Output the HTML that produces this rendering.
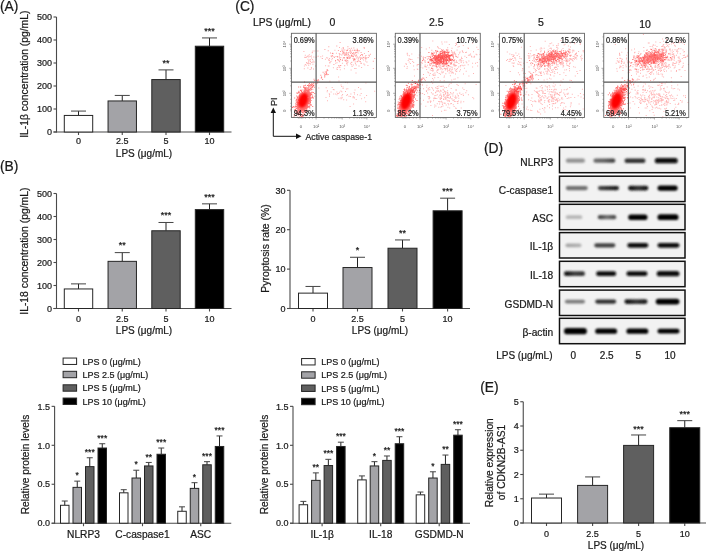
<!DOCTYPE html>
<html><head><meta charset="utf-8"><style>
html,body{margin:0;padding:0;background:#fff;}
svg{display:block;font-family:"Liberation Sans", sans-serif;filter:blur(0.3px);}
text{stroke:#1a1a1a;stroke-width:0.22px;}
</style></head><body>
<svg width="709" height="552" viewBox="0 0 709 552">
<rect width="709" height="552" fill="#fff"/>
<text x="0.00" y="10.90" font-size="13.8" text-anchor="start" fill="#1a1a1a" >(A)</text>
<line x1="56.50" y1="17.00" x2="56.50" y2="132.50" stroke="#4a4a4a" stroke-width="1.1"/>
<line x1="53.50" y1="132.00" x2="56.50" y2="132.00" stroke="#4a4a4a" stroke-width="1.1"/>
<text x="52.00" y="135.24" font-size="9" text-anchor="end" fill="#1a1a1a" >0</text>
<line x1="53.50" y1="109.00" x2="56.50" y2="109.00" stroke="#4a4a4a" stroke-width="1.1"/>
<text x="52.00" y="112.24" font-size="9" text-anchor="end" fill="#1a1a1a" >100</text>
<line x1="53.50" y1="86.00" x2="56.50" y2="86.00" stroke="#4a4a4a" stroke-width="1.1"/>
<text x="52.00" y="89.24" font-size="9" text-anchor="end" fill="#1a1a1a" >200</text>
<line x1="53.50" y1="63.00" x2="56.50" y2="63.00" stroke="#4a4a4a" stroke-width="1.1"/>
<text x="52.00" y="66.24" font-size="9" text-anchor="end" fill="#1a1a1a" >300</text>
<line x1="53.50" y1="40.00" x2="56.50" y2="40.00" stroke="#4a4a4a" stroke-width="1.1"/>
<text x="52.00" y="43.24" font-size="9" text-anchor="end" fill="#1a1a1a" >400</text>
<line x1="53.50" y1="17.00" x2="56.50" y2="17.00" stroke="#4a4a4a" stroke-width="1.1"/>
<text x="52.00" y="20.24" font-size="9" text-anchor="end" fill="#1a1a1a" >500</text>
<line x1="53.50" y1="132.00" x2="231.50" y2="132.00" stroke="#4a4a4a" stroke-width="1.1"/>
<line x1="78.50" y1="132.00" x2="78.50" y2="135.00" stroke="#4a4a4a" stroke-width="1.1"/>
<line x1="122.25" y1="132.00" x2="122.25" y2="135.00" stroke="#4a4a4a" stroke-width="1.1"/>
<line x1="166.00" y1="132.00" x2="166.00" y2="135.00" stroke="#4a4a4a" stroke-width="1.1"/>
<line x1="209.50" y1="132.00" x2="209.50" y2="135.00" stroke="#4a4a4a" stroke-width="1.1"/>
<line x1="78.50" y1="111.07" x2="78.50" y2="115.44" stroke="#222" stroke-width="1"/>
<line x1="71.00" y1="111.07" x2="86.00" y2="111.07" stroke="#444" stroke-width="1"/>
<rect x="64.30" y="115.44" width="28.40" height="16.56" fill="#ffffff" stroke="#262626" stroke-width="1" />
<line x1="122.25" y1="95.43" x2="122.25" y2="100.95" stroke="#222" stroke-width="1"/>
<line x1="114.75" y1="95.43" x2="129.75" y2="95.43" stroke="#444" stroke-width="1"/>
<rect x="108.05" y="100.95" width="28.40" height="31.05" fill="#a3a3a7" stroke="#262626" stroke-width="1" />
<line x1="166.00" y1="69.90" x2="166.00" y2="79.56" stroke="#222" stroke-width="1"/>
<line x1="158.50" y1="69.90" x2="173.50" y2="69.90" stroke="#444" stroke-width="1"/>
<rect x="151.80" y="79.56" width="28.40" height="52.44" fill="#5f5f5f" stroke="#262626" stroke-width="1" />
<text x="166.00" y="65.60" font-size="9" text-anchor="middle" fill="#1a1a1a" >**</text>
<line x1="209.50" y1="37.93" x2="209.50" y2="46.21" stroke="#222" stroke-width="1"/>
<line x1="202.00" y1="37.93" x2="217.00" y2="37.93" stroke="#444" stroke-width="1"/>
<rect x="195.30" y="46.21" width="28.40" height="85.79" fill="#000000" stroke="#262626" stroke-width="1" />
<text x="209.50" y="33.63" font-size="9" text-anchor="middle" fill="#1a1a1a" >***</text>
<text x="78.50" y="143.80" font-size="9" text-anchor="middle" fill="#1a1a1a" >0</text>
<text x="122.25" y="143.80" font-size="9" text-anchor="middle" fill="#1a1a1a" >2.5</text>
<text x="166.00" y="143.80" font-size="9" text-anchor="middle" fill="#1a1a1a" >5</text>
<text x="209.50" y="143.80" font-size="9" text-anchor="middle" fill="#1a1a1a" >10</text>
<text x="144.00" y="157.00" font-size="10" text-anchor="middle" fill="#1a1a1a" >LPS (μg/mL)</text>
<text x="0" y="0" font-size="10.35" text-anchor="middle" fill="#1a1a1a" transform="translate(27.70,74.20) rotate(-90)">IL-1β concentration (pg/mL)</text>
<text x="0.00" y="170.70" font-size="13.8" text-anchor="start" fill="#1a1a1a" >(B)</text>
<line x1="56.50" y1="193.50" x2="56.50" y2="309.00" stroke="#4a4a4a" stroke-width="1.1"/>
<line x1="53.50" y1="308.50" x2="56.50" y2="308.50" stroke="#4a4a4a" stroke-width="1.1"/>
<text x="52.00" y="311.74" font-size="9" text-anchor="end" fill="#1a1a1a" >0</text>
<line x1="53.50" y1="285.50" x2="56.50" y2="285.50" stroke="#4a4a4a" stroke-width="1.1"/>
<text x="52.00" y="288.74" font-size="9" text-anchor="end" fill="#1a1a1a" >100</text>
<line x1="53.50" y1="262.50" x2="56.50" y2="262.50" stroke="#4a4a4a" stroke-width="1.1"/>
<text x="52.00" y="265.74" font-size="9" text-anchor="end" fill="#1a1a1a" >200</text>
<line x1="53.50" y1="239.50" x2="56.50" y2="239.50" stroke="#4a4a4a" stroke-width="1.1"/>
<text x="52.00" y="242.74" font-size="9" text-anchor="end" fill="#1a1a1a" >300</text>
<line x1="53.50" y1="216.50" x2="56.50" y2="216.50" stroke="#4a4a4a" stroke-width="1.1"/>
<text x="52.00" y="219.74" font-size="9" text-anchor="end" fill="#1a1a1a" >400</text>
<line x1="53.50" y1="193.50" x2="56.50" y2="193.50" stroke="#4a4a4a" stroke-width="1.1"/>
<text x="52.00" y="196.74" font-size="9" text-anchor="end" fill="#1a1a1a" >500</text>
<line x1="53.50" y1="308.50" x2="231.50" y2="308.50" stroke="#4a4a4a" stroke-width="1.1"/>
<line x1="78.50" y1="308.50" x2="78.50" y2="311.50" stroke="#4a4a4a" stroke-width="1.1"/>
<line x1="122.25" y1="308.50" x2="122.25" y2="311.50" stroke="#4a4a4a" stroke-width="1.1"/>
<line x1="166.00" y1="308.50" x2="166.00" y2="311.50" stroke="#4a4a4a" stroke-width="1.1"/>
<line x1="209.50" y1="308.50" x2="209.50" y2="311.50" stroke="#4a4a4a" stroke-width="1.1"/>
<line x1="78.50" y1="283.89" x2="78.50" y2="288.95" stroke="#222" stroke-width="1"/>
<line x1="71.00" y1="283.89" x2="86.00" y2="283.89" stroke="#444" stroke-width="1"/>
<rect x="64.30" y="288.95" width="28.40" height="19.55" fill="#ffffff" stroke="#262626" stroke-width="1" />
<line x1="122.25" y1="252.61" x2="122.25" y2="261.35" stroke="#222" stroke-width="1"/>
<line x1="114.75" y1="252.61" x2="129.75" y2="252.61" stroke="#444" stroke-width="1"/>
<rect x="108.05" y="261.35" width="28.40" height="47.15" fill="#a3a3a7" stroke="#262626" stroke-width="1" />
<text x="122.25" y="248.31" font-size="9" text-anchor="middle" fill="#1a1a1a" >**</text>
<line x1="166.00" y1="222.48" x2="166.00" y2="230.76" stroke="#222" stroke-width="1"/>
<line x1="158.50" y1="222.48" x2="173.50" y2="222.48" stroke="#444" stroke-width="1"/>
<rect x="151.80" y="230.76" width="28.40" height="77.74" fill="#5f5f5f" stroke="#262626" stroke-width="1" />
<text x="166.00" y="218.18" font-size="9" text-anchor="middle" fill="#1a1a1a" >***</text>
<line x1="209.50" y1="203.85" x2="209.50" y2="209.60" stroke="#222" stroke-width="1"/>
<line x1="202.00" y1="203.85" x2="217.00" y2="203.85" stroke="#444" stroke-width="1"/>
<rect x="195.30" y="209.60" width="28.40" height="98.90" fill="#000000" stroke="#262626" stroke-width="1" />
<text x="209.50" y="199.55" font-size="9" text-anchor="middle" fill="#1a1a1a" >***</text>
<text x="78.50" y="321.80" font-size="9" text-anchor="middle" fill="#1a1a1a" >0</text>
<text x="122.25" y="321.80" font-size="9" text-anchor="middle" fill="#1a1a1a" >2.5</text>
<text x="166.00" y="321.80" font-size="9" text-anchor="middle" fill="#1a1a1a" >5</text>
<text x="209.50" y="321.80" font-size="9" text-anchor="middle" fill="#1a1a1a" >10</text>
<text x="144.00" y="333.50" font-size="10" text-anchor="middle" fill="#1a1a1a" >LPS (μg/mL)</text>
<text x="0" y="0" font-size="10.35" text-anchor="middle" fill="#1a1a1a" transform="translate(27.70,251.20) rotate(-90)">IL-18 concentration (pg/mL)</text>
<line x1="290.00" y1="190.30" x2="290.00" y2="309.00" stroke="#4a4a4a" stroke-width="1.1"/>
<line x1="287.00" y1="308.50" x2="290.00" y2="308.50" stroke="#4a4a4a" stroke-width="1.1"/>
<text x="285.50" y="311.74" font-size="9" text-anchor="end" fill="#1a1a1a" >0</text>
<line x1="287.00" y1="269.10" x2="290.00" y2="269.10" stroke="#4a4a4a" stroke-width="1.1"/>
<text x="285.50" y="272.34" font-size="9" text-anchor="end" fill="#1a1a1a" >10</text>
<line x1="287.00" y1="229.70" x2="290.00" y2="229.70" stroke="#4a4a4a" stroke-width="1.1"/>
<text x="285.50" y="232.94" font-size="9" text-anchor="end" fill="#1a1a1a" >20</text>
<line x1="287.00" y1="190.30" x2="290.00" y2="190.30" stroke="#4a4a4a" stroke-width="1.1"/>
<text x="285.50" y="193.54" font-size="9" text-anchor="end" fill="#1a1a1a" >30</text>
<line x1="287.00" y1="308.50" x2="470.00" y2="308.50" stroke="#4a4a4a" stroke-width="1.1"/>
<line x1="313.00" y1="308.50" x2="313.00" y2="311.50" stroke="#4a4a4a" stroke-width="1.1"/>
<line x1="357.50" y1="308.50" x2="357.50" y2="311.50" stroke="#4a4a4a" stroke-width="1.1"/>
<line x1="402.50" y1="308.50" x2="402.50" y2="311.50" stroke="#4a4a4a" stroke-width="1.1"/>
<line x1="447.60" y1="308.50" x2="447.60" y2="311.50" stroke="#4a4a4a" stroke-width="1.1"/>
<line x1="313.00" y1="286.44" x2="313.00" y2="293.13" stroke="#222" stroke-width="1"/>
<line x1="305.50" y1="286.44" x2="320.50" y2="286.44" stroke="#444" stroke-width="1"/>
<rect x="298.50" y="293.13" width="29.00" height="15.37" fill="#ffffff" stroke="#262626" stroke-width="1" />
<line x1="357.50" y1="257.28" x2="357.50" y2="267.52" stroke="#222" stroke-width="1"/>
<line x1="350.00" y1="257.28" x2="365.00" y2="257.28" stroke="#444" stroke-width="1"/>
<rect x="343.00" y="267.52" width="29.00" height="40.98" fill="#a3a3a7" stroke="#262626" stroke-width="1" />
<text x="357.50" y="252.98" font-size="9" text-anchor="middle" fill="#1a1a1a" >*</text>
<line x1="402.50" y1="239.94" x2="402.50" y2="248.22" stroke="#222" stroke-width="1"/>
<line x1="395.00" y1="239.94" x2="410.00" y2="239.94" stroke="#444" stroke-width="1"/>
<rect x="388.00" y="248.22" width="29.00" height="60.28" fill="#5f5f5f" stroke="#262626" stroke-width="1" />
<text x="402.50" y="235.64" font-size="9" text-anchor="middle" fill="#1a1a1a" >**</text>
<line x1="447.60" y1="198.18" x2="447.60" y2="210.79" stroke="#222" stroke-width="1"/>
<line x1="440.10" y1="198.18" x2="455.10" y2="198.18" stroke="#444" stroke-width="1"/>
<rect x="433.10" y="210.79" width="29.00" height="97.71" fill="#000000" stroke="#262626" stroke-width="1" />
<text x="447.60" y="193.88" font-size="9" text-anchor="middle" fill="#1a1a1a" >***</text>
<text x="313.00" y="321.80" font-size="9" text-anchor="middle" fill="#1a1a1a" >0</text>
<text x="357.50" y="321.80" font-size="9" text-anchor="middle" fill="#1a1a1a" >2.5</text>
<text x="402.50" y="321.80" font-size="9" text-anchor="middle" fill="#1a1a1a" >5</text>
<text x="447.60" y="321.80" font-size="9" text-anchor="middle" fill="#1a1a1a" >10</text>
<text x="380.00" y="333.50" font-size="10" text-anchor="middle" fill="#1a1a1a" >LPS (μg/mL)</text>
<text x="0" y="0" font-size="10.4" text-anchor="middle" fill="#1a1a1a" transform="translate(268.50,248.50) rotate(-90)">Pyroptosis rate (%)</text>
<rect x="63.10" y="358.05" width="13.50" height="6.40" fill="#ffffff" stroke="#262626" stroke-width="1" />
<text x="82.50" y="364.55" font-size="9" text-anchor="start" fill="#1a1a1a" >LPS 0 (μg/mL)</text>
<rect x="63.10" y="371.30" width="13.50" height="6.40" fill="#a3a3a7" stroke="#262626" stroke-width="1" />
<text x="82.50" y="377.80" font-size="9" text-anchor="start" fill="#1a1a1a" >LPS 2.5 (μg/mL)</text>
<rect x="63.10" y="384.80" width="13.50" height="6.40" fill="#5f5f5f" stroke="#262626" stroke-width="1" />
<text x="82.50" y="391.30" font-size="9" text-anchor="start" fill="#1a1a1a" >LPS 5 (μg/mL)</text>
<rect x="63.10" y="398.05" width="13.50" height="6.40" fill="#000000" stroke="#262626" stroke-width="1" />
<text x="82.50" y="404.55" font-size="9" text-anchor="start" fill="#1a1a1a" >LPS 10 (μg/mL)</text>
<rect x="301.60" y="358.55" width="13.50" height="6.40" fill="#ffffff" stroke="#262626" stroke-width="1" />
<text x="321.20" y="365.05" font-size="9" text-anchor="start" fill="#1a1a1a" >LPS 0 (μg/mL)</text>
<rect x="301.60" y="371.80" width="13.50" height="6.40" fill="#a3a3a7" stroke="#262626" stroke-width="1" />
<text x="321.20" y="378.30" font-size="9" text-anchor="start" fill="#1a1a1a" >LPS 2.5 (μg/mL)</text>
<rect x="301.60" y="385.05" width="13.50" height="6.40" fill="#5f5f5f" stroke="#262626" stroke-width="1" />
<text x="321.20" y="391.55" font-size="9" text-anchor="start" fill="#1a1a1a" >LPS 5 (μg/mL)</text>
<rect x="301.60" y="398.30" width="13.50" height="6.40" fill="#000000" stroke="#262626" stroke-width="1" />
<text x="321.20" y="404.80" font-size="9" text-anchor="start" fill="#1a1a1a" >LPS 10 (μg/mL)</text>
<line x1="54.60" y1="406.35" x2="54.60" y2="523.70" stroke="#4a4a4a" stroke-width="1.1"/>
<line x1="51.60" y1="523.20" x2="54.60" y2="523.20" stroke="#4a4a4a" stroke-width="1.1"/>
<text x="50.10" y="526.44" font-size="9" text-anchor="end" fill="#1a1a1a" >0.0</text>
<line x1="51.60" y1="484.25" x2="54.60" y2="484.25" stroke="#4a4a4a" stroke-width="1.1"/>
<text x="50.10" y="487.49" font-size="9" text-anchor="end" fill="#1a1a1a" >0.5</text>
<line x1="51.60" y1="445.30" x2="54.60" y2="445.30" stroke="#4a4a4a" stroke-width="1.1"/>
<text x="50.10" y="448.54" font-size="9" text-anchor="end" fill="#1a1a1a" >1.0</text>
<line x1="51.60" y1="406.35" x2="54.60" y2="406.35" stroke="#4a4a4a" stroke-width="1.1"/>
<text x="50.10" y="409.59" font-size="9" text-anchor="end" fill="#1a1a1a" >1.5</text>
<line x1="51.60" y1="523.20" x2="231.25" y2="523.20" stroke="#4a4a4a" stroke-width="1.1"/>
<line x1="83.50" y1="523.20" x2="83.50" y2="526.20" stroke="#4a4a4a" stroke-width="1.1"/>
<line x1="142.50" y1="523.20" x2="142.50" y2="526.20" stroke="#4a4a4a" stroke-width="1.1"/>
<line x1="200.75" y1="523.20" x2="200.75" y2="526.20" stroke="#4a4a4a" stroke-width="1.1"/>
<line x1="64.75" y1="501.00" x2="64.75" y2="505.28" stroke="#222" stroke-width="1"/>
<line x1="61.75" y1="501.00" x2="67.75" y2="501.00" stroke="#444" stroke-width="1"/>
<rect x="60.50" y="505.28" width="8.50" height="17.92" fill="#ffffff" stroke="#262626" stroke-width="1" />
<line x1="77.25" y1="481.13" x2="77.25" y2="487.37" stroke="#222" stroke-width="1"/>
<line x1="74.25" y1="481.13" x2="80.25" y2="481.13" stroke="#444" stroke-width="1"/>
<rect x="73.00" y="487.37" width="8.50" height="35.83" fill="#a3a3a7" stroke="#262626" stroke-width="1" />
<text x="77.25" y="478.23" font-size="8.5" text-anchor="middle" fill="#1a1a1a" >*</text>
<line x1="89.75" y1="457.76" x2="89.75" y2="466.64" stroke="#222" stroke-width="1"/>
<line x1="86.75" y1="457.76" x2="92.75" y2="457.76" stroke="#444" stroke-width="1"/>
<rect x="85.50" y="466.64" width="8.50" height="56.56" fill="#5f5f5f" stroke="#262626" stroke-width="1" />
<text x="89.75" y="454.86" font-size="8.5" text-anchor="middle" fill="#1a1a1a" >***</text>
<line x1="102.25" y1="443.74" x2="102.25" y2="448.03" stroke="#222" stroke-width="1"/>
<line x1="99.25" y1="443.74" x2="105.25" y2="443.74" stroke="#444" stroke-width="1"/>
<rect x="98.00" y="448.03" width="8.50" height="75.17" fill="#000000" stroke="#262626" stroke-width="1" />
<text x="102.25" y="440.84" font-size="8.5" text-anchor="middle" fill="#1a1a1a" >***</text>
<line x1="123.75" y1="489.70" x2="123.75" y2="492.82" stroke="#222" stroke-width="1"/>
<line x1="120.75" y1="489.70" x2="126.75" y2="489.70" stroke="#444" stroke-width="1"/>
<rect x="119.50" y="492.82" width="8.50" height="30.38" fill="#ffffff" stroke="#262626" stroke-width="1" />
<line x1="136.25" y1="470.23" x2="136.25" y2="478.02" stroke="#222" stroke-width="1"/>
<line x1="133.25" y1="470.23" x2="139.25" y2="470.23" stroke="#444" stroke-width="1"/>
<rect x="132.00" y="478.02" width="8.50" height="45.18" fill="#a3a3a7" stroke="#262626" stroke-width="1" />
<text x="136.25" y="467.33" font-size="8.5" text-anchor="middle" fill="#1a1a1a" >*</text>
<line x1="148.75" y1="462.44" x2="148.75" y2="465.94" stroke="#222" stroke-width="1"/>
<line x1="145.75" y1="462.44" x2="151.75" y2="462.44" stroke="#444" stroke-width="1"/>
<rect x="144.50" y="465.94" width="8.50" height="57.26" fill="#5f5f5f" stroke="#262626" stroke-width="1" />
<text x="148.75" y="459.54" font-size="8.5" text-anchor="middle" fill="#1a1a1a" >**</text>
<line x1="161.25" y1="448.03" x2="161.25" y2="454.26" stroke="#222" stroke-width="1"/>
<line x1="158.25" y1="448.03" x2="164.25" y2="448.03" stroke="#444" stroke-width="1"/>
<rect x="157.00" y="454.26" width="8.50" height="68.94" fill="#000000" stroke="#262626" stroke-width="1" />
<text x="161.25" y="445.13" font-size="8.5" text-anchor="middle" fill="#1a1a1a" >***</text>
<line x1="182.00" y1="506.84" x2="182.00" y2="511.28" stroke="#222" stroke-width="1"/>
<line x1="179.00" y1="506.84" x2="185.00" y2="506.84" stroke="#444" stroke-width="1"/>
<rect x="177.75" y="511.28" width="8.50" height="11.92" fill="#ffffff" stroke="#262626" stroke-width="1" />
<line x1="194.50" y1="482.69" x2="194.50" y2="488.38" stroke="#222" stroke-width="1"/>
<line x1="191.50" y1="482.69" x2="197.50" y2="482.69" stroke="#444" stroke-width="1"/>
<rect x="190.25" y="488.38" width="8.50" height="34.82" fill="#a3a3a7" stroke="#262626" stroke-width="1" />
<text x="194.50" y="479.79" font-size="8.5" text-anchor="middle" fill="#1a1a1a" >*</text>
<line x1="207.00" y1="461.66" x2="207.00" y2="464.78" stroke="#222" stroke-width="1"/>
<line x1="204.00" y1="461.66" x2="210.00" y2="461.66" stroke="#444" stroke-width="1"/>
<rect x="202.75" y="464.78" width="8.50" height="58.43" fill="#5f5f5f" stroke="#262626" stroke-width="1" />
<text x="207.00" y="458.76" font-size="8.5" text-anchor="middle" fill="#1a1a1a" >***</text>
<line x1="219.50" y1="435.95" x2="219.50" y2="446.47" stroke="#222" stroke-width="1"/>
<line x1="216.50" y1="435.95" x2="222.50" y2="435.95" stroke="#444" stroke-width="1"/>
<rect x="215.25" y="446.47" width="8.50" height="76.73" fill="#000000" stroke="#262626" stroke-width="1" />
<text x="219.50" y="433.05" font-size="8.5" text-anchor="middle" fill="#1a1a1a" >***</text>
<text x="83.50" y="538.20" font-size="10.2" text-anchor="middle" fill="#1a1a1a" >NLRP3</text>
<text x="142.50" y="538.20" font-size="10.2" text-anchor="middle" fill="#1a1a1a" >C-caspase1</text>
<text x="200.75" y="538.20" font-size="10.2" text-anchor="middle" fill="#1a1a1a" >ASC</text>
<text x="0" y="0" font-size="10.2" text-anchor="middle" fill="#1a1a1a" transform="translate(28.50,464.50) rotate(-90)">Relative protein levels</text>
<line x1="293.00" y1="406.35" x2="293.00" y2="523.70" stroke="#4a4a4a" stroke-width="1.1"/>
<line x1="290.00" y1="523.20" x2="293.00" y2="523.20" stroke="#4a4a4a" stroke-width="1.1"/>
<text x="288.50" y="526.44" font-size="9" text-anchor="end" fill="#1a1a1a" >0.0</text>
<line x1="290.00" y1="484.25" x2="293.00" y2="484.25" stroke="#4a4a4a" stroke-width="1.1"/>
<text x="288.50" y="487.49" font-size="9" text-anchor="end" fill="#1a1a1a" >0.5</text>
<line x1="290.00" y1="445.30" x2="293.00" y2="445.30" stroke="#4a4a4a" stroke-width="1.1"/>
<text x="288.50" y="448.54" font-size="9" text-anchor="end" fill="#1a1a1a" >1.0</text>
<line x1="290.00" y1="406.35" x2="293.00" y2="406.35" stroke="#4a4a4a" stroke-width="1.1"/>
<text x="288.50" y="409.59" font-size="9" text-anchor="end" fill="#1a1a1a" >1.5</text>
<line x1="290.00" y1="523.20" x2="470.00" y2="523.20" stroke="#4a4a4a" stroke-width="1.1"/>
<line x1="322.10" y1="523.20" x2="322.10" y2="526.20" stroke="#4a4a4a" stroke-width="1.1"/>
<line x1="380.70" y1="523.20" x2="380.70" y2="526.20" stroke="#4a4a4a" stroke-width="1.1"/>
<line x1="439.20" y1="523.20" x2="439.20" y2="526.20" stroke="#4a4a4a" stroke-width="1.1"/>
<line x1="303.35" y1="501.39" x2="303.35" y2="504.74" stroke="#222" stroke-width="1"/>
<line x1="300.35" y1="501.39" x2="306.35" y2="501.39" stroke="#444" stroke-width="1"/>
<rect x="299.10" y="504.74" width="8.50" height="18.46" fill="#ffffff" stroke="#262626" stroke-width="1" />
<line x1="315.85" y1="472.88" x2="315.85" y2="480.36" stroke="#222" stroke-width="1"/>
<line x1="312.85" y1="472.88" x2="318.85" y2="472.88" stroke="#444" stroke-width="1"/>
<rect x="311.60" y="480.36" width="8.50" height="42.85" fill="#a3a3a7" stroke="#262626" stroke-width="1" />
<text x="315.85" y="469.98" font-size="8.5" text-anchor="middle" fill="#1a1a1a" >**</text>
<line x1="328.35" y1="459.32" x2="328.35" y2="465.55" stroke="#222" stroke-width="1"/>
<line x1="325.35" y1="459.32" x2="331.35" y2="459.32" stroke="#444" stroke-width="1"/>
<rect x="324.10" y="465.55" width="8.50" height="57.65" fill="#5f5f5f" stroke="#262626" stroke-width="1" />
<text x="328.35" y="456.42" font-size="8.5" text-anchor="middle" fill="#1a1a1a" >***</text>
<line x1="340.85" y1="442.18" x2="340.85" y2="446.47" stroke="#222" stroke-width="1"/>
<line x1="337.85" y1="442.18" x2="343.85" y2="442.18" stroke="#444" stroke-width="1"/>
<rect x="336.60" y="446.47" width="8.50" height="76.73" fill="#000000" stroke="#262626" stroke-width="1" />
<text x="340.85" y="439.28" font-size="8.5" text-anchor="middle" fill="#1a1a1a" >***</text>
<line x1="361.95" y1="475.91" x2="361.95" y2="479.89" stroke="#222" stroke-width="1"/>
<line x1="358.95" y1="475.91" x2="364.95" y2="475.91" stroke="#444" stroke-width="1"/>
<rect x="357.70" y="479.89" width="8.50" height="43.31" fill="#ffffff" stroke="#262626" stroke-width="1" />
<line x1="374.45" y1="461.66" x2="374.45" y2="465.94" stroke="#222" stroke-width="1"/>
<line x1="371.45" y1="461.66" x2="377.45" y2="461.66" stroke="#444" stroke-width="1"/>
<rect x="370.20" y="465.94" width="8.50" height="57.26" fill="#a3a3a7" stroke="#262626" stroke-width="1" />
<text x="374.45" y="458.76" font-size="8.5" text-anchor="middle" fill="#1a1a1a" >*</text>
<line x1="386.95" y1="455.97" x2="386.95" y2="460.41" stroke="#222" stroke-width="1"/>
<line x1="383.95" y1="455.97" x2="389.95" y2="455.97" stroke="#444" stroke-width="1"/>
<rect x="382.70" y="460.41" width="8.50" height="62.79" fill="#5f5f5f" stroke="#262626" stroke-width="1" />
<text x="386.95" y="453.07" font-size="8.5" text-anchor="middle" fill="#1a1a1a" >**</text>
<line x1="399.45" y1="436.73" x2="399.45" y2="443.74" stroke="#222" stroke-width="1"/>
<line x1="396.45" y1="436.73" x2="402.45" y2="436.73" stroke="#444" stroke-width="1"/>
<rect x="395.20" y="443.74" width="8.50" height="79.46" fill="#000000" stroke="#262626" stroke-width="1" />
<text x="399.45" y="433.83" font-size="8.5" text-anchor="middle" fill="#1a1a1a" >***</text>
<line x1="420.45" y1="492.04" x2="420.45" y2="494.84" stroke="#222" stroke-width="1"/>
<line x1="417.45" y1="492.04" x2="423.45" y2="492.04" stroke="#444" stroke-width="1"/>
<rect x="416.20" y="494.84" width="8.50" height="28.36" fill="#ffffff" stroke="#262626" stroke-width="1" />
<line x1="432.95" y1="471.79" x2="432.95" y2="478.02" stroke="#222" stroke-width="1"/>
<line x1="429.95" y1="471.79" x2="435.95" y2="471.79" stroke="#444" stroke-width="1"/>
<rect x="428.70" y="478.02" width="8.50" height="45.18" fill="#a3a3a7" stroke="#262626" stroke-width="1" />
<text x="432.95" y="468.89" font-size="8.5" text-anchor="middle" fill="#1a1a1a" >*</text>
<line x1="445.45" y1="455.04" x2="445.45" y2="464.39" stroke="#222" stroke-width="1"/>
<line x1="442.45" y1="455.04" x2="448.45" y2="455.04" stroke="#444" stroke-width="1"/>
<rect x="441.20" y="464.39" width="8.50" height="58.81" fill="#5f5f5f" stroke="#262626" stroke-width="1" />
<text x="445.45" y="452.14" font-size="8.5" text-anchor="middle" fill="#1a1a1a" >**</text>
<line x1="457.95" y1="429.72" x2="457.95" y2="435.17" stroke="#222" stroke-width="1"/>
<line x1="454.95" y1="429.72" x2="460.95" y2="429.72" stroke="#444" stroke-width="1"/>
<rect x="453.70" y="435.17" width="8.50" height="88.03" fill="#000000" stroke="#262626" stroke-width="1" />
<text x="457.95" y="426.82" font-size="8.5" text-anchor="middle" fill="#1a1a1a" >***</text>
<text x="322.10" y="538.20" font-size="10.2" text-anchor="middle" fill="#1a1a1a" >IL-1β</text>
<text x="380.70" y="538.20" font-size="10.2" text-anchor="middle" fill="#1a1a1a" >IL-18</text>
<text x="439.20" y="538.20" font-size="10.2" text-anchor="middle" fill="#1a1a1a" >GSDMD-N</text>
<text x="0" y="0" font-size="10.2" text-anchor="middle" fill="#1a1a1a" transform="translate(267.50,464.50) rotate(-90)">Relative protein levels</text>
<text x="480.20" y="392.40" font-size="13.8" text-anchor="start" fill="#1a1a1a" >(E)</text>
<line x1="523.25" y1="401.75" x2="523.25" y2="523.50" stroke="#4a4a4a" stroke-width="1.1"/>
<line x1="520.25" y1="523.00" x2="523.25" y2="523.00" stroke="#4a4a4a" stroke-width="1.1"/>
<text x="518.75" y="526.24" font-size="9" text-anchor="end" fill="#1a1a1a" >0</text>
<line x1="520.25" y1="498.75" x2="523.25" y2="498.75" stroke="#4a4a4a" stroke-width="1.1"/>
<text x="518.75" y="501.99" font-size="9" text-anchor="end" fill="#1a1a1a" >1</text>
<line x1="520.25" y1="474.50" x2="523.25" y2="474.50" stroke="#4a4a4a" stroke-width="1.1"/>
<text x="518.75" y="477.74" font-size="9" text-anchor="end" fill="#1a1a1a" >2</text>
<line x1="520.25" y1="450.25" x2="523.25" y2="450.25" stroke="#4a4a4a" stroke-width="1.1"/>
<text x="518.75" y="453.49" font-size="9" text-anchor="end" fill="#1a1a1a" >3</text>
<line x1="520.25" y1="426.00" x2="523.25" y2="426.00" stroke="#4a4a4a" stroke-width="1.1"/>
<text x="518.75" y="429.24" font-size="9" text-anchor="end" fill="#1a1a1a" >4</text>
<line x1="520.25" y1="401.75" x2="523.25" y2="401.75" stroke="#4a4a4a" stroke-width="1.1"/>
<text x="518.75" y="404.99" font-size="9" text-anchor="end" fill="#1a1a1a" >5</text>
<line x1="520.25" y1="523.00" x2="706.00" y2="523.00" stroke="#4a4a4a" stroke-width="1.1"/>
<line x1="546.50" y1="523.00" x2="546.50" y2="526.00" stroke="#4a4a4a" stroke-width="1.1"/>
<line x1="592.60" y1="523.00" x2="592.60" y2="526.00" stroke="#4a4a4a" stroke-width="1.1"/>
<line x1="638.60" y1="523.00" x2="638.60" y2="526.00" stroke="#4a4a4a" stroke-width="1.1"/>
<line x1="684.75" y1="523.00" x2="684.75" y2="526.00" stroke="#4a4a4a" stroke-width="1.1"/>
<line x1="546.50" y1="494.14" x2="546.50" y2="498.02" stroke="#222" stroke-width="1"/>
<line x1="539.00" y1="494.14" x2="554.00" y2="494.14" stroke="#444" stroke-width="1"/>
<rect x="531.50" y="498.02" width="30.00" height="24.98" fill="#ffffff" stroke="#262626" stroke-width="1" />
<line x1="592.60" y1="476.93" x2="592.60" y2="485.41" stroke="#222" stroke-width="1"/>
<line x1="585.10" y1="476.93" x2="600.10" y2="476.93" stroke="#444" stroke-width="1"/>
<rect x="577.60" y="485.41" width="30.00" height="37.59" fill="#a3a3a7" stroke="#262626" stroke-width="1" />
<line x1="638.60" y1="434.97" x2="638.60" y2="445.40" stroke="#222" stroke-width="1"/>
<line x1="631.10" y1="434.97" x2="646.10" y2="434.97" stroke="#444" stroke-width="1"/>
<rect x="623.60" y="445.40" width="30.00" height="77.60" fill="#5f5f5f" stroke="#262626" stroke-width="1" />
<text x="638.60" y="431.57" font-size="9" text-anchor="middle" fill="#1a1a1a" >***</text>
<line x1="684.75" y1="420.67" x2="684.75" y2="427.70" stroke="#222" stroke-width="1"/>
<line x1="677.25" y1="420.67" x2="692.25" y2="420.67" stroke="#444" stroke-width="1"/>
<rect x="669.75" y="427.70" width="30.00" height="95.30" fill="#000000" stroke="#262626" stroke-width="1" />
<text x="684.75" y="417.27" font-size="9" text-anchor="middle" fill="#1a1a1a" >***</text>
<text x="546.50" y="536.80" font-size="9" text-anchor="middle" fill="#1a1a1a" >0</text>
<text x="592.60" y="536.80" font-size="9" text-anchor="middle" fill="#1a1a1a" >2.5</text>
<text x="638.60" y="536.80" font-size="9" text-anchor="middle" fill="#1a1a1a" >5</text>
<text x="684.75" y="536.80" font-size="9" text-anchor="middle" fill="#1a1a1a" >10</text>
<text x="616.00" y="548.50" font-size="10" text-anchor="middle" fill="#1a1a1a" >LPS (μg/mL)</text>
<text x="0" y="0" font-size="10.2" text-anchor="middle" fill="#1a1a1a" transform="translate(493.00,462.70) rotate(-90)">Relative expression</text>
<text x="0" y="0" font-size="10.2" text-anchor="middle" fill="#1a1a1a" transform="translate(504.50,462.50) rotate(-90)">of CDKN2B-AS1</text>
<text x="484.00" y="152.70" font-size="13.8" text-anchor="start" fill="#1a1a1a" >(D)</text>
<defs><filter id="bl" x="-30%" y="-150%" width="160%" height="400%"><feGaussianBlur stdDeviation="1.2 0.8"/></filter></defs>
<rect x="559.50" y="147.30" width="125.50" height="25.40" fill="#f2f2f2" stroke="#111" stroke-width="1.5" />
<text x="553.20" y="165.50" font-size="10.2" text-anchor="end" fill="#1a1a1a" >NLRP3</text>
<rect x="565.80" y="158.55" width="19.20" height="4.30" rx="2.15" fill="rgb(147,147,147)" filter="url(#bl)"/>
<defs><linearGradient id="g1"><stop offset="0.00" stop-color="rgb(107,107,107)"/><stop offset="0.50" stop-color="rgb(96,96,96)"/><stop offset="1.00" stop-color="rgb(56,56,56)"/></linearGradient></defs>
<rect x="593.40" y="158.55" width="21.90" height="4.30" rx="2.15" fill="url(#g1)" filter="url(#bl)"/>
<rect x="624.50" y="158.40" width="21.00" height="4.60" rx="2.30" fill="rgb(50,50,50)" filter="url(#bl)"/>
<rect x="654.80" y="158.05" width="22.90" height="5.30" rx="2.65" fill="rgb(7,7,7)" filter="url(#bl)"/>
<rect x="559.50" y="176.20" width="125.50" height="25.40" fill="#f2f2f2" stroke="#111" stroke-width="1.5" />
<text x="553.20" y="193.80" font-size="10.2" text-anchor="end" fill="#1a1a1a" >C-caspase1</text>
<rect x="565.80" y="185.95" width="22.00" height="4.30" rx="2.15" fill="rgb(112,112,112)" filter="url(#bl)"/>
<defs><linearGradient id="g2"><stop offset="0.00" stop-color="rgb(71,71,71)"/><stop offset="0.50" stop-color="rgb(45,45,45)"/><stop offset="1.00" stop-color="rgb(20,20,20)"/></linearGradient></defs>
<rect x="597.90" y="185.95" width="21.10" height="4.30" rx="2.15" fill="url(#g2)" filter="url(#bl)"/>
<defs><linearGradient id="g3"><stop offset="0.00" stop-color="rgb(7,7,7)"/><stop offset="0.50" stop-color="rgb(50,50,50)"/><stop offset="1.00" stop-color="rgb(12,12,12)"/></linearGradient></defs>
<rect x="628.20" y="185.70" width="20.10" height="4.80" rx="2.40" fill="url(#g3)" filter="url(#bl)"/>
<rect x="657.50" y="185.45" width="20.20" height="5.30" rx="2.65" fill="rgb(0,0,0)" filter="url(#bl)"/>
<rect x="559.50" y="204.30" width="125.50" height="25.40" fill="#f2f2f2" stroke="#111" stroke-width="1.5" />
<text x="553.20" y="221.90" font-size="10.2" text-anchor="end" fill="#1a1a1a" >ASC</text>
<rect x="565.80" y="215.30" width="16.50" height="3.80" rx="1.90" fill="rgb(183,183,183)" filter="url(#bl)"/>
<defs><linearGradient id="g4"><stop offset="0.00" stop-color="rgb(56,56,56)"/><stop offset="0.50" stop-color="rgb(114,114,114)"/><stop offset="1.00" stop-color="rgb(66,66,66)"/></linearGradient></defs>
<rect x="597.90" y="215.05" width="18.30" height="4.30" rx="2.15" fill="url(#g4)" filter="url(#bl)"/>
<rect x="628.20" y="214.40" width="19.30" height="5.60" rx="2.80" fill="rgb(0,0,0)" filter="url(#bl)"/>
<rect x="657.50" y="214.30" width="21.00" height="5.80" rx="2.90" fill="rgb(0,0,0)" filter="url(#bl)"/>
<rect x="559.50" y="232.60" width="125.50" height="25.40" fill="#f2f2f2" stroke="#111" stroke-width="1.5" />
<text x="553.20" y="250.20" font-size="10.2" text-anchor="end" fill="#1a1a1a" >IL-1β</text>
<defs><linearGradient id="g5"><stop offset="0.00" stop-color="rgb(163,163,163)"/><stop offset="1.00" stop-color="rgb(178,178,178)"/></linearGradient></defs>
<rect x="565.50" y="243.40" width="16.00" height="3.80" rx="1.90" fill="url(#g5)" filter="url(#bl)"/>
<rect x="594.30" y="243.15" width="21.00" height="4.30" rx="2.15" fill="rgb(66,66,66)" filter="url(#bl)"/>
<rect x="627.30" y="242.90" width="21.00" height="4.80" rx="2.40" fill="rgb(17,17,17)" filter="url(#bl)"/>
<rect x="657.50" y="242.90" width="22.00" height="4.80" rx="2.40" fill="rgb(17,17,17)" filter="url(#bl)"/>
<rect x="559.50" y="261.30" width="125.50" height="25.40" fill="#f2f2f2" stroke="#111" stroke-width="1.5" />
<text x="553.20" y="278.90" font-size="10.2" text-anchor="end" fill="#1a1a1a" >IL-18</text>
<defs><linearGradient id="g6"><stop offset="0.00" stop-color="rgb(7,7,7)"/><stop offset="0.50" stop-color="rgb(63,63,63)"/><stop offset="1.00" stop-color="rgb(50,50,50)"/></linearGradient></defs>
<rect x="564.00" y="271.30" width="21.00" height="4.80" rx="2.40" fill="url(#g6)" filter="url(#bl)"/>
<rect x="596.10" y="271.30" width="20.10" height="4.80" rx="2.40" fill="rgb(17,17,17)" filter="url(#bl)"/>
<rect x="626.40" y="271.30" width="21.10" height="4.80" rx="2.40" fill="rgb(17,17,17)" filter="url(#bl)"/>
<rect x="656.70" y="271.05" width="22.80" height="5.30" rx="2.65" fill="rgb(17,17,17)" filter="url(#bl)"/>
<rect x="559.50" y="290.10" width="125.50" height="25.40" fill="#f2f2f2" stroke="#111" stroke-width="1.5" />
<text x="553.20" y="307.70" font-size="10.2" text-anchor="end" fill="#1a1a1a" >GSDMD-N</text>
<rect x="564.90" y="299.70" width="20.10" height="3.80" rx="1.90" fill="rgb(122,122,122)" filter="url(#bl)"/>
<rect x="595.20" y="299.45" width="21.00" height="4.30" rx="2.15" fill="rgb(50,50,50)" filter="url(#bl)"/>
<defs><linearGradient id="g7"><stop offset="0.00" stop-color="rgb(12,12,12)"/><stop offset="0.50" stop-color="rgb(56,56,56)"/><stop offset="1.00" stop-color="rgb(25,25,25)"/></linearGradient></defs>
<rect x="624.50" y="299.20" width="23.00" height="4.80" rx="2.40" fill="url(#g7)" filter="url(#bl)"/>
<rect x="655.70" y="298.70" width="23.80" height="5.80" rx="2.90" fill="rgb(0,0,0)" filter="url(#bl)"/>
<rect x="559.50" y="318.30" width="125.50" height="25.40" fill="#f2f2f2" stroke="#111" stroke-width="1.5" />
<text x="553.20" y="335.90" font-size="10.2" text-anchor="end" fill="#1a1a1a" >β-actin</text>
<rect x="564.00" y="328.10" width="22.90" height="6.20" rx="3.10" fill="rgb(0,0,0)" filter="url(#bl)"/>
<rect x="595.20" y="328.55" width="21.90" height="5.30" rx="2.65" fill="rgb(0,0,0)" filter="url(#bl)"/>
<rect x="626.40" y="328.55" width="21.90" height="5.30" rx="2.65" fill="rgb(0,0,0)" filter="url(#bl)"/>
<rect x="657.50" y="328.80" width="22.00" height="4.80" rx="2.40" fill="rgb(0,0,0)" filter="url(#bl)"/>
<text x="552.50" y="358.50" font-size="10" text-anchor="end" fill="#1a1a1a" >LPS (μg/mL)</text>
<text x="573.40" y="358.50" font-size="10" text-anchor="middle" fill="#1a1a1a" >0</text>
<text x="606.70" y="358.50" font-size="10" text-anchor="middle" fill="#1a1a1a" >2.5</text>
<text x="638.30" y="358.50" font-size="10" text-anchor="middle" fill="#1a1a1a" >5</text>
<text x="670.00" y="358.50" font-size="10" text-anchor="middle" fill="#1a1a1a" >10</text>
<text x="235.30" y="10.60" font-size="13.8" text-anchor="start" fill="#1a1a1a" >(C)</text>
<text x="253.00" y="25.50" font-size="10.3" text-anchor="start" fill="#1a1a1a" >LPS (μg/mL)</text>
<text x="332.40" y="25.50" font-size="10.5" text-anchor="middle" fill="#1a1a1a" >0</text>
<text x="436.20" y="25.50" font-size="10.5" text-anchor="middle" fill="#1a1a1a" >2.5</text>
<text x="541.00" y="25.50" font-size="10.5" text-anchor="middle" fill="#1a1a1a" >5</text>
<text x="645.00" y="28.30" font-size="10.5" text-anchor="middle" fill="#1a1a1a" >10</text>
<defs><filter id="fb" x="-50%" y="-50%" width="200%" height="200%"><feGaussianBlur stdDeviation="1.3"/></filter><filter id="fs" x="0" y="0" width="100%" height="100%"><feGaussianBlur stdDeviation="0.35"/></filter></defs>
<rect x="291.40" y="33.30" width="85.00" height="84.20" fill="#ffffff" />
<g filter="url(#fs)">
<ellipse cx="303.20" cy="100.30" rx="4.59" ry="7.56" fill="#ff0000" filter="url(#fb)" transform="rotate(18 303.20 100.30)"/>
<path d="M306.8 101.9h1v1h-1zM299.3 106.5h1v1h-1zM302.4 98.1h1v1h-1zM301.9 103.4h1v1h-1zM296.7 102.5h1v1h-1zM299.7 108.8h1v1h-1zM301.4 103.9h1v1h-1zM305.2 98.7h1v1h-1zM301.0 104.6h1v1h-1zM305.4 100.2h1v1h-1zM300.9 94.0h1v1h-1zM300.6 101.8h1v1h-1zM304.9 88.9h1v1h-1zM300.9 96.5h1v1h-1zM306.4 92.1h1v1h-1zM300.7 105.0h1v1h-1zM305.8 96.6h1v1h-1zM300.9 103.9h1v1h-1zM304.9 104.4h1v1h-1zM301.4 98.3h1v1h-1zM303.2 102.5h1v1h-1zM297.5 105.1h1v1h-1zM302.3 95.8h1v1h-1zM307.1 90.9h1v1h-1zM300.1 102.5h1v1h-1zM302.6 108.8h1v1h-1zM303.0 104.2h1v1h-1zM297.6 104.2h1v1h-1zM303.6 104.3h1v1h-1zM307.8 90.9h1v1h-1zM305.8 99.7h1v1h-1zM304.1 97.9h1v1h-1zM300.1 101.3h1v1h-1zM301.7 103.5h1v1h-1zM300.8 102.5h1v1h-1zM302.6 106.9h1v1h-1zM305.3 100.0h1v1h-1zM305.5 109.0h1v1h-1zM308.8 92.5h1v1h-1zM302.0 102.8h1v1h-1zM308.7 96.0h1v1h-1zM307.3 93.9h1v1h-1zM296.2 105.9h1v1h-1zM300.3 97.3h1v1h-1zM306.8 103.2h1v1h-1zM294.2 109.7h1v1h-1zM306.3 97.8h1v1h-1zM301.1 109.4h1v1h-1zM305.5 96.5h1v1h-1zM302.7 100.0h1v1h-1zM305.8 96.6h1v1h-1zM302.3 101.9h1v1h-1zM300.2 97.8h1v1h-1zM307.5 98.8h1v1h-1zM299.7 97.8h1v1h-1zM301.9 108.2h1v1h-1zM299.0 112.0h1v1h-1zM300.2 96.3h1v1h-1zM307.4 110.2h1v1h-1zM303.1 95.1h1v1h-1zM299.7 102.7h1v1h-1zM302.8 98.5h1v1h-1zM305.8 102.5h1v1h-1zM305.6 101.3h1v1h-1zM305.0 98.3h1v1h-1zM303.7 87.1h1v1h-1zM300.0 104.1h1v1h-1zM303.5 104.0h1v1h-1zM302.7 108.4h1v1h-1zM300.8 105.8h1v1h-1zM302.7 95.7h1v1h-1zM301.1 96.5h1v1h-1zM304.1 97.2h1v1h-1zM301.8 101.3h1v1h-1zM307.0 89.6h1v1h-1zM305.7 102.6h1v1h-1zM300.3 102.8h1v1h-1zM310.1 98.3h1v1h-1zM306.6 106.3h1v1h-1zM296.6 111.2h1v1h-1zM303.7 102.9h1v1h-1zM303.5 103.9h1v1h-1zM303.3 101.6h1v1h-1zM305.8 91.9h1v1h-1zM305.1 96.3h1v1h-1zM305.8 98.3h1v1h-1zM302.4 105.1h1v1h-1zM302.8 102.1h1v1h-1zM303.7 97.7h1v1h-1zM305.3 98.0h1v1h-1zM304.7 101.0h1v1h-1zM308.3 93.9h1v1h-1zM302.8 95.4h1v1h-1zM302.1 98.6h1v1h-1zM301.0 101.3h1v1h-1zM303.1 93.6h1v1h-1zM300.6 107.6h1v1h-1zM305.6 93.9h1v1h-1zM311.2 93.5h1v1h-1zM307.6 92.4h1v1h-1zM298.2 101.8h1v1h-1zM305.3 103.0h1v1h-1zM302.9 103.1h1v1h-1zM301.7 105.7h1v1h-1zM302.2 102.0h1v1h-1zM299.4 102.8h1v1h-1zM300.2 104.2h1v1h-1zM306.4 94.7h1v1h-1zM302.3 110.6h1v1h-1zM306.2 98.2h1v1h-1zM303.8 97.7h1v1h-1zM296.7 98.5h1v1h-1zM300.0 100.3h1v1h-1zM300.6 95.0h1v1h-1zM303.8 91.0h1v1h-1zM306.0 106.5h1v1h-1zM306.2 101.3h1v1h-1zM298.6 96.9h1v1h-1zM304.1 101.6h1v1h-1zM304.9 98.2h1v1h-1zM299.7 102.6h1v1h-1zM305.6 91.9h1v1h-1zM302.7 98.8h1v1h-1zM305.9 107.5h1v1h-1zM305.9 98.7h1v1h-1zM303.2 106.2h1v1h-1zM300.0 105.7h1v1h-1zM307.2 106.4h1v1h-1zM299.9 104.1h1v1h-1zM305.4 104.9h1v1h-1zM300.9 101.8h1v1h-1zM296.6 107.5h1v1h-1zM302.1 103.1h1v1h-1zM309.0 95.0h1v1h-1zM299.3 101.0h1v1h-1zM300.8 103.2h1v1h-1zM305.2 89.1h1v1h-1zM304.4 102.4h1v1h-1zM303.0 101.3h1v1h-1zM301.7 102.7h1v1h-1zM301.2 106.9h1v1h-1zM304.1 102.5h1v1h-1zM303.4 93.8h1v1h-1zM301.0 109.1h1v1h-1zM304.7 99.1h1v1h-1zM304.9 97.9h1v1h-1zM305.3 96.9h1v1h-1zM310.0 93.0h1v1h-1zM300.0 95.9h1v1h-1zM302.7 98.7h1v1h-1zM299.8 100.0h1v1h-1zM312.2 106.1h1v1h-1zM306.7 93.6h1v1h-1zM304.4 98.8h1v1h-1zM303.8 89.2h1v1h-1zM302.2 102.8h1v1h-1zM297.9 108.6h1v1h-1zM310.7 104.2h1v1h-1zM302.3 95.2h1v1h-1zM303.2 100.1h1v1h-1zM301.8 105.1h1v1h-1zM305.3 96.3h1v1h-1zM301.2 116.1h1v1h-1zM308.5 84.8h1v1h-1zM306.7 96.1h1v1h-1zM308.8 101.3h1v1h-1zM303.7 106.3h1v1h-1zM302.7 101.3h1v1h-1zM306.0 103.5h1v1h-1zM301.2 102.9h1v1h-1zM301.1 107.5h1v1h-1zM301.2 99.1h1v1h-1zM302.6 96.5h1v1h-1zM311.7 85.9h1v1h-1zM301.5 103.2h1v1h-1zM302.2 106.5h1v1h-1zM295.7 99.8h1v1h-1zM305.1 99.6h1v1h-1zM304.9 111.0h1v1h-1zM297.1 107.0h1v1h-1zM309.3 88.8h1v1h-1zM305.8 101.4h1v1h-1zM304.1 99.8h1v1h-1zM307.5 92.5h1v1h-1zM305.1 98.2h1v1h-1zM301.9 102.7h1v1h-1zM302.5 102.0h1v1h-1zM303.0 105.0h1v1h-1zM302.7 96.7h1v1h-1zM299.3 109.8h1v1h-1zM302.2 106.2h1v1h-1zM302.3 96.4h1v1h-1zM303.6 101.2h1v1h-1zM298.5 102.4h1v1h-1zM304.2 96.9h1v1h-1zM293.5 106.7h1v1h-1zM300.8 102.2h1v1h-1zM301.0 102.2h1v1h-1zM306.7 103.9h1v1h-1zM303.6 102.7h1v1h-1zM300.4 101.6h1v1h-1zM301.5 103.1h1v1h-1zM304.8 95.8h1v1h-1zM305.7 99.8h1v1h-1zM301.9 99.5h1v1h-1zM302.9 109.3h1v1h-1zM302.2 107.9h1v1h-1zM302.3 99.3h1v1h-1zM306.3 99.7h1v1h-1zM299.0 99.4h1v1h-1zM299.4 98.7h1v1h-1zM299.6 100.0h1v1h-1zM306.1 93.5h1v1h-1zM298.9 98.2h1v1h-1zM307.5 106.6h1v1h-1zM311.2 94.0h1v1h-1zM303.3 96.0h1v1h-1zM299.6 97.9h1v1h-1zM301.9 108.0h1v1h-1zM304.0 95.9h1v1h-1zM305.4 91.6h1v1h-1zM296.6 103.7h1v1h-1zM304.5 98.0h1v1h-1zM304.7 107.4h1v1h-1zM302.1 97.0h1v1h-1zM301.3 102.4h1v1h-1zM306.8 99.7h1v1h-1zM300.5 109.9h1v1h-1zM305.1 99.8h1v1h-1zM307.0 89.9h1v1h-1zM311.9 96.9h1v1h-1zM302.1 104.4h1v1h-1zM296.8 96.7h1v1h-1zM306.2 105.9h1v1h-1zM306.5 97.0h1v1h-1zM297.5 102.7h1v1h-1zM305.0 106.8h1v1h-1zM302.6 101.5h1v1h-1zM297.4 103.1h1v1h-1zM305.9 101.9h1v1h-1zM308.4 94.5h1v1h-1zM298.4 95.9h1v1h-1zM300.8 98.7h1v1h-1zM299.4 100.9h1v1h-1zM299.0 105.3h1v1h-1zM300.9 101.7h1v1h-1zM307.1 99.7h1v1h-1zM301.7 101.1h1v1h-1zM308.9 94.6h1v1h-1zM300.8 104.0h1v1h-1zM299.9 100.6h1v1h-1zM303.0 93.9h1v1h-1zM303.3 102.5h1v1h-1zM306.7 96.9h1v1h-1zM302.1 104.8h1v1h-1zM300.3 105.7h1v1h-1zM304.7 100.2h1v1h-1zM305.4 100.9h1v1h-1zM309.6 94.8h1v1h-1zM304.4 95.8h1v1h-1zM307.7 93.3h1v1h-1zM303.5 108.4h1v1h-1zM297.3 103.3h1v1h-1zM303.6 95.5h1v1h-1zM308.2 96.3h1v1h-1zM302.8 101.3h1v1h-1zM299.6 102.0h1v1h-1zM302.7 94.4h1v1h-1zM303.1 103.4h1v1h-1zM304.9 104.6h1v1h-1zM304.5 92.3h1v1h-1zM299.2 99.8h1v1h-1zM307.0 98.4h1v1h-1zM303.9 107.5h1v1h-1zM302.5 100.3h1v1h-1zM300.0 105.9h1v1h-1zM306.1 103.5h1v1h-1zM302.3 97.7h1v1h-1zM304.8 100.9h1v1h-1zM302.6 103.1h1v1h-1zM297.7 101.7h1v1h-1zM305.4 95.7h1v1h-1zM301.5 93.8h1v1h-1zM303.2 92.7h1v1h-1zM300.8 98.3h1v1h-1zM307.3 103.3h1v1h-1zM307.0 100.8h1v1h-1zM299.6 100.8h1v1h-1zM301.1 97.9h1v1h-1zM298.5 103.4h1v1h-1zM302.1 108.2h1v1h-1zM309.5 90.0h1v1h-1zM297.9 108.1h1v1h-1zM296.3 103.9h1v1h-1zM298.2 100.0h1v1h-1zM297.4 101.2h1v1h-1zM309.7 86.2h1v1h-1zM296.9 112.3h1v1h-1zM301.8 105.0h1v1h-1zM305.5 99.1h1v1h-1zM296.5 108.1h1v1h-1zM303.0 103.8h1v1h-1zM310.5 94.1h1v1h-1zM296.6 110.1h1v1h-1zM299.8 109.9h1v1h-1zM307.6 100.9h1v1h-1zM303.6 101.9h1v1h-1zM303.6 110.0h1v1h-1zM297.6 103.8h1v1h-1zM309.5 92.8h1v1h-1zM305.5 95.3h1v1h-1zM304.9 94.2h1v1h-1zM310.2 94.9h1v1h-1zM305.0 94.6h1v1h-1zM306.9 100.5h1v1h-1zM306.0 92.4h1v1h-1zM305.1 99.7h1v1h-1zM301.0 102.4h1v1h-1zM301.7 101.2h1v1h-1zM302.0 102.8h1v1h-1zM304.5 96.7h1v1h-1zM308.6 104.6h1v1h-1zM305.0 97.9h1v1h-1zM294.6 106.3h1v1h-1zM303.6 89.5h1v1h-1zM310.0 102.1h1v1h-1zM305.7 103.7h1v1h-1zM297.0 96.6h1v1h-1zM310.7 88.6h1v1h-1zM299.3 100.0h1v1h-1zM296.7 104.9h1v1h-1zM304.8 108.0h1v1h-1zM301.8 95.0h1v1h-1zM298.5 103.8h1v1h-1zM298.2 103.8h1v1h-1zM301.8 104.8h1v1h-1zM301.7 97.0h1v1h-1zM297.6 99.7h1v1h-1zM302.7 98.4h1v1h-1zM298.4 102.8h1v1h-1zM298.8 109.4h1v1h-1zM309.3 95.4h1v1h-1zM299.3 109.3h1v1h-1zM305.1 95.4h1v1h-1zM303.8 96.2h1v1h-1zM301.1 109.3h1v1h-1zM303.8 101.5h1v1h-1zM305.6 100.8h1v1h-1zM300.4 104.8h1v1h-1zM309.5 103.3h1v1h-1zM301.8 102.4h1v1h-1zM299.0 111.6h1v1h-1zM307.3 94.9h1v1h-1zM303.7 94.8h1v1h-1zM302.2 102.0h1v1h-1zM303.3 95.5h1v1h-1zM307.6 98.2h1v1h-1zM303.1 95.8h1v1h-1zM297.5 111.0h1v1h-1zM303.7 109.8h1v1h-1zM299.7 98.0h1v1h-1zM304.1 103.5h1v1h-1zM301.4 105.7h1v1h-1zM304.5 108.3h1v1h-1zM309.2 95.9h1v1h-1zM301.3 100.7h1v1h-1zM308.9 100.4h1v1h-1zM296.3 103.9h1v1h-1zM302.6 100.6h1v1h-1zM302.2 98.8h1v1h-1zM308.5 93.1h1v1h-1zM304.1 94.8h1v1h-1zM302.5 96.2h1v1h-1zM302.7 104.8h1v1h-1zM302.0 95.6h1v1h-1zM306.8 98.7h1v1h-1zM303.6 101.2h1v1h-1zM303.2 98.2h1v1h-1zM297.8 99.6h1v1h-1zM297.8 108.4h1v1h-1zM308.0 98.5h1v1h-1zM302.9 101.6h1v1h-1zM300.2 95.5h1v1h-1zM306.1 102.5h1v1h-1zM308.7 96.7h1v1h-1zM303.5 93.4h1v1h-1zM302.2 103.1h1v1h-1zM299.8 103.4h1v1h-1zM300.3 92.7h1v1h-1zM302.8 92.6h1v1h-1zM307.0 92.8h1v1h-1zM299.2 94.6h1v1h-1zM295.8 113.1h1v1h-1zM309.1 94.6h1v1h-1zM297.7 105.6h1v1h-1zM303.5 91.2h1v1h-1zM300.0 106.2h1v1h-1zM304.8 95.8h1v1h-1zM297.0 105.5h1v1h-1zM300.2 96.8h1v1h-1zM303.7 114.1h1v1h-1zM300.9 105.4h1v1h-1zM296.1 101.8h1v1h-1zM299.0 100.5h1v1h-1zM304.0 92.3h1v1h-1zM305.5 99.0h1v1h-1zM302.5 104.4h1v1h-1zM307.0 95.8h1v1h-1zM306.6 100.8h1v1h-1zM297.6 92.5h1v1h-1zM310.0 99.8h1v1h-1zM301.7 102.7h1v1h-1zM302.8 105.7h1v1h-1zM300.9 102.3h1v1h-1zM303.6 100.9h1v1h-1zM301.5 95.6h1v1h-1zM305.5 102.0h1v1h-1zM303.2 104.4h1v1h-1zM309.2 105.7h1v1h-1zM305.5 102.8h1v1h-1zM299.3 111.1h1v1h-1zM305.5 102.8h1v1h-1zM300.6 109.9h1v1h-1zM302.7 102.4h1v1h-1zM308.7 94.8h1v1h-1zM299.1 97.2h1v1h-1zM298.8 97.8h1v1h-1zM305.3 94.8h1v1h-1zM308.0 96.3h1v1h-1zM306.9 92.5h1v1h-1zM306.0 104.9h1v1h-1zM301.9 105.7h1v1h-1zM302.9 100.7h1v1h-1zM299.1 106.0h1v1h-1zM301.9 103.1h1v1h-1zM302.0 101.4h1v1h-1zM297.0 111.5h1v1h-1zM303.4 102.0h1v1h-1zM303.2 104.2h1v1h-1zM305.0 103.7h1v1h-1zM306.3 92.1h1v1h-1zM306.4 93.8h1v1h-1zM303.0 92.9h1v1h-1zM307.1 101.5h1v1h-1zM302.8 103.9h1v1h-1zM297.8 107.2h1v1h-1zM306.4 88.4h1v1h-1zM307.1 100.1h1v1h-1zM295.2 110.8h1v1h-1zM302.4 115.6h1v1h-1zM302.5 105.4h1v1h-1zM298.4 113.8h1v1h-1zM304.6 97.9h1v1h-1zM307.3 93.3h1v1h-1zM304.3 100.1h1v1h-1zM299.6 101.3h1v1h-1zM297.8 106.6h1v1h-1zM297.1 103.7h1v1h-1zM300.2 101.6h1v1h-1zM301.4 100.0h1v1h-1zM304.7 87.2h1v1h-1zM304.8 101.4h1v1h-1zM300.5 90.2h1v1h-1zM304.4 95.4h1v1h-1zM302.3 96.1h1v1h-1zM304.1 106.1h1v1h-1zM299.1 103.5h1v1h-1zM302.5 100.6h1v1h-1zM308.5 93.4h1v1h-1zM301.7 100.4h1v1h-1zM302.4 109.0h1v1h-1zM304.7 106.3h1v1h-1zM298.3 103.1h1v1h-1zM306.7 99.3h1v1h-1zM304.9 96.2h1v1h-1zM306.3 104.0h1v1h-1zM303.0 108.5h1v1h-1zM306.1 100.3h1v1h-1zM301.7 103.1h1v1h-1zM301.8 108.4h1v1h-1zM308.2 97.5h1v1h-1zM305.3 99.6h1v1h-1zM306.3 92.0h1v1h-1zM302.5 94.2h1v1h-1zM312.9 92.0h1v1h-1zM304.2 99.8h1v1h-1zM300.6 106.3h1v1h-1zM298.5 101.8h1v1h-1zM301.7 101.0h1v1h-1zM302.7 103.3h1v1h-1zM301.0 90.9h1v1h-1zM307.3 95.5h1v1h-1zM303.4 103.1h1v1h-1zM300.1 86.5h1v1h-1zM303.6 96.6h1v1h-1zM305.4 97.4h1v1h-1zM300.3 98.2h1v1h-1zM305.4 95.6h1v1h-1zM302.9 100.7h1v1h-1zM297.8 112.6h1v1h-1zM300.3 100.0h1v1h-1zM305.4 98.9h1v1h-1zM301.6 103.3h1v1h-1zM302.5 102.5h1v1h-1zM298.2 86.6h1v1h-1zM300.7 113.9h1v1h-1zM298.6 98.2h1v1h-1zM309.5 94.6h1v1h-1zM308.0 84.6h1v1h-1zM301.8 105.2h1v1h-1zM301.3 104.3h1v1h-1zM295.5 112.4h1v1h-1zM306.7 93.1h1v1h-1zM300.1 108.1h1v1h-1zM299.6 105.5h1v1h-1zM309.4 95.2h1v1h-1zM304.1 110.5h1v1h-1zM301.0 96.7h1v1h-1zM305.0 93.6h1v1h-1zM303.4 104.0h1v1h-1zM306.7 92.6h1v1h-1zM303.4 100.5h1v1h-1zM302.7 100.0h1v1h-1zM302.3 103.7h1v1h-1zM300.9 100.8h1v1h-1zM302.1 102.4h1v1h-1zM308.9 89.1h1v1h-1zM306.3 99.8h1v1h-1zM303.3 99.3h1v1h-1zM302.7 101.5h1v1h-1zM299.3 96.0h1v1h-1zM295.1 108.9h1v1h-1zM305.7 99.1h1v1h-1zM304.0 103.0h1v1h-1zM305.0 105.8h1v1h-1zM310.5 104.9h1v1h-1zM305.9 94.9h1v1h-1zM302.5 97.8h1v1h-1zM306.6 103.4h1v1h-1zM302.7 95.7h1v1h-1zM303.2 104.8h1v1h-1zM302.0 112.1h1v1h-1zM301.8 101.2h1v1h-1zM302.3 101.3h1v1h-1zM306.0 92.8h1v1h-1zM302.9 99.1h1v1h-1zM308.7 99.6h1v1h-1zM304.3 105.1h1v1h-1zM301.7 95.9h1v1h-1zM304.4 99.0h1v1h-1zM303.4 98.2h1v1h-1zM302.0 105.9h1v1h-1zM304.1 94.4h1v1h-1zM305.0 96.9h1v1h-1zM305.1 93.7h1v1h-1zM301.9 104.1h1v1h-1zM303.4 94.6h1v1h-1zM304.3 101.5h1v1h-1zM301.1 104.8h1v1h-1zM309.8 94.5h1v1h-1zM303.7 102.4h1v1h-1zM299.8 100.9h1v1h-1zM304.6 98.8h1v1h-1zM301.2 106.0h1v1h-1zM308.9 82.9h1v1h-1zM306.0 103.5h1v1h-1zM308.5 106.7h1v1h-1zM303.9 109.5h1v1h-1zM297.5 104.1h1v1h-1zM303.1 105.6h1v1h-1zM305.9 98.0h1v1h-1zM301.1 102.1h1v1h-1zM302.7 99.4h1v1h-1zM301.6 101.1h1v1h-1zM296.9 101.4h1v1h-1zM299.2 97.0h1v1h-1zM305.6 98.2h1v1h-1zM302.9 100.3h1v1h-1zM307.3 102.3h1v1h-1zM307.9 95.1h1v1h-1zM305.0 91.5h1v1h-1zM300.6 100.3h1v1h-1zM304.8 102.2h1v1h-1zM305.4 93.6h1v1h-1zM298.7 96.3h1v1h-1zM301.4 98.5h1v1h-1zM298.1 106.8h1v1h-1zM298.3 109.1h1v1h-1zM300.7 111.5h1v1h-1zM304.5 103.6h1v1h-1zM305.2 106.7h1v1h-1zM298.7 109.5h1v1h-1zM298.5 90.7h1v1h-1zM306.1 98.9h1v1h-1zM302.7 102.5h1v1h-1zM302.2 97.7h1v1h-1zM304.8 99.1h1v1h-1zM308.8 91.3h1v1h-1zM305.8 92.1h1v1h-1zM303.5 96.4h1v1h-1zM302.2 93.4h1v1h-1zM300.7 97.9h1v1h-1zM297.0 113.4h1v1h-1zM303.1 96.1h1v1h-1zM298.7 91.9h1v1h-1zM304.6 99.2h1v1h-1zM306.3 92.0h1v1h-1zM305.6 93.6h1v1h-1zM303.8 102.7h1v1h-1zM300.4 101.9h1v1h-1zM300.2 104.6h1v1h-1zM304.4 102.9h1v1h-1zM300.3 97.3h1v1h-1zM298.9 102.5h1v1h-1zM302.0 94.2h1v1h-1zM301.0 104.7h1v1h-1zM309.8 88.6h1v1h-1zM303.8 113.5h1v1h-1zM304.6 97.2h1v1h-1zM304.6 103.9h1v1h-1zM300.2 99.3h1v1h-1zM303.3 105.0h1v1h-1zM304.9 92.5h1v1h-1zM302.6 101.7h1v1h-1zM304.3 103.9h1v1h-1zM301.8 103.1h1v1h-1zM307.6 93.4h1v1h-1zM305.7 109.9h1v1h-1zM303.2 100.0h1v1h-1zM304.1 109.6h1v1h-1zM304.4 102.8h1v1h-1zM306.3 96.6h1v1h-1zM304.5 95.5h1v1h-1zM302.2 99.1h1v1h-1zM305.3 87.7h1v1h-1zM302.3 102.0h1v1h-1zM305.2 98.5h1v1h-1zM304.1 104.9h1v1h-1zM304.9 95.8h1v1h-1zM301.5 97.5h1v1h-1zM306.0 91.9h1v1h-1zM310.8 97.6h1v1h-1zM302.8 99.4h1v1h-1zM309.1 99.9h1v1h-1zM304.7 94.8h1v1h-1zM304.4 95.8h1v1h-1zM306.2 101.1h1v1h-1zM306.0 92.4h1v1h-1zM298.5 108.6h1v1h-1zM301.1 98.3h1v1h-1zM308.3 85.7h1v1h-1zM299.5 106.2h1v1h-1zM307.7 90.3h1v1h-1zM305.7 101.6h1v1h-1zM300.6 104.9h1v1h-1zM297.5 100.6h1v1h-1zM301.4 106.5h1v1h-1zM303.8 107.2h1v1h-1zM303.4 98.5h1v1h-1zM299.4 93.3h1v1h-1zM303.9 99.6h1v1h-1zM307.3 94.9h1v1h-1zM304.2 101.2h1v1h-1zM300.0 94.2h1v1h-1zM303.2 105.1h1v1h-1zM302.3 99.2h1v1h-1zM303.4 98.5h1v1h-1zM298.8 95.4h1v1h-1zM297.5 103.0h1v1h-1zM303.0 98.0h1v1h-1zM298.3 100.0h1v1h-1zM302.5 107.5h1v1h-1zM305.0 105.7h1v1h-1zM296.3 92.6h1v1h-1zM306.1 103.4h1v1h-1zM299.4 106.1h1v1h-1zM304.2 100.0h1v1h-1zM305.1 89.6h1v1h-1zM308.8 98.3h1v1h-1zM308.8 98.3h1v1h-1zM298.6 98.7h1v1h-1zM296.0 111.5h1v1h-1zM306.6 105.4h1v1h-1zM301.0 96.1h1v1h-1zM301.2 106.1h1v1h-1zM302.8 92.4h1v1h-1zM306.6 99.1h1v1h-1zM305.6 99.4h1v1h-1zM303.2 110.7h1v1h-1zM303.6 109.5h1v1h-1zM309.8 92.7h1v1h-1zM302.2 102.0h1v1h-1zM301.1 92.7h1v1h-1zM305.4 94.2h1v1h-1zM303.4 93.0h1v1h-1zM306.3 97.6h1v1h-1zM303.4 98.5h1v1h-1zM299.6 107.3h1v1h-1zM299.1 102.5h1v1h-1zM302.8 102.2h1v1h-1zM301.6 100.8h1v1h-1zM304.5 94.3h1v1h-1zM307.0 98.8h1v1h-1zM298.1 104.1h1v1h-1zM300.6 103.3h1v1h-1zM301.0 102.3h1v1h-1zM309.0 93.2h1v1h-1zM298.9 101.6h1v1h-1zM305.6 89.3h1v1h-1zM304.6 93.4h1v1h-1zM305.9 105.2h1v1h-1zM307.7 99.7h1v1h-1zM299.6 106.3h1v1h-1zM308.9 92.0h1v1h-1zM308.3 106.0h1v1h-1zM302.4 109.0h1v1h-1zM296.9 108.6h1v1h-1zM302.1 101.1h1v1h-1zM301.2 110.5h1v1h-1zM313.2 84.9h1v1h-1zM307.2 96.1h1v1h-1zM304.9 98.0h1v1h-1zM302.4 104.1h1v1h-1zM309.0 96.5h1v1h-1zM302.3 102.6h1v1h-1zM300.3 103.7h1v1h-1zM300.0 111.0h1v1h-1zM303.4 102.8h1v1h-1zM301.9 94.2h1v1h-1zM303.7 102.0h1v1h-1zM301.7 108.3h1v1h-1zM306.9 95.0h1v1h-1zM304.2 106.0h1v1h-1zM299.2 101.0h1v1h-1zM298.8 106.1h1v1h-1zM297.8 102.0h1v1h-1zM299.5 103.8h1v1h-1zM305.8 108.2h1v1h-1zM297.6 105.7h1v1h-1zM302.8 94.3h1v1h-1zM302.8 104.4h1v1h-1zM303.7 101.6h1v1h-1zM303.8 104.3h1v1h-1zM299.6 109.7h1v1h-1zM297.8 99.6h1v1h-1zM304.0 92.4h1v1h-1zM306.2 94.1h1v1h-1zM299.9 105.7h1v1h-1zM302.8 97.2h1v1h-1zM301.5 100.5h1v1h-1zM303.1 103.0h1v1h-1zM304.6 103.0h1v1h-1zM303.5 100.6h1v1h-1zM299.5 110.0h1v1h-1zM301.7 104.8h1v1h-1zM302.9 97.3h1v1h-1zM304.9 95.8h1v1h-1zM303.3 96.5h1v1h-1zM300.3 106.9h1v1h-1zM301.6 106.8h1v1h-1zM299.8 104.4h1v1h-1zM310.0 103.8h1v1h-1zM304.2 105.9h1v1h-1zM305.0 102.4h1v1h-1zM303.3 93.0h1v1h-1zM304.5 103.5h1v1h-1zM303.5 97.8h1v1h-1zM303.4 98.1h1v1h-1zM301.8 92.2h1v1h-1zM298.6 98.0h1v1h-1zM303.4 94.2h1v1h-1zM306.0 94.7h1v1h-1zM303.9 97.7h1v1h-1zM303.2 93.9h1v1h-1zM303.1 103.4h1v1h-1zM305.1 98.0h1v1h-1zM303.2 101.3h1v1h-1zM298.8 108.5h1v1h-1zM303.5 102.9h1v1h-1zM300.5 97.6h1v1h-1zM302.5 104.2h1v1h-1zM303.1 100.4h1v1h-1zM300.7 99.3h1v1h-1zM297.7 99.8h1v1h-1zM299.2 98.4h1v1h-1zM305.8 98.8h1v1h-1zM302.4 98.1h1v1h-1zM301.4 102.6h1v1h-1zM302.9 97.3h1v1h-1zM301.9 109.0h1v1h-1zM299.0 101.4h1v1h-1zM298.4 102.1h1v1h-1zM299.2 101.5h1v1h-1zM294.6 109.0h1v1h-1zM302.8 107.5h1v1h-1zM306.2 89.9h1v1h-1zM303.3 109.0h1v1h-1zM305.2 90.2h1v1h-1zM302.8 92.4h1v1h-1zM309.5 98.2h1v1h-1zM302.3 100.4h1v1h-1zM305.7 98.7h1v1h-1zM299.2 102.8h1v1h-1zM297.2 106.9h1v1h-1zM304.9 98.8h1v1h-1zM298.7 109.0h1v1h-1zM306.1 102.8h1v1h-1zM304.9 104.4h1v1h-1zM301.7 105.9h1v1h-1zM304.3 104.3h1v1h-1zM307.5 101.3h1v1h-1zM304.7 88.0h1v1h-1zM301.4 108.3h1v1h-1zM305.5 96.7h1v1h-1zM299.4 105.3h1v1h-1zM301.3 104.0h1v1h-1zM303.2 99.2h1v1h-1zM297.8 104.9h1v1h-1zM305.7 98.5h1v1h-1zM301.4 91.6h1v1h-1zM302.0 103.0h1v1h-1zM303.8 99.2h1v1h-1zM313.0 97.5h1v1h-1zM304.0 94.0h1v1h-1zM304.9 91.6h1v1h-1zM300.1 108.3h1v1h-1zM300.6 102.7h1v1h-1zM299.9 110.0h1v1h-1zM307.8 93.8h1v1h-1zM305.6 98.5h1v1h-1zM303.6 100.9h1v1h-1zM300.4 99.7h1v1h-1zM308.9 92.6h1v1h-1zM304.2 99.4h1v1h-1zM298.6 95.3h1v1h-1zM309.6 94.3h1v1h-1zM303.7 95.2h1v1h-1zM304.7 91.3h1v1h-1zM303.3 97.6h1v1h-1zM301.6 98.8h1v1h-1zM304.3 96.7h1v1h-1zM302.1 101.5h1v1h-1zM300.1 109.7h1v1h-1zM301.0 100.1h1v1h-1zM298.3 104.5h1v1h-1zM303.8 90.0h1v1h-1zM298.8 102.1h1v1h-1zM300.4 106.9h1v1h-1zM305.6 91.3h1v1h-1zM297.2 108.8h1v1h-1zM307.2 93.1h1v1h-1zM303.2 108.1h1v1h-1zM304.3 98.2h1v1h-1zM305.7 102.8h1v1h-1zM298.5 111.6h1v1h-1zM299.6 106.6h1v1h-1zM299.4 102.1h1v1h-1zM305.8 96.0h1v1h-1zM307.4 95.8h1v1h-1zM304.5 96.9h1v1h-1zM302.4 99.0h1v1h-1zM305.8 101.6h1v1h-1zM293.6 115.7h1v1h-1zM302.1 101.3h1v1h-1zM305.8 95.1h1v1h-1zM304.7 94.9h1v1h-1zM295.1 104.6h1v1h-1zM303.9 101.6h1v1h-1zM306.5 95.1h1v1h-1zM301.5 101.4h1v1h-1zM297.1 105.2h1v1h-1zM301.2 103.1h1v1h-1zM304.8 93.8h1v1h-1zM306.1 98.7h1v1h-1zM305.7 91.4h1v1h-1zM308.4 98.9h1v1h-1zM308.3 94.7h1v1h-1zM307.7 90.5h1v1h-1zM304.5 99.4h1v1h-1zM299.3 94.0h1v1h-1zM309.9 92.6h1v1h-1zM300.4 100.1h1v1h-1zM299.3 104.0h1v1h-1zM301.4 94.5h1v1h-1zM306.0 108.2h1v1h-1zM305.9 94.7h1v1h-1zM306.9 107.3h1v1h-1zM308.4 86.7h1v1h-1zM297.8 101.8h1v1h-1zM302.8 102.2h1v1h-1zM300.1 103.1h1v1h-1zM300.6 101.4h1v1h-1zM302.3 103.2h1v1h-1zM300.1 96.2h1v1h-1zM302.8 109.9h1v1h-1zM299.5 103.9h1v1h-1zM308.4 99.4h1v1h-1zM299.3 102.9h1v1h-1zM303.4 100.1h1v1h-1zM301.0 97.6h1v1h-1zM302.2 107.2h1v1h-1zM299.3 97.0h1v1h-1zM304.3 96.5h1v1h-1zM300.4 104.1h1v1h-1zM301.3 106.0h1v1h-1zM297.1 92.8h1v1h-1zM301.5 91.8h1v1h-1zM304.4 99.3h1v1h-1zM300.3 107.4h1v1h-1zM311.9 95.8h1v1h-1zM301.8 101.2h1v1h-1zM300.0 97.0h1v1h-1zM302.9 103.7h1v1h-1zM302.9 109.7h1v1h-1zM304.8 105.9h1v1h-1zM302.5 97.8h1v1h-1zM299.9 98.3h1v1h-1zM302.6 98.8h1v1h-1zM301.7 103.6h1v1h-1zM307.2 89.4h1v1h-1zM295.3 105.9h1v1h-1zM304.8 95.8h1v1h-1zM304.4 92.1h1v1h-1zM299.5 98.9h1v1h-1zM303.7 102.0h1v1h-1zM305.8 93.0h1v1h-1zM300.5 105.7h1v1h-1zM304.0 103.0h1v1h-1zM306.3 99.7h1v1h-1zM299.7 101.1h1v1h-1zM304.4 103.8h1v1h-1zM299.8 103.8h1v1h-1zM306.0 104.0h1v1h-1zM305.9 102.5h1v1h-1zM300.4 107.2h1v1h-1zM301.0 103.4h1v1h-1zM300.7 105.9h1v1h-1zM304.2 97.1h1v1h-1zM304.4 100.1h1v1h-1zM299.1 101.5h1v1h-1zM305.5 96.9h1v1h-1zM302.4 102.9h1v1h-1zM300.8 115.8h1v1h-1zM305.3 100.5h1v1h-1zM301.4 107.9h1v1h-1zM307.0 90.7h1v1h-1zM308.9 102.7h1v1h-1zM311.2 91.7h1v1h-1zM306.0 100.4h1v1h-1zM304.3 98.9h1v1h-1zM301.1 106.6h1v1h-1zM300.8 106.1h1v1h-1zM303.5 97.9h1v1h-1zM303.9 97.5h1v1h-1zM297.2 106.7h1v1h-1zM306.6 91.2h1v1h-1zM302.6 110.7h1v1h-1zM303.9 108.9h1v1h-1zM305.0 96.5h1v1h-1zM307.0 85.1h1v1h-1zM297.7 102.2h1v1h-1zM303.9 87.8h1v1h-1zM305.9 102.8h1v1h-1zM301.8 116.2h1v1h-1zM300.0 89.8h1v1h-1zM305.8 102.4h1v1h-1zM305.1 91.1h1v1h-1zM304.2 98.1h1v1h-1zM305.0 100.1h1v1h-1zM301.3 106.5h1v1h-1zM307.1 106.8h1v1h-1zM302.5 94.0h1v1h-1zM307.2 105.4h1v1h-1zM305.9 102.7h1v1h-1zM306.4 100.0h1v1h-1zM306.4 98.0h1v1h-1zM303.5 103.4h1v1h-1zM303.3 109.5h1v1h-1zM306.9 98.4h1v1h-1zM309.4 92.5h1v1h-1zM299.1 116.6h1v1h-1zM302.4 103.8h1v1h-1zM300.3 105.1h1v1h-1zM301.2 104.4h1v1h-1zM304.5 98.8h1v1h-1zM298.7 99.0h1v1h-1zM299.4 112.7h1v1h-1zM309.7 92.8h1v1h-1zM303.9 101.2h1v1h-1zM299.4 104.1h1v1h-1zM309.1 84.8h1v1h-1zM305.5 103.5h1v1h-1zM304.1 96.7h1v1h-1zM301.6 103.0h1v1h-1zM304.5 100.0h1v1h-1zM309.6 97.2h1v1h-1zM305.3 96.1h1v1h-1zM302.0 98.6h1v1h-1zM304.9 105.1h1v1h-1zM301.9 109.7h1v1h-1zM306.5 99.5h1v1h-1zM306.4 93.2h1v1h-1zM303.7 104.5h1v1h-1zM301.6 93.2h1v1h-1zM298.5 109.7h1v1h-1zM303.3 90.7h1v1h-1zM306.4 102.3h1v1h-1zM306.5 102.2h1v1h-1zM304.1 102.7h1v1h-1zM300.2 106.0h1v1h-1zM301.6 102.2h1v1h-1zM306.3 98.1h1v1h-1zM305.2 96.4h1v1h-1zM304.6 96.4h1v1h-1zM307.3 99.0h1v1h-1zM303.3 101.3h1v1h-1zM292.0 106.9h1v1h-1zM298.1 91.8h1v1h-1zM304.4 101.1h1v1h-1zM302.6 104.5h1v1h-1zM309.8 97.6h1v1h-1zM301.9 102.0h1v1h-1zM306.7 94.8h1v1h-1zM303.0 97.4h1v1h-1zM303.4 101.9h1v1h-1zM308.3 97.3h1v1h-1zM302.2 93.9h1v1h-1zM302.9 102.3h1v1h-1zM302.0 100.4h1v1h-1zM301.6 100.1h1v1h-1zM308.6 92.1h1v1h-1zM304.7 94.6h1v1h-1zM301.8 104.5h1v1h-1zM293.8 114.1h1v1h-1zM305.0 96.4h1v1h-1zM299.8 107.6h1v1h-1zM309.2 93.7h1v1h-1zM304.6 95.1h1v1h-1zM299.6 104.6h1v1h-1zM305.5 98.4h1v1h-1zM304.4 99.5h1v1h-1zM304.8 95.0h1v1h-1zM301.2 92.8h1v1h-1zM300.8 110.5h1v1h-1zM298.7 104.4h1v1h-1zM302.7 100.0h1v1h-1zM307.6 93.1h1v1h-1zM304.1 96.2h1v1h-1zM309.0 93.0h1v1h-1zM302.7 104.9h1v1h-1zM303.6 94.8h1v1h-1zM299.9 106.8h1v1h-1zM303.0 101.9h1v1h-1zM309.6 95.7h1v1h-1zM307.9 89.6h1v1h-1zM299.0 98.2h1v1h-1zM303.9 102.7h1v1h-1zM300.9 99.8h1v1h-1zM305.3 103.9h1v1h-1zM307.4 103.3h1v1h-1zM303.5 105.8h1v1h-1zM298.6 107.3h1v1h-1zM305.7 98.0h1v1h-1zM306.2 104.7h1v1h-1zM301.3 106.8h1v1h-1zM302.0 101.3h1v1h-1zM302.7 97.9h1v1h-1zM300.1 104.9h1v1h-1zM304.4 98.6h1v1h-1zM303.6 97.3h1v1h-1zM308.7 88.8h1v1h-1zM304.4 99.0h1v1h-1zM297.4 100.6h1v1h-1zM298.7 113.9h1v1h-1zM298.1 99.8h1v1h-1zM303.1 104.6h1v1h-1zM304.7 99.2h1v1h-1zM299.8 107.7h1v1h-1zM308.8 97.5h1v1h-1zM302.3 102.5h1v1h-1zM299.0 114.1h1v1h-1zM304.4 100.6h1v1h-1zM304.7 99.3h1v1h-1zM301.2 101.4h1v1h-1zM304.7 100.1h1v1h-1zM304.1 103.9h1v1h-1zM302.3 105.8h1v1h-1zM301.2 103.6h1v1h-1zM306.6 100.8h1v1h-1zM308.3 90.6h1v1h-1zM295.4 107.5h1v1h-1zM306.9 104.6h1v1h-1zM297.7 108.2h1v1h-1zM302.0 92.2h1v1h-1zM300.7 104.3h1v1h-1zM303.9 101.0h1v1h-1zM303.8 103.5h1v1h-1zM298.6 99.7h1v1h-1zM292.8 105.9h1v1h-1zM299.1 106.8h1v1h-1zM302.2 99.0h1v1h-1zM303.9 98.5h1v1h-1zM300.8 97.9h1v1h-1zM299.9 104.7h1v1h-1zM300.1 107.8h1v1h-1zM305.9 97.1h1v1h-1zM298.9 104.5h1v1h-1zM307.7 100.4h1v1h-1zM303.0 94.2h1v1h-1zM299.6 100.2h1v1h-1zM303.8 85.3h1v1h-1zM304.2 103.3h1v1h-1zM303.1 104.2h1v1h-1zM307.6 94.4h1v1h-1zM299.0 106.2h1v1h-1zM300.3 105.4h1v1h-1zM303.8 102.0h1v1h-1zM310.2 93.8h1v1h-1zM304.7 95.7h1v1h-1zM305.5 98.3h1v1h-1zM302.4 103.0h1v1h-1zM301.1 108.6h1v1h-1zM296.2 95.5h1v1h-1zM303.0 98.7h1v1h-1zM302.7 94.9h1v1h-1zM304.8 104.9h1v1h-1zM302.4 112.2h1v1h-1zM305.4 96.9h1v1h-1zM308.0 93.8h1v1h-1zM300.8 101.9h1v1h-1zM302.8 99.7h1v1h-1zM308.1 98.4h1v1h-1zM301.5 106.6h1v1h-1zM309.9 100.9h1v1h-1zM305.1 99.0h1v1h-1zM305.1 100.5h1v1h-1zM304.9 100.9h1v1h-1zM305.6 93.5h1v1h-1zM297.6 107.1h1v1h-1zM308.3 98.3h1v1h-1zM305.3 103.9h1v1h-1zM308.2 88.4h1v1h-1zM302.1 92.1h1v1h-1zM305.6 104.0h1v1h-1zM303.3 91.2h1v1h-1zM304.1 97.2h1v1h-1zM312.1 95.5h1v1h-1zM301.0 103.4h1v1h-1zM310.6 100.0h1v1h-1zM297.3 112.4h1v1h-1zM305.9 103.7h1v1h-1zM304.1 93.4h1v1h-1zM298.6 107.3h1v1h-1zM300.4 96.7h1v1h-1zM306.6 97.0h1v1h-1zM301.4 94.6h1v1h-1zM309.3 98.8h1v1h-1zM301.3 100.9h1v1h-1zM304.1 101.7h1v1h-1zM298.0 99.3h1v1h-1zM302.0 101.8h1v1h-1zM297.8 103.7h1v1h-1zM299.7 105.7h1v1h-1zM310.4 92.3h1v1h-1zM305.3 97.9h1v1h-1zM306.5 100.6h1v1h-1zM304.0 107.6h1v1h-1zM297.3 102.6h1v1h-1zM307.2 91.2h1v1h-1zM306.4 95.5h1v1h-1zM299.0 99.8h1v1h-1zM302.2 93.4h1v1h-1zM304.5 95.2h1v1h-1zM305.4 105.4h1v1h-1zM303.7 94.3h1v1h-1zM302.4 109.8h1v1h-1zM296.3 99.2h1v1h-1zM305.7 94.8h1v1h-1zM309.9 99.0h1v1h-1zM303.8 101.1h1v1h-1zM302.6 93.1h1v1h-1zM302.9 95.9h1v1h-1zM304.7 99.4h1v1h-1zM305.4 102.6h1v1h-1zM306.6 93.0h1v1h-1zM307.0 103.2h1v1h-1zM304.5 99.4h1v1h-1zM306.0 96.2h1v1h-1zM300.7 101.8h1v1h-1zM304.0 97.8h1v1h-1zM298.8 102.3h1v1h-1zM300.5 104.9h1v1h-1zM303.3 112.3h1v1h-1zM302.3 97.4h1v1h-1zM299.8 114.6h1v1h-1zM300.9 103.0h1v1h-1zM305.7 100.4h1v1h-1zM299.7 102.9h1v1h-1zM301.5 107.5h1v1h-1zM307.9 96.0h1v1h-1zM305.7 100.1h1v1h-1zM305.3 97.6h1v1h-1zM307.6 91.6h1v1h-1zM306.8 92.0h1v1h-1zM308.3 86.1h1v1h-1zM303.0 104.8h1v1h-1zM297.8 105.8h1v1h-1zM304.3 110.6h1v1h-1zM303.5 92.8h1v1h-1zM304.3 97.1h1v1h-1zM296.1 98.8h1v1h-1zM301.3 103.3h1v1h-1zM307.9 95.6h1v1h-1zM307.0 99.5h1v1h-1zM301.2 102.9h1v1h-1zM303.0 107.6h1v1h-1zM299.8 95.8h1v1h-1zM306.0 97.9h1v1h-1zM308.5 100.7h1v1h-1zM303.2 101.9h1v1h-1zM299.9 101.6h1v1h-1zM301.6 98.9h1v1h-1zM303.2 85.4h1v1h-1zM300.5 103.9h1v1h-1zM299.4 98.1h1v1h-1zM306.6 97.8h1v1h-1zM301.6 100.3h1v1h-1zM299.9 108.7h1v1h-1zM307.0 99.5h1v1h-1zM308.3 91.2h1v1h-1zM303.3 93.3h1v1h-1zM305.0 96.6h1v1h-1zM303.8 101.2h1v1h-1zM306.6 102.8h1v1h-1zM301.6 110.4h1v1h-1zM300.6 104.1h1v1h-1zM307.1 94.8h1v1h-1zM305.5 101.3h1v1h-1zM314.3 92.9h1v1h-1zM305.9 93.3h1v1h-1zM297.4 104.4h1v1h-1zM298.8 95.1h1v1h-1zM300.9 90.4h1v1h-1zM303.8 101.2h1v1h-1zM307.3 99.8h1v1h-1zM300.3 108.0h1v1h-1zM302.9 98.8h1v1h-1zM307.7 99.1h1v1h-1zM301.8 101.3h1v1h-1zM305.2 99.6h1v1h-1zM304.9 98.4h1v1h-1zM307.0 101.5h1v1h-1zM296.9 105.3h1v1h-1zM305.5 100.1h1v1h-1zM306.3 98.6h1v1h-1zM304.1 102.8h1v1h-1zM304.2 100.3h1v1h-1zM298.1 101.7h1v1h-1zM302.3 94.2h1v1h-1zM300.6 110.0h1v1h-1zM302.9 102.6h1v1h-1zM302.2 96.7h1v1h-1zM300.4 104.6h1v1h-1zM300.5 109.3h1v1h-1zM302.4 100.6h1v1h-1zM303.4 100.0h1v1h-1zM306.4 111.1h1v1h-1zM306.3 94.2h1v1h-1zM299.3 103.3h1v1h-1zM303.3 96.4h1v1h-1zM309.9 87.7h1v1h-1zM303.0 100.0h1v1h-1zM303.7 101.1h1v1h-1zM298.9 113.3h1v1h-1zM300.1 104.4h1v1h-1zM301.6 102.0h1v1h-1zM301.1 98.6h1v1h-1zM306.1 96.3h1v1h-1zM302.9 105.0h1v1h-1zM305.5 97.0h1v1h-1zM311.0 87.3h1v1h-1zM304.0 100.5h1v1h-1zM299.7 106.4h1v1h-1zM300.0 105.3h1v1h-1zM301.0 103.0h1v1h-1zM306.5 103.6h1v1h-1zM302.9 96.2h1v1h-1zM304.7 98.9h1v1h-1zM296.0 115.1h1v1h-1zM305.6 88.5h1v1h-1zM305.0 91.2h1v1h-1zM300.6 99.6h1v1h-1zM299.5 94.8h1v1h-1zM300.8 100.7h1v1h-1zM303.8 107.6h1v1h-1zM304.0 95.3h1v1h-1zM305.2 101.6h1v1h-1zM306.5 91.2h1v1h-1zM299.1 110.7h1v1h-1zM302.8 101.8h1v1h-1zM308.3 94.9h1v1h-1zM303.1 102.2h1v1h-1zM303.9 105.4h1v1h-1zM308.4 90.6h1v1h-1zM304.9 97.5h1v1h-1zM302.3 95.8h1v1h-1zM301.3 105.8h1v1h-1zM303.0 98.8h1v1h-1zM303.0 101.0h1v1h-1zM305.7 86.7h1v1h-1zM305.8 100.1h1v1h-1zM297.9 107.2h1v1h-1zM299.5 111.5h1v1h-1zM300.8 102.9h1v1h-1zM308.4 98.8h1v1h-1zM303.4 99.4h1v1h-1zM305.5 108.9h1v1h-1zM305.8 92.3h1v1h-1zM308.2 102.6h1v1h-1zM298.0 114.4h1v1h-1zM304.8 103.8h1v1h-1zM300.0 106.9h1v1h-1zM299.6 104.9h1v1h-1zM305.0 84.7h1v1h-1zM305.0 102.9h1v1h-1zM303.0 86.7h1v1h-1zM294.2 97.4h1v1h-1zM304.9 105.1h1v1h-1zM311.5 85.3h1v1h-1zM307.5 101.4h1v1h-1zM302.1 102.4h1v1h-1zM305.6 102.7h1v1h-1zM303.0 102.2h1v1h-1zM307.6 93.7h1v1h-1zM308.2 103.2h1v1h-1zM303.1 101.0h1v1h-1zM306.5 98.5h1v1h-1zM301.8 99.4h1v1h-1zM304.8 111.9h1v1h-1zM301.4 97.7h1v1h-1zM298.7 106.6h1v1h-1zM297.1 116.7h1v1h-1zM297.8 105.3h1v1h-1zM306.3 102.2h1v1h-1zM300.9 103.2h1v1h-1zM300.3 115.6h1v1h-1zM302.1 99.4h1v1h-1zM307.5 101.2h1v1h-1zM305.0 97.1h1v1h-1zM308.4 98.0h1v1h-1zM306.0 101.3h1v1h-1zM300.6 103.9h1v1h-1zM304.4 106.1h1v1h-1zM307.6 95.7h1v1h-1zM298.3 103.5h1v1h-1zM300.7 103.3h1v1h-1zM301.6 105.5h1v1h-1zM308.7 95.9h1v1h-1zM301.0 99.1h1v1h-1zM300.5 100.7h1v1h-1zM302.3 103.4h1v1h-1zM305.9 99.9h1v1h-1zM308.6 95.2h1v1h-1zM311.8 91.8h1v1h-1zM302.2 102.1h1v1h-1zM306.3 97.8h1v1h-1zM303.1 100.2h1v1h-1zM300.0 106.6h1v1h-1zM305.0 100.4h1v1h-1zM300.7 107.1h1v1h-1zM303.1 102.3h1v1h-1zM305.8 107.0h1v1h-1zM304.9 96.0h1v1h-1zM305.0 101.7h1v1h-1zM300.1 109.7h1v1h-1zM306.0 103.7h1v1h-1zM303.8 93.6h1v1h-1zM304.2 98.8h1v1h-1zM301.4 102.1h1v1h-1zM297.7 110.4h1v1h-1zM306.7 101.3h1v1h-1zM301.7 105.6h1v1h-1zM304.8 104.2h1v1h-1zM305.1 101.9h1v1h-1zM305.4 96.2h1v1h-1zM304.3 91.2h1v1h-1zM309.1 96.1h1v1h-1zM305.1 98.9h1v1h-1zM304.7 95.8h1v1h-1zM301.5 98.8h1v1h-1zM296.9 104.3h1v1h-1zM309.3 107.4h1v1h-1zM305.1 96.6h1v1h-1zM306.5 92.4h1v1h-1zM308.6 92.0h1v1h-1zM299.2 96.4h1v1h-1zM301.6 92.1h1v1h-1zM306.2 100.2h1v1h-1zM300.8 97.5h1v1h-1zM305.3 96.3h1v1h-1zM309.9 87.8h1v1h-1zM295.6 100.5h1v1h-1zM296.2 105.7h1v1h-1zM306.9 100.7h1v1h-1zM301.5 89.6h1v1h-1zM302.6 93.2h1v1h-1zM302.1 99.3h1v1h-1zM302.9 97.3h1v1h-1zM301.2 98.7h1v1h-1zM302.5 102.4h1v1h-1zM310.4 96.7h1v1h-1zM307.9 94.2h1v1h-1zM305.8 96.7h1v1h-1zM304.5 104.4h1v1h-1zM297.9 107.7h1v1h-1zM301.2 94.7h1v1h-1zM302.9 115.6h1v1h-1zM305.4 101.4h1v1h-1zM300.8 108.3h1v1h-1zM304.0 98.3h1v1h-1zM301.6 105.5h1v1h-1zM307.9 94.6h1v1h-1zM304.8 90.3h1v1h-1zM301.3 108.0h1v1h-1zM303.1 102.2h1v1h-1zM300.9 106.6h1v1h-1zM308.0 90.1h1v1h-1zM304.0 81.4h1v1h-1zM302.8 110.8h1v1h-1zM304.0 98.1h1v1h-1zM305.8 102.3h1v1h-1zM302.4 95.5h1v1h-1zM304.9 97.4h1v1h-1zM301.6 101.8h1v1h-1zM298.8 104.0h1v1h-1zM301.5 99.6h1v1h-1zM308.8 96.4h1v1h-1zM301.1 97.9h1v1h-1zM300.4 100.0h1v1h-1zM304.4 105.0h1v1h-1zM298.2 105.5h1v1h-1zM308.7 101.8h1v1h-1zM307.2 100.9h1v1h-1zM296.2 107.9h1v1h-1zM302.8 108.4h1v1h-1zM306.1 107.5h1v1h-1zM302.5 103.5h1v1h-1zM301.0 103.9h1v1h-1zM296.6 101.5h1v1h-1zM298.1 110.0h1v1h-1zM303.0 104.2h1v1h-1zM303.3 101.5h1v1h-1zM298.6 99.5h1v1h-1zM307.7 98.9h1v1h-1zM302.5 93.9h1v1h-1zM302.2 113.9h1v1h-1zM299.9 109.6h1v1h-1zM304.8 103.1h1v1h-1zM301.8 103.8h1v1h-1zM304.3 91.8h1v1h-1zM310.8 93.9h1v1h-1zM303.6 98.3h1v1h-1zM302.7 102.3h1v1h-1zM300.4 103.0h1v1h-1zM311.3 93.9h1v1h-1zM303.4 96.1h1v1h-1zM303.4 95.6h1v1h-1zM305.3 101.5h1v1h-1zM306.2 95.0h1v1h-1zM307.9 98.0h1v1h-1zM306.1 93.8h1v1h-1zM298.0 103.1h1v1h-1zM303.4 101.3h1v1h-1zM304.3 95.8h1v1h-1zM301.8 106.3h1v1h-1zM303.5 98.0h1v1h-1zM305.8 104.3h1v1h-1zM303.6 105.7h1v1h-1zM295.7 107.6h1v1h-1zM300.0 90.1h1v1h-1zM295.2 102.7h1v1h-1zM305.4 100.9h1v1h-1zM304.3 92.0h1v1h-1zM305.7 99.7h1v1h-1zM307.2 92.3h1v1h-1zM302.2 104.4h1v1h-1zM306.3 102.5h1v1h-1zM302.7 101.6h1v1h-1zM305.7 99.2h1v1h-1zM305.6 99.4h1v1h-1zM306.1 102.0h1v1h-1zM305.0 96.0h1v1h-1zM303.6 102.7h1v1h-1zM301.9 107.0h1v1h-1zM306.7 107.3h1v1h-1zM298.6 103.9h1v1h-1zM308.0 93.1h1v1h-1zM304.8 98.5h1v1h-1zM307.1 100.7h1v1h-1zM297.7 105.8h1v1h-1zM301.8 101.5h1v1h-1zM307.7 93.7h1v1h-1zM304.7 100.0h1v1h-1zM301.7 115.3h1v1h-1zM299.8 106.0h1v1h-1zM309.0 95.1h1v1h-1zM303.9 98.7h1v1h-1zM304.2 98.3h1v1h-1zM297.4 113.3h1v1h-1zM304.3 99.0h1v1h-1zM299.4 100.7h1v1h-1zM305.3 89.9h1v1h-1zM301.5 98.3h1v1h-1zM302.7 93.8h1v1h-1zM303.7 97.9h1v1h-1zM305.0 90.7h1v1h-1zM302.1 102.0h1v1h-1zM305.0 92.3h1v1h-1zM305.3 100.8h1v1h-1zM308.4 91.9h1v1h-1zM304.7 97.8h1v1h-1zM299.4 103.0h1v1h-1zM304.5 95.6h1v1h-1zM300.2 103.5h1v1h-1zM304.2 91.6h1v1h-1zM305.5 103.4h1v1h-1zM303.3 96.9h1v1h-1zM303.2 98.9h1v1h-1zM303.9 94.4h1v1h-1zM303.0 101.3h1v1h-1zM300.4 99.1h1v1h-1zM302.4 96.3h1v1h-1zM304.9 107.2h1v1h-1zM306.8 103.5h1v1h-1zM303.0 98.1h1v1h-1zM306.4 93.1h1v1h-1zM304.4 97.6h1v1h-1zM301.5 102.5h1v1h-1zM305.3 93.9h1v1h-1zM303.4 99.7h1v1h-1zM301.2 103.5h1v1h-1zM308.4 100.3h1v1h-1zM300.8 105.9h1v1h-1zM303.9 94.5h1v1h-1zM304.7 103.0h1v1h-1zM297.6 113.0h1v1h-1zM301.9 100.6h1v1h-1zM302.0 100.2h1v1h-1zM308.1 95.4h1v1h-1zM306.4 102.2h1v1h-1zM304.9 97.8h1v1h-1zM296.8 102.0h1v1h-1zM307.9 93.8h1v1h-1zM298.1 99.0h1v1h-1zM301.9 95.2h1v1h-1zM308.3 99.2h1v1h-1zM309.8 99.2h1v1h-1zM301.8 98.3h1v1h-1zM302.6 109.8h1v1h-1zM305.6 109.8h1v1h-1zM304.3 107.4h1v1h-1zM304.5 90.3h1v1h-1zM302.9 103.1h1v1h-1zM300.5 103.9h1v1h-1zM306.4 108.6h1v1h-1zM304.3 104.6h1v1h-1zM304.7 104.3h1v1h-1zM301.4 101.3h1v1h-1zM303.1 101.8h1v1h-1zM307.0 92.5h1v1h-1zM303.7 101.0h1v1h-1zM305.6 98.1h1v1h-1zM300.1 103.3h1v1h-1zM304.7 103.1h1v1h-1zM299.2 103.7h1v1h-1zM305.4 95.0h1v1h-1zM312.0 97.3h1v1h-1zM302.7 95.3h1v1h-1zM300.6 103.5h1v1h-1zM307.6 87.5h1v1h-1zM303.8 94.4h1v1h-1zM304.0 90.6h1v1h-1zM303.3 99.2h1v1h-1zM303.5 93.4h1v1h-1zM305.3 95.6h1v1h-1zM300.1 98.0h1v1h-1zM300.0 102.8h1v1h-1zM299.9 101.2h1v1h-1zM302.2 101.5h1v1h-1zM304.4 100.7h1v1h-1zM302.7 102.5h1v1h-1zM299.4 99.5h1v1h-1zM297.4 97.4h1v1h-1zM306.9 87.4h1v1h-1zM307.6 100.2h1v1h-1zM304.8 104.6h1v1h-1z" fill="#ff0000" fill-opacity="0.55"/>
<path d="M347.1 57.0h1v1h-1zM364.5 57.4h1v1h-1zM355.0 55.5h1v1h-1zM340.0 51.1h1v1h-1zM333.9 56.9h1v1h-1zM347.7 52.1h1v1h-1zM355.2 52.6h1v1h-1zM363.4 63.6h1v1h-1zM356.4 52.1h1v1h-1zM333.4 64.1h1v1h-1zM356.4 50.0h1v1h-1zM363.8 47.8h1v1h-1zM345.9 54.1h1v1h-1zM346.9 50.1h1v1h-1zM355.7 55.4h1v1h-1zM332.2 52.8h1v1h-1zM353.7 59.4h1v1h-1zM347.1 56.9h1v1h-1zM347.2 57.8h1v1h-1zM321.8 57.9h1v1h-1zM343.8 52.6h1v1h-1zM317.4 50.5h1v1h-1zM358.5 65.5h1v1h-1zM342.9 52.3h1v1h-1zM357.1 56.5h1v1h-1zM344.3 54.5h1v1h-1zM346.7 58.0h1v1h-1zM360.7 63.1h1v1h-1zM362.2 58.2h1v1h-1zM353.2 59.5h1v1h-1zM339.6 64.9h1v1h-1zM354.7 61.6h1v1h-1zM341.9 59.9h1v1h-1zM356.1 54.5h1v1h-1zM343.4 51.4h1v1h-1zM372.8 60.8h1v1h-1zM352.8 56.2h1v1h-1zM342.7 47.1h1v1h-1zM330.0 52.6h1v1h-1zM349.5 50.0h1v1h-1zM360.9 57.6h1v1h-1zM353.3 47.4h1v1h-1zM348.8 55.2h1v1h-1zM336.3 45.5h1v1h-1zM374.3 58.1h1v1h-1zM346.8 62.5h1v1h-1zM364.7 57.3h1v1h-1zM354.1 58.8h1v1h-1zM368.9 55.6h1v1h-1zM348.6 57.9h1v1h-1zM317.6 55.7h1v1h-1zM346.5 55.2h1v1h-1zM349.2 56.8h1v1h-1zM352.6 55.6h1v1h-1zM349.8 57.3h1v1h-1zM345.3 59.7h1v1h-1zM331.2 56.2h1v1h-1zM356.8 49.6h1v1h-1zM346.2 61.3h1v1h-1zM349.8 51.3h1v1h-1zM315.6 56.8h1v1h-1zM352.6 58.0h1v1h-1zM353.0 52.2h1v1h-1zM350.7 55.2h1v1h-1zM360.5 57.8h1v1h-1zM342.2 53.2h1v1h-1zM367.9 51.0h1v1h-1zM360.4 62.6h1v1h-1zM359.2 56.4h1v1h-1zM367.8 56.9h1v1h-1zM351.3 54.4h1v1h-1zM365.2 58.4h1v1h-1zM369.9 53.8h1v1h-1zM347.6 53.3h1v1h-1zM354.8 52.2h1v1h-1zM362.5 56.8h1v1h-1zM339.6 42.0h1v1h-1zM329.5 61.8h1v1h-1zM350.7 56.0h1v1h-1zM346.3 57.1h1v1h-1zM328.3 46.3h1v1h-1zM331.7 55.6h1v1h-1zM359.8 57.4h1v1h-1zM349.9 49.5h1v1h-1zM360.9 54.0h1v1h-1zM351.1 55.0h1v1h-1zM345.7 52.0h1v1h-1zM344.3 49.5h1v1h-1zM354.3 54.5h1v1h-1zM363.6 47.1h1v1h-1zM365.4 55.0h1v1h-1zM349.4 51.7h1v1h-1zM341.5 48.6h1v1h-1zM362.1 54.3h1v1h-1zM360.0 59.0h1v1h-1zM345.4 54.2h1v1h-1zM347.2 59.9h1v1h-1zM352.9 56.0h1v1h-1zM360.0 54.9h1v1h-1zM366.4 61.6h1v1h-1zM337.7 59.2h1v1h-1zM354.8 59.2h1v1h-1zM337.0 56.4h1v1h-1zM339.6 53.8h1v1h-1zM368.4 54.7h1v1h-1zM324.4 49.0h1v1h-1zM337.7 59.9h1v1h-1zM343.0 48.3h1v1h-1zM364.8 56.4h1v1h-1zM355.5 51.7h1v1h-1zM368.5 54.7h1v1h-1zM327.7 50.2h1v1h-1zM341.3 54.6h1v1h-1zM360.6 52.0h1v1h-1zM344.2 65.2h1v1h-1zM352.4 52.9h1v1h-1zM351.8 49.7h1v1h-1zM357.8 59.7h1v1h-1zM344.4 59.8h1v1h-1zM347.9 56.6h1v1h-1zM342.5 51.7h1v1h-1zM333.4 56.3h1v1h-1zM348.0 54.2h1v1h-1zM337.9 50.0h1v1h-1zM343.8 57.4h1v1h-1zM355.0 52.2h1v1h-1zM354.9 63.2h1v1h-1zM352.7 64.4h1v1h-1zM356.6 61.3h1v1h-1zM345.1 60.6h1v1h-1zM337.2 56.4h1v1h-1zM347.4 46.3h1v1h-1zM335.0 60.4h1v1h-1zM357.3 61.1h1v1h-1zM353.7 42.2h1v1h-1zM354.4 52.7h1v1h-1zM345.3 53.3h1v1h-1zM342.2 51.0h1v1h-1zM366.3 57.3h1v1h-1zM343.5 53.4h1v1h-1zM363.0 57.0h1v1h-1zM353.7 49.8h1v1h-1zM346.1 50.2h1v1h-1zM328.3 59.3h1v1h-1zM347.4 53.4h1v1h-1zM339.8 58.7h1v1h-1z" fill="#ff0000" fill-opacity="0.38"/>
<path d="M357.2 50.8h1v1h-1zM345.9 59.6h1v1h-1zM365.6 58.3h1v1h-1zM329.1 57.9h1v1h-1zM336.8 66.9h1v1h-1zM353.2 60.3h1v1h-1zM346.0 63.3h1v1h-1zM335.9 52.7h1v1h-1zM315.0 65.4h1v1h-1zM350.8 62.1h1v1h-1zM343.9 68.2h1v1h-1zM328.5 65.4h1v1h-1zM330.5 55.5h1v1h-1zM324.9 58.8h1v1h-1zM338.8 60.8h1v1h-1zM334.4 49.8h1v1h-1zM351.6 65.9h1v1h-1zM354.2 57.9h1v1h-1zM349.2 48.0h1v1h-1zM338.1 65.1h1v1h-1zM350.0 53.0h1v1h-1zM355.9 57.4h1v1h-1zM354.0 49.7h1v1h-1zM335.1 60.1h1v1h-1zM347.6 61.5h1v1h-1zM342.9 57.0h1v1h-1zM350.1 63.3h1v1h-1zM320.3 56.2h1v1h-1zM340.0 59.1h1v1h-1zM358.2 50.2h1v1h-1zM351.0 47.8h1v1h-1zM331.8 55.0h1v1h-1zM339.0 54.5h1v1h-1zM335.4 56.1h1v1h-1zM339.0 47.1h1v1h-1zM322.1 55.6h1v1h-1zM351.0 64.2h1v1h-1zM331.3 59.2h1v1h-1zM353.3 59.0h1v1h-1zM327.2 57.6h1v1h-1zM342.5 49.8h1v1h-1zM325.1 65.3h1v1h-1zM309.8 59.2h1v1h-1zM339.2 66.5h1v1h-1zM352.2 53.0h1v1h-1zM361.9 54.8h1v1h-1zM372.8 68.1h1v1h-1zM341.9 62.8h1v1h-1zM345.9 52.8h1v1h-1zM359.0 60.7h1v1h-1zM355.8 64.6h1v1h-1zM364.3 64.4h1v1h-1zM341.9 58.8h1v1h-1zM349.4 57.5h1v1h-1zM339.8 69.3h1v1h-1zM350.6 69.5h1v1h-1zM331.9 58.0h1v1h-1zM336.8 55.9h1v1h-1zM339.0 57.5h1v1h-1zM336.9 69.0h1v1h-1zM353.4 53.9h1v1h-1zM335.2 62.7h1v1h-1zM351.4 54.7h1v1h-1zM357.1 49.8h1v1h-1zM336.3 68.5h1v1h-1zM304.7 57.1h1v1h-1zM358.0 57.4h1v1h-1zM331.8 53.0h1v1h-1zM312.5 50.4h1v1h-1zM344.4 54.9h1v1h-1zM343.2 57.4h1v1h-1zM347.6 48.4h1v1h-1zM338.8 56.3h1v1h-1zM338.8 53.0h1v1h-1zM310.8 62.0h1v1h-1zM355.5 72.4h1v1h-1zM354.2 68.0h1v1h-1zM352.2 56.0h1v1h-1zM350.7 51.4h1v1h-1zM347.0 57.6h1v1h-1zM327.7 65.6h1v1h-1zM360.0 61.0h1v1h-1zM355.5 68.1h1v1h-1zM341.4 50.3h1v1h-1zM329.3 62.5h1v1h-1zM346.8 49.5h1v1h-1zM363.1 59.6h1v1h-1zM367.4 65.0h1v1h-1zM337.0 58.9h1v1h-1zM332.6 53.3h1v1h-1zM339.1 61.3h1v1h-1zM363.9 53.1h1v1h-1zM354.0 58.6h1v1h-1zM340.3 65.1h1v1h-1zM338.4 66.6h1v1h-1zM338.7 52.9h1v1h-1zM355.1 49.8h1v1h-1zM326.1 57.3h1v1h-1zM343.8 56.9h1v1h-1zM314.4 50.5h1v1h-1zM351.4 61.7h1v1h-1zM328.8 60.1h1v1h-1zM346.9 64.5h1v1h-1zM332.9 67.2h1v1h-1zM339.4 67.1h1v1h-1zM357.7 52.5h1v1h-1zM339.3 60.2h1v1h-1zM359.1 50.2h1v1h-1zM336.5 62.2h1v1h-1zM351.1 52.2h1v1h-1zM330.5 61.1h1v1h-1zM328.6 59.9h1v1h-1zM357.6 58.6h1v1h-1zM303.9 65.5h1v1h-1zM361.1 67.0h1v1h-1zM356.7 48.5h1v1h-1zM365.1 60.6h1v1h-1zM357.9 57.6h1v1h-1zM340.3 57.1h1v1h-1z" fill="#ff0000" fill-opacity="0.3"/>
<path d="M366.1 95.1h1v1h-1zM341.1 85.9h1v1h-1zM350.4 93.6h1v1h-1zM346.1 99.4h1v1h-1zM354.0 93.5h1v1h-1zM346.9 94.1h1v1h-1zM353.9 97.6h1v1h-1zM345.9 88.4h1v1h-1zM355.7 98.9h1v1h-1zM329.0 95.8h1v1h-1zM338.5 80.4h1v1h-1zM343.2 99.2h1v1h-1zM333.6 89.3h1v1h-1zM358.0 86.9h1v1h-1zM330.6 91.6h1v1h-1zM352.5 97.2h1v1h-1zM336.4 91.6h1v1h-1zM345.0 91.1h1v1h-1zM331.7 86.9h1v1h-1zM353.7 92.1h1v1h-1zM333.2 93.4h1v1h-1zM348.5 95.8h1v1h-1zM349.9 96.1h1v1h-1zM341.8 97.3h1v1h-1zM374.2 90.8h1v1h-1zM338.4 97.7h1v1h-1zM361.1 98.3h1v1h-1zM360.7 93.1h1v1h-1zM340.5 97.3h1v1h-1zM353.1 103.4h1v1h-1zM365.4 82.5h1v1h-1zM354.5 89.4h1v1h-1zM314.3 95.8h1v1h-1zM341.3 91.3h1v1h-1zM325.7 87.3h1v1h-1zM340.6 84.5h1v1h-1zM342.1 94.1h1v1h-1zM341.4 95.2h1v1h-1zM342.6 86.4h1v1h-1zM329.1 94.2h1v1h-1zM357.0 94.2h1v1h-1zM336.5 94.3h1v1h-1zM318.3 87.4h1v1h-1zM338.2 92.9h1v1h-1zM338.9 91.7h1v1h-1zM326.9 89.9h1v1h-1zM346.9 82.3h1v1h-1zM326.7 91.2h1v1h-1zM364.1 97.3h1v1h-1zM365.2 101.3h1v1h-1zM337.1 92.9h1v1h-1zM327.0 100.3h1v1h-1zM353.6 96.8h1v1h-1zM352.7 96.1h1v1h-1zM346.3 95.0h1v1h-1zM360.3 88.6h1v1h-1zM328.8 93.3h1v1h-1zM359.6 94.7h1v1h-1zM340.6 98.3h1v1h-1zM345.0 82.0h1v1h-1zM329.4 80.8h1v1h-1zM340.4 90.6h1v1h-1zM349.6 105.9h1v1h-1zM335.1 93.4h1v1h-1zM338.1 76.5h1v1h-1zM332.8 89.0h1v1h-1zM347.3 88.3h1v1h-1zM325.5 96.9h1v1h-1zM342.6 88.0h1v1h-1z" fill="#ff0000" fill-opacity="0.3"/>
<path d="M307.6 55.2h1v1h-1zM312.4 63.8h1v1h-1zM311.7 52.2h1v1h-1zM309.4 59.6h1v1h-1zM305.7 64.7h1v1h-1zM304.8 64.0h1v1h-1zM306.1 56.8h1v1h-1zM313.0 68.6h1v1h-1zM309.9 63.5h1v1h-1zM313.3 56.4h1v1h-1zM310.9 67.0h1v1h-1zM307.5 58.8h1v1h-1zM312.1 58.9h1v1h-1zM308.8 54.2h1v1h-1zM310.9 68.3h1v1h-1zM309.6 68.9h1v1h-1zM312.3 61.8h1v1h-1zM309.4 63.0h1v1h-1zM304.4 56.7h1v1h-1zM307.3 67.6h1v1h-1zM310.9 55.4h1v1h-1zM304.8 54.7h1v1h-1zM308.3 56.4h1v1h-1zM309.9 61.0h1v1h-1zM308.2 64.8h1v1h-1zM308.2 61.5h1v1h-1zM309.6 56.1h1v1h-1zM313.7 61.5h1v1h-1zM306.6 62.8h1v1h-1zM307.8 62.8h1v1h-1zM303.8 68.2h1v1h-1zM306.7 56.0h1v1h-1zM308.2 60.2h1v1h-1zM303.4 50.9h1v1h-1zM312.6 60.6h1v1h-1zM307.4 67.5h1v1h-1zM306.1 62.1h1v1h-1zM311.9 51.7h1v1h-1zM307.6 63.3h1v1h-1zM311.1 57.6h1v1h-1z" fill="#ff0000" fill-opacity="0.32"/>
<path d="M312.0 87.1h1v1h-1zM324.3 74.4h1v1h-1zM318.2 80.3h1v1h-1zM326.2 73.1h1v1h-1zM311.4 83.0h1v1h-1zM326.3 70.5h1v1h-1zM325.9 72.6h1v1h-1zM313.9 79.9h1v1h-1zM325.3 73.8h1v1h-1zM324.1 76.6h1v1h-1zM311.0 84.4h1v1h-1zM317.2 80.4h1v1h-1zM312.7 85.5h1v1h-1zM325.9 73.3h1v1h-1zM312.5 86.3h1v1h-1zM325.9 73.5h1v1h-1zM311.2 83.6h1v1h-1zM325.3 74.0h1v1h-1zM323.8 73.3h1v1h-1zM321.2 77.4h1v1h-1zM313.3 84.5h1v1h-1zM320.3 74.8h1v1h-1zM321.0 76.5h1v1h-1zM313.3 82.6h1v1h-1zM326.7 68.9h1v1h-1zM327.7 74.1h1v1h-1zM322.1 79.0h1v1h-1zM324.7 71.4h1v1h-1zM313.2 83.1h1v1h-1zM312.3 88.7h1v1h-1zM309.9 83.9h1v1h-1zM320.8 77.6h1v1h-1zM327.3 69.9h1v1h-1zM322.6 71.8h1v1h-1zM314.0 86.7h1v1h-1zM324.3 75.0h1v1h-1zM325.8 71.4h1v1h-1zM315.7 79.8h1v1h-1zM316.6 79.9h1v1h-1zM316.5 79.9h1v1h-1zM310.8 85.0h1v1h-1zM312.0 84.0h1v1h-1zM317.1 82.6h1v1h-1zM313.5 78.7h1v1h-1zM317.7 79.1h1v1h-1zM315.3 83.2h1v1h-1zM324.3 76.2h1v1h-1zM310.0 84.8h1v1h-1zM311.0 89.2h1v1h-1zM326.5 74.2h1v1h-1z" fill="#ff0000" fill-opacity="0.45"/>
</g>
<rect x="291.40" y="33.30" width="85" height="84.2" fill="none" stroke="#666" stroke-width="0.9"/>
<line x1="316.10" y1="33.30" x2="316.10" y2="117.50" stroke="#555" stroke-width="1.1"/>
<line x1="291.40" y1="82.10" x2="376.40" y2="82.10" stroke="#555" stroke-width="1.1"/>
<text x="293.70" y="42.50" font-size="8.8" text-anchor="start" fill="#1a1a1a" textLength="21.00" lengthAdjust="spacingAndGlyphs" >0.69%</text>
<text x="373.60" y="42.50" font-size="8.8" text-anchor="end" fill="#1a1a1a" textLength="21.00" lengthAdjust="spacingAndGlyphs" >3.86%</text>
<text x="293.70" y="115.70" font-size="8.8" text-anchor="start" fill="#1a1a1a" textLength="21.00" lengthAdjust="spacingAndGlyphs" >94.3%</text>
<text x="373.60" y="115.70" font-size="8.8" text-anchor="end" fill="#1a1a1a" textLength="21.00" lengthAdjust="spacingAndGlyphs" >1.13%</text>
<path d="M289.2 93.3h2.2M290.2 85.8h1.2M290.2 81.4h1.2M290.2 78.2h1.2M290.2 75.8h1.2M290.2 73.8h1.2M290.2 72.2h1.2M290.2 70.7h1.2M290.2 69.4h1.2M289.2 68.3h2.2M290.2 61.0h1.2M290.2 56.8h1.2M290.2 53.8h1.2M290.2 51.5h1.2M290.2 49.5h1.2M290.2 47.9h1.2M290.2 46.5h1.2M290.2 45.3h1.2M289.2 44.2h2.2M290.2 36.9h1.2M290.2 95.3h1.2M290.2 99.3h1.2M290.2 103.3h1.2M290.2 106.3h1.2M290.2 109.3h1.2M290.2 110.8h1.2" stroke="#666" stroke-width="0.5" fill="none"/>
<text x="0" y="0" font-size="4.2" fill="#555" text-anchor="middle" style="stroke:none" transform="translate(286.1,44.2) rotate(-90)">10⁴</text>
<text x="0" y="0" font-size="4.2" fill="#555" text-anchor="middle" style="stroke:none" transform="translate(286.1,68.3) rotate(-90)">10³</text>
<text x="0" y="0" font-size="4.2" fill="#555" text-anchor="middle" style="stroke:none" transform="translate(286.1,93.3) rotate(-90)">10²</text>
<text x="0" y="0" font-size="4.2" fill="#555" text-anchor="middle" style="stroke:none" transform="translate(286.1,110.8) rotate(-90)">0</text>
<path d="M316.1 117.5v2.0M324.0 117.5v1.1M328.6 117.5v1.1M331.8 117.5v1.1M334.3 117.5v1.1M336.4 117.5v1.1M338.2 117.5v1.1M339.7 117.5v1.1M341.0 117.5v1.1M342.2 117.5v2.0M349.6 117.5v1.1M354.0 117.5v1.1M357.1 117.5v1.1M359.5 117.5v1.1M361.4 117.5v1.1M363.1 117.5v1.1M364.5 117.5v1.1M365.8 117.5v1.1M366.9 117.5v2.0M374.3 117.5v1.1M298.4 117.5v1.1M299.9 117.5v1.1M301.4 117.5v1.1M302.9 117.5v1.1M305.4 117.5v1.1M309.4 117.5v1.1M312.4 117.5v1.1" stroke="#666" stroke-width="0.5" fill="none"/>
<text x="300.9" y="128.3" font-size="4.2" fill="#555" text-anchor="middle" style="stroke:none">0</text>
<text x="316.1" y="128.3" font-size="4.2" fill="#555" text-anchor="middle" style="stroke:none">10²</text>
<text x="342.2" y="128.3" font-size="4.2" fill="#555" text-anchor="middle" style="stroke:none">10³</text>
<text x="366.9" y="128.3" font-size="4.2" fill="#555" text-anchor="middle" style="stroke:none">10⁴</text>
<rect x="395.30" y="33.30" width="85.00" height="84.20" fill="#ffffff" />
<g filter="url(#fs)">
<ellipse cx="406.10" cy="101.30" rx="4.86" ry="8.78" fill="#ff0000" filter="url(#fb)" transform="rotate(18 406.10 101.30)"/>
<path d="M414.4 93.7h1v1h-1zM411.4 92.6h1v1h-1zM404.2 92.2h1v1h-1zM405.2 107.1h1v1h-1zM406.8 101.0h1v1h-1zM405.7 100.4h1v1h-1zM410.2 95.1h1v1h-1zM405.4 101.2h1v1h-1zM406.7 97.4h1v1h-1zM408.9 91.3h1v1h-1zM411.9 96.3h1v1h-1zM407.2 94.8h1v1h-1zM408.2 102.2h1v1h-1zM405.0 104.3h1v1h-1zM400.9 115.0h1v1h-1zM412.5 106.1h1v1h-1zM410.8 96.6h1v1h-1zM401.6 102.8h1v1h-1zM409.8 98.2h1v1h-1zM409.1 91.9h1v1h-1zM403.2 107.0h1v1h-1zM403.7 102.3h1v1h-1zM406.0 96.7h1v1h-1zM408.6 99.7h1v1h-1zM411.1 103.8h1v1h-1zM405.5 105.1h1v1h-1zM400.4 115.5h1v1h-1zM408.4 96.3h1v1h-1zM410.1 94.9h1v1h-1zM404.5 110.6h1v1h-1zM406.7 98.6h1v1h-1zM408.1 105.6h1v1h-1zM406.0 98.3h1v1h-1zM404.1 108.5h1v1h-1zM406.6 104.0h1v1h-1zM407.6 96.2h1v1h-1zM403.1 107.9h1v1h-1zM407.4 100.4h1v1h-1zM411.9 106.3h1v1h-1zM408.4 96.3h1v1h-1zM401.3 114.2h1v1h-1zM401.3 102.3h1v1h-1zM406.1 108.4h1v1h-1zM403.7 106.4h1v1h-1zM405.0 103.6h1v1h-1zM404.0 106.8h1v1h-1zM400.7 105.0h1v1h-1zM399.4 96.4h1v1h-1zM408.5 101.2h1v1h-1zM412.9 102.1h1v1h-1zM407.6 94.7h1v1h-1zM407.0 95.0h1v1h-1zM403.3 96.9h1v1h-1zM413.8 97.1h1v1h-1zM409.1 100.6h1v1h-1zM408.8 93.1h1v1h-1zM404.4 104.6h1v1h-1zM406.8 97.9h1v1h-1zM408.2 102.4h1v1h-1zM399.7 107.7h1v1h-1zM410.5 88.0h1v1h-1zM408.0 102.1h1v1h-1zM401.8 107.5h1v1h-1zM401.8 114.7h1v1h-1zM412.9 91.0h1v1h-1zM406.2 103.4h1v1h-1zM409.1 90.9h1v1h-1zM405.3 102.2h1v1h-1zM407.8 107.0h1v1h-1zM405.7 112.3h1v1h-1zM411.0 102.1h1v1h-1zM407.7 103.8h1v1h-1zM403.0 98.4h1v1h-1zM412.1 87.0h1v1h-1zM407.7 97.0h1v1h-1zM399.9 105.5h1v1h-1zM411.0 90.3h1v1h-1zM404.5 103.4h1v1h-1zM403.1 96.4h1v1h-1zM404.3 100.0h1v1h-1zM407.6 105.0h1v1h-1zM408.5 98.2h1v1h-1zM407.5 103.2h1v1h-1zM404.2 111.8h1v1h-1zM406.5 106.7h1v1h-1zM407.1 98.6h1v1h-1zM408.6 104.8h1v1h-1zM409.0 111.9h1v1h-1zM408.6 94.3h1v1h-1zM408.8 89.8h1v1h-1zM413.1 92.0h1v1h-1zM401.4 105.1h1v1h-1zM407.2 104.2h1v1h-1zM404.1 113.3h1v1h-1zM405.6 102.0h1v1h-1zM405.4 105.6h1v1h-1zM404.0 97.1h1v1h-1zM401.7 107.3h1v1h-1zM408.9 100.4h1v1h-1zM409.2 102.1h1v1h-1zM410.8 94.9h1v1h-1zM405.3 91.3h1v1h-1zM408.9 94.8h1v1h-1zM404.1 95.6h1v1h-1zM400.7 108.0h1v1h-1zM407.0 100.9h1v1h-1zM408.2 98.7h1v1h-1zM404.3 105.2h1v1h-1zM402.0 107.4h1v1h-1zM409.2 94.8h1v1h-1zM409.4 95.5h1v1h-1zM405.1 100.2h1v1h-1zM406.1 105.6h1v1h-1zM412.4 82.1h1v1h-1zM407.1 102.7h1v1h-1zM404.4 96.7h1v1h-1zM407.6 102.8h1v1h-1zM407.1 86.7h1v1h-1zM400.6 95.0h1v1h-1zM409.7 98.3h1v1h-1zM409.0 94.6h1v1h-1zM409.4 96.0h1v1h-1zM408.0 106.8h1v1h-1zM408.7 102.8h1v1h-1zM403.9 103.4h1v1h-1zM401.0 110.1h1v1h-1zM412.2 104.8h1v1h-1zM401.8 106.0h1v1h-1zM403.9 102.6h1v1h-1zM402.5 98.9h1v1h-1zM401.5 101.1h1v1h-1zM406.2 104.0h1v1h-1zM410.0 108.9h1v1h-1zM406.9 89.5h1v1h-1zM407.0 94.3h1v1h-1zM403.1 106.6h1v1h-1zM404.5 96.4h1v1h-1zM406.5 96.8h1v1h-1zM402.5 99.2h1v1h-1zM407.8 101.4h1v1h-1zM401.9 102.3h1v1h-1zM406.3 107.3h1v1h-1zM402.1 102.0h1v1h-1zM409.8 91.9h1v1h-1zM405.0 93.3h1v1h-1zM406.4 107.9h1v1h-1zM408.0 106.7h1v1h-1zM400.8 105.9h1v1h-1zM403.6 108.8h1v1h-1zM409.2 105.7h1v1h-1zM409.2 105.7h1v1h-1zM404.9 101.3h1v1h-1zM407.4 96.6h1v1h-1zM410.0 90.4h1v1h-1zM405.0 100.0h1v1h-1zM405.8 84.8h1v1h-1zM401.8 104.9h1v1h-1zM400.9 109.4h1v1h-1zM401.4 102.1h1v1h-1zM407.1 97.0h1v1h-1zM409.2 106.7h1v1h-1zM399.9 106.0h1v1h-1zM405.6 101.2h1v1h-1zM409.2 97.8h1v1h-1zM401.1 111.0h1v1h-1zM407.1 109.9h1v1h-1zM413.4 96.3h1v1h-1zM402.8 112.4h1v1h-1zM402.6 112.5h1v1h-1zM405.0 109.4h1v1h-1zM408.9 96.0h1v1h-1zM405.2 99.7h1v1h-1zM406.8 93.1h1v1h-1zM412.1 94.5h1v1h-1zM411.1 88.8h1v1h-1zM404.3 96.1h1v1h-1zM402.2 105.2h1v1h-1zM402.7 108.9h1v1h-1zM404.9 103.3h1v1h-1zM407.0 106.4h1v1h-1zM407.2 98.4h1v1h-1zM400.3 112.0h1v1h-1zM400.7 112.5h1v1h-1zM403.0 96.0h1v1h-1zM403.5 94.1h1v1h-1zM409.3 98.3h1v1h-1zM404.6 100.3h1v1h-1zM406.8 94.0h1v1h-1zM406.2 90.7h1v1h-1zM402.0 114.0h1v1h-1zM410.1 96.1h1v1h-1zM400.8 110.3h1v1h-1zM403.0 99.3h1v1h-1zM413.6 92.4h1v1h-1zM413.8 92.3h1v1h-1zM404.8 108.6h1v1h-1zM401.6 110.4h1v1h-1zM407.5 103.9h1v1h-1zM408.1 99.8h1v1h-1zM407.9 100.2h1v1h-1zM400.4 100.3h1v1h-1zM402.1 100.4h1v1h-1zM403.7 94.1h1v1h-1zM403.3 106.2h1v1h-1zM410.4 100.1h1v1h-1zM403.8 105.6h1v1h-1zM412.9 88.6h1v1h-1zM405.8 99.2h1v1h-1zM402.6 105.4h1v1h-1zM408.7 101.6h1v1h-1zM403.1 104.3h1v1h-1zM405.6 111.8h1v1h-1zM401.4 113.4h1v1h-1zM408.4 103.7h1v1h-1zM405.4 104.3h1v1h-1zM405.5 100.3h1v1h-1zM406.0 96.5h1v1h-1zM404.3 103.6h1v1h-1zM409.7 92.3h1v1h-1zM405.7 113.3h1v1h-1zM408.7 87.6h1v1h-1zM404.4 106.4h1v1h-1zM405.6 101.6h1v1h-1zM403.3 100.7h1v1h-1zM400.5 107.9h1v1h-1zM410.5 102.0h1v1h-1zM403.5 108.3h1v1h-1zM404.5 100.7h1v1h-1zM406.7 97.9h1v1h-1zM401.7 109.5h1v1h-1zM405.9 105.4h1v1h-1zM404.4 103.7h1v1h-1zM404.8 106.2h1v1h-1zM404.6 101.6h1v1h-1zM413.2 88.4h1v1h-1zM402.9 105.8h1v1h-1zM407.3 100.6h1v1h-1zM410.3 95.9h1v1h-1zM406.7 106.9h1v1h-1zM398.9 105.5h1v1h-1zM403.7 104.4h1v1h-1zM406.2 109.6h1v1h-1zM403.9 106.6h1v1h-1zM411.2 95.8h1v1h-1zM414.7 94.2h1v1h-1zM407.2 109.3h1v1h-1zM404.7 108.6h1v1h-1zM407.7 92.6h1v1h-1zM404.2 105.0h1v1h-1zM403.4 103.3h1v1h-1zM408.8 96.9h1v1h-1zM404.3 106.3h1v1h-1zM404.1 93.7h1v1h-1zM398.2 113.4h1v1h-1zM406.3 95.3h1v1h-1zM402.0 106.5h1v1h-1zM405.6 105.3h1v1h-1zM409.3 94.4h1v1h-1zM408.6 93.6h1v1h-1zM403.7 106.0h1v1h-1zM407.2 95.3h1v1h-1zM407.4 100.6h1v1h-1zM406.7 85.0h1v1h-1zM404.6 104.4h1v1h-1zM406.6 101.6h1v1h-1zM405.3 99.9h1v1h-1zM407.6 102.7h1v1h-1zM405.3 103.5h1v1h-1zM409.2 94.9h1v1h-1zM407.1 93.2h1v1h-1zM406.0 102.3h1v1h-1zM405.8 109.1h1v1h-1zM404.1 104.0h1v1h-1zM405.5 100.9h1v1h-1zM403.2 112.7h1v1h-1zM405.4 96.3h1v1h-1zM400.8 108.3h1v1h-1zM405.7 103.8h1v1h-1zM401.2 107.2h1v1h-1zM405.5 104.4h1v1h-1zM407.8 107.7h1v1h-1zM405.3 101.7h1v1h-1zM400.3 105.5h1v1h-1zM403.1 101.5h1v1h-1zM404.8 92.1h1v1h-1zM412.2 91.7h1v1h-1zM404.3 107.0h1v1h-1zM403.7 107.9h1v1h-1zM404.4 97.1h1v1h-1zM406.4 107.0h1v1h-1zM401.0 108.6h1v1h-1zM403.2 98.2h1v1h-1zM405.2 109.3h1v1h-1zM404.8 104.6h1v1h-1zM405.5 100.1h1v1h-1zM401.8 107.7h1v1h-1zM404.7 107.3h1v1h-1zM404.7 93.6h1v1h-1zM407.9 96.4h1v1h-1zM410.8 93.9h1v1h-1zM404.8 109.2h1v1h-1zM404.0 88.4h1v1h-1zM408.0 108.4h1v1h-1zM408.4 99.4h1v1h-1zM405.1 99.1h1v1h-1zM402.3 107.2h1v1h-1zM408.6 108.6h1v1h-1zM411.3 102.5h1v1h-1zM411.7 94.0h1v1h-1zM412.9 104.1h1v1h-1zM403.9 100.9h1v1h-1zM398.2 110.3h1v1h-1zM403.0 103.5h1v1h-1zM402.5 110.1h1v1h-1zM403.9 106.9h1v1h-1zM403.1 92.3h1v1h-1zM402.4 113.1h1v1h-1zM408.0 93.8h1v1h-1zM399.8 106.3h1v1h-1zM400.0 115.7h1v1h-1zM410.4 100.4h1v1h-1zM402.9 101.8h1v1h-1zM405.1 107.7h1v1h-1zM400.9 107.7h1v1h-1zM410.5 94.8h1v1h-1zM401.4 96.4h1v1h-1zM409.2 98.2h1v1h-1zM411.2 98.0h1v1h-1zM407.1 98.0h1v1h-1zM407.9 90.1h1v1h-1zM408.1 100.7h1v1h-1zM408.5 103.6h1v1h-1zM411.4 87.4h1v1h-1zM403.7 99.3h1v1h-1zM404.2 100.3h1v1h-1zM404.1 103.7h1v1h-1zM402.5 103.6h1v1h-1zM404.1 109.8h1v1h-1zM401.4 112.6h1v1h-1zM407.7 98.2h1v1h-1zM404.5 97.3h1v1h-1zM405.9 101.3h1v1h-1zM406.7 96.7h1v1h-1zM408.8 95.2h1v1h-1zM413.9 94.4h1v1h-1zM408.5 102.4h1v1h-1zM409.9 93.9h1v1h-1zM409.0 101.4h1v1h-1zM399.6 105.3h1v1h-1zM399.3 107.2h1v1h-1zM402.7 109.9h1v1h-1zM410.9 94.3h1v1h-1zM403.4 100.6h1v1h-1zM409.2 97.0h1v1h-1zM407.1 91.6h1v1h-1zM399.6 112.5h1v1h-1zM406.4 104.1h1v1h-1zM406.1 108.4h1v1h-1zM410.9 84.5h1v1h-1zM401.1 108.1h1v1h-1zM402.3 113.3h1v1h-1zM410.6 94.0h1v1h-1zM399.6 113.2h1v1h-1zM402.4 104.0h1v1h-1zM407.8 97.7h1v1h-1zM405.8 105.0h1v1h-1zM412.0 105.1h1v1h-1zM403.8 92.4h1v1h-1zM405.2 105.1h1v1h-1zM414.2 93.8h1v1h-1zM404.0 95.4h1v1h-1zM406.8 104.7h1v1h-1zM396.2 115.0h1v1h-1zM408.5 92.8h1v1h-1zM407.0 98.4h1v1h-1zM403.6 95.2h1v1h-1zM409.1 99.2h1v1h-1zM402.4 105.8h1v1h-1zM405.9 105.2h1v1h-1zM406.4 97.8h1v1h-1zM413.5 104.5h1v1h-1zM403.3 101.5h1v1h-1zM405.0 99.8h1v1h-1zM397.5 106.5h1v1h-1zM411.0 95.1h1v1h-1zM405.2 104.1h1v1h-1zM400.8 104.7h1v1h-1zM402.1 102.6h1v1h-1zM410.6 93.5h1v1h-1zM407.1 95.8h1v1h-1zM401.8 104.4h1v1h-1zM410.7 107.6h1v1h-1zM409.2 101.1h1v1h-1zM400.8 105.1h1v1h-1zM409.5 92.5h1v1h-1zM411.4 87.6h1v1h-1zM406.7 103.6h1v1h-1zM408.6 105.7h1v1h-1zM410.6 100.6h1v1h-1zM406.2 105.4h1v1h-1zM409.1 101.4h1v1h-1zM409.9 97.3h1v1h-1zM401.6 108.0h1v1h-1zM406.4 94.5h1v1h-1zM407.2 101.6h1v1h-1zM409.1 109.1h1v1h-1zM402.9 112.3h1v1h-1zM403.8 97.7h1v1h-1zM405.5 107.4h1v1h-1zM406.3 99.5h1v1h-1zM399.4 98.1h1v1h-1zM407.1 101.4h1v1h-1zM403.5 99.6h1v1h-1zM407.3 102.3h1v1h-1zM404.6 114.3h1v1h-1zM404.5 105.3h1v1h-1zM408.1 92.3h1v1h-1zM409.2 92.5h1v1h-1zM406.3 109.5h1v1h-1zM403.9 107.4h1v1h-1zM402.9 107.6h1v1h-1zM411.3 88.9h1v1h-1zM401.3 100.0h1v1h-1zM400.8 95.5h1v1h-1zM410.5 99.6h1v1h-1zM411.2 98.6h1v1h-1zM403.5 102.2h1v1h-1zM412.5 90.7h1v1h-1zM400.5 104.3h1v1h-1zM410.1 99.9h1v1h-1zM409.0 97.0h1v1h-1zM408.4 87.8h1v1h-1zM401.1 105.0h1v1h-1zM405.9 90.7h1v1h-1zM402.8 97.4h1v1h-1zM407.9 101.3h1v1h-1zM401.3 111.0h1v1h-1zM403.7 112.5h1v1h-1zM408.1 100.6h1v1h-1zM406.4 112.9h1v1h-1zM404.0 106.3h1v1h-1zM404.6 107.1h1v1h-1zM406.4 102.8h1v1h-1zM398.4 112.1h1v1h-1zM403.3 99.9h1v1h-1zM407.0 108.2h1v1h-1zM401.8 109.9h1v1h-1zM408.1 102.6h1v1h-1zM406.4 103.0h1v1h-1zM406.4 103.1h1v1h-1zM407.6 101.2h1v1h-1zM408.6 91.6h1v1h-1zM409.1 92.8h1v1h-1zM409.3 97.3h1v1h-1zM399.7 108.4h1v1h-1zM408.9 96.8h1v1h-1zM404.7 111.7h1v1h-1zM404.9 104.3h1v1h-1zM408.2 99.0h1v1h-1zM405.3 104.9h1v1h-1zM403.2 96.1h1v1h-1zM407.2 95.6h1v1h-1zM409.8 94.3h1v1h-1zM408.8 92.0h1v1h-1zM407.4 104.6h1v1h-1zM408.8 104.3h1v1h-1zM405.5 96.9h1v1h-1zM401.1 107.7h1v1h-1zM401.8 98.7h1v1h-1zM405.3 109.5h1v1h-1zM403.2 94.8h1v1h-1zM406.2 103.4h1v1h-1zM408.2 110.9h1v1h-1zM404.9 102.8h1v1h-1zM405.9 99.6h1v1h-1zM407.0 91.7h1v1h-1zM401.9 99.2h1v1h-1zM412.6 94.2h1v1h-1zM409.9 97.9h1v1h-1zM403.4 108.6h1v1h-1zM403.6 106.7h1v1h-1zM407.9 95.7h1v1h-1zM406.3 102.1h1v1h-1zM404.9 101.5h1v1h-1zM403.0 108.2h1v1h-1zM409.6 99.7h1v1h-1zM408.5 95.0h1v1h-1zM402.7 111.1h1v1h-1zM402.0 110.5h1v1h-1zM406.9 98.1h1v1h-1zM406.5 97.6h1v1h-1zM409.3 99.5h1v1h-1zM404.6 103.9h1v1h-1zM416.5 100.0h1v1h-1zM410.4 101.7h1v1h-1zM407.0 93.2h1v1h-1zM400.2 108.4h1v1h-1zM408.6 94.6h1v1h-1zM407.1 96.6h1v1h-1zM408.1 103.5h1v1h-1zM406.5 103.1h1v1h-1zM406.7 111.6h1v1h-1zM402.0 97.5h1v1h-1zM411.4 96.2h1v1h-1zM405.4 97.8h1v1h-1zM411.5 100.3h1v1h-1zM405.0 101.6h1v1h-1zM404.9 96.0h1v1h-1zM404.9 102.3h1v1h-1zM400.8 107.5h1v1h-1zM409.2 88.7h1v1h-1zM411.3 106.1h1v1h-1zM404.0 100.3h1v1h-1zM404.6 99.4h1v1h-1zM408.3 96.7h1v1h-1zM403.6 102.9h1v1h-1zM403.2 108.7h1v1h-1zM404.5 101.9h1v1h-1zM406.3 104.4h1v1h-1zM402.3 105.1h1v1h-1zM403.0 105.2h1v1h-1zM407.9 103.1h1v1h-1zM401.2 111.0h1v1h-1zM409.2 94.7h1v1h-1zM402.3 109.3h1v1h-1zM405.6 112.6h1v1h-1zM401.2 108.1h1v1h-1zM405.9 111.7h1v1h-1zM402.5 109.6h1v1h-1zM410.2 101.5h1v1h-1zM404.3 103.6h1v1h-1zM408.9 96.6h1v1h-1zM411.0 93.5h1v1h-1zM401.6 101.2h1v1h-1zM408.2 105.9h1v1h-1zM401.9 102.0h1v1h-1zM409.8 98.6h1v1h-1zM408.3 92.9h1v1h-1zM402.6 108.8h1v1h-1zM409.7 98.8h1v1h-1zM403.3 112.5h1v1h-1zM405.0 91.5h1v1h-1zM401.9 98.2h1v1h-1zM408.8 102.1h1v1h-1zM412.1 84.3h1v1h-1zM403.9 103.2h1v1h-1zM406.5 104.7h1v1h-1zM410.8 111.2h1v1h-1zM402.9 102.8h1v1h-1zM405.3 93.8h1v1h-1zM405.3 106.6h1v1h-1zM405.5 104.9h1v1h-1zM405.2 113.1h1v1h-1zM401.8 107.5h1v1h-1zM403.4 98.3h1v1h-1zM407.9 97.5h1v1h-1zM407.4 93.1h1v1h-1zM400.7 114.5h1v1h-1zM406.4 90.7h1v1h-1zM408.6 101.9h1v1h-1zM408.7 102.0h1v1h-1zM402.4 102.6h1v1h-1zM402.4 107.9h1v1h-1zM399.9 113.3h1v1h-1zM405.0 100.2h1v1h-1zM408.0 100.4h1v1h-1zM409.8 101.7h1v1h-1zM409.3 106.0h1v1h-1zM409.4 103.5h1v1h-1zM402.8 109.3h1v1h-1zM404.3 105.1h1v1h-1zM405.9 101.1h1v1h-1zM402.4 102.5h1v1h-1zM404.4 101.5h1v1h-1zM404.1 113.3h1v1h-1zM408.4 115.0h1v1h-1zM410.4 107.0h1v1h-1zM406.9 104.9h1v1h-1zM408.7 95.8h1v1h-1zM404.0 111.6h1v1h-1zM407.1 99.4h1v1h-1zM406.1 96.4h1v1h-1zM412.6 93.7h1v1h-1zM403.2 108.8h1v1h-1zM408.7 93.0h1v1h-1zM397.7 113.5h1v1h-1zM406.1 98.1h1v1h-1zM400.8 105.8h1v1h-1zM403.3 102.8h1v1h-1zM403.7 98.4h1v1h-1zM403.5 104.8h1v1h-1zM410.5 99.2h1v1h-1zM411.6 106.5h1v1h-1zM405.3 104.7h1v1h-1zM413.2 105.5h1v1h-1zM402.3 109.7h1v1h-1zM404.0 103.5h1v1h-1zM403.2 105.7h1v1h-1zM408.7 98.8h1v1h-1zM405.1 111.6h1v1h-1zM404.4 106.8h1v1h-1zM411.6 86.2h1v1h-1zM408.1 101.1h1v1h-1zM403.9 114.0h1v1h-1zM410.4 90.7h1v1h-1zM408.6 101.1h1v1h-1zM401.1 99.5h1v1h-1zM407.5 95.7h1v1h-1zM410.8 88.4h1v1h-1zM409.7 101.0h1v1h-1zM404.7 100.4h1v1h-1zM406.5 101.0h1v1h-1zM401.2 107.1h1v1h-1zM419.0 89.9h1v1h-1zM404.4 106.7h1v1h-1zM397.1 116.3h1v1h-1zM406.9 96.1h1v1h-1zM403.7 104.4h1v1h-1zM403.2 106.4h1v1h-1zM404.2 110.6h1v1h-1zM410.1 90.9h1v1h-1zM408.5 94.1h1v1h-1zM412.2 103.9h1v1h-1zM402.3 98.5h1v1h-1zM402.7 101.1h1v1h-1zM403.5 114.2h1v1h-1zM401.2 111.4h1v1h-1zM409.5 95.1h1v1h-1zM406.9 91.6h1v1h-1zM407.6 96.4h1v1h-1zM404.3 89.5h1v1h-1zM401.1 110.3h1v1h-1zM408.2 100.9h1v1h-1zM403.3 103.7h1v1h-1zM411.6 100.3h1v1h-1zM405.0 110.5h1v1h-1zM396.9 110.5h1v1h-1zM405.0 102.2h1v1h-1zM411.8 89.4h1v1h-1zM405.2 106.1h1v1h-1zM410.0 89.6h1v1h-1zM404.9 102.8h1v1h-1zM406.8 104.0h1v1h-1zM403.2 111.2h1v1h-1zM407.5 104.4h1v1h-1zM405.4 101.0h1v1h-1zM397.2 107.7h1v1h-1zM416.1 92.3h1v1h-1zM405.8 107.2h1v1h-1zM406.1 104.1h1v1h-1zM407.7 95.3h1v1h-1zM411.8 96.3h1v1h-1zM405.2 106.3h1v1h-1zM404.8 104.3h1v1h-1zM413.6 96.1h1v1h-1zM404.0 106.0h1v1h-1zM408.1 107.1h1v1h-1zM405.0 110.3h1v1h-1zM403.5 107.1h1v1h-1zM405.4 111.7h1v1h-1zM400.2 106.8h1v1h-1zM406.3 106.8h1v1h-1zM397.1 104.5h1v1h-1zM411.5 89.9h1v1h-1zM409.5 96.0h1v1h-1zM408.7 102.1h1v1h-1zM404.6 97.0h1v1h-1zM404.1 104.9h1v1h-1zM403.6 92.0h1v1h-1zM401.3 98.1h1v1h-1zM408.2 94.8h1v1h-1zM407.4 104.6h1v1h-1zM409.3 97.2h1v1h-1zM401.9 108.7h1v1h-1zM401.4 99.3h1v1h-1zM404.4 94.8h1v1h-1zM403.9 105.8h1v1h-1zM402.7 112.3h1v1h-1zM405.5 107.4h1v1h-1zM402.7 101.9h1v1h-1zM401.7 112.5h1v1h-1zM409.1 88.9h1v1h-1zM412.1 95.6h1v1h-1zM407.7 110.1h1v1h-1zM398.9 115.4h1v1h-1zM408.2 88.2h1v1h-1zM397.7 101.5h1v1h-1zM409.9 98.5h1v1h-1zM407.9 95.9h1v1h-1zM413.2 97.4h1v1h-1zM398.4 113.5h1v1h-1zM408.6 96.2h1v1h-1zM405.6 106.8h1v1h-1zM407.2 107.2h1v1h-1zM408.3 112.0h1v1h-1zM404.4 102.9h1v1h-1zM412.5 104.2h1v1h-1zM406.0 108.8h1v1h-1zM406.2 112.7h1v1h-1zM407.7 104.7h1v1h-1zM403.0 107.6h1v1h-1zM409.5 91.4h1v1h-1zM407.6 97.7h1v1h-1zM405.3 110.5h1v1h-1zM406.9 94.0h1v1h-1zM408.8 104.9h1v1h-1zM406.9 102.1h1v1h-1zM408.6 91.7h1v1h-1zM408.7 97.1h1v1h-1zM404.4 99.4h1v1h-1zM409.4 95.0h1v1h-1zM410.9 98.8h1v1h-1zM405.0 102.7h1v1h-1zM400.5 106.7h1v1h-1zM401.8 107.2h1v1h-1zM402.4 105.9h1v1h-1zM403.4 93.5h1v1h-1zM407.3 102.5h1v1h-1zM414.5 94.2h1v1h-1zM403.0 100.4h1v1h-1zM400.1 114.3h1v1h-1zM401.2 116.2h1v1h-1zM407.0 101.9h1v1h-1zM411.6 94.9h1v1h-1zM405.9 104.8h1v1h-1zM404.3 96.6h1v1h-1zM407.5 104.8h1v1h-1zM405.2 102.3h1v1h-1zM409.4 98.8h1v1h-1zM402.0 111.0h1v1h-1zM415.0 98.4h1v1h-1zM410.7 91.5h1v1h-1zM410.0 102.2h1v1h-1zM401.9 98.9h1v1h-1zM409.2 94.1h1v1h-1zM404.3 100.7h1v1h-1zM403.2 96.2h1v1h-1zM408.1 91.0h1v1h-1zM407.4 96.8h1v1h-1zM413.4 95.3h1v1h-1zM412.9 90.8h1v1h-1zM409.1 106.8h1v1h-1zM399.0 109.4h1v1h-1zM407.3 104.8h1v1h-1zM405.2 108.4h1v1h-1zM411.1 99.3h1v1h-1zM405.1 100.4h1v1h-1zM404.4 102.5h1v1h-1zM408.1 97.5h1v1h-1zM404.7 101.9h1v1h-1zM402.0 102.9h1v1h-1zM405.6 105.3h1v1h-1zM407.2 102.9h1v1h-1zM408.4 101.2h1v1h-1zM406.3 106.0h1v1h-1zM408.5 102.8h1v1h-1zM410.1 102.0h1v1h-1zM409.9 102.4h1v1h-1zM405.4 103.5h1v1h-1zM410.3 95.9h1v1h-1zM405.4 104.3h1v1h-1zM405.5 104.7h1v1h-1zM405.2 94.6h1v1h-1zM405.0 106.2h1v1h-1zM407.8 114.0h1v1h-1zM405.8 108.0h1v1h-1zM405.0 105.7h1v1h-1zM400.5 95.0h1v1h-1zM405.8 107.5h1v1h-1zM406.4 102.2h1v1h-1zM406.2 109.2h1v1h-1zM405.0 102.9h1v1h-1zM406.8 106.7h1v1h-1zM398.1 115.5h1v1h-1zM402.5 104.3h1v1h-1zM413.7 101.3h1v1h-1zM406.8 99.0h1v1h-1zM409.9 99.0h1v1h-1zM402.6 97.4h1v1h-1zM408.0 103.7h1v1h-1zM406.6 101.9h1v1h-1zM405.3 96.3h1v1h-1zM403.0 100.7h1v1h-1zM404.5 97.9h1v1h-1zM408.9 101.0h1v1h-1zM409.3 102.7h1v1h-1zM404.8 104.0h1v1h-1zM408.6 95.8h1v1h-1zM411.1 94.8h1v1h-1zM405.6 91.4h1v1h-1zM403.7 94.3h1v1h-1zM403.7 101.5h1v1h-1zM409.0 99.2h1v1h-1zM410.9 86.8h1v1h-1zM408.0 105.0h1v1h-1zM403.9 101.8h1v1h-1zM406.3 108.7h1v1h-1zM410.4 101.7h1v1h-1zM402.8 102.0h1v1h-1zM407.9 107.6h1v1h-1zM415.6 87.5h1v1h-1zM412.6 97.8h1v1h-1zM405.9 103.3h1v1h-1zM401.7 110.5h1v1h-1zM398.3 114.4h1v1h-1zM404.6 96.5h1v1h-1zM404.6 105.1h1v1h-1zM407.1 108.0h1v1h-1zM407.1 107.9h1v1h-1zM403.2 108.7h1v1h-1zM405.3 95.6h1v1h-1zM402.8 105.9h1v1h-1zM406.2 94.2h1v1h-1zM407.3 100.2h1v1h-1zM403.9 98.7h1v1h-1zM398.7 102.6h1v1h-1zM409.7 100.2h1v1h-1zM408.7 104.2h1v1h-1zM407.4 102.5h1v1h-1zM404.8 101.0h1v1h-1zM407.8 104.6h1v1h-1zM408.8 87.3h1v1h-1zM408.7 86.3h1v1h-1zM408.0 92.0h1v1h-1zM409.4 99.9h1v1h-1zM400.8 108.2h1v1h-1zM409.0 98.2h1v1h-1zM406.6 96.2h1v1h-1zM412.7 89.4h1v1h-1zM402.8 101.5h1v1h-1zM406.5 91.0h1v1h-1zM403.7 103.2h1v1h-1zM408.2 92.4h1v1h-1zM407.4 107.7h1v1h-1zM403.1 109.8h1v1h-1zM406.3 102.9h1v1h-1zM406.1 106.0h1v1h-1zM406.5 94.0h1v1h-1zM409.0 99.2h1v1h-1zM405.3 96.9h1v1h-1zM407.5 109.2h1v1h-1zM408.0 95.0h1v1h-1zM402.2 108.2h1v1h-1zM400.0 105.6h1v1h-1zM408.4 100.3h1v1h-1zM404.9 112.1h1v1h-1zM405.9 88.9h1v1h-1zM410.5 96.2h1v1h-1zM407.2 106.9h1v1h-1zM402.8 105.0h1v1h-1zM404.6 97.6h1v1h-1zM400.6 105.2h1v1h-1zM406.6 101.7h1v1h-1zM401.0 108.3h1v1h-1zM402.4 102.6h1v1h-1zM402.6 107.4h1v1h-1zM404.3 98.0h1v1h-1zM405.8 96.4h1v1h-1zM410.7 98.2h1v1h-1zM409.2 94.8h1v1h-1zM400.9 105.3h1v1h-1zM412.7 87.4h1v1h-1zM408.1 89.4h1v1h-1zM407.1 100.7h1v1h-1zM404.8 98.6h1v1h-1zM404.3 107.7h1v1h-1zM398.9 112.7h1v1h-1zM406.2 100.4h1v1h-1zM405.4 104.8h1v1h-1zM411.3 103.2h1v1h-1zM407.7 100.5h1v1h-1zM404.0 101.7h1v1h-1zM399.2 104.0h1v1h-1zM399.1 106.9h1v1h-1zM407.1 99.1h1v1h-1zM405.9 97.3h1v1h-1zM409.6 111.3h1v1h-1zM404.0 108.0h1v1h-1zM405.6 96.2h1v1h-1zM405.5 109.9h1v1h-1zM405.6 110.7h1v1h-1zM401.2 109.1h1v1h-1zM405.3 94.9h1v1h-1zM405.6 100.7h1v1h-1zM402.6 100.6h1v1h-1zM407.8 103.0h1v1h-1zM398.6 98.8h1v1h-1zM405.2 100.5h1v1h-1zM403.4 106.8h1v1h-1zM403.5 104.8h1v1h-1zM407.9 104.2h1v1h-1zM407.6 99.6h1v1h-1zM407.3 102.7h1v1h-1zM407.7 100.8h1v1h-1zM409.9 88.9h1v1h-1zM405.9 107.1h1v1h-1zM406.3 94.0h1v1h-1zM406.1 104.0h1v1h-1zM405.1 104.1h1v1h-1zM408.6 102.8h1v1h-1zM404.7 93.6h1v1h-1zM401.6 106.8h1v1h-1zM402.6 104.8h1v1h-1zM412.9 95.4h1v1h-1zM402.5 99.1h1v1h-1zM406.2 99.4h1v1h-1zM407.0 99.8h1v1h-1zM408.1 93.2h1v1h-1zM406.6 104.5h1v1h-1zM403.7 100.7h1v1h-1zM414.8 89.7h1v1h-1zM407.6 93.3h1v1h-1zM407.2 101.5h1v1h-1zM404.0 100.0h1v1h-1zM411.7 102.8h1v1h-1zM399.4 116.9h1v1h-1zM399.8 103.4h1v1h-1zM407.5 103.1h1v1h-1zM411.7 100.9h1v1h-1zM405.6 107.3h1v1h-1zM410.8 83.5h1v1h-1zM403.1 105.1h1v1h-1zM408.8 89.1h1v1h-1zM404.2 111.5h1v1h-1zM404.5 106.8h1v1h-1zM414.1 95.3h1v1h-1zM404.2 108.1h1v1h-1zM402.1 97.0h1v1h-1zM406.8 98.2h1v1h-1zM412.0 96.5h1v1h-1zM402.8 107.4h1v1h-1zM403.8 106.9h1v1h-1zM404.2 102.4h1v1h-1zM396.1 115.6h1v1h-1zM409.2 101.2h1v1h-1zM399.3 106.1h1v1h-1zM408.1 94.9h1v1h-1zM406.2 95.3h1v1h-1zM406.3 99.3h1v1h-1zM398.9 106.5h1v1h-1zM402.9 107.7h1v1h-1zM403.7 104.5h1v1h-1zM402.0 108.3h1v1h-1zM410.5 101.1h1v1h-1zM409.0 100.8h1v1h-1zM401.0 109.9h1v1h-1zM404.6 115.5h1v1h-1zM407.2 100.0h1v1h-1zM408.6 96.9h1v1h-1zM406.7 107.9h1v1h-1zM404.2 102.2h1v1h-1zM405.1 96.1h1v1h-1zM408.4 100.1h1v1h-1zM405.7 96.8h1v1h-1zM410.2 95.0h1v1h-1zM402.4 97.9h1v1h-1zM406.2 109.4h1v1h-1zM405.1 101.0h1v1h-1zM403.7 100.1h1v1h-1zM407.4 109.1h1v1h-1zM404.2 108.1h1v1h-1zM407.0 103.3h1v1h-1zM399.8 111.4h1v1h-1zM404.3 100.4h1v1h-1zM409.9 93.8h1v1h-1zM400.5 107.4h1v1h-1zM405.5 108.2h1v1h-1zM408.6 105.6h1v1h-1zM412.0 98.6h1v1h-1zM408.4 99.5h1v1h-1zM412.4 92.3h1v1h-1zM404.5 100.8h1v1h-1zM409.1 94.8h1v1h-1zM404.3 110.3h1v1h-1zM404.9 98.2h1v1h-1zM407.8 94.1h1v1h-1zM409.0 90.5h1v1h-1zM403.3 108.1h1v1h-1zM404.9 99.6h1v1h-1zM406.1 106.4h1v1h-1zM400.8 109.6h1v1h-1zM407.2 93.3h1v1h-1zM408.9 93.1h1v1h-1zM404.8 97.4h1v1h-1zM408.9 101.8h1v1h-1zM402.7 105.0h1v1h-1zM406.8 101.6h1v1h-1zM403.6 104.9h1v1h-1zM410.1 93.1h1v1h-1zM407.5 94.4h1v1h-1zM409.2 100.2h1v1h-1zM407.7 98.2h1v1h-1zM405.1 99.1h1v1h-1zM402.7 106.2h1v1h-1zM405.7 104.4h1v1h-1zM406.2 87.5h1v1h-1zM414.5 81.1h1v1h-1zM404.1 102.2h1v1h-1zM406.5 97.3h1v1h-1zM407.5 96.9h1v1h-1zM403.8 99.9h1v1h-1zM405.3 111.2h1v1h-1zM412.9 100.6h1v1h-1zM401.7 108.1h1v1h-1zM402.6 97.5h1v1h-1zM409.7 99.4h1v1h-1zM402.6 96.8h1v1h-1zM407.5 113.3h1v1h-1zM398.4 109.3h1v1h-1zM401.9 105.6h1v1h-1zM408.3 100.9h1v1h-1zM400.7 110.3h1v1h-1zM403.6 97.6h1v1h-1zM403.5 100.2h1v1h-1zM409.3 98.7h1v1h-1zM406.4 101.2h1v1h-1zM407.6 103.7h1v1h-1zM399.6 108.9h1v1h-1zM411.4 91.3h1v1h-1zM408.1 107.0h1v1h-1zM408.8 107.9h1v1h-1zM403.2 103.8h1v1h-1zM401.3 106.7h1v1h-1zM408.9 97.1h1v1h-1zM409.2 100.4h1v1h-1zM411.9 100.6h1v1h-1zM410.5 95.3h1v1h-1zM411.0 99.6h1v1h-1zM409.5 98.2h1v1h-1zM411.8 80.0h1v1h-1zM402.6 112.0h1v1h-1zM408.3 102.6h1v1h-1zM397.3 115.6h1v1h-1zM405.1 100.3h1v1h-1zM402.5 105.1h1v1h-1zM405.8 89.6h1v1h-1zM405.1 105.7h1v1h-1zM399.7 105.2h1v1h-1zM406.8 94.9h1v1h-1zM405.2 107.2h1v1h-1zM403.8 99.2h1v1h-1zM404.4 102.0h1v1h-1zM408.6 108.8h1v1h-1zM402.8 100.9h1v1h-1zM405.1 104.9h1v1h-1zM405.9 102.5h1v1h-1zM401.5 101.5h1v1h-1zM407.6 96.6h1v1h-1zM406.3 102.5h1v1h-1zM400.2 102.3h1v1h-1zM406.7 94.4h1v1h-1zM405.3 102.0h1v1h-1zM400.3 113.7h1v1h-1zM402.5 98.2h1v1h-1zM401.9 113.2h1v1h-1zM404.7 100.0h1v1h-1zM405.0 101.6h1v1h-1zM401.0 108.4h1v1h-1zM405.7 98.0h1v1h-1zM405.6 105.5h1v1h-1zM405.2 108.3h1v1h-1zM404.9 105.1h1v1h-1zM405.2 107.7h1v1h-1zM401.0 101.9h1v1h-1zM405.4 97.7h1v1h-1zM414.0 91.0h1v1h-1zM405.5 111.8h1v1h-1zM408.7 106.6h1v1h-1zM413.6 91.8h1v1h-1zM411.5 88.4h1v1h-1zM407.2 102.6h1v1h-1zM406.4 106.3h1v1h-1zM406.0 96.1h1v1h-1zM408.5 96.1h1v1h-1zM402.7 97.5h1v1h-1zM400.7 106.3h1v1h-1zM405.3 97.4h1v1h-1zM409.5 97.1h1v1h-1zM403.9 95.4h1v1h-1zM404.9 96.0h1v1h-1zM412.3 92.3h1v1h-1zM399.4 107.2h1v1h-1zM407.2 113.2h1v1h-1zM410.6 92.7h1v1h-1zM409.0 100.3h1v1h-1zM414.9 83.0h1v1h-1zM408.3 99.4h1v1h-1zM397.6 104.6h1v1h-1zM406.2 100.9h1v1h-1zM407.7 106.3h1v1h-1zM402.2 105.4h1v1h-1zM402.4 105.1h1v1h-1zM403.8 106.0h1v1h-1zM406.9 100.2h1v1h-1zM409.1 90.7h1v1h-1zM411.5 94.5h1v1h-1zM399.2 108.0h1v1h-1zM412.2 87.1h1v1h-1zM405.0 96.6h1v1h-1zM399.4 115.6h1v1h-1zM407.9 94.4h1v1h-1zM409.6 104.7h1v1h-1zM402.0 102.0h1v1h-1zM412.2 100.0h1v1h-1zM410.2 90.0h1v1h-1zM404.0 109.1h1v1h-1zM404.3 99.0h1v1h-1zM407.1 102.8h1v1h-1zM408.3 103.7h1v1h-1zM409.1 103.9h1v1h-1zM408.2 103.1h1v1h-1zM411.5 101.0h1v1h-1zM404.9 110.1h1v1h-1zM409.0 95.2h1v1h-1zM412.3 82.1h1v1h-1zM403.4 101.5h1v1h-1zM407.5 103.1h1v1h-1zM401.8 113.0h1v1h-1zM403.6 88.9h1v1h-1zM408.9 101.2h1v1h-1zM403.6 108.7h1v1h-1zM405.8 96.4h1v1h-1zM406.7 100.6h1v1h-1zM405.0 105.4h1v1h-1zM401.7 114.5h1v1h-1zM407.7 105.7h1v1h-1zM402.1 106.9h1v1h-1zM406.6 89.7h1v1h-1zM406.8 104.4h1v1h-1zM407.4 104.5h1v1h-1zM400.9 109.0h1v1h-1zM403.8 106.2h1v1h-1zM401.7 101.7h1v1h-1zM403.9 100.9h1v1h-1zM405.5 100.6h1v1h-1zM398.8 114.0h1v1h-1zM404.3 103.1h1v1h-1zM405.1 112.8h1v1h-1zM407.2 90.7h1v1h-1zM403.8 102.7h1v1h-1zM405.2 104.5h1v1h-1zM407.9 94.3h1v1h-1zM404.8 104.5h1v1h-1zM406.8 102.8h1v1h-1zM410.0 102.1h1v1h-1zM410.4 93.9h1v1h-1zM408.4 98.6h1v1h-1zM405.8 107.6h1v1h-1zM406.5 106.7h1v1h-1zM404.2 104.8h1v1h-1zM406.9 107.3h1v1h-1zM404.8 107.4h1v1h-1zM400.1 101.4h1v1h-1zM407.6 96.1h1v1h-1zM406.9 109.2h1v1h-1zM402.8 101.3h1v1h-1zM407.6 105.6h1v1h-1zM402.4 105.7h1v1h-1zM406.3 93.6h1v1h-1zM411.4 95.6h1v1h-1zM411.1 105.7h1v1h-1zM404.8 113.1h1v1h-1zM409.5 97.8h1v1h-1zM401.3 103.0h1v1h-1zM407.2 92.5h1v1h-1zM402.0 109.2h1v1h-1zM409.7 92.6h1v1h-1zM401.4 104.1h1v1h-1zM399.5 113.0h1v1h-1zM405.4 109.0h1v1h-1zM407.6 96.6h1v1h-1zM405.1 101.2h1v1h-1zM404.4 106.3h1v1h-1zM410.6 90.3h1v1h-1zM408.3 93.7h1v1h-1zM405.2 102.8h1v1h-1zM403.4 107.9h1v1h-1zM411.8 99.7h1v1h-1zM404.0 106.0h1v1h-1zM405.0 101.0h1v1h-1zM403.3 100.9h1v1h-1zM405.1 114.0h1v1h-1zM409.0 85.9h1v1h-1zM404.5 100.4h1v1h-1zM413.2 88.3h1v1h-1zM410.8 94.3h1v1h-1zM409.1 105.8h1v1h-1zM413.2 97.4h1v1h-1zM413.1 94.9h1v1h-1zM404.7 108.7h1v1h-1zM413.1 95.9h1v1h-1zM399.7 104.9h1v1h-1zM410.7 83.9h1v1h-1zM410.1 96.5h1v1h-1zM406.6 102.6h1v1h-1zM409.9 99.0h1v1h-1zM403.4 96.1h1v1h-1zM413.4 86.3h1v1h-1zM403.0 95.7h1v1h-1zM407.2 95.3h1v1h-1zM398.7 103.7h1v1h-1zM409.1 99.5h1v1h-1zM407.2 105.3h1v1h-1zM399.0 113.4h1v1h-1zM410.5 98.6h1v1h-1zM403.1 112.3h1v1h-1zM403.8 98.3h1v1h-1zM405.5 106.0h1v1h-1zM407.3 94.2h1v1h-1zM410.1 95.9h1v1h-1zM409.8 102.0h1v1h-1zM403.7 110.8h1v1h-1zM406.0 110.5h1v1h-1zM401.2 111.0h1v1h-1zM409.6 107.8h1v1h-1zM403.4 105.7h1v1h-1zM411.7 105.8h1v1h-1zM405.4 98.8h1v1h-1zM402.9 107.5h1v1h-1zM405.7 90.2h1v1h-1zM404.4 101.4h1v1h-1zM400.9 110.9h1v1h-1zM407.4 92.2h1v1h-1zM412.3 95.2h1v1h-1zM412.1 98.4h1v1h-1zM410.2 107.8h1v1h-1zM408.7 102.2h1v1h-1zM410.0 88.0h1v1h-1zM411.1 98.4h1v1h-1zM408.3 101.9h1v1h-1zM404.4 96.1h1v1h-1zM409.9 102.8h1v1h-1zM410.5 103.3h1v1h-1zM406.0 99.6h1v1h-1zM406.3 99.5h1v1h-1zM407.2 97.3h1v1h-1zM405.3 95.8h1v1h-1zM404.8 112.9h1v1h-1zM405.2 99.5h1v1h-1zM411.6 92.5h1v1h-1zM413.0 99.7h1v1h-1zM411.3 91.1h1v1h-1zM401.7 109.5h1v1h-1zM403.9 116.4h1v1h-1zM401.4 107.7h1v1h-1zM406.3 109.9h1v1h-1zM410.7 104.9h1v1h-1zM399.2 102.1h1v1h-1zM410.0 106.2h1v1h-1zM409.6 99.0h1v1h-1zM407.7 98.1h1v1h-1zM407.9 82.7h1v1h-1zM405.3 99.7h1v1h-1zM412.6 90.7h1v1h-1zM402.9 103.5h1v1h-1zM412.8 89.2h1v1h-1zM409.3 99.6h1v1h-1zM402.4 109.1h1v1h-1zM408.7 101.2h1v1h-1zM401.4 98.2h1v1h-1zM405.5 106.1h1v1h-1zM408.9 98.5h1v1h-1zM405.9 98.7h1v1h-1zM400.4 105.4h1v1h-1zM409.7 90.8h1v1h-1zM411.7 93.7h1v1h-1zM403.2 94.8h1v1h-1zM401.0 96.5h1v1h-1zM402.7 110.3h1v1h-1zM405.8 106.4h1v1h-1zM402.8 101.7h1v1h-1zM403.3 106.2h1v1h-1zM402.5 94.3h1v1h-1zM402.3 109.5h1v1h-1zM401.9 96.8h1v1h-1zM403.5 107.4h1v1h-1zM403.5 108.0h1v1h-1zM409.7 96.4h1v1h-1zM405.8 89.6h1v1h-1zM408.3 101.7h1v1h-1zM403.1 108.6h1v1h-1zM406.9 100.8h1v1h-1zM405.3 99.5h1v1h-1zM403.5 104.1h1v1h-1zM409.9 101.2h1v1h-1zM404.2 102.3h1v1h-1zM404.0 105.8h1v1h-1zM402.1 104.9h1v1h-1zM404.1 94.9h1v1h-1zM407.1 110.1h1v1h-1zM404.1 109.5h1v1h-1zM405.0 102.4h1v1h-1zM404.2 105.0h1v1h-1zM411.3 95.8h1v1h-1zM405.3 107.7h1v1h-1zM405.2 100.5h1v1h-1zM406.4 102.2h1v1h-1zM407.7 93.3h1v1h-1zM411.7 95.6h1v1h-1zM406.2 91.4h1v1h-1zM408.7 95.8h1v1h-1zM413.1 97.1h1v1h-1zM397.9 103.6h1v1h-1zM406.5 103.1h1v1h-1zM408.9 93.0h1v1h-1zM404.2 101.1h1v1h-1zM407.2 100.9h1v1h-1zM407.2 97.8h1v1h-1zM410.7 94.1h1v1h-1zM410.9 98.3h1v1h-1zM405.6 116.2h1v1h-1zM408.4 98.6h1v1h-1zM408.0 100.0h1v1h-1zM405.4 94.8h1v1h-1zM404.1 100.0h1v1h-1zM405.1 109.8h1v1h-1zM404.9 103.2h1v1h-1zM409.1 101.1h1v1h-1zM406.0 101.7h1v1h-1zM401.9 113.4h1v1h-1zM406.1 99.3h1v1h-1zM401.7 108.9h1v1h-1zM410.2 99.2h1v1h-1zM407.0 110.2h1v1h-1zM409.4 96.1h1v1h-1zM408.6 98.0h1v1h-1zM409.4 90.9h1v1h-1zM404.0 108.4h1v1h-1zM414.6 86.7h1v1h-1zM404.5 103.3h1v1h-1zM405.2 100.9h1v1h-1zM403.2 108.7h1v1h-1zM407.7 90.1h1v1h-1zM405.1 112.9h1v1h-1zM402.0 105.7h1v1h-1zM407.5 105.8h1v1h-1zM407.8 102.7h1v1h-1zM406.1 109.7h1v1h-1zM406.2 104.8h1v1h-1zM408.3 93.1h1v1h-1zM408.6 108.5h1v1h-1zM408.6 103.7h1v1h-1zM403.5 100.5h1v1h-1zM406.3 104.7h1v1h-1zM406.0 94.8h1v1h-1zM404.6 101.2h1v1h-1zM401.2 103.3h1v1h-1zM402.5 106.1h1v1h-1zM401.1 102.1h1v1h-1zM404.4 107.7h1v1h-1zM396.5 113.4h1v1h-1zM412.5 90.4h1v1h-1zM399.2 105.4h1v1h-1zM407.3 105.8h1v1h-1zM403.0 110.7h1v1h-1zM404.7 89.5h1v1h-1zM402.1 115.4h1v1h-1zM402.8 107.5h1v1h-1zM406.1 99.7h1v1h-1zM407.6 95.1h1v1h-1zM407.7 93.8h1v1h-1zM403.5 108.7h1v1h-1zM412.4 98.8h1v1h-1zM403.0 109.9h1v1h-1zM413.8 91.5h1v1h-1zM401.3 109.3h1v1h-1zM400.4 109.9h1v1h-1zM405.5 99.3h1v1h-1zM405.3 102.5h1v1h-1zM401.7 110.4h1v1h-1zM405.1 104.4h1v1h-1zM403.3 102.2h1v1h-1zM409.9 102.6h1v1h-1zM400.9 105.6h1v1h-1zM404.4 97.8h1v1h-1zM406.1 96.2h1v1h-1zM410.3 94.0h1v1h-1zM404.3 107.5h1v1h-1zM407.7 98.6h1v1h-1zM410.8 97.6h1v1h-1zM405.3 104.0h1v1h-1zM404.9 102.5h1v1h-1zM409.5 91.7h1v1h-1zM406.7 98.7h1v1h-1zM404.9 100.7h1v1h-1zM397.2 115.0h1v1h-1zM403.6 97.7h1v1h-1zM410.6 102.0h1v1h-1zM404.0 100.3h1v1h-1zM410.8 93.4h1v1h-1zM409.5 97.5h1v1h-1zM406.4 96.4h1v1h-1zM401.9 99.4h1v1h-1zM400.1 108.0h1v1h-1zM406.9 102.8h1v1h-1zM402.7 106.3h1v1h-1zM406.4 100.5h1v1h-1zM400.9 107.3h1v1h-1zM412.8 106.9h1v1h-1zM403.5 93.4h1v1h-1zM407.0 97.9h1v1h-1zM403.4 112.6h1v1h-1zM401.4 108.1h1v1h-1zM407.0 101.5h1v1h-1zM408.9 96.3h1v1h-1zM407.4 99.9h1v1h-1zM404.0 90.4h1v1h-1zM402.9 110.4h1v1h-1zM413.2 103.5h1v1h-1zM404.9 108.6h1v1h-1zM408.7 97.7h1v1h-1zM404.9 102.9h1v1h-1zM404.7 111.6h1v1h-1zM402.6 104.6h1v1h-1zM410.8 98.4h1v1h-1zM404.1 102.7h1v1h-1zM405.4 103.9h1v1h-1zM406.7 98.9h1v1h-1zM405.2 107.1h1v1h-1zM406.2 95.6h1v1h-1zM402.6 102.7h1v1h-1zM405.5 102.5h1v1h-1zM402.9 91.1h1v1h-1zM408.1 96.4h1v1h-1zM409.5 103.0h1v1h-1zM405.9 101.7h1v1h-1zM404.0 103.6h1v1h-1zM400.4 112.1h1v1h-1zM406.8 95.6h1v1h-1zM401.7 108.8h1v1h-1zM409.5 97.3h1v1h-1zM402.1 108.7h1v1h-1zM402.7 105.4h1v1h-1zM399.9 109.4h1v1h-1zM405.6 99.3h1v1h-1zM408.1 95.5h1v1h-1zM402.3 104.9h1v1h-1zM402.2 113.9h1v1h-1zM403.2 102.8h1v1h-1zM408.6 101.9h1v1h-1zM406.7 94.3h1v1h-1zM404.6 94.8h1v1h-1zM402.4 104.6h1v1h-1zM398.8 110.7h1v1h-1zM407.1 99.2h1v1h-1zM402.8 92.8h1v1h-1zM407.6 97.1h1v1h-1zM409.1 95.5h1v1h-1zM411.4 89.7h1v1h-1zM403.6 115.7h1v1h-1zM402.7 107.4h1v1h-1zM410.1 99.7h1v1h-1zM408.6 99.8h1v1h-1zM409.5 95.4h1v1h-1zM399.8 100.2h1v1h-1zM407.9 101.1h1v1h-1zM405.8 105.2h1v1h-1zM402.8 109.5h1v1h-1zM410.4 97.3h1v1h-1zM400.0 114.6h1v1h-1zM402.0 110.9h1v1h-1zM407.3 90.9h1v1h-1zM411.3 97.0h1v1h-1zM404.4 101.4h1v1h-1zM409.5 103.6h1v1h-1zM404.4 100.1h1v1h-1zM403.0 102.8h1v1h-1zM407.5 105.6h1v1h-1zM404.5 102.1h1v1h-1zM402.0 100.7h1v1h-1zM408.6 113.8h1v1h-1zM400.5 99.4h1v1h-1zM403.9 95.5h1v1h-1zM410.3 89.1h1v1h-1zM404.8 99.6h1v1h-1zM403.5 108.5h1v1h-1zM409.6 95.4h1v1h-1zM408.2 92.8h1v1h-1zM408.9 96.2h1v1h-1zM405.2 99.0h1v1h-1zM406.7 103.5h1v1h-1zM408.5 104.0h1v1h-1zM409.7 95.0h1v1h-1zM402.1 112.1h1v1h-1zM414.1 88.0h1v1h-1zM408.3 100.7h1v1h-1zM407.1 103.7h1v1h-1zM403.5 109.3h1v1h-1zM400.7 105.1h1v1h-1zM407.9 95.4h1v1h-1zM400.0 110.7h1v1h-1zM408.7 99.7h1v1h-1zM403.9 96.6h1v1h-1zM413.0 89.4h1v1h-1zM409.8 94.4h1v1h-1zM402.2 103.6h1v1h-1zM399.3 102.0h1v1h-1zM403.6 99.5h1v1h-1zM406.1 103.0h1v1h-1zM407.3 103.1h1v1h-1zM403.8 95.7h1v1h-1zM411.8 94.3h1v1h-1zM407.7 94.2h1v1h-1zM404.8 103.4h1v1h-1zM402.9 92.8h1v1h-1zM402.3 106.7h1v1h-1zM408.3 90.1h1v1h-1zM400.7 99.6h1v1h-1zM405.8 102.1h1v1h-1zM405.0 104.2h1v1h-1zM404.2 93.2h1v1h-1zM405.2 99.4h1v1h-1zM401.6 110.8h1v1h-1zM405.3 103.9h1v1h-1zM412.4 90.7h1v1h-1zM403.3 96.8h1v1h-1zM408.4 105.1h1v1h-1zM405.6 100.1h1v1h-1zM406.5 96.6h1v1h-1zM403.6 108.4h1v1h-1zM406.6 104.4h1v1h-1zM413.6 82.5h1v1h-1zM405.3 105.0h1v1h-1zM407.6 90.8h1v1h-1zM405.6 105.9h1v1h-1zM402.0 102.8h1v1h-1zM409.3 104.3h1v1h-1zM409.6 102.7h1v1h-1zM406.2 107.5h1v1h-1zM406.0 96.1h1v1h-1zM410.8 97.9h1v1h-1zM400.3 108.1h1v1h-1zM409.5 93.0h1v1h-1zM403.7 109.8h1v1h-1zM405.8 105.7h1v1h-1zM404.3 104.7h1v1h-1zM406.8 104.9h1v1h-1zM410.8 102.1h1v1h-1zM407.6 93.9h1v1h-1zM411.0 96.8h1v1h-1zM401.5 107.3h1v1h-1zM404.7 101.1h1v1h-1zM407.2 91.6h1v1h-1zM406.8 103.8h1v1h-1zM407.8 96.4h1v1h-1zM407.8 107.7h1v1h-1zM403.1 102.5h1v1h-1zM410.1 91.1h1v1h-1zM405.3 98.5h1v1h-1zM406.3 96.2h1v1h-1zM407.5 102.8h1v1h-1zM413.0 97.8h1v1h-1zM402.0 109.9h1v1h-1zM409.4 104.6h1v1h-1zM406.7 94.7h1v1h-1zM404.9 96.3h1v1h-1zM403.8 105.5h1v1h-1zM406.1 101.9h1v1h-1zM410.6 101.4h1v1h-1zM404.2 99.3h1v1h-1zM407.6 91.7h1v1h-1zM406.1 102.6h1v1h-1zM404.3 102.6h1v1h-1zM406.3 104.4h1v1h-1zM410.0 94.0h1v1h-1zM404.4 103.6h1v1h-1zM403.6 108.3h1v1h-1zM410.4 97.4h1v1h-1zM398.8 111.4h1v1h-1zM408.6 101.7h1v1h-1zM407.3 106.2h1v1h-1zM398.2 107.8h1v1h-1zM400.2 104.0h1v1h-1zM405.5 94.2h1v1h-1zM400.6 102.7h1v1h-1zM401.9 100.4h1v1h-1zM399.9 113.4h1v1h-1zM403.0 100.0h1v1h-1zM411.0 98.9h1v1h-1zM402.4 101.6h1v1h-1zM406.9 97.9h1v1h-1zM401.6 112.3h1v1h-1z" fill="#ff0000" fill-opacity="0.55"/>
<path d="M438.9 61.1h1v1h-1zM428.2 61.6h1v1h-1zM446.2 54.0h1v1h-1zM431.7 60.3h1v1h-1zM451.1 54.7h1v1h-1zM443.2 56.4h1v1h-1zM437.6 60.2h1v1h-1zM432.7 53.5h1v1h-1zM439.2 57.4h1v1h-1zM447.0 59.3h1v1h-1zM447.5 52.7h1v1h-1zM432.2 60.3h1v1h-1zM436.9 62.2h1v1h-1zM448.4 60.7h1v1h-1zM440.5 59.4h1v1h-1zM436.7 60.3h1v1h-1zM442.9 57.4h1v1h-1zM440.4 61.0h1v1h-1zM453.5 60.0h1v1h-1zM446.8 63.3h1v1h-1zM438.9 63.3h1v1h-1zM442.8 62.6h1v1h-1zM438.6 59.4h1v1h-1zM437.2 51.0h1v1h-1zM448.2 51.9h1v1h-1zM440.2 57.3h1v1h-1zM436.4 59.5h1v1h-1zM433.6 56.8h1v1h-1zM438.6 56.7h1v1h-1zM446.4 51.7h1v1h-1zM440.9 55.0h1v1h-1zM443.3 54.6h1v1h-1zM448.1 65.0h1v1h-1zM440.0 54.0h1v1h-1zM441.9 57.6h1v1h-1zM449.4 59.6h1v1h-1zM446.2 58.5h1v1h-1zM443.1 55.0h1v1h-1zM422.9 58.6h1v1h-1zM449.2 54.9h1v1h-1zM447.0 60.0h1v1h-1zM438.1 54.6h1v1h-1zM431.2 58.4h1v1h-1zM448.8 59.7h1v1h-1zM437.0 55.2h1v1h-1zM447.2 56.2h1v1h-1zM445.0 58.6h1v1h-1zM439.0 54.4h1v1h-1zM447.0 56.0h1v1h-1zM433.6 56.8h1v1h-1zM437.5 56.2h1v1h-1zM438.4 56.3h1v1h-1zM438.3 55.4h1v1h-1zM446.1 62.6h1v1h-1zM435.4 54.7h1v1h-1zM434.5 58.1h1v1h-1zM433.0 54.8h1v1h-1zM441.5 56.2h1v1h-1zM444.5 53.6h1v1h-1zM430.3 59.2h1v1h-1zM442.1 52.5h1v1h-1zM435.4 61.8h1v1h-1zM441.4 53.4h1v1h-1zM437.9 58.1h1v1h-1zM450.1 62.5h1v1h-1zM436.6 55.3h1v1h-1zM445.9 59.2h1v1h-1zM434.7 60.4h1v1h-1zM437.9 57.0h1v1h-1zM429.3 58.7h1v1h-1zM439.8 59.1h1v1h-1zM442.8 59.8h1v1h-1zM431.2 52.6h1v1h-1zM442.5 61.3h1v1h-1zM432.8 57.6h1v1h-1zM437.1 58.9h1v1h-1zM439.7 56.1h1v1h-1zM435.7 62.2h1v1h-1zM432.0 60.0h1v1h-1zM440.5 61.3h1v1h-1zM422.2 60.0h1v1h-1zM442.0 63.0h1v1h-1zM445.9 49.5h1v1h-1zM435.8 62.8h1v1h-1zM433.7 62.0h1v1h-1zM434.2 56.8h1v1h-1zM434.4 55.9h1v1h-1zM449.2 56.0h1v1h-1zM447.3 53.6h1v1h-1zM444.1 56.1h1v1h-1zM439.4 55.0h1v1h-1zM443.9 56.9h1v1h-1zM440.0 59.4h1v1h-1zM436.5 59.2h1v1h-1zM438.5 60.2h1v1h-1zM440.9 58.4h1v1h-1zM445.9 57.8h1v1h-1zM435.0 56.8h1v1h-1zM433.2 57.5h1v1h-1zM435.5 63.7h1v1h-1zM439.3 56.9h1v1h-1zM438.0 57.1h1v1h-1zM446.2 60.1h1v1h-1zM451.8 58.9h1v1h-1zM445.4 59.9h1v1h-1zM444.3 62.8h1v1h-1zM442.5 50.9h1v1h-1zM424.5 60.4h1v1h-1zM441.4 57.7h1v1h-1zM442.7 58.4h1v1h-1zM445.9 63.6h1v1h-1zM444.9 59.1h1v1h-1zM433.2 58.3h1v1h-1zM435.7 57.0h1v1h-1zM445.9 54.6h1v1h-1zM435.2 61.8h1v1h-1zM446.3 60.0h1v1h-1zM445.9 57.6h1v1h-1zM436.0 52.4h1v1h-1zM437.2 57.5h1v1h-1zM449.3 58.5h1v1h-1zM439.4 59.1h1v1h-1zM442.1 55.6h1v1h-1zM448.1 56.0h1v1h-1zM446.5 55.6h1v1h-1zM439.0 60.4h1v1h-1zM438.6 58.9h1v1h-1zM442.8 60.3h1v1h-1zM434.1 57.3h1v1h-1zM442.9 54.5h1v1h-1zM442.4 56.2h1v1h-1zM430.6 63.3h1v1h-1zM448.8 58.9h1v1h-1zM441.5 52.4h1v1h-1zM439.2 56.0h1v1h-1zM439.4 59.5h1v1h-1zM445.2 61.5h1v1h-1zM439.8 55.5h1v1h-1zM451.0 62.8h1v1h-1zM445.4 57.2h1v1h-1zM439.7 60.6h1v1h-1zM447.3 49.4h1v1h-1zM439.7 53.4h1v1h-1zM443.4 63.5h1v1h-1zM444.6 59.1h1v1h-1zM448.5 65.5h1v1h-1zM443.3 58.5h1v1h-1zM441.5 55.8h1v1h-1zM434.9 57.9h1v1h-1zM445.9 55.3h1v1h-1zM442.8 57.6h1v1h-1zM440.0 55.3h1v1h-1zM444.9 63.2h1v1h-1zM443.2 61.3h1v1h-1zM443.8 58.2h1v1h-1zM443.8 51.2h1v1h-1zM444.7 59.6h1v1h-1zM434.7 61.7h1v1h-1zM444.2 56.0h1v1h-1zM447.9 57.2h1v1h-1zM436.9 58.7h1v1h-1zM445.7 57.9h1v1h-1zM441.1 58.9h1v1h-1zM442.5 57.8h1v1h-1zM445.0 54.3h1v1h-1zM455.6 55.9h1v1h-1zM440.0 54.7h1v1h-1zM433.3 62.3h1v1h-1zM431.7 58.6h1v1h-1zM442.8 58.2h1v1h-1zM436.7 62.7h1v1h-1zM446.4 56.2h1v1h-1zM452.4 55.1h1v1h-1zM436.4 60.3h1v1h-1zM428.3 61.6h1v1h-1zM443.1 55.0h1v1h-1zM440.4 62.7h1v1h-1zM447.7 53.7h1v1h-1zM440.5 56.7h1v1h-1zM435.9 57.0h1v1h-1zM440.8 57.6h1v1h-1zM440.5 61.8h1v1h-1zM447.6 51.4h1v1h-1zM449.3 55.5h1v1h-1zM440.7 59.3h1v1h-1zM439.4 58.2h1v1h-1zM450.7 54.1h1v1h-1zM438.1 54.3h1v1h-1zM443.6 55.9h1v1h-1zM438.0 55.4h1v1h-1zM450.3 55.1h1v1h-1zM443.1 59.8h1v1h-1zM444.4 56.4h1v1h-1zM443.8 55.7h1v1h-1zM428.4 51.9h1v1h-1zM437.5 55.7h1v1h-1zM440.0 53.1h1v1h-1zM439.6 55.4h1v1h-1zM438.6 62.0h1v1h-1zM447.4 51.8h1v1h-1zM435.6 64.3h1v1h-1zM440.1 51.5h1v1h-1zM450.3 59.1h1v1h-1zM431.2 58.7h1v1h-1zM449.2 59.8h1v1h-1zM448.4 54.4h1v1h-1zM444.3 55.2h1v1h-1zM437.6 55.2h1v1h-1zM440.8 60.9h1v1h-1zM435.6 62.5h1v1h-1zM442.4 52.2h1v1h-1zM440.1 58.4h1v1h-1zM439.3 56.7h1v1h-1zM438.1 55.0h1v1h-1zM437.3 63.5h1v1h-1zM440.3 57.9h1v1h-1zM437.7 59.8h1v1h-1zM437.9 58.7h1v1h-1zM443.3 62.0h1v1h-1zM448.2 59.9h1v1h-1zM446.0 58.3h1v1h-1zM445.7 52.3h1v1h-1zM446.4 53.9h1v1h-1zM433.3 57.0h1v1h-1zM444.6 54.1h1v1h-1zM441.2 57.5h1v1h-1zM437.7 56.0h1v1h-1zM447.8 56.4h1v1h-1zM436.6 60.5h1v1h-1zM446.4 55.3h1v1h-1zM439.0 56.2h1v1h-1zM449.0 56.9h1v1h-1zM443.2 58.1h1v1h-1zM436.2 56.8h1v1h-1zM447.1 54.4h1v1h-1zM436.8 58.5h1v1h-1zM436.6 57.2h1v1h-1zM436.8 56.8h1v1h-1zM444.6 57.0h1v1h-1zM441.7 56.8h1v1h-1zM441.2 60.4h1v1h-1zM444.0 51.9h1v1h-1zM439.6 63.4h1v1h-1zM434.7 55.0h1v1h-1zM439.0 61.2h1v1h-1zM436.9 63.7h1v1h-1zM435.1 50.2h1v1h-1zM437.5 55.9h1v1h-1zM445.4 51.8h1v1h-1zM448.0 55.5h1v1h-1zM435.5 61.9h1v1h-1zM437.9 61.8h1v1h-1zM442.9 54.8h1v1h-1zM430.6 60.6h1v1h-1zM443.3 59.5h1v1h-1zM445.9 61.6h1v1h-1zM448.1 54.9h1v1h-1zM442.0 56.9h1v1h-1zM448.4 59.1h1v1h-1zM437.6 58.3h1v1h-1zM437.6 56.8h1v1h-1zM435.4 56.8h1v1h-1zM446.9 56.2h1v1h-1zM442.3 58.5h1v1h-1zM438.0 63.2h1v1h-1zM447.7 51.9h1v1h-1zM440.0 61.8h1v1h-1zM435.1 58.3h1v1h-1zM442.1 56.7h1v1h-1zM430.9 58.7h1v1h-1zM438.5 54.5h1v1h-1zM435.6 58.2h1v1h-1zM442.1 56.7h1v1h-1zM442.7 65.6h1v1h-1zM437.7 60.3h1v1h-1zM444.3 53.1h1v1h-1zM452.4 54.3h1v1h-1zM439.9 58.7h1v1h-1zM449.1 58.5h1v1h-1zM444.3 60.7h1v1h-1zM442.2 57.8h1v1h-1zM444.5 55.3h1v1h-1zM440.7 59.6h1v1h-1zM436.4 56.4h1v1h-1zM447.7 58.1h1v1h-1zM433.4 57.5h1v1h-1zM442.8 56.2h1v1h-1zM439.2 61.0h1v1h-1zM446.0 58.4h1v1h-1zM433.0 60.8h1v1h-1zM444.2 53.1h1v1h-1zM441.0 61.9h1v1h-1zM436.8 62.8h1v1h-1zM442.6 57.8h1v1h-1zM445.3 58.9h1v1h-1zM441.3 55.5h1v1h-1zM442.9 59.3h1v1h-1zM436.0 61.0h1v1h-1zM428.0 62.1h1v1h-1zM446.0 60.4h1v1h-1zM444.7 54.2h1v1h-1zM436.2 57.0h1v1h-1zM440.2 56.6h1v1h-1zM440.7 52.9h1v1h-1zM436.0 62.4h1v1h-1zM442.3 61.5h1v1h-1zM436.2 62.3h1v1h-1zM431.7 55.8h1v1h-1zM435.8 58.4h1v1h-1zM436.1 58.0h1v1h-1zM429.7 64.7h1v1h-1zM440.6 59.4h1v1h-1zM439.1 59.1h1v1h-1zM434.8 56.2h1v1h-1zM448.6 60.2h1v1h-1zM438.2 57.2h1v1h-1zM443.3 53.4h1v1h-1zM441.1 53.0h1v1h-1zM439.6 59.1h1v1h-1zM444.4 60.5h1v1h-1zM436.3 59.3h1v1h-1zM444.2 55.6h1v1h-1zM444.8 51.6h1v1h-1zM440.8 60.1h1v1h-1zM449.0 57.8h1v1h-1zM442.0 58.1h1v1h-1zM437.1 61.2h1v1h-1zM444.7 59.5h1v1h-1zM441.8 50.2h1v1h-1zM429.5 59.7h1v1h-1zM443.0 61.5h1v1h-1zM437.9 56.6h1v1h-1zM439.7 59.0h1v1h-1zM440.8 50.8h1v1h-1zM439.5 55.3h1v1h-1zM446.5 57.1h1v1h-1zM428.4 56.2h1v1h-1zM438.4 53.8h1v1h-1zM449.5 55.4h1v1h-1zM435.8 59.4h1v1h-1zM439.7 61.6h1v1h-1zM437.8 56.5h1v1h-1zM445.9 56.1h1v1h-1zM438.7 57.2h1v1h-1zM441.8 56.0h1v1h-1zM444.7 53.7h1v1h-1zM445.9 62.3h1v1h-1zM435.4 62.7h1v1h-1zM440.1 57.6h1v1h-1zM436.1 57.4h1v1h-1zM434.5 59.2h1v1h-1zM436.0 56.2h1v1h-1zM430.8 60.0h1v1h-1zM436.7 56.2h1v1h-1zM444.9 59.3h1v1h-1zM450.4 60.1h1v1h-1zM444.5 60.1h1v1h-1zM444.3 57.2h1v1h-1zM440.7 60.6h1v1h-1zM445.7 58.7h1v1h-1zM439.5 60.3h1v1h-1zM445.4 57.1h1v1h-1zM444.6 56.1h1v1h-1zM435.4 62.2h1v1h-1zM445.8 56.6h1v1h-1zM440.7 55.0h1v1h-1zM442.4 54.4h1v1h-1zM437.3 55.5h1v1h-1zM432.1 53.3h1v1h-1zM437.9 60.0h1v1h-1zM443.6 52.3h1v1h-1zM439.3 54.4h1v1h-1zM434.9 59.0h1v1h-1zM441.0 58.1h1v1h-1zM436.7 58.3h1v1h-1zM438.0 59.3h1v1h-1zM444.2 60.5h1v1h-1zM432.5 62.3h1v1h-1zM440.5 59.8h1v1h-1zM446.3 54.5h1v1h-1zM445.4 55.3h1v1h-1zM435.9 56.1h1v1h-1zM443.7 52.9h1v1h-1zM444.0 52.4h1v1h-1zM436.0 58.0h1v1h-1zM436.4 62.4h1v1h-1zM438.5 59.1h1v1h-1zM440.0 56.6h1v1h-1zM452.9 56.4h1v1h-1zM444.3 54.3h1v1h-1zM444.1 57.2h1v1h-1zM436.7 55.4h1v1h-1zM448.3 59.8h1v1h-1zM438.2 60.5h1v1h-1zM441.8 53.5h1v1h-1zM434.2 62.4h1v1h-1zM444.4 58.4h1v1h-1zM436.0 65.8h1v1h-1zM434.6 60.3h1v1h-1zM441.8 56.3h1v1h-1zM440.9 55.8h1v1h-1zM437.4 58.7h1v1h-1zM441.6 54.7h1v1h-1zM440.0 57.0h1v1h-1zM438.2 55.4h1v1h-1zM437.0 58.1h1v1h-1zM430.0 57.2h1v1h-1zM431.3 67.8h1v1h-1zM441.7 63.8h1v1h-1zM433.9 55.4h1v1h-1zM444.0 60.5h1v1h-1zM439.2 60.8h1v1h-1zM438.7 62.6h1v1h-1zM441.3 54.9h1v1h-1zM444.0 57.5h1v1h-1zM445.3 57.3h1v1h-1zM441.4 57.0h1v1h-1zM440.5 56.9h1v1h-1zM435.1 59.2h1v1h-1zM435.6 54.6h1v1h-1z" fill="#ff0000" fill-opacity="0.6"/>
<path d="M442.4 58.4h1v1h-1zM473.0 73.1h1v1h-1zM462.7 65.2h1v1h-1zM434.4 72.5h1v1h-1zM446.3 41.5h1v1h-1zM434.5 62.7h1v1h-1zM434.0 62.4h1v1h-1zM426.1 69.0h1v1h-1zM451.2 79.6h1v1h-1zM448.8 44.1h1v1h-1zM442.2 66.1h1v1h-1zM434.6 59.4h1v1h-1zM442.3 55.7h1v1h-1zM449.8 66.3h1v1h-1zM451.3 66.5h1v1h-1zM446.7 62.3h1v1h-1zM449.1 70.2h1v1h-1zM440.6 56.4h1v1h-1zM443.0 71.4h1v1h-1zM438.3 54.7h1v1h-1zM452.5 52.5h1v1h-1zM424.7 66.5h1v1h-1zM432.3 70.3h1v1h-1zM449.3 69.6h1v1h-1zM445.5 64.1h1v1h-1zM471.4 56.5h1v1h-1zM448.5 54.9h1v1h-1zM439.4 52.4h1v1h-1zM444.4 41.5h1v1h-1zM446.3 55.6h1v1h-1zM420.4 66.8h1v1h-1zM432.3 40.4h1v1h-1zM448.9 51.4h1v1h-1zM427.3 71.6h1v1h-1zM442.9 62.8h1v1h-1zM442.9 61.0h1v1h-1zM436.2 67.2h1v1h-1zM445.6 55.3h1v1h-1zM421.5 61.6h1v1h-1zM457.4 77.3h1v1h-1zM442.7 60.4h1v1h-1zM461.8 50.3h1v1h-1zM424.7 62.1h1v1h-1zM426.7 55.9h1v1h-1zM432.7 64.7h1v1h-1zM447.2 47.3h1v1h-1zM425.1 66.1h1v1h-1zM444.9 68.8h1v1h-1zM459.1 70.7h1v1h-1zM432.6 68.4h1v1h-1zM433.8 58.6h1v1h-1zM445.9 65.4h1v1h-1zM451.7 71.6h1v1h-1zM433.2 74.9h1v1h-1zM465.7 70.8h1v1h-1zM448.7 55.4h1v1h-1zM448.7 72.6h1v1h-1zM437.0 66.5h1v1h-1zM429.8 73.0h1v1h-1zM428.1 72.3h1v1h-1zM439.3 67.1h1v1h-1zM461.6 58.1h1v1h-1zM473.4 56.6h1v1h-1zM440.6 56.8h1v1h-1zM451.7 69.1h1v1h-1zM448.0 61.5h1v1h-1zM417.2 69.0h1v1h-1zM431.0 67.7h1v1h-1zM436.8 72.0h1v1h-1zM447.3 67.3h1v1h-1zM449.6 57.8h1v1h-1zM434.1 58.7h1v1h-1zM479.5 54.1h1v1h-1zM424.5 57.1h1v1h-1zM435.1 60.2h1v1h-1zM464.4 55.7h1v1h-1zM477.1 65.4h1v1h-1zM449.9 63.4h1v1h-1zM442.4 50.1h1v1h-1zM451.2 69.4h1v1h-1zM432.6 60.3h1v1h-1zM454.2 59.0h1v1h-1zM462.6 60.2h1v1h-1zM466.0 51.8h1v1h-1zM432.8 63.1h1v1h-1zM453.7 60.8h1v1h-1zM448.4 62.5h1v1h-1zM429.4 62.9h1v1h-1zM468.4 60.5h1v1h-1zM456.9 68.1h1v1h-1zM430.9 63.3h1v1h-1zM436.3 51.2h1v1h-1zM467.9 54.7h1v1h-1zM441.4 72.3h1v1h-1zM452.5 52.7h1v1h-1zM455.2 53.7h1v1h-1zM440.2 50.9h1v1h-1zM432.3 53.0h1v1h-1zM413.1 65.4h1v1h-1zM441.0 48.9h1v1h-1zM438.0 47.5h1v1h-1zM432.0 58.3h1v1h-1zM441.6 65.7h1v1h-1zM433.2 73.6h1v1h-1zM429.8 69.4h1v1h-1zM451.3 51.3h1v1h-1zM434.5 65.4h1v1h-1zM451.4 59.7h1v1h-1zM432.6 70.2h1v1h-1zM451.0 50.0h1v1h-1zM470.1 53.4h1v1h-1zM447.0 50.6h1v1h-1zM432.1 78.0h1v1h-1zM455.8 65.1h1v1h-1zM446.6 65.4h1v1h-1zM441.8 61.1h1v1h-1zM432.2 68.8h1v1h-1zM450.5 64.1h1v1h-1zM452.4 59.7h1v1h-1zM436.5 66.3h1v1h-1zM466.3 62.3h1v1h-1zM460.9 60.3h1v1h-1zM432.7 51.7h1v1h-1zM459.9 65.1h1v1h-1zM437.3 46.4h1v1h-1zM430.3 58.9h1v1h-1zM460.6 60.7h1v1h-1zM452.9 60.3h1v1h-1zM443.7 80.3h1v1h-1zM431.8 65.4h1v1h-1zM443.3 64.2h1v1h-1zM436.7 57.8h1v1h-1zM436.3 57.3h1v1h-1zM451.9 59.4h1v1h-1zM431.3 69.9h1v1h-1zM443.5 62.1h1v1h-1zM423.3 59.2h1v1h-1zM456.1 44.0h1v1h-1zM461.5 64.8h1v1h-1zM454.1 51.6h1v1h-1zM437.7 54.5h1v1h-1zM453.8 53.4h1v1h-1zM438.1 56.9h1v1h-1zM451.2 58.6h1v1h-1zM469.4 55.0h1v1h-1zM467.9 47.9h1v1h-1zM451.3 60.8h1v1h-1zM449.6 68.3h1v1h-1zM443.9 65.5h1v1h-1zM450.5 55.0h1v1h-1zM419.8 52.3h1v1h-1zM427.8 57.9h1v1h-1zM434.1 52.7h1v1h-1zM438.4 64.4h1v1h-1zM473.0 51.3h1v1h-1zM437.3 70.0h1v1h-1zM440.1 57.3h1v1h-1zM443.9 51.0h1v1h-1zM458.7 60.3h1v1h-1zM445.8 66.2h1v1h-1zM443.1 65.7h1v1h-1zM447.0 65.3h1v1h-1zM409.9 59.1h1v1h-1zM442.3 57.8h1v1h-1zM438.4 65.6h1v1h-1zM455.9 60.4h1v1h-1zM441.5 60.8h1v1h-1zM441.9 72.3h1v1h-1zM435.8 60.6h1v1h-1zM443.6 76.8h1v1h-1zM454.2 68.3h1v1h-1zM451.5 47.7h1v1h-1zM454.2 62.3h1v1h-1zM446.7 55.5h1v1h-1zM453.9 52.3h1v1h-1zM458.1 54.3h1v1h-1zM479.0 58.8h1v1h-1zM440.6 62.6h1v1h-1zM431.2 58.8h1v1h-1zM441.3 41.6h1v1h-1zM441.4 58.6h1v1h-1zM437.2 68.9h1v1h-1zM445.3 51.2h1v1h-1zM440.9 68.3h1v1h-1zM431.4 59.2h1v1h-1zM456.8 57.0h1v1h-1zM456.1 42.5h1v1h-1zM440.2 65.2h1v1h-1zM434.6 56.1h1v1h-1zM443.7 51.8h1v1h-1zM465.6 61.2h1v1h-1zM469.3 54.2h1v1h-1zM414.0 75.4h1v1h-1zM436.3 67.0h1v1h-1zM446.7 56.1h1v1h-1zM416.8 64.1h1v1h-1zM453.6 64.7h1v1h-1zM447.1 70.7h1v1h-1zM452.2 53.4h1v1h-1zM452.1 72.2h1v1h-1zM432.1 65.2h1v1h-1zM443.6 64.0h1v1h-1zM458.4 62.9h1v1h-1zM451.4 61.9h1v1h-1zM444.4 63.6h1v1h-1zM451.8 67.4h1v1h-1zM438.4 56.3h1v1h-1zM437.8 59.7h1v1h-1zM440.1 68.6h1v1h-1zM450.9 60.0h1v1h-1zM443.4 61.8h1v1h-1zM416.8 68.6h1v1h-1zM460.0 59.6h1v1h-1zM454.7 78.5h1v1h-1zM451.4 51.7h1v1h-1zM433.5 59.1h1v1h-1zM449.1 58.8h1v1h-1zM452.9 56.8h1v1h-1zM474.1 55.7h1v1h-1zM437.6 77.0h1v1h-1zM444.2 67.9h1v1h-1zM455.7 70.9h1v1h-1zM413.7 69.2h1v1h-1zM448.7 61.2h1v1h-1zM421.1 55.8h1v1h-1zM425.1 57.1h1v1h-1zM455.5 61.8h1v1h-1zM436.2 70.4h1v1h-1zM422.9 56.4h1v1h-1zM443.7 67.7h1v1h-1zM441.4 70.8h1v1h-1zM442.9 59.6h1v1h-1zM472.1 42.5h1v1h-1zM431.6 54.9h1v1h-1zM440.4 67.3h1v1h-1zM446.7 69.0h1v1h-1zM453.4 64.7h1v1h-1zM443.7 50.2h1v1h-1zM471.0 55.7h1v1h-1zM423.0 74.1h1v1h-1zM438.3 68.7h1v1h-1zM431.2 61.8h1v1h-1zM426.2 66.6h1v1h-1zM455.6 89.6h1v1h-1zM434.5 62.3h1v1h-1zM431.8 54.2h1v1h-1zM463.0 73.4h1v1h-1zM433.9 54.9h1v1h-1zM466.1 57.1h1v1h-1zM460.0 69.2h1v1h-1zM472.1 66.4h1v1h-1zM456.6 49.6h1v1h-1zM442.0 51.9h1v1h-1zM451.6 55.8h1v1h-1zM476.3 46.8h1v1h-1zM437.0 46.3h1v1h-1zM462.1 51.1h1v1h-1zM432.9 70.3h1v1h-1zM422.6 57.3h1v1h-1zM433.4 64.9h1v1h-1zM463.1 62.2h1v1h-1zM443.7 56.1h1v1h-1zM457.5 46.4h1v1h-1zM438.1 65.7h1v1h-1zM448.0 57.6h1v1h-1zM453.8 65.6h1v1h-1zM439.5 48.0h1v1h-1zM443.9 64.9h1v1h-1zM452.3 56.1h1v1h-1zM453.5 64.6h1v1h-1zM450.1 60.0h1v1h-1zM445.3 73.2h1v1h-1zM468.4 75.5h1v1h-1zM461.0 56.7h1v1h-1zM455.9 60.3h1v1h-1zM439.7 80.3h1v1h-1zM427.0 58.7h1v1h-1zM441.5 62.6h1v1h-1zM454.4 64.2h1v1h-1zM440.1 58.4h1v1h-1zM454.9 65.1h1v1h-1zM447.5 70.1h1v1h-1zM430.8 54.0h1v1h-1zM473.7 56.7h1v1h-1zM452.5 51.7h1v1h-1zM456.3 70.7h1v1h-1zM449.9 75.3h1v1h-1zM431.3 49.7h1v1h-1zM440.0 73.7h1v1h-1zM467.6 47.4h1v1h-1zM445.2 56.8h1v1h-1zM419.6 58.6h1v1h-1zM418.8 54.5h1v1h-1zM456.7 61.9h1v1h-1zM437.2 63.7h1v1h-1zM424.1 79.0h1v1h-1zM416.6 65.2h1v1h-1zM431.6 61.3h1v1h-1zM421.2 46.9h1v1h-1zM453.0 58.3h1v1h-1zM453.0 72.5h1v1h-1zM462.6 51.9h1v1h-1zM460.9 58.3h1v1h-1zM458.0 66.6h1v1h-1zM428.9 47.3h1v1h-1zM475.0 62.8h1v1h-1zM436.6 50.1h1v1h-1zM443.1 51.8h1v1h-1zM431.2 53.1h1v1h-1zM453.4 63.6h1v1h-1zM444.8 69.6h1v1h-1zM436.4 50.9h1v1h-1zM439.4 53.3h1v1h-1zM425.9 76.9h1v1h-1zM431.0 80.9h1v1h-1zM434.8 74.6h1v1h-1zM432.1 70.4h1v1h-1zM432.4 65.7h1v1h-1zM417.5 57.2h1v1h-1zM465.1 51.9h1v1h-1zM421.6 63.0h1v1h-1zM454.5 53.0h1v1h-1zM437.6 62.0h1v1h-1zM427.0 61.7h1v1h-1zM430.3 56.8h1v1h-1zM440.5 86.0h1v1h-1zM446.8 60.0h1v1h-1zM429.3 56.1h1v1h-1zM449.9 56.2h1v1h-1zM438.8 51.5h1v1h-1zM424.3 65.8h1v1h-1zM441.3 60.6h1v1h-1zM441.7 43.6h1v1h-1zM425.2 57.6h1v1h-1zM432.4 62.2h1v1h-1zM447.7 64.8h1v1h-1zM420.4 64.6h1v1h-1zM452.8 63.7h1v1h-1zM477.6 49.1h1v1h-1zM457.5 56.4h1v1h-1zM464.3 64.8h1v1h-1zM448.6 61.8h1v1h-1zM443.5 59.0h1v1h-1zM454.9 69.8h1v1h-1zM434.4 74.8h1v1h-1zM446.7 63.2h1v1h-1zM438.7 59.7h1v1h-1zM442.6 48.9h1v1h-1zM459.6 51.6h1v1h-1zM460.7 62.1h1v1h-1zM439.6 65.4h1v1h-1zM449.1 68.6h1v1h-1zM432.0 67.9h1v1h-1zM450.8 72.5h1v1h-1zM458.7 46.1h1v1h-1zM463.9 67.7h1v1h-1zM442.1 57.1h1v1h-1zM476.4 54.3h1v1h-1zM455.4 43.1h1v1h-1zM429.0 64.2h1v1h-1zM424.7 64.5h1v1h-1zM435.4 57.4h1v1h-1zM434.9 59.8h1v1h-1zM435.9 64.5h1v1h-1zM459.5 59.1h1v1h-1zM440.9 56.5h1v1h-1zM446.9 68.3h1v1h-1zM426.9 64.8h1v1h-1zM476.8 62.0h1v1h-1zM418.1 63.9h1v1h-1zM456.4 61.8h1v1h-1zM442.2 68.8h1v1h-1zM455.0 73.5h1v1h-1zM430.0 55.8h1v1h-1zM429.4 62.9h1v1h-1zM434.8 65.9h1v1h-1zM443.7 64.1h1v1h-1zM449.0 54.9h1v1h-1zM446.9 58.8h1v1h-1zM438.8 63.9h1v1h-1zM467.7 64.2h1v1h-1zM445.7 68.0h1v1h-1zM434.8 65.2h1v1h-1zM434.3 51.9h1v1h-1zM424.8 80.0h1v1h-1zM434.4 59.1h1v1h-1zM433.8 60.6h1v1h-1zM420.7 62.0h1v1h-1zM459.1 52.6h1v1h-1zM455.2 65.4h1v1h-1zM444.9 63.6h1v1h-1zM450.3 70.9h1v1h-1zM443.9 63.4h1v1h-1zM422.3 67.6h1v1h-1zM450.8 58.6h1v1h-1zM428.4 67.2h1v1h-1zM456.1 68.9h1v1h-1zM461.4 41.9h1v1h-1zM455.1 44.9h1v1h-1zM446.6 61.5h1v1h-1zM446.8 56.7h1v1h-1zM459.7 66.3h1v1h-1zM472.1 62.7h1v1h-1zM440.2 61.7h1v1h-1zM435.7 50.7h1v1h-1zM430.9 67.8h1v1h-1zM425.8 48.4h1v1h-1zM440.2 61.2h1v1h-1zM475.6 53.7h1v1h-1zM442.2 55.7h1v1h-1zM439.3 66.8h1v1h-1zM449.8 57.9h1v1h-1zM432.0 55.8h1v1h-1zM438.7 72.9h1v1h-1zM444.9 64.3h1v1h-1zM444.7 67.9h1v1h-1zM462.8 45.0h1v1h-1zM455.2 54.8h1v1h-1zM432.2 74.3h1v1h-1z" fill="#ff0000" fill-opacity="0.3"/>
<path d="M448.2 104.2h1v1h-1zM435.3 91.7h1v1h-1zM420.6 103.6h1v1h-1zM447.5 95.2h1v1h-1zM423.0 88.3h1v1h-1zM446.9 95.4h1v1h-1zM454.8 96.7h1v1h-1zM431.4 87.1h1v1h-1zM440.4 106.8h1v1h-1zM466.2 90.2h1v1h-1zM447.1 90.3h1v1h-1zM443.9 75.6h1v1h-1zM432.2 82.7h1v1h-1zM459.3 92.6h1v1h-1zM446.4 95.6h1v1h-1zM423.0 99.7h1v1h-1zM454.5 96.9h1v1h-1zM447.6 103.1h1v1h-1zM447.9 94.5h1v1h-1zM419.3 89.4h1v1h-1zM430.5 100.7h1v1h-1zM457.9 95.6h1v1h-1zM453.4 78.7h1v1h-1zM444.2 87.2h1v1h-1zM452.8 104.3h1v1h-1zM455.3 101.1h1v1h-1zM455.6 108.1h1v1h-1zM434.1 106.6h1v1h-1zM436.8 86.1h1v1h-1zM448.8 101.1h1v1h-1zM445.3 91.3h1v1h-1zM449.2 94.2h1v1h-1zM473.2 98.3h1v1h-1zM446.7 92.3h1v1h-1zM449.2 107.6h1v1h-1zM432.1 93.4h1v1h-1zM416.6 95.3h1v1h-1zM462.2 87.5h1v1h-1zM436.1 90.5h1v1h-1zM437.4 90.3h1v1h-1zM436.3 87.8h1v1h-1zM443.6 102.4h1v1h-1zM450.8 82.6h1v1h-1zM458.0 100.6h1v1h-1zM455.6 89.5h1v1h-1zM433.1 100.3h1v1h-1zM463.5 89.0h1v1h-1zM444.5 98.7h1v1h-1zM436.3 98.0h1v1h-1zM434.3 104.6h1v1h-1zM419.9 97.8h1v1h-1zM434.2 95.2h1v1h-1zM429.1 74.7h1v1h-1zM460.5 100.7h1v1h-1zM446.3 95.4h1v1h-1zM445.0 93.5h1v1h-1zM442.5 105.4h1v1h-1zM433.0 89.7h1v1h-1zM465.3 92.3h1v1h-1zM444.0 94.6h1v1h-1zM448.8 100.2h1v1h-1zM442.7 89.0h1v1h-1zM428.9 96.3h1v1h-1zM464.7 83.3h1v1h-1zM439.8 99.0h1v1h-1zM433.7 97.3h1v1h-1zM439.7 101.2h1v1h-1zM462.5 93.5h1v1h-1zM444.9 98.8h1v1h-1zM443.1 95.7h1v1h-1zM413.3 96.3h1v1h-1zM427.1 92.6h1v1h-1zM446.4 99.5h1v1h-1zM435.0 92.3h1v1h-1zM437.1 88.2h1v1h-1zM460.7 107.6h1v1h-1zM438.3 106.7h1v1h-1zM450.7 88.0h1v1h-1zM452.5 100.1h1v1h-1zM442.6 85.4h1v1h-1zM432.9 79.5h1v1h-1zM440.2 93.4h1v1h-1zM426.2 86.7h1v1h-1zM457.7 84.9h1v1h-1zM450.0 96.2h1v1h-1zM456.5 84.1h1v1h-1zM441.9 104.1h1v1h-1zM438.4 85.6h1v1h-1zM415.3 90.5h1v1h-1zM453.6 106.0h1v1h-1zM441.3 101.6h1v1h-1zM453.5 99.6h1v1h-1zM429.7 100.5h1v1h-1zM427.6 96.2h1v1h-1zM450.9 103.0h1v1h-1zM439.1 103.4h1v1h-1zM460.4 102.3h1v1h-1zM440.2 97.7h1v1h-1zM441.1 96.0h1v1h-1zM450.2 103.2h1v1h-1zM441.1 100.8h1v1h-1zM444.2 96.7h1v1h-1zM428.3 98.3h1v1h-1zM439.5 97.7h1v1h-1zM453.9 100.9h1v1h-1zM450.1 92.1h1v1h-1zM420.2 92.9h1v1h-1zM440.6 96.9h1v1h-1zM458.3 97.7h1v1h-1zM459.2 92.8h1v1h-1zM426.9 101.6h1v1h-1zM426.4 84.7h1v1h-1zM433.6 97.9h1v1h-1zM454.9 95.6h1v1h-1zM452.4 95.4h1v1h-1zM419.9 87.9h1v1h-1zM419.3 94.1h1v1h-1zM413.9 85.6h1v1h-1zM430.0 101.7h1v1h-1zM447.5 92.8h1v1h-1zM443.1 93.7h1v1h-1zM475.6 83.9h1v1h-1zM414.4 82.1h1v1h-1zM422.1 92.9h1v1h-1zM452.3 93.6h1v1h-1zM436.8 94.2h1v1h-1zM442.6 88.8h1v1h-1zM448.1 94.8h1v1h-1zM443.0 98.9h1v1h-1zM447.2 100.5h1v1h-1zM428.8 98.3h1v1h-1zM420.0 80.6h1v1h-1zM435.0 97.8h1v1h-1zM445.9 97.4h1v1h-1zM450.5 82.8h1v1h-1zM432.7 93.4h1v1h-1zM429.3 97.2h1v1h-1zM447.0 97.1h1v1h-1zM441.1 110.8h1v1h-1zM440.6 95.1h1v1h-1zM455.2 107.5h1v1h-1zM428.2 88.2h1v1h-1zM457.0 102.7h1v1h-1zM450.6 93.3h1v1h-1zM448.2 85.4h1v1h-1zM425.3 105.7h1v1h-1zM423.9 94.0h1v1h-1zM447.9 97.2h1v1h-1zM426.0 91.0h1v1h-1zM447.2 92.1h1v1h-1zM460.7 94.1h1v1h-1zM462.9 94.9h1v1h-1zM455.4 98.0h1v1h-1zM440.6 85.8h1v1h-1zM447.1 95.5h1v1h-1zM444.2 91.3h1v1h-1zM427.7 88.3h1v1h-1zM438.2 101.1h1v1h-1zM435.1 87.3h1v1h-1zM428.8 87.0h1v1h-1zM418.6 92.1h1v1h-1zM430.9 92.3h1v1h-1zM463.2 101.2h1v1h-1zM457.7 95.0h1v1h-1zM442.8 89.4h1v1h-1zM417.1 84.0h1v1h-1zM434.8 98.1h1v1h-1zM467.9 94.3h1v1h-1zM420.0 92.3h1v1h-1zM445.9 86.9h1v1h-1zM433.3 98.3h1v1h-1zM441.0 97.9h1v1h-1zM440.4 94.8h1v1h-1zM457.0 101.1h1v1h-1zM443.0 98.6h1v1h-1zM439.1 94.7h1v1h-1zM445.1 96.5h1v1h-1zM472.3 96.9h1v1h-1zM445.4 109.8h1v1h-1zM428.5 96.1h1v1h-1zM456.3 96.8h1v1h-1zM439.9 89.7h1v1h-1zM440.7 90.5h1v1h-1zM453.7 99.2h1v1h-1zM436.8 103.3h1v1h-1zM427.6 89.5h1v1h-1zM449.9 97.3h1v1h-1zM426.0 90.3h1v1h-1zM437.5 91.0h1v1h-1zM443.1 94.6h1v1h-1zM446.6 94.9h1v1h-1zM444.9 92.4h1v1h-1zM445.3 97.7h1v1h-1zM449.3 97.7h1v1h-1zM435.4 94.9h1v1h-1zM456.8 93.5h1v1h-1zM441.2 106.1h1v1h-1zM448.4 100.0h1v1h-1zM429.3 89.2h1v1h-1zM443.9 109.7h1v1h-1zM417.7 83.9h1v1h-1zM447.4 97.0h1v1h-1zM427.9 101.4h1v1h-1zM442.6 92.0h1v1h-1zM439.2 91.6h1v1h-1zM444.0 90.5h1v1h-1zM425.9 90.4h1v1h-1zM444.7 102.8h1v1h-1zM432.1 88.3h1v1h-1zM443.8 102.7h1v1h-1zM435.4 105.4h1v1h-1zM430.4 104.9h1v1h-1zM448.8 83.8h1v1h-1zM446.8 93.7h1v1h-1zM438.0 90.3h1v1h-1zM440.4 90.8h1v1h-1zM441.9 102.4h1v1h-1zM457.4 102.7h1v1h-1zM451.2 98.2h1v1h-1zM437.7 87.7h1v1h-1zM452.9 92.3h1v1h-1zM442.5 86.0h1v1h-1zM445.7 104.6h1v1h-1zM439.0 101.3h1v1h-1zM438.3 96.4h1v1h-1zM434.2 77.2h1v1h-1zM444.8 98.5h1v1h-1zM447.4 106.7h1v1h-1zM451.7 98.4h1v1h-1zM432.0 114.9h1v1h-1z" fill="#ff0000" fill-opacity="0.3"/>
<path d="M407.2 54.8h1v1h-1zM411.4 58.9h1v1h-1zM409.9 62.9h1v1h-1zM406.8 52.8h1v1h-1zM406.8 66.3h1v1h-1zM408.9 55.3h1v1h-1zM408.3 58.5h1v1h-1zM405.5 63.0h1v1h-1zM412.2 61.1h1v1h-1zM407.7 60.1h1v1h-1zM409.3 58.6h1v1h-1zM405.8 63.9h1v1h-1zM413.2 62.0h1v1h-1zM411.3 53.4h1v1h-1zM403.9 65.7h1v1h-1zM406.7 53.4h1v1h-1zM406.5 68.1h1v1h-1zM408.7 61.5h1v1h-1z" fill="#ff0000" fill-opacity="0.3"/>
<path d="M412.9 89.2h1v1h-1zM410.4 91.5h1v1h-1zM411.9 91.2h1v1h-1zM416.5 87.1h1v1h-1zM417.0 87.2h1v1h-1zM417.9 87.2h1v1h-1zM416.7 82.9h1v1h-1zM411.5 90.4h1v1h-1zM415.8 86.3h1v1h-1zM409.5 89.4h1v1h-1zM409.4 89.7h1v1h-1zM414.7 88.2h1v1h-1zM414.7 87.5h1v1h-1zM413.8 90.3h1v1h-1zM417.3 86.3h1v1h-1zM415.9 81.9h1v1h-1zM410.6 90.1h1v1h-1zM417.1 85.3h1v1h-1zM414.8 90.5h1v1h-1zM412.5 90.4h1v1h-1zM411.7 91.8h1v1h-1zM417.6 86.4h1v1h-1zM407.9 95.4h1v1h-1zM411.6 92.5h1v1h-1zM414.3 86.3h1v1h-1zM421.1 79.6h1v1h-1zM415.7 87.9h1v1h-1zM412.8 86.5h1v1h-1zM419.3 81.6h1v1h-1zM416.2 86.5h1v1h-1zM415.0 83.0h1v1h-1zM417.1 90.2h1v1h-1zM413.6 91.9h1v1h-1zM413.9 91.9h1v1h-1zM411.5 92.6h1v1h-1zM417.7 85.6h1v1h-1zM410.1 94.0h1v1h-1zM414.8 87.6h1v1h-1zM409.7 92.0h1v1h-1zM410.7 94.2h1v1h-1zM418.0 86.9h1v1h-1zM406.8 91.8h1v1h-1zM415.2 85.7h1v1h-1zM415.5 86.3h1v1h-1zM418.0 79.7h1v1h-1zM413.7 88.1h1v1h-1zM407.9 89.2h1v1h-1zM413.8 87.5h1v1h-1zM415.2 88.7h1v1h-1zM406.8 93.0h1v1h-1zM411.1 89.4h1v1h-1zM412.3 90.3h1v1h-1zM411.5 91.3h1v1h-1zM421.9 84.4h1v1h-1zM414.5 88.7h1v1h-1zM419.9 83.9h1v1h-1zM407.7 93.8h1v1h-1zM420.9 79.1h1v1h-1zM421.0 81.8h1v1h-1zM415.7 87.6h1v1h-1zM409.4 94.2h1v1h-1zM415.1 85.9h1v1h-1zM416.6 84.0h1v1h-1zM412.4 89.6h1v1h-1zM409.9 92.2h1v1h-1zM415.4 88.5h1v1h-1zM418.1 84.7h1v1h-1zM411.7 90.0h1v1h-1zM416.1 85.4h1v1h-1zM420.4 80.5h1v1h-1zM419.1 83.5h1v1h-1zM418.1 81.4h1v1h-1zM420.6 82.0h1v1h-1zM421.5 82.1h1v1h-1zM416.1 89.3h1v1h-1zM418.7 85.1h1v1h-1zM420.8 78.6h1v1h-1zM417.6 84.1h1v1h-1zM422.3 77.5h1v1h-1zM417.9 80.8h1v1h-1zM412.7 89.4h1v1h-1zM410.1 90.9h1v1h-1zM412.1 89.4h1v1h-1zM409.3 92.8h1v1h-1zM409.0 92.9h1v1h-1zM414.5 86.4h1v1h-1zM420.6 79.1h1v1h-1zM423.3 77.8h1v1h-1zM417.6 83.7h1v1h-1zM421.8 78.7h1v1h-1z" fill="#ff0000" fill-opacity="0.45"/>
</g>
<rect x="395.30" y="33.30" width="85" height="84.2" fill="none" stroke="#666" stroke-width="0.9"/>
<line x1="420.00" y1="33.30" x2="420.00" y2="117.50" stroke="#555" stroke-width="1.1"/>
<line x1="395.30" y1="82.10" x2="480.30" y2="82.10" stroke="#555" stroke-width="1.1"/>
<text x="397.60" y="42.50" font-size="8.8" text-anchor="start" fill="#1a1a1a" textLength="21.00" lengthAdjust="spacingAndGlyphs" >0.39%</text>
<text x="477.50" y="42.50" font-size="8.8" text-anchor="end" fill="#1a1a1a" textLength="21.00" lengthAdjust="spacingAndGlyphs" >10.7%</text>
<text x="397.60" y="115.70" font-size="8.8" text-anchor="start" fill="#1a1a1a" textLength="21.00" lengthAdjust="spacingAndGlyphs" >85.2%</text>
<text x="477.50" y="115.70" font-size="8.8" text-anchor="end" fill="#1a1a1a" textLength="21.00" lengthAdjust="spacingAndGlyphs" >3.75%</text>
<path d="M393.1 93.3h2.2M394.1 85.8h1.2M394.1 81.4h1.2M394.1 78.2h1.2M394.1 75.8h1.2M394.1 73.8h1.2M394.1 72.2h1.2M394.1 70.7h1.2M394.1 69.4h1.2M393.1 68.3h2.2M394.1 61.0h1.2M394.1 56.8h1.2M394.1 53.8h1.2M394.1 51.5h1.2M394.1 49.5h1.2M394.1 47.9h1.2M394.1 46.5h1.2M394.1 45.3h1.2M393.1 44.2h2.2M394.1 36.9h1.2M394.1 95.3h1.2M394.1 99.3h1.2M394.1 103.3h1.2M394.1 106.3h1.2M394.1 109.3h1.2M394.1 110.8h1.2" stroke="#666" stroke-width="0.5" fill="none"/>
<text x="0" y="0" font-size="4.2" fill="#555" text-anchor="middle" style="stroke:none" transform="translate(390.0,44.2) rotate(-90)">10⁴</text>
<text x="0" y="0" font-size="4.2" fill="#555" text-anchor="middle" style="stroke:none" transform="translate(390.0,68.3) rotate(-90)">10³</text>
<text x="0" y="0" font-size="4.2" fill="#555" text-anchor="middle" style="stroke:none" transform="translate(390.0,93.3) rotate(-90)">10²</text>
<text x="0" y="0" font-size="4.2" fill="#555" text-anchor="middle" style="stroke:none" transform="translate(390.0,110.8) rotate(-90)">0</text>
<path d="M420.0 117.5v2.0M427.9 117.5v1.1M432.5 117.5v1.1M435.7 117.5v1.1M438.2 117.5v1.1M440.3 117.5v1.1M442.1 117.5v1.1M443.6 117.5v1.1M444.9 117.5v1.1M446.1 117.5v2.0M453.5 117.5v1.1M457.9 117.5v1.1M461.0 117.5v1.1M463.4 117.5v1.1M465.3 117.5v1.1M467.0 117.5v1.1M468.4 117.5v1.1M469.7 117.5v1.1M470.8 117.5v2.0M478.2 117.5v1.1M402.3 117.5v1.1M403.8 117.5v1.1M405.3 117.5v1.1M406.8 117.5v1.1M409.3 117.5v1.1M413.3 117.5v1.1M416.3 117.5v1.1" stroke="#666" stroke-width="0.5" fill="none"/>
<text x="404.8" y="128.3" font-size="4.2" fill="#555" text-anchor="middle" style="stroke:none">0</text>
<text x="420.0" y="128.3" font-size="4.2" fill="#555" text-anchor="middle" style="stroke:none">10²</text>
<text x="446.1" y="128.3" font-size="4.2" fill="#555" text-anchor="middle" style="stroke:none">10³</text>
<text x="470.8" y="128.3" font-size="4.2" fill="#555" text-anchor="middle" style="stroke:none">10⁴</text>
<rect x="499.50" y="33.30" width="85.00" height="84.20" fill="#ffffff" />
<g filter="url(#fs)">
<ellipse cx="511.50" cy="101.30" rx="4.59" ry="8.78" fill="#ff0000" filter="url(#fb)" transform="rotate(18 511.50 101.30)"/>
<path d="M512.9 101.6h1v1h-1zM512.3 91.8h1v1h-1zM508.0 97.6h1v1h-1zM510.6 99.5h1v1h-1zM512.5 103.8h1v1h-1zM509.4 105.2h1v1h-1zM511.5 102.7h1v1h-1zM504.6 106.0h1v1h-1zM510.0 98.9h1v1h-1zM514.0 102.6h1v1h-1zM511.4 102.5h1v1h-1zM513.7 97.0h1v1h-1zM508.4 101.7h1v1h-1zM509.0 104.6h1v1h-1zM515.2 87.8h1v1h-1zM511.6 104.5h1v1h-1zM511.1 101.8h1v1h-1zM511.6 105.5h1v1h-1zM513.2 89.1h1v1h-1zM511.1 101.5h1v1h-1zM512.4 106.9h1v1h-1zM510.2 101.6h1v1h-1zM505.9 110.9h1v1h-1zM516.9 102.1h1v1h-1zM511.8 105.4h1v1h-1zM514.6 102.0h1v1h-1zM515.0 100.7h1v1h-1zM508.6 113.2h1v1h-1zM514.0 96.3h1v1h-1zM515.6 97.1h1v1h-1zM513.3 100.3h1v1h-1zM513.5 102.4h1v1h-1zM516.4 88.9h1v1h-1zM511.9 102.6h1v1h-1zM517.9 93.3h1v1h-1zM514.0 97.5h1v1h-1zM512.0 97.8h1v1h-1zM508.2 97.0h1v1h-1zM516.2 98.3h1v1h-1zM514.1 94.2h1v1h-1zM517.8 91.2h1v1h-1zM511.2 91.7h1v1h-1zM513.2 100.7h1v1h-1zM513.9 93.0h1v1h-1zM510.5 104.6h1v1h-1zM514.2 96.8h1v1h-1zM515.3 110.1h1v1h-1zM504.5 107.8h1v1h-1zM511.6 110.2h1v1h-1zM512.7 103.8h1v1h-1zM508.6 108.1h1v1h-1zM513.3 93.4h1v1h-1zM508.7 105.0h1v1h-1zM509.5 96.2h1v1h-1zM507.6 103.8h1v1h-1zM510.0 99.4h1v1h-1zM511.5 110.3h1v1h-1zM505.0 115.2h1v1h-1zM514.2 95.5h1v1h-1zM513.0 92.4h1v1h-1zM510.3 105.7h1v1h-1zM507.8 106.1h1v1h-1zM512.1 98.4h1v1h-1zM512.7 107.6h1v1h-1zM509.3 109.1h1v1h-1zM511.9 96.5h1v1h-1zM507.5 100.1h1v1h-1zM508.8 94.1h1v1h-1zM511.5 103.4h1v1h-1zM515.9 96.4h1v1h-1zM511.0 101.9h1v1h-1zM511.0 105.9h1v1h-1zM511.9 94.2h1v1h-1zM516.0 93.0h1v1h-1zM514.1 101.5h1v1h-1zM509.8 96.0h1v1h-1zM511.4 109.0h1v1h-1zM517.2 93.2h1v1h-1zM516.9 98.2h1v1h-1zM508.9 104.0h1v1h-1zM511.6 99.8h1v1h-1zM519.2 83.6h1v1h-1zM514.1 100.1h1v1h-1zM519.0 84.3h1v1h-1zM508.5 100.6h1v1h-1zM509.7 114.4h1v1h-1zM511.3 94.9h1v1h-1zM515.0 106.5h1v1h-1zM509.3 104.3h1v1h-1zM506.3 112.2h1v1h-1zM510.6 110.3h1v1h-1zM510.2 100.2h1v1h-1zM512.6 97.9h1v1h-1zM508.6 110.0h1v1h-1zM516.8 97.1h1v1h-1zM509.7 108.0h1v1h-1zM509.5 109.4h1v1h-1zM507.6 112.8h1v1h-1zM511.8 96.5h1v1h-1zM511.7 102.4h1v1h-1zM511.3 97.5h1v1h-1zM512.7 92.9h1v1h-1zM507.7 111.5h1v1h-1zM511.7 94.8h1v1h-1zM512.7 96.5h1v1h-1zM516.3 97.0h1v1h-1zM512.5 95.9h1v1h-1zM508.5 110.4h1v1h-1zM508.5 109.1h1v1h-1zM515.6 108.1h1v1h-1zM514.7 96.0h1v1h-1zM513.6 94.4h1v1h-1zM513.2 97.2h1v1h-1zM508.4 92.0h1v1h-1zM510.6 105.0h1v1h-1zM509.4 109.6h1v1h-1zM509.0 101.2h1v1h-1zM514.6 92.8h1v1h-1zM517.5 95.1h1v1h-1zM510.0 110.7h1v1h-1zM508.8 108.9h1v1h-1zM518.9 100.0h1v1h-1zM515.4 100.9h1v1h-1zM514.2 96.6h1v1h-1zM505.3 105.3h1v1h-1zM512.7 91.2h1v1h-1zM512.4 99.1h1v1h-1zM511.1 95.9h1v1h-1zM510.9 93.8h1v1h-1zM509.4 103.1h1v1h-1zM510.6 93.3h1v1h-1zM508.9 94.8h1v1h-1zM512.1 102.8h1v1h-1zM512.8 92.3h1v1h-1zM514.4 99.6h1v1h-1zM512.1 96.2h1v1h-1zM511.0 93.8h1v1h-1zM521.5 99.8h1v1h-1zM510.1 108.6h1v1h-1zM506.9 101.7h1v1h-1zM515.5 95.7h1v1h-1zM514.4 102.3h1v1h-1zM512.9 101.8h1v1h-1zM512.7 102.5h1v1h-1zM513.6 104.6h1v1h-1zM512.0 97.8h1v1h-1zM512.9 96.9h1v1h-1zM510.8 104.3h1v1h-1zM513.6 88.3h1v1h-1zM511.7 97.6h1v1h-1zM511.8 96.9h1v1h-1zM511.2 107.6h1v1h-1zM504.3 108.9h1v1h-1zM510.3 93.5h1v1h-1zM511.3 108.3h1v1h-1zM511.3 97.1h1v1h-1zM514.4 104.1h1v1h-1zM506.6 110.6h1v1h-1zM509.2 106.8h1v1h-1zM515.1 113.7h1v1h-1zM512.0 105.4h1v1h-1zM518.3 85.4h1v1h-1zM513.4 89.9h1v1h-1zM505.5 105.5h1v1h-1zM505.2 115.9h1v1h-1zM508.4 105.9h1v1h-1zM508.5 105.2h1v1h-1zM505.4 99.0h1v1h-1zM511.4 108.0h1v1h-1zM511.4 98.8h1v1h-1zM511.8 93.7h1v1h-1zM511.8 103.1h1v1h-1zM513.1 107.0h1v1h-1zM510.5 108.0h1v1h-1zM510.3 103.3h1v1h-1zM507.0 108.6h1v1h-1zM514.0 96.5h1v1h-1zM513.6 91.9h1v1h-1zM512.3 90.9h1v1h-1zM507.9 107.1h1v1h-1zM509.9 92.7h1v1h-1zM509.2 104.9h1v1h-1zM515.9 102.8h1v1h-1zM508.6 90.7h1v1h-1zM514.9 103.3h1v1h-1zM514.9 103.5h1v1h-1zM510.1 108.9h1v1h-1zM513.5 96.6h1v1h-1zM510.5 109.2h1v1h-1zM512.6 101.7h1v1h-1zM513.7 102.1h1v1h-1zM516.4 101.4h1v1h-1zM511.2 104.2h1v1h-1zM509.4 88.3h1v1h-1zM510.7 100.0h1v1h-1zM505.5 113.2h1v1h-1zM515.6 96.0h1v1h-1zM515.9 88.5h1v1h-1zM506.7 90.7h1v1h-1zM514.8 89.7h1v1h-1zM510.8 101.0h1v1h-1zM513.5 95.3h1v1h-1zM511.1 103.0h1v1h-1zM510.7 112.4h1v1h-1zM511.6 94.6h1v1h-1zM513.8 95.1h1v1h-1zM513.6 109.0h1v1h-1zM509.5 101.6h1v1h-1zM509.3 92.8h1v1h-1zM507.0 111.8h1v1h-1zM517.4 99.4h1v1h-1zM512.6 97.0h1v1h-1zM505.7 102.3h1v1h-1zM523.0 95.3h1v1h-1zM505.5 101.8h1v1h-1zM512.4 97.4h1v1h-1zM510.0 105.0h1v1h-1zM513.9 93.7h1v1h-1zM507.6 107.9h1v1h-1zM511.0 93.0h1v1h-1zM519.6 87.6h1v1h-1zM510.6 103.3h1v1h-1zM514.5 103.5h1v1h-1zM508.7 97.7h1v1h-1zM503.1 106.3h1v1h-1zM515.4 100.0h1v1h-1zM508.1 111.1h1v1h-1zM511.3 100.7h1v1h-1zM511.7 99.5h1v1h-1zM509.9 110.7h1v1h-1zM509.5 112.8h1v1h-1zM511.5 98.8h1v1h-1zM505.4 114.8h1v1h-1zM506.8 107.1h1v1h-1zM509.4 104.6h1v1h-1zM510.1 97.8h1v1h-1zM513.5 96.7h1v1h-1zM509.7 110.5h1v1h-1zM514.5 96.0h1v1h-1zM516.5 85.1h1v1h-1zM500.4 113.7h1v1h-1zM514.8 100.1h1v1h-1zM511.0 114.5h1v1h-1zM516.9 99.9h1v1h-1zM507.3 111.2h1v1h-1zM508.9 101.1h1v1h-1zM515.9 100.6h1v1h-1zM517.2 94.9h1v1h-1zM511.8 104.0h1v1h-1zM514.8 98.3h1v1h-1zM511.3 100.4h1v1h-1zM514.9 91.1h1v1h-1zM514.6 99.7h1v1h-1zM511.0 102.2h1v1h-1zM511.0 97.4h1v1h-1zM514.9 97.3h1v1h-1zM510.6 90.6h1v1h-1zM514.8 104.2h1v1h-1zM510.3 103.2h1v1h-1zM507.9 115.2h1v1h-1zM513.1 97.7h1v1h-1zM508.4 107.4h1v1h-1zM508.9 106.1h1v1h-1zM512.0 102.3h1v1h-1zM519.9 86.3h1v1h-1zM511.4 105.2h1v1h-1zM510.4 101.9h1v1h-1zM508.7 109.6h1v1h-1zM505.1 105.0h1v1h-1zM507.9 113.8h1v1h-1zM508.1 101.8h1v1h-1zM514.4 95.3h1v1h-1zM521.6 80.6h1v1h-1zM510.8 95.1h1v1h-1zM516.5 102.4h1v1h-1zM513.9 102.9h1v1h-1zM512.4 91.8h1v1h-1zM506.5 105.1h1v1h-1zM515.0 82.8h1v1h-1zM511.6 97.8h1v1h-1zM511.7 105.5h1v1h-1zM513.8 98.0h1v1h-1zM512.0 99.7h1v1h-1zM515.2 94.8h1v1h-1zM515.5 99.4h1v1h-1zM517.4 92.4h1v1h-1zM515.1 93.3h1v1h-1zM511.3 92.6h1v1h-1zM505.5 103.7h1v1h-1zM515.2 108.3h1v1h-1zM505.8 103.8h1v1h-1zM509.8 104.7h1v1h-1zM511.1 101.7h1v1h-1zM513.8 109.1h1v1h-1zM514.6 104.2h1v1h-1zM518.9 99.8h1v1h-1zM510.5 93.8h1v1h-1zM514.5 99.2h1v1h-1zM505.2 106.0h1v1h-1zM512.1 102.9h1v1h-1zM509.9 90.6h1v1h-1zM513.3 100.2h1v1h-1zM510.8 102.5h1v1h-1zM513.0 96.0h1v1h-1zM518.2 103.6h1v1h-1zM508.7 99.6h1v1h-1zM511.8 97.9h1v1h-1zM515.8 87.3h1v1h-1zM511.5 102.2h1v1h-1zM512.9 94.2h1v1h-1zM513.1 103.5h1v1h-1zM507.3 101.8h1v1h-1zM514.2 106.8h1v1h-1zM505.0 97.2h1v1h-1zM512.6 107.5h1v1h-1zM510.3 101.0h1v1h-1zM511.4 109.4h1v1h-1zM511.1 101.2h1v1h-1zM513.9 103.6h1v1h-1zM508.0 101.3h1v1h-1zM513.2 97.6h1v1h-1zM509.2 103.4h1v1h-1zM508.2 105.7h1v1h-1zM514.0 109.2h1v1h-1zM510.0 106.8h1v1h-1zM504.5 103.2h1v1h-1zM506.1 109.9h1v1h-1zM512.4 94.2h1v1h-1zM513.4 94.4h1v1h-1zM511.8 98.5h1v1h-1zM510.1 108.2h1v1h-1zM512.1 96.2h1v1h-1zM515.9 95.7h1v1h-1zM512.6 92.7h1v1h-1zM507.1 110.5h1v1h-1zM512.4 101.6h1v1h-1zM515.3 89.8h1v1h-1zM509.9 106.7h1v1h-1zM507.7 103.3h1v1h-1zM510.5 100.3h1v1h-1zM507.8 99.1h1v1h-1zM514.0 96.6h1v1h-1zM514.2 96.6h1v1h-1zM509.0 110.3h1v1h-1zM512.9 101.4h1v1h-1zM511.9 94.1h1v1h-1zM511.4 92.7h1v1h-1zM505.8 110.6h1v1h-1zM510.5 100.1h1v1h-1zM511.5 97.4h1v1h-1zM512.8 99.3h1v1h-1zM513.1 98.9h1v1h-1zM511.0 99.2h1v1h-1zM516.4 100.6h1v1h-1zM513.5 92.8h1v1h-1zM511.5 105.4h1v1h-1zM510.6 93.3h1v1h-1zM514.6 101.1h1v1h-1zM509.7 105.2h1v1h-1zM511.6 98.1h1v1h-1zM508.1 98.3h1v1h-1zM514.1 91.7h1v1h-1zM508.2 112.7h1v1h-1zM512.1 88.6h1v1h-1zM509.0 99.2h1v1h-1zM509.0 101.3h1v1h-1zM509.6 94.4h1v1h-1zM511.4 103.5h1v1h-1zM512.4 103.6h1v1h-1zM514.9 100.8h1v1h-1zM515.5 94.8h1v1h-1zM511.0 97.6h1v1h-1zM514.3 96.9h1v1h-1zM513.9 102.9h1v1h-1zM513.9 95.3h1v1h-1zM514.8 95.3h1v1h-1zM506.1 108.9h1v1h-1zM506.6 106.9h1v1h-1zM508.9 110.4h1v1h-1zM507.5 103.6h1v1h-1zM508.0 111.1h1v1h-1zM515.0 99.0h1v1h-1zM512.3 96.1h1v1h-1zM510.2 98.1h1v1h-1zM513.7 109.3h1v1h-1zM517.5 96.6h1v1h-1zM508.4 107.7h1v1h-1zM515.4 106.9h1v1h-1zM511.3 96.8h1v1h-1zM518.9 96.8h1v1h-1zM507.4 107.0h1v1h-1zM513.5 101.0h1v1h-1zM515.1 100.7h1v1h-1zM514.7 102.8h1v1h-1zM511.4 103.8h1v1h-1zM513.6 98.1h1v1h-1zM505.8 105.3h1v1h-1zM513.7 106.2h1v1h-1zM510.8 107.8h1v1h-1zM509.2 99.6h1v1h-1zM512.4 95.9h1v1h-1zM513.9 95.3h1v1h-1zM511.8 98.5h1v1h-1zM509.6 109.7h1v1h-1zM505.7 104.8h1v1h-1zM508.3 104.8h1v1h-1zM504.5 110.7h1v1h-1zM515.2 97.9h1v1h-1zM503.7 113.5h1v1h-1zM510.1 100.0h1v1h-1zM513.7 113.7h1v1h-1zM513.4 104.8h1v1h-1zM509.9 97.5h1v1h-1zM509.4 105.2h1v1h-1zM509.4 106.9h1v1h-1zM508.6 110.3h1v1h-1zM514.1 103.1h1v1h-1zM514.7 104.6h1v1h-1zM510.4 97.8h1v1h-1zM511.1 108.2h1v1h-1zM509.9 97.7h1v1h-1zM512.8 97.9h1v1h-1zM509.2 99.5h1v1h-1zM514.6 97.1h1v1h-1zM513.2 109.9h1v1h-1zM510.3 96.2h1v1h-1zM509.6 105.0h1v1h-1zM512.4 107.1h1v1h-1zM511.9 99.1h1v1h-1zM510.7 90.5h1v1h-1zM515.4 107.5h1v1h-1zM511.2 89.9h1v1h-1zM514.3 99.0h1v1h-1zM515.2 89.9h1v1h-1zM503.0 107.6h1v1h-1zM515.6 94.7h1v1h-1zM507.2 107.3h1v1h-1zM512.2 107.3h1v1h-1zM514.0 92.6h1v1h-1zM511.8 97.4h1v1h-1zM508.2 101.5h1v1h-1zM511.6 88.4h1v1h-1zM513.5 92.8h1v1h-1zM508.3 106.3h1v1h-1zM511.6 96.2h1v1h-1zM509.6 105.5h1v1h-1zM509.7 100.7h1v1h-1zM510.6 100.4h1v1h-1zM509.3 108.1h1v1h-1zM510.2 108.8h1v1h-1zM506.5 101.2h1v1h-1zM509.5 99.0h1v1h-1zM510.4 107.4h1v1h-1zM510.3 103.3h1v1h-1zM503.6 107.6h1v1h-1zM509.0 105.0h1v1h-1zM511.6 94.1h1v1h-1zM512.3 100.8h1v1h-1zM507.6 107.1h1v1h-1zM515.6 97.1h1v1h-1zM506.6 107.0h1v1h-1zM513.7 96.7h1v1h-1zM513.8 99.6h1v1h-1zM511.3 95.6h1v1h-1zM509.3 111.2h1v1h-1zM515.9 98.0h1v1h-1zM507.9 110.4h1v1h-1zM513.5 99.8h1v1h-1zM507.7 99.2h1v1h-1zM512.2 106.0h1v1h-1zM519.7 91.5h1v1h-1zM510.5 92.9h1v1h-1zM513.2 95.1h1v1h-1zM507.2 98.8h1v1h-1zM512.4 101.8h1v1h-1zM506.8 94.4h1v1h-1zM511.9 92.9h1v1h-1zM508.7 104.8h1v1h-1zM518.0 105.8h1v1h-1zM510.9 100.5h1v1h-1zM512.9 107.4h1v1h-1zM508.8 109.2h1v1h-1zM509.0 91.1h1v1h-1zM512.3 94.8h1v1h-1zM510.0 91.6h1v1h-1zM510.9 97.9h1v1h-1zM517.4 98.3h1v1h-1zM506.0 105.3h1v1h-1zM509.2 106.1h1v1h-1zM511.5 94.7h1v1h-1zM512.8 94.4h1v1h-1zM510.2 105.1h1v1h-1zM509.3 98.1h1v1h-1zM509.1 94.8h1v1h-1zM512.7 100.7h1v1h-1zM510.3 103.1h1v1h-1zM509.8 109.1h1v1h-1zM507.4 103.2h1v1h-1zM511.0 97.6h1v1h-1zM508.9 107.2h1v1h-1zM511.2 99.2h1v1h-1zM506.8 109.9h1v1h-1zM513.7 95.9h1v1h-1zM515.3 101.4h1v1h-1zM509.9 108.3h1v1h-1zM511.9 99.9h1v1h-1zM509.8 110.0h1v1h-1zM503.8 103.0h1v1h-1zM513.4 93.4h1v1h-1zM511.9 105.5h1v1h-1zM506.5 100.0h1v1h-1zM509.1 100.8h1v1h-1zM513.5 86.1h1v1h-1zM512.8 98.1h1v1h-1zM510.3 105.7h1v1h-1zM510.1 100.2h1v1h-1zM508.5 99.5h1v1h-1zM510.0 105.2h1v1h-1zM510.8 107.9h1v1h-1zM512.0 98.3h1v1h-1zM511.6 100.6h1v1h-1zM514.2 83.7h1v1h-1zM507.7 113.4h1v1h-1zM507.1 109.6h1v1h-1zM513.8 90.9h1v1h-1zM510.1 98.0h1v1h-1zM512.9 109.9h1v1h-1zM518.1 98.3h1v1h-1zM506.4 106.0h1v1h-1zM510.3 108.1h1v1h-1zM507.2 99.9h1v1h-1zM508.5 103.3h1v1h-1zM505.0 111.7h1v1h-1zM515.8 91.9h1v1h-1zM517.9 94.9h1v1h-1zM515.3 95.9h1v1h-1zM512.2 94.3h1v1h-1zM509.3 101.5h1v1h-1zM508.2 105.0h1v1h-1zM510.9 111.0h1v1h-1zM520.2 92.6h1v1h-1zM508.6 102.6h1v1h-1zM511.2 103.2h1v1h-1zM512.1 107.2h1v1h-1zM505.6 107.8h1v1h-1zM509.3 102.5h1v1h-1zM512.6 90.6h1v1h-1zM514.7 94.8h1v1h-1zM513.1 99.6h1v1h-1zM512.0 100.8h1v1h-1zM508.3 103.6h1v1h-1zM511.4 100.1h1v1h-1zM509.9 97.0h1v1h-1zM512.6 103.6h1v1h-1zM508.2 113.3h1v1h-1zM508.0 101.9h1v1h-1zM515.0 101.9h1v1h-1zM508.7 114.5h1v1h-1zM512.6 113.5h1v1h-1zM509.2 115.7h1v1h-1zM513.3 97.8h1v1h-1zM507.5 108.9h1v1h-1zM509.3 100.6h1v1h-1zM508.8 96.7h1v1h-1zM507.3 108.4h1v1h-1zM512.7 102.6h1v1h-1zM509.2 98.6h1v1h-1zM509.9 96.6h1v1h-1zM509.6 101.5h1v1h-1zM508.2 108.2h1v1h-1zM507.9 103.8h1v1h-1zM514.3 89.4h1v1h-1zM512.1 108.2h1v1h-1zM507.9 108.5h1v1h-1zM512.6 99.0h1v1h-1zM513.6 99.4h1v1h-1zM512.3 107.3h1v1h-1zM517.1 97.3h1v1h-1zM514.5 88.6h1v1h-1zM512.5 97.5h1v1h-1zM515.1 100.2h1v1h-1zM515.0 96.7h1v1h-1zM513.7 93.6h1v1h-1zM513.3 104.2h1v1h-1zM508.0 91.5h1v1h-1zM505.4 111.1h1v1h-1zM511.6 98.9h1v1h-1zM510.5 110.6h1v1h-1zM512.6 109.9h1v1h-1zM509.8 104.1h1v1h-1zM511.4 110.6h1v1h-1zM505.9 101.5h1v1h-1zM513.9 97.7h1v1h-1zM515.0 98.9h1v1h-1zM513.1 104.3h1v1h-1zM502.1 110.8h1v1h-1zM516.3 99.2h1v1h-1zM506.9 99.5h1v1h-1zM506.8 103.5h1v1h-1zM512.2 108.0h1v1h-1zM509.1 97.8h1v1h-1zM509.5 104.3h1v1h-1zM510.5 98.9h1v1h-1zM509.9 97.2h1v1h-1zM512.8 107.6h1v1h-1zM509.8 94.6h1v1h-1zM513.4 107.3h1v1h-1zM513.5 105.8h1v1h-1zM510.0 106.5h1v1h-1zM510.0 98.9h1v1h-1zM506.9 99.2h1v1h-1zM505.4 109.8h1v1h-1zM511.9 103.3h1v1h-1zM511.6 100.7h1v1h-1zM512.0 95.8h1v1h-1zM511.8 106.7h1v1h-1zM514.1 92.6h1v1h-1zM514.9 89.8h1v1h-1zM507.7 100.5h1v1h-1zM504.8 109.3h1v1h-1zM504.5 107.6h1v1h-1zM504.8 104.1h1v1h-1zM509.0 96.7h1v1h-1zM508.6 102.3h1v1h-1zM512.5 99.8h1v1h-1zM511.9 94.0h1v1h-1zM508.4 101.7h1v1h-1zM505.9 101.9h1v1h-1zM510.2 115.0h1v1h-1zM512.3 90.7h1v1h-1zM513.7 99.0h1v1h-1zM512.8 106.6h1v1h-1zM506.0 107.4h1v1h-1zM510.7 101.8h1v1h-1zM509.8 104.6h1v1h-1zM513.9 88.9h1v1h-1zM508.8 108.5h1v1h-1zM512.1 99.1h1v1h-1zM514.2 100.2h1v1h-1zM507.4 96.3h1v1h-1zM511.1 107.0h1v1h-1zM511.9 98.1h1v1h-1zM510.9 106.1h1v1h-1zM517.2 95.7h1v1h-1zM516.4 95.4h1v1h-1zM506.2 109.1h1v1h-1zM511.0 90.0h1v1h-1zM509.5 96.7h1v1h-1zM511.2 97.4h1v1h-1zM515.7 90.4h1v1h-1zM503.0 107.7h1v1h-1zM510.7 98.4h1v1h-1zM513.2 95.4h1v1h-1zM515.8 94.1h1v1h-1zM509.3 97.0h1v1h-1zM510.8 102.8h1v1h-1zM508.8 109.3h1v1h-1zM517.3 99.2h1v1h-1zM511.9 101.6h1v1h-1zM506.9 108.9h1v1h-1zM509.5 98.6h1v1h-1zM505.0 111.7h1v1h-1zM510.6 91.7h1v1h-1zM510.5 112.4h1v1h-1zM510.8 94.7h1v1h-1zM504.9 114.3h1v1h-1zM509.4 99.6h1v1h-1zM504.3 115.4h1v1h-1zM514.9 90.9h1v1h-1zM510.0 101.6h1v1h-1zM507.9 93.7h1v1h-1zM518.3 95.8h1v1h-1zM518.3 90.5h1v1h-1zM510.2 116.1h1v1h-1zM514.2 103.8h1v1h-1zM505.2 107.4h1v1h-1zM507.6 103.3h1v1h-1zM518.4 88.0h1v1h-1zM513.8 95.6h1v1h-1zM516.9 93.1h1v1h-1zM509.3 104.2h1v1h-1zM511.4 94.0h1v1h-1zM509.3 100.9h1v1h-1zM515.1 94.4h1v1h-1zM513.5 103.6h1v1h-1zM506.4 105.1h1v1h-1zM508.8 100.4h1v1h-1zM514.6 91.7h1v1h-1zM513.1 99.0h1v1h-1zM514.1 98.3h1v1h-1zM512.5 99.6h1v1h-1zM514.0 108.8h1v1h-1zM506.8 96.4h1v1h-1zM518.0 91.5h1v1h-1zM510.1 112.7h1v1h-1zM507.4 110.1h1v1h-1zM516.1 98.4h1v1h-1zM511.4 106.3h1v1h-1zM510.1 104.9h1v1h-1zM518.0 91.2h1v1h-1zM509.0 102.0h1v1h-1zM514.8 98.6h1v1h-1zM509.8 95.8h1v1h-1zM513.0 104.3h1v1h-1zM511.8 107.8h1v1h-1zM510.4 102.9h1v1h-1zM515.1 88.7h1v1h-1zM517.2 98.6h1v1h-1zM513.4 98.2h1v1h-1zM506.8 105.3h1v1h-1zM517.3 94.7h1v1h-1zM504.5 107.4h1v1h-1zM514.9 102.8h1v1h-1zM513.3 96.0h1v1h-1zM510.3 101.4h1v1h-1zM505.4 95.4h1v1h-1zM512.9 93.3h1v1h-1zM515.8 103.7h1v1h-1zM508.1 101.2h1v1h-1zM514.8 100.6h1v1h-1zM512.4 100.2h1v1h-1zM506.4 108.3h1v1h-1zM517.0 97.7h1v1h-1zM512.9 105.5h1v1h-1zM508.2 102.0h1v1h-1zM507.7 109.3h1v1h-1zM512.0 104.9h1v1h-1zM507.5 103.2h1v1h-1zM507.0 103.3h1v1h-1zM509.7 103.0h1v1h-1zM506.8 110.5h1v1h-1zM511.4 100.1h1v1h-1zM514.8 88.6h1v1h-1zM509.5 100.1h1v1h-1zM512.5 100.3h1v1h-1zM512.2 104.0h1v1h-1zM512.3 108.8h1v1h-1zM513.0 99.5h1v1h-1zM510.3 100.4h1v1h-1zM509.6 96.9h1v1h-1zM513.6 103.0h1v1h-1zM511.1 97.9h1v1h-1zM509.8 94.0h1v1h-1zM514.2 94.1h1v1h-1zM519.2 91.6h1v1h-1zM509.9 106.1h1v1h-1zM515.1 97.8h1v1h-1zM517.4 100.4h1v1h-1zM513.0 100.5h1v1h-1zM516.1 96.5h1v1h-1zM511.8 104.6h1v1h-1zM505.7 111.0h1v1h-1zM510.0 87.6h1v1h-1zM512.0 96.3h1v1h-1zM513.5 99.1h1v1h-1zM507.3 107.3h1v1h-1zM507.5 108.4h1v1h-1zM515.5 95.4h1v1h-1zM511.5 107.2h1v1h-1zM517.2 95.9h1v1h-1zM508.6 103.0h1v1h-1zM511.9 101.6h1v1h-1zM510.0 100.4h1v1h-1zM506.8 111.4h1v1h-1zM510.6 103.5h1v1h-1zM506.7 101.5h1v1h-1zM511.4 115.2h1v1h-1zM514.6 101.9h1v1h-1zM513.5 102.5h1v1h-1zM507.6 99.3h1v1h-1zM511.2 97.0h1v1h-1zM507.6 95.1h1v1h-1zM513.5 100.2h1v1h-1zM508.6 102.9h1v1h-1zM507.5 111.6h1v1h-1zM510.2 103.3h1v1h-1zM513.5 96.1h1v1h-1zM510.5 94.2h1v1h-1zM515.8 89.4h1v1h-1zM510.1 104.9h1v1h-1zM511.7 98.5h1v1h-1zM508.5 105.9h1v1h-1zM512.6 101.1h1v1h-1zM512.6 100.6h1v1h-1zM509.4 105.0h1v1h-1zM505.8 112.7h1v1h-1zM512.1 101.4h1v1h-1zM508.6 99.9h1v1h-1zM508.9 100.6h1v1h-1zM513.2 100.6h1v1h-1zM509.9 105.9h1v1h-1zM518.1 99.9h1v1h-1zM516.5 102.0h1v1h-1zM513.7 96.5h1v1h-1zM506.0 110.4h1v1h-1zM516.4 94.5h1v1h-1zM510.4 111.8h1v1h-1zM509.2 103.6h1v1h-1zM513.1 104.2h1v1h-1zM508.0 97.4h1v1h-1zM506.2 107.2h1v1h-1zM513.0 92.4h1v1h-1zM505.9 106.9h1v1h-1zM516.3 103.0h1v1h-1zM510.1 103.5h1v1h-1zM509.0 94.8h1v1h-1zM505.2 108.7h1v1h-1zM513.8 102.8h1v1h-1zM512.1 97.3h1v1h-1zM509.7 107.6h1v1h-1zM512.0 109.7h1v1h-1zM504.7 109.3h1v1h-1zM511.1 103.1h1v1h-1zM507.4 98.5h1v1h-1zM515.1 101.2h1v1h-1zM507.7 106.6h1v1h-1zM511.4 100.4h1v1h-1zM508.1 105.6h1v1h-1zM509.1 95.9h1v1h-1zM514.8 107.7h1v1h-1zM512.3 104.2h1v1h-1zM506.9 105.2h1v1h-1zM514.2 106.3h1v1h-1zM508.9 107.5h1v1h-1zM511.3 95.9h1v1h-1zM507.5 108.1h1v1h-1zM511.9 102.1h1v1h-1zM509.7 98.6h1v1h-1zM508.6 103.3h1v1h-1zM515.4 99.5h1v1h-1zM504.4 103.9h1v1h-1zM515.7 94.9h1v1h-1zM515.4 96.2h1v1h-1zM512.1 108.7h1v1h-1zM504.6 111.1h1v1h-1zM512.0 95.3h1v1h-1zM514.9 99.1h1v1h-1zM508.4 103.6h1v1h-1zM509.2 97.5h1v1h-1zM508.7 98.0h1v1h-1zM509.8 113.9h1v1h-1zM511.8 99.1h1v1h-1zM509.9 106.4h1v1h-1zM509.4 109.5h1v1h-1zM508.6 116.5h1v1h-1zM511.1 93.8h1v1h-1zM517.2 99.7h1v1h-1zM514.6 100.3h1v1h-1zM515.8 93.0h1v1h-1zM512.5 94.3h1v1h-1zM507.9 100.3h1v1h-1zM503.8 115.3h1v1h-1zM517.0 99.8h1v1h-1zM503.2 105.3h1v1h-1zM513.5 105.0h1v1h-1zM513.6 95.1h1v1h-1zM511.0 96.2h1v1h-1zM510.6 113.2h1v1h-1zM510.0 95.3h1v1h-1zM510.6 106.5h1v1h-1zM512.8 99.8h1v1h-1zM512.2 92.7h1v1h-1zM516.3 98.0h1v1h-1zM508.9 100.7h1v1h-1zM515.9 97.9h1v1h-1zM509.4 103.5h1v1h-1zM514.2 100.1h1v1h-1zM511.5 99.6h1v1h-1zM506.5 95.3h1v1h-1zM509.9 105.3h1v1h-1zM518.1 109.6h1v1h-1zM513.8 100.0h1v1h-1zM510.3 98.8h1v1h-1zM512.2 96.3h1v1h-1zM516.0 103.4h1v1h-1zM509.3 103.5h1v1h-1zM507.1 107.1h1v1h-1zM510.7 106.3h1v1h-1zM513.8 98.7h1v1h-1zM510.9 109.3h1v1h-1zM510.7 88.3h1v1h-1zM511.0 100.6h1v1h-1zM516.4 93.1h1v1h-1zM513.7 105.6h1v1h-1zM515.5 104.8h1v1h-1zM511.8 97.0h1v1h-1zM511.2 106.0h1v1h-1zM512.5 91.2h1v1h-1zM510.6 105.3h1v1h-1zM512.2 96.6h1v1h-1zM511.3 100.3h1v1h-1zM512.3 104.9h1v1h-1zM519.2 98.5h1v1h-1zM510.6 103.3h1v1h-1zM507.7 113.4h1v1h-1zM510.4 93.0h1v1h-1zM511.1 97.2h1v1h-1zM514.0 90.1h1v1h-1zM516.6 97.1h1v1h-1zM508.4 103.5h1v1h-1zM508.9 107.7h1v1h-1zM515.5 88.8h1v1h-1zM508.8 110.6h1v1h-1zM513.0 97.6h1v1h-1zM514.3 98.2h1v1h-1zM510.1 102.9h1v1h-1zM514.3 108.1h1v1h-1zM514.2 104.7h1v1h-1zM509.3 106.6h1v1h-1zM515.3 103.2h1v1h-1zM513.3 104.9h1v1h-1zM516.7 92.4h1v1h-1zM520.3 92.4h1v1h-1zM513.2 104.4h1v1h-1zM512.7 97.4h1v1h-1zM511.2 94.0h1v1h-1zM510.2 102.7h1v1h-1zM511.7 99.6h1v1h-1zM511.4 111.2h1v1h-1zM507.1 113.5h1v1h-1zM513.4 98.3h1v1h-1zM506.3 105.4h1v1h-1zM509.4 105.7h1v1h-1zM511.4 105.1h1v1h-1zM510.0 99.4h1v1h-1zM515.0 101.1h1v1h-1zM515.5 91.1h1v1h-1zM511.3 100.7h1v1h-1zM512.3 103.4h1v1h-1zM515.0 102.9h1v1h-1zM517.9 101.8h1v1h-1zM519.7 91.1h1v1h-1zM509.0 98.4h1v1h-1zM512.0 95.5h1v1h-1zM511.0 102.6h1v1h-1zM508.4 109.8h1v1h-1zM511.2 99.5h1v1h-1zM510.6 105.1h1v1h-1zM506.9 110.9h1v1h-1zM511.0 98.9h1v1h-1zM512.0 96.2h1v1h-1zM507.4 93.8h1v1h-1zM512.0 89.2h1v1h-1zM514.5 83.6h1v1h-1zM510.9 104.8h1v1h-1zM510.7 88.9h1v1h-1zM510.4 96.2h1v1h-1zM510.6 104.0h1v1h-1zM510.2 101.6h1v1h-1zM510.0 106.4h1v1h-1zM510.6 101.7h1v1h-1zM510.0 96.4h1v1h-1zM512.5 102.6h1v1h-1zM509.1 111.2h1v1h-1zM510.5 107.4h1v1h-1zM513.4 100.4h1v1h-1zM509.6 104.9h1v1h-1zM511.7 99.6h1v1h-1zM516.5 88.5h1v1h-1zM520.6 94.2h1v1h-1zM512.6 100.7h1v1h-1zM506.2 102.3h1v1h-1zM506.7 110.8h1v1h-1zM512.9 109.9h1v1h-1zM501.9 105.2h1v1h-1zM512.7 94.0h1v1h-1zM514.0 93.6h1v1h-1zM511.6 112.9h1v1h-1zM509.4 98.1h1v1h-1zM511.9 107.4h1v1h-1zM509.8 99.2h1v1h-1zM512.9 113.4h1v1h-1zM511.1 110.8h1v1h-1zM513.2 99.4h1v1h-1zM518.1 96.0h1v1h-1zM511.7 94.0h1v1h-1zM511.7 99.7h1v1h-1zM510.7 111.9h1v1h-1zM514.1 96.9h1v1h-1zM515.0 104.9h1v1h-1zM513.4 90.6h1v1h-1zM514.2 95.1h1v1h-1zM509.1 107.4h1v1h-1zM504.3 115.2h1v1h-1zM509.4 102.1h1v1h-1zM513.3 92.1h1v1h-1zM509.5 101.4h1v1h-1zM512.8 97.2h1v1h-1zM515.5 98.0h1v1h-1zM510.4 105.7h1v1h-1zM503.3 106.4h1v1h-1zM517.1 96.5h1v1h-1zM516.0 96.7h1v1h-1zM510.9 104.6h1v1h-1zM508.7 99.4h1v1h-1zM510.0 90.3h1v1h-1zM510.5 104.4h1v1h-1zM507.8 102.6h1v1h-1zM514.4 102.8h1v1h-1zM511.8 96.1h1v1h-1zM517.9 100.9h1v1h-1zM514.5 110.7h1v1h-1zM504.3 101.5h1v1h-1zM509.9 101.8h1v1h-1zM511.7 101.9h1v1h-1zM517.0 87.5h1v1h-1zM508.9 97.3h1v1h-1zM514.9 97.9h1v1h-1zM516.7 98.0h1v1h-1zM510.3 104.4h1v1h-1zM511.1 93.9h1v1h-1zM509.0 108.2h1v1h-1zM511.7 102.6h1v1h-1zM511.7 106.9h1v1h-1zM513.1 98.7h1v1h-1zM513.3 100.0h1v1h-1zM514.1 90.6h1v1h-1zM505.2 108.2h1v1h-1zM513.5 96.4h1v1h-1zM514.2 92.6h1v1h-1zM512.9 103.2h1v1h-1zM511.9 102.0h1v1h-1zM513.0 97.9h1v1h-1zM512.2 102.7h1v1h-1zM511.9 106.1h1v1h-1zM510.7 105.4h1v1h-1zM509.9 100.8h1v1h-1zM513.4 106.1h1v1h-1zM514.2 98.2h1v1h-1zM511.2 99.8h1v1h-1zM512.9 93.9h1v1h-1zM511.5 105.3h1v1h-1zM507.8 105.6h1v1h-1zM518.1 86.9h1v1h-1zM513.4 101.0h1v1h-1zM510.5 113.8h1v1h-1zM514.6 86.3h1v1h-1zM516.6 99.9h1v1h-1zM512.1 95.4h1v1h-1zM504.2 106.2h1v1h-1zM508.8 95.6h1v1h-1zM515.0 93.8h1v1h-1zM511.0 100.6h1v1h-1zM510.4 99.7h1v1h-1zM513.0 100.5h1v1h-1zM513.5 95.5h1v1h-1zM515.0 98.4h1v1h-1zM510.7 109.4h1v1h-1zM508.0 107.2h1v1h-1zM512.7 98.9h1v1h-1zM513.7 99.6h1v1h-1zM508.3 98.8h1v1h-1zM514.4 94.6h1v1h-1zM506.8 116.8h1v1h-1zM515.4 91.1h1v1h-1zM509.3 95.3h1v1h-1zM511.5 100.7h1v1h-1zM514.4 99.9h1v1h-1zM512.7 107.6h1v1h-1zM513.0 93.7h1v1h-1zM510.2 106.5h1v1h-1zM514.7 91.3h1v1h-1zM503.4 105.9h1v1h-1zM507.8 111.2h1v1h-1zM511.0 111.8h1v1h-1zM510.5 103.6h1v1h-1zM509.9 99.5h1v1h-1zM512.1 102.5h1v1h-1zM513.0 90.7h1v1h-1zM512.2 84.1h1v1h-1zM514.5 96.2h1v1h-1zM511.7 101.1h1v1h-1zM509.4 96.8h1v1h-1zM511.6 107.0h1v1h-1zM513.1 92.9h1v1h-1zM507.7 102.3h1v1h-1zM514.4 95.9h1v1h-1zM513.9 102.6h1v1h-1zM513.9 99.6h1v1h-1zM515.6 106.2h1v1h-1zM513.0 96.0h1v1h-1zM515.3 95.2h1v1h-1zM514.6 107.4h1v1h-1zM514.3 100.8h1v1h-1zM515.7 104.4h1v1h-1zM510.9 101.7h1v1h-1zM509.5 107.1h1v1h-1zM508.1 95.5h1v1h-1zM514.0 105.9h1v1h-1zM514.0 103.4h1v1h-1zM514.4 99.9h1v1h-1zM508.6 107.0h1v1h-1zM513.8 92.3h1v1h-1zM513.4 102.5h1v1h-1zM519.7 90.3h1v1h-1zM509.6 105.3h1v1h-1zM512.0 94.0h1v1h-1zM511.8 104.7h1v1h-1zM506.4 102.5h1v1h-1zM512.4 98.4h1v1h-1zM510.2 99.4h1v1h-1zM514.5 103.5h1v1h-1zM517.6 94.1h1v1h-1zM511.0 94.3h1v1h-1zM515.8 95.5h1v1h-1zM513.4 105.5h1v1h-1zM509.9 95.3h1v1h-1zM508.5 115.8h1v1h-1zM513.9 84.3h1v1h-1zM515.4 103.1h1v1h-1zM504.6 112.9h1v1h-1zM509.5 105.7h1v1h-1zM511.0 99.1h1v1h-1zM511.6 92.6h1v1h-1zM513.5 99.5h1v1h-1zM518.4 93.6h1v1h-1zM514.5 99.7h1v1h-1zM510.3 94.0h1v1h-1zM510.7 109.3h1v1h-1zM517.0 89.0h1v1h-1zM516.2 91.2h1v1h-1zM509.9 106.5h1v1h-1zM511.7 99.1h1v1h-1zM509.4 100.2h1v1h-1zM508.9 103.6h1v1h-1zM516.0 90.2h1v1h-1zM510.6 114.0h1v1h-1zM509.8 99.6h1v1h-1zM516.3 99.1h1v1h-1zM507.5 105.6h1v1h-1zM515.1 104.3h1v1h-1zM511.7 102.1h1v1h-1zM508.1 96.3h1v1h-1zM511.4 107.8h1v1h-1zM513.5 107.4h1v1h-1zM510.6 100.6h1v1h-1zM507.2 103.3h1v1h-1zM514.7 88.4h1v1h-1zM510.4 96.6h1v1h-1zM513.3 102.8h1v1h-1zM507.4 95.5h1v1h-1zM512.6 89.5h1v1h-1zM511.9 100.0h1v1h-1zM516.1 106.5h1v1h-1zM516.4 95.9h1v1h-1zM512.4 100.5h1v1h-1zM515.2 100.3h1v1h-1zM513.8 108.5h1v1h-1zM503.5 114.2h1v1h-1zM514.2 101.9h1v1h-1zM510.9 109.0h1v1h-1zM518.6 99.3h1v1h-1zM516.1 97.0h1v1h-1zM511.7 99.1h1v1h-1zM507.4 107.2h1v1h-1zM510.2 107.4h1v1h-1zM513.6 95.2h1v1h-1zM512.9 104.2h1v1h-1zM505.4 108.0h1v1h-1zM511.2 96.2h1v1h-1zM519.9 94.4h1v1h-1zM511.7 98.6h1v1h-1zM510.0 98.3h1v1h-1zM510.0 107.9h1v1h-1zM512.1 97.1h1v1h-1zM511.5 104.6h1v1h-1zM513.2 108.4h1v1h-1zM509.9 97.6h1v1h-1zM512.9 98.7h1v1h-1zM513.7 98.0h1v1h-1zM514.0 93.6h1v1h-1zM508.5 103.0h1v1h-1zM514.4 107.9h1v1h-1zM515.8 81.0h1v1h-1zM514.0 101.0h1v1h-1zM514.1 95.1h1v1h-1zM509.3 111.0h1v1h-1zM511.1 97.4h1v1h-1zM512.2 103.5h1v1h-1zM510.8 104.0h1v1h-1zM513.8 86.7h1v1h-1zM512.6 99.6h1v1h-1zM508.7 104.4h1v1h-1zM514.3 107.3h1v1h-1zM512.6 105.4h1v1h-1zM509.7 97.8h1v1h-1zM511.5 104.8h1v1h-1zM508.4 107.9h1v1h-1zM510.9 93.7h1v1h-1zM505.6 101.0h1v1h-1zM507.6 109.2h1v1h-1zM510.7 100.8h1v1h-1zM504.6 110.0h1v1h-1zM511.1 106.0h1v1h-1zM511.3 109.4h1v1h-1zM509.3 92.8h1v1h-1zM515.1 86.6h1v1h-1zM510.9 104.1h1v1h-1zM513.7 98.6h1v1h-1zM517.9 92.6h1v1h-1zM511.7 111.5h1v1h-1zM514.7 107.1h1v1h-1zM511.6 90.6h1v1h-1zM511.4 101.0h1v1h-1zM513.6 99.1h1v1h-1zM516.6 100.2h1v1h-1zM504.8 99.2h1v1h-1zM510.4 97.4h1v1h-1zM517.2 92.1h1v1h-1zM508.4 92.7h1v1h-1zM517.3 99.7h1v1h-1zM516.6 102.8h1v1h-1zM515.1 106.9h1v1h-1zM511.7 105.9h1v1h-1zM513.9 80.2h1v1h-1zM513.6 91.3h1v1h-1zM511.4 107.6h1v1h-1zM504.9 102.9h1v1h-1zM513.1 93.7h1v1h-1zM510.8 104.0h1v1h-1zM509.3 93.2h1v1h-1zM506.6 106.0h1v1h-1zM511.8 99.3h1v1h-1zM508.4 102.8h1v1h-1zM513.4 92.4h1v1h-1zM513.7 94.8h1v1h-1zM513.5 90.1h1v1h-1zM520.1 94.0h1v1h-1zM513.8 88.1h1v1h-1zM510.6 97.8h1v1h-1zM511.5 91.2h1v1h-1zM515.9 100.6h1v1h-1zM513.7 110.9h1v1h-1zM513.1 97.8h1v1h-1zM510.3 110.4h1v1h-1zM511.3 103.1h1v1h-1zM508.2 106.7h1v1h-1zM508.6 102.9h1v1h-1zM511.5 107.1h1v1h-1zM507.9 100.2h1v1h-1zM516.2 102.1h1v1h-1zM513.6 98.0h1v1h-1zM512.3 88.8h1v1h-1zM514.0 101.8h1v1h-1zM508.1 106.0h1v1h-1zM517.6 92.1h1v1h-1zM513.5 111.1h1v1h-1zM509.5 94.0h1v1h-1zM511.9 90.4h1v1h-1zM509.4 103.5h1v1h-1zM514.0 98.9h1v1h-1zM512.4 99.7h1v1h-1zM506.4 110.1h1v1h-1zM509.1 100.9h1v1h-1zM506.7 104.8h1v1h-1zM515.3 95.3h1v1h-1zM520.9 89.1h1v1h-1zM509.6 104.9h1v1h-1zM513.6 99.0h1v1h-1zM507.9 102.8h1v1h-1zM508.8 101.1h1v1h-1zM512.5 97.5h1v1h-1zM510.5 101.2h1v1h-1zM510.5 100.0h1v1h-1zM516.5 100.3h1v1h-1zM506.0 109.7h1v1h-1zM518.4 87.4h1v1h-1zM506.9 113.2h1v1h-1zM510.8 103.7h1v1h-1zM509.4 103.0h1v1h-1zM510.9 100.9h1v1h-1zM512.6 99.6h1v1h-1zM517.5 93.1h1v1h-1zM511.9 102.1h1v1h-1zM507.4 94.9h1v1h-1zM510.4 100.1h1v1h-1zM519.9 86.3h1v1h-1zM507.5 111.0h1v1h-1zM514.6 105.7h1v1h-1zM502.3 102.8h1v1h-1zM503.8 107.7h1v1h-1zM516.8 99.5h1v1h-1zM509.1 94.4h1v1h-1zM510.9 100.0h1v1h-1zM520.1 88.1h1v1h-1zM511.1 100.5h1v1h-1zM511.6 101.3h1v1h-1zM508.0 109.5h1v1h-1zM514.1 97.1h1v1h-1zM512.7 103.3h1v1h-1zM514.6 95.5h1v1h-1zM507.4 103.7h1v1h-1zM510.3 104.3h1v1h-1zM513.1 111.7h1v1h-1zM507.7 102.0h1v1h-1zM509.1 99.8h1v1h-1zM516.6 96.6h1v1h-1zM509.4 104.2h1v1h-1zM514.3 94.0h1v1h-1zM510.2 110.1h1v1h-1zM511.7 102.5h1v1h-1zM511.0 110.5h1v1h-1zM505.4 100.3h1v1h-1zM510.5 105.7h1v1h-1zM514.7 101.8h1v1h-1zM514.0 96.2h1v1h-1zM507.3 100.7h1v1h-1zM512.3 99.8h1v1h-1zM510.7 108.7h1v1h-1zM513.6 101.7h1v1h-1zM514.7 87.0h1v1h-1zM514.5 96.5h1v1h-1zM509.8 113.1h1v1h-1zM511.7 108.3h1v1h-1zM505.0 110.7h1v1h-1zM508.2 103.5h1v1h-1zM514.5 98.6h1v1h-1zM509.4 106.6h1v1h-1zM509.2 108.3h1v1h-1zM511.8 100.4h1v1h-1zM514.5 102.7h1v1h-1zM508.2 107.8h1v1h-1zM510.6 99.6h1v1h-1zM511.3 105.0h1v1h-1zM507.5 103.4h1v1h-1zM509.3 102.6h1v1h-1zM513.8 94.6h1v1h-1zM513.5 99.5h1v1h-1zM510.4 104.3h1v1h-1zM511.2 104.9h1v1h-1zM509.5 100.2h1v1h-1zM511.9 108.4h1v1h-1zM506.7 107.1h1v1h-1zM514.1 95.2h1v1h-1zM509.8 106.9h1v1h-1zM506.5 107.6h1v1h-1zM505.2 103.3h1v1h-1zM510.3 95.2h1v1h-1zM508.6 104.7h1v1h-1zM513.8 102.1h1v1h-1zM515.2 98.2h1v1h-1zM517.0 96.4h1v1h-1zM510.3 94.0h1v1h-1zM514.3 105.2h1v1h-1zM517.8 90.7h1v1h-1zM510.0 109.2h1v1h-1zM511.6 91.6h1v1h-1zM504.6 102.5h1v1h-1zM513.9 109.9h1v1h-1zM511.1 91.8h1v1h-1zM508.2 105.2h1v1h-1zM508.9 105.2h1v1h-1zM512.2 97.9h1v1h-1zM511.8 106.1h1v1h-1zM515.4 102.1h1v1h-1zM510.4 111.9h1v1h-1zM512.6 91.7h1v1h-1zM513.3 100.4h1v1h-1zM507.1 109.3h1v1h-1zM505.7 108.3h1v1h-1zM509.7 103.0h1v1h-1zM515.4 100.7h1v1h-1zM512.5 99.0h1v1h-1zM508.6 112.7h1v1h-1zM511.5 91.5h1v1h-1zM513.2 98.4h1v1h-1zM506.3 101.6h1v1h-1zM510.4 92.8h1v1h-1zM512.6 101.5h1v1h-1zM513.3 100.4h1v1h-1zM512.1 100.1h1v1h-1zM510.6 111.4h1v1h-1zM511.7 97.5h1v1h-1zM509.0 108.7h1v1h-1zM514.1 97.3h1v1h-1zM514.7 93.4h1v1h-1zM513.5 98.4h1v1h-1zM507.6 115.9h1v1h-1zM509.1 93.1h1v1h-1zM510.5 102.0h1v1h-1zM512.8 92.1h1v1h-1zM508.5 100.3h1v1h-1zM513.1 100.7h1v1h-1zM516.6 97.8h1v1h-1zM510.3 94.6h1v1h-1zM508.1 107.9h1v1h-1zM510.5 95.8h1v1h-1zM508.8 103.5h1v1h-1zM507.6 96.5h1v1h-1zM513.3 91.8h1v1h-1zM513.1 91.6h1v1h-1zM509.5 108.2h1v1h-1zM506.6 107.3h1v1h-1zM509.0 104.6h1v1h-1zM506.9 105.0h1v1h-1zM513.8 102.7h1v1h-1zM511.8 102.6h1v1h-1zM505.6 97.2h1v1h-1zM511.2 94.9h1v1h-1zM509.9 107.2h1v1h-1zM516.1 95.4h1v1h-1zM506.2 102.4h1v1h-1zM509.8 110.0h1v1h-1zM517.9 92.0h1v1h-1zM509.9 102.3h1v1h-1zM512.6 103.8h1v1h-1zM509.7 98.1h1v1h-1zM511.2 105.6h1v1h-1zM517.5 94.6h1v1h-1zM517.2 101.1h1v1h-1zM508.0 110.7h1v1h-1zM507.0 105.6h1v1h-1zM506.0 100.7h1v1h-1zM513.7 93.8h1v1h-1zM512.5 105.9h1v1h-1zM511.9 109.6h1v1h-1zM512.2 98.0h1v1h-1zM512.9 97.0h1v1h-1zM513.0 88.8h1v1h-1zM509.0 110.5h1v1h-1zM514.8 97.3h1v1h-1zM510.7 102.9h1v1h-1zM509.5 97.8h1v1h-1zM511.9 101.0h1v1h-1zM515.5 102.6h1v1h-1zM512.3 101.5h1v1h-1zM511.1 110.3h1v1h-1zM515.6 87.8h1v1h-1zM511.5 93.7h1v1h-1zM513.9 108.9h1v1h-1zM504.2 101.9h1v1h-1zM511.6 97.7h1v1h-1zM516.9 99.4h1v1h-1zM512.4 104.9h1v1h-1zM513.8 102.4h1v1h-1zM508.2 98.9h1v1h-1zM509.6 100.5h1v1h-1zM509.3 89.3h1v1h-1zM512.0 97.0h1v1h-1zM505.9 112.5h1v1h-1zM512.8 96.3h1v1h-1zM506.3 105.2h1v1h-1zM515.5 100.5h1v1h-1zM505.9 111.1h1v1h-1zM514.7 89.6h1v1h-1zM514.9 100.5h1v1h-1zM509.7 106.9h1v1h-1zM514.2 95.7h1v1h-1zM510.7 94.5h1v1h-1zM517.0 102.4h1v1h-1zM511.7 114.0h1v1h-1zM516.6 91.0h1v1h-1zM514.4 96.4h1v1h-1zM511.5 107.5h1v1h-1zM510.1 95.8h1v1h-1zM513.4 106.8h1v1h-1zM510.7 95.4h1v1h-1zM510.2 99.8h1v1h-1zM512.3 108.4h1v1h-1zM508.1 106.0h1v1h-1zM512.5 95.1h1v1h-1zM513.6 102.8h1v1h-1zM509.7 103.7h1v1h-1zM512.5 105.7h1v1h-1zM509.1 99.6h1v1h-1zM513.1 105.3h1v1h-1zM507.2 105.0h1v1h-1zM510.9 104.3h1v1h-1zM511.6 99.8h1v1h-1zM510.8 97.3h1v1h-1zM510.9 103.4h1v1h-1zM508.1 101.2h1v1h-1zM515.4 104.3h1v1h-1zM514.0 94.6h1v1h-1zM512.3 101.6h1v1h-1zM508.4 105.7h1v1h-1zM511.5 107.8h1v1h-1zM513.9 100.1h1v1h-1zM512.9 110.7h1v1h-1zM514.2 101.1h1v1h-1zM509.5 101.0h1v1h-1zM509.2 106.8h1v1h-1zM509.9 103.1h1v1h-1zM506.1 114.0h1v1h-1zM513.9 103.3h1v1h-1zM514.3 102.1h1v1h-1zM510.8 103.8h1v1h-1zM506.1 100.3h1v1h-1zM511.2 108.7h1v1h-1zM511.2 104.6h1v1h-1zM513.9 95.3h1v1h-1zM511.9 95.4h1v1h-1zM513.0 93.7h1v1h-1zM510.6 108.7h1v1h-1zM511.1 94.9h1v1h-1zM508.6 108.4h1v1h-1zM514.2 108.6h1v1h-1zM506.5 107.2h1v1h-1zM520.6 88.3h1v1h-1zM510.5 91.4h1v1h-1zM511.7 97.7h1v1h-1zM508.4 104.7h1v1h-1zM515.6 96.4h1v1h-1zM520.9 97.6h1v1h-1zM514.6 92.5h1v1h-1zM509.1 109.1h1v1h-1zM514.8 91.0h1v1h-1zM507.3 107.9h1v1h-1zM514.8 91.0h1v1h-1zM517.3 88.1h1v1h-1zM510.4 106.5h1v1h-1zM516.9 95.1h1v1h-1zM511.8 111.5h1v1h-1zM513.8 99.5h1v1h-1zM516.3 98.2h1v1h-1zM509.1 97.7h1v1h-1zM513.5 100.7h1v1h-1zM511.3 100.8h1v1h-1zM513.8 95.4h1v1h-1zM511.9 101.0h1v1h-1zM511.6 100.4h1v1h-1zM518.2 97.7h1v1h-1zM515.5 91.1h1v1h-1zM504.3 107.5h1v1h-1zM517.0 91.1h1v1h-1zM510.9 98.4h1v1h-1zM509.2 96.5h1v1h-1zM515.3 98.0h1v1h-1zM513.2 99.6h1v1h-1zM508.0 106.0h1v1h-1zM512.8 99.0h1v1h-1zM513.5 96.2h1v1h-1zM510.3 105.5h1v1h-1zM515.7 90.8h1v1h-1z" fill="#ff0000" fill-opacity="0.55"/>
<path d="M551.9 56.4h1v1h-1zM559.3 55.2h1v1h-1zM551.0 55.1h1v1h-1zM556.2 55.2h1v1h-1zM565.0 54.5h1v1h-1zM554.9 58.6h1v1h-1zM564.1 52.7h1v1h-1zM548.5 57.9h1v1h-1zM554.4 58.6h1v1h-1zM554.4 57.3h1v1h-1zM550.8 56.0h1v1h-1zM556.1 53.8h1v1h-1zM554.9 56.7h1v1h-1zM554.5 53.1h1v1h-1zM546.3 58.0h1v1h-1zM546.6 57.8h1v1h-1zM538.6 61.2h1v1h-1zM548.6 58.5h1v1h-1zM543.4 58.6h1v1h-1zM545.1 57.3h1v1h-1zM538.9 58.7h1v1h-1zM575.1 53.5h1v1h-1zM553.0 55.8h1v1h-1zM544.0 50.7h1v1h-1zM563.9 53.6h1v1h-1zM560.8 56.3h1v1h-1zM546.5 56.4h1v1h-1zM543.3 53.0h1v1h-1zM551.7 58.9h1v1h-1zM540.7 60.3h1v1h-1zM539.6 60.1h1v1h-1zM551.7 57.4h1v1h-1zM533.4 66.2h1v1h-1zM547.8 58.7h1v1h-1zM545.8 53.9h1v1h-1zM554.3 56.5h1v1h-1zM556.1 55.1h1v1h-1zM559.5 54.7h1v1h-1zM543.3 58.4h1v1h-1zM544.4 57.6h1v1h-1zM556.6 55.9h1v1h-1zM563.4 52.1h1v1h-1zM552.8 54.8h1v1h-1zM547.5 55.3h1v1h-1zM544.3 60.2h1v1h-1zM549.4 55.2h1v1h-1zM559.4 56.5h1v1h-1zM554.1 63.2h1v1h-1zM545.0 61.6h1v1h-1zM557.4 55.1h1v1h-1zM553.1 49.8h1v1h-1zM548.7 56.0h1v1h-1zM553.2 57.2h1v1h-1zM543.5 59.7h1v1h-1zM537.6 57.6h1v1h-1zM544.2 56.0h1v1h-1zM553.1 59.1h1v1h-1zM547.0 58.1h1v1h-1zM549.3 58.8h1v1h-1zM541.5 60.2h1v1h-1zM554.2 58.2h1v1h-1zM550.9 57.4h1v1h-1zM549.9 59.4h1v1h-1zM548.7 56.2h1v1h-1zM560.3 51.3h1v1h-1zM547.6 55.7h1v1h-1zM544.1 58.2h1v1h-1zM548.5 57.1h1v1h-1zM532.2 63.1h1v1h-1zM547.0 59.3h1v1h-1zM567.7 50.9h1v1h-1zM542.3 61.9h1v1h-1zM555.1 50.3h1v1h-1zM560.5 56.1h1v1h-1zM552.7 59.2h1v1h-1zM552.6 57.0h1v1h-1zM546.7 57.2h1v1h-1zM553.7 54.4h1v1h-1zM552.2 56.5h1v1h-1zM543.4 58.3h1v1h-1zM554.2 53.1h1v1h-1zM556.7 56.5h1v1h-1zM550.6 60.2h1v1h-1zM551.5 55.4h1v1h-1zM540.8 61.3h1v1h-1zM541.2 55.4h1v1h-1zM551.2 57.2h1v1h-1zM547.9 51.0h1v1h-1zM550.3 56.7h1v1h-1zM542.4 57.8h1v1h-1zM550.1 56.4h1v1h-1zM559.1 56.7h1v1h-1zM536.1 57.1h1v1h-1zM540.2 63.4h1v1h-1zM560.2 51.3h1v1h-1zM556.1 53.1h1v1h-1zM555.4 53.0h1v1h-1zM553.5 57.3h1v1h-1zM544.7 57.4h1v1h-1zM558.3 56.6h1v1h-1zM545.7 55.6h1v1h-1zM547.1 54.5h1v1h-1zM556.0 55.8h1v1h-1zM553.2 59.1h1v1h-1zM552.1 57.0h1v1h-1zM541.6 54.4h1v1h-1zM546.6 60.6h1v1h-1zM552.9 59.1h1v1h-1zM558.5 52.7h1v1h-1zM561.7 58.7h1v1h-1zM557.5 56.6h1v1h-1zM563.8 56.4h1v1h-1zM560.7 52.6h1v1h-1zM569.5 49.3h1v1h-1zM543.1 54.4h1v1h-1zM540.2 64.7h1v1h-1zM551.6 52.7h1v1h-1zM553.9 56.6h1v1h-1zM565.9 51.7h1v1h-1zM549.9 57.9h1v1h-1zM565.2 53.5h1v1h-1zM550.7 59.6h1v1h-1zM549.1 59.9h1v1h-1zM546.1 55.3h1v1h-1zM530.2 62.7h1v1h-1zM548.6 56.0h1v1h-1zM538.9 59.3h1v1h-1zM546.4 58.1h1v1h-1zM550.9 52.3h1v1h-1zM556.1 60.4h1v1h-1zM548.5 55.3h1v1h-1zM557.1 53.0h1v1h-1zM553.9 55.5h1v1h-1zM539.9 59.9h1v1h-1zM536.9 54.9h1v1h-1zM551.1 51.3h1v1h-1zM567.5 53.8h1v1h-1zM564.6 53.9h1v1h-1zM558.2 58.2h1v1h-1zM540.8 54.3h1v1h-1zM545.0 57.7h1v1h-1zM546.6 56.0h1v1h-1zM542.0 61.1h1v1h-1zM550.4 52.3h1v1h-1zM569.8 55.4h1v1h-1zM548.7 53.0h1v1h-1zM559.7 61.9h1v1h-1zM559.6 55.7h1v1h-1zM542.1 64.8h1v1h-1zM548.6 58.4h1v1h-1zM560.2 55.9h1v1h-1zM550.6 53.6h1v1h-1zM560.4 58.1h1v1h-1zM544.1 65.4h1v1h-1zM552.4 50.7h1v1h-1zM535.4 61.5h1v1h-1zM537.2 57.5h1v1h-1zM554.7 60.1h1v1h-1zM556.8 55.2h1v1h-1zM551.3 59.1h1v1h-1zM542.1 56.3h1v1h-1zM543.3 57.6h1v1h-1zM551.5 57.0h1v1h-1zM543.2 58.0h1v1h-1zM546.3 55.6h1v1h-1zM560.9 51.6h1v1h-1zM548.5 57.5h1v1h-1zM548.4 53.6h1v1h-1zM556.3 55.7h1v1h-1zM545.2 59.4h1v1h-1zM552.5 54.5h1v1h-1zM561.8 53.1h1v1h-1zM541.4 58.1h1v1h-1zM554.9 56.7h1v1h-1zM529.1 59.9h1v1h-1zM557.1 50.7h1v1h-1zM566.4 54.6h1v1h-1zM547.6 55.7h1v1h-1zM547.8 59.0h1v1h-1zM556.7 56.3h1v1h-1zM543.2 54.2h1v1h-1zM551.7 56.8h1v1h-1zM565.8 60.4h1v1h-1zM543.3 63.5h1v1h-1zM561.7 54.3h1v1h-1zM541.2 57.4h1v1h-1zM533.7 57.2h1v1h-1zM550.5 55.8h1v1h-1zM563.2 53.5h1v1h-1zM549.9 53.9h1v1h-1zM554.8 58.6h1v1h-1zM544.1 59.4h1v1h-1zM545.6 61.4h1v1h-1zM551.4 54.7h1v1h-1zM549.7 57.4h1v1h-1zM555.6 56.4h1v1h-1zM548.6 60.2h1v1h-1zM558.4 58.7h1v1h-1zM551.1 52.8h1v1h-1zM542.2 60.0h1v1h-1zM548.8 54.0h1v1h-1zM543.3 55.5h1v1h-1zM558.6 55.0h1v1h-1zM543.1 58.4h1v1h-1zM549.0 54.6h1v1h-1zM543.1 57.3h1v1h-1zM547.3 65.3h1v1h-1zM548.2 54.4h1v1h-1zM561.0 52.0h1v1h-1zM558.4 55.9h1v1h-1zM540.2 59.0h1v1h-1zM553.1 58.0h1v1h-1zM556.9 54.8h1v1h-1zM544.1 61.5h1v1h-1zM553.1 55.2h1v1h-1zM554.4 56.8h1v1h-1zM538.7 59.4h1v1h-1zM560.0 57.8h1v1h-1zM542.7 61.6h1v1h-1zM543.8 57.2h1v1h-1zM558.7 56.7h1v1h-1zM552.7 56.7h1v1h-1zM539.3 54.1h1v1h-1zM562.9 50.2h1v1h-1zM555.9 55.4h1v1h-1zM547.6 55.1h1v1h-1zM541.5 57.8h1v1h-1zM545.7 62.3h1v1h-1zM541.7 57.8h1v1h-1zM551.3 58.0h1v1h-1zM543.5 55.0h1v1h-1zM558.6 53.5h1v1h-1zM542.3 59.1h1v1h-1zM550.5 52.9h1v1h-1zM561.4 55.6h1v1h-1zM559.3 57.6h1v1h-1zM557.3 55.9h1v1h-1zM545.2 59.4h1v1h-1zM551.9 62.5h1v1h-1zM551.4 57.8h1v1h-1zM553.6 59.0h1v1h-1zM541.7 61.9h1v1h-1zM548.7 59.8h1v1h-1zM558.1 54.2h1v1h-1zM544.1 52.0h1v1h-1zM563.2 56.1h1v1h-1zM548.9 56.4h1v1h-1zM552.9 60.5h1v1h-1zM546.7 56.6h1v1h-1zM561.9 54.8h1v1h-1zM559.2 54.5h1v1h-1zM557.0 59.0h1v1h-1zM556.0 55.6h1v1h-1zM538.4 53.1h1v1h-1zM553.6 51.7h1v1h-1zM538.4 60.5h1v1h-1zM551.2 57.2h1v1h-1zM544.8 59.6h1v1h-1zM549.9 59.6h1v1h-1zM548.4 62.8h1v1h-1zM558.5 54.3h1v1h-1zM544.8 60.4h1v1h-1zM554.9 59.7h1v1h-1zM543.9 63.0h1v1h-1zM552.9 59.8h1v1h-1zM551.0 57.9h1v1h-1zM544.0 57.1h1v1h-1zM553.5 61.2h1v1h-1zM557.9 56.9h1v1h-1zM540.5 63.2h1v1h-1zM550.9 54.0h1v1h-1zM541.3 57.3h1v1h-1zM549.8 55.0h1v1h-1zM560.8 53.1h1v1h-1zM551.4 51.7h1v1h-1zM539.3 58.4h1v1h-1zM538.4 62.5h1v1h-1zM554.7 55.9h1v1h-1zM553.9 56.1h1v1h-1zM549.9 58.0h1v1h-1zM547.2 58.0h1v1h-1zM554.3 51.7h1v1h-1zM548.6 56.7h1v1h-1zM545.0 56.3h1v1h-1zM547.9 54.7h1v1h-1zM547.3 56.7h1v1h-1zM548.6 64.4h1v1h-1zM544.1 57.9h1v1h-1zM548.2 57.4h1v1h-1zM550.7 57.0h1v1h-1zM550.3 56.9h1v1h-1zM543.2 61.0h1v1h-1zM537.3 60.9h1v1h-1zM548.2 63.9h1v1h-1zM561.4 55.2h1v1h-1zM547.0 59.3h1v1h-1zM555.0 54.9h1v1h-1zM561.1 53.3h1v1h-1zM565.3 56.0h1v1h-1zM551.3 53.9h1v1h-1zM539.8 59.0h1v1h-1zM558.1 56.5h1v1h-1zM553.1 51.0h1v1h-1zM550.7 60.9h1v1h-1zM563.3 53.0h1v1h-1zM545.3 58.7h1v1h-1zM543.5 57.6h1v1h-1zM540.5 58.9h1v1h-1zM551.3 57.7h1v1h-1zM552.4 55.6h1v1h-1zM553.5 53.9h1v1h-1zM555.3 52.2h1v1h-1zM546.4 58.5h1v1h-1zM565.1 52.6h1v1h-1zM549.6 54.2h1v1h-1zM547.1 55.9h1v1h-1zM549.8 54.3h1v1h-1zM549.2 57.5h1v1h-1zM534.1 64.4h1v1h-1zM549.3 57.2h1v1h-1zM550.1 57.6h1v1h-1zM566.8 53.3h1v1h-1zM545.8 57.8h1v1h-1zM558.8 50.9h1v1h-1zM565.1 58.2h1v1h-1zM545.8 61.4h1v1h-1zM552.5 54.3h1v1h-1zM562.7 55.3h1v1h-1zM560.9 52.4h1v1h-1zM542.5 62.4h1v1h-1zM553.0 58.6h1v1h-1zM549.7 58.2h1v1h-1zM560.6 55.5h1v1h-1zM548.9 58.2h1v1h-1zM547.7 57.7h1v1h-1zM546.0 55.7h1v1h-1zM547.4 55.0h1v1h-1zM549.4 55.8h1v1h-1zM555.5 54.2h1v1h-1zM555.2 58.0h1v1h-1zM556.1 56.7h1v1h-1zM547.7 63.3h1v1h-1zM542.6 55.9h1v1h-1zM559.4 55.2h1v1h-1zM546.5 55.9h1v1h-1zM542.2 53.4h1v1h-1zM565.4 51.8h1v1h-1zM546.3 60.2h1v1h-1zM550.5 60.8h1v1h-1zM546.6 57.2h1v1h-1zM539.1 60.1h1v1h-1zM556.5 56.5h1v1h-1zM558.9 58.1h1v1h-1zM551.2 51.9h1v1h-1zM540.9 59.9h1v1h-1zM554.2 56.6h1v1h-1zM545.2 57.9h1v1h-1zM549.1 60.1h1v1h-1zM553.4 56.3h1v1h-1zM536.6 58.9h1v1h-1zM555.5 56.1h1v1h-1zM542.5 56.4h1v1h-1zM551.7 55.0h1v1h-1zM537.7 62.9h1v1h-1zM548.3 60.4h1v1h-1zM560.2 52.8h1v1h-1zM548.8 60.8h1v1h-1zM561.6 55.5h1v1h-1zM552.3 55.7h1v1h-1zM548.9 54.3h1v1h-1zM539.2 57.7h1v1h-1zM547.1 54.6h1v1h-1zM554.7 51.3h1v1h-1zM540.7 66.0h1v1h-1zM549.9 58.0h1v1h-1zM534.7 58.4h1v1h-1zM547.8 55.6h1v1h-1zM544.1 59.4h1v1h-1zM542.5 61.3h1v1h-1zM557.8 53.8h1v1h-1zM548.9 58.9h1v1h-1zM551.2 58.5h1v1h-1zM543.8 57.2h1v1h-1zM549.6 56.0h1v1h-1zM559.5 57.9h1v1h-1zM536.1 59.5h1v1h-1zM537.9 63.9h1v1h-1zM554.3 55.3h1v1h-1zM554.6 58.8h1v1h-1zM539.7 57.9h1v1h-1zM561.5 54.9h1v1h-1zM540.6 60.1h1v1h-1zM549.1 52.9h1v1h-1zM545.2 57.2h1v1h-1zM549.8 57.5h1v1h-1zM552.9 54.0h1v1h-1zM549.4 58.7h1v1h-1zM536.9 59.0h1v1h-1zM558.8 60.3h1v1h-1zM541.6 56.8h1v1h-1zM551.9 56.9h1v1h-1zM539.1 59.3h1v1h-1zM539.2 60.0h1v1h-1zM555.6 56.5h1v1h-1zM562.2 52.9h1v1h-1zM545.0 55.9h1v1h-1zM551.8 53.3h1v1h-1zM549.0 52.7h1v1h-1zM553.1 58.5h1v1h-1zM554.5 58.6h1v1h-1zM547.3 59.4h1v1h-1zM555.4 55.8h1v1h-1zM557.3 53.6h1v1h-1zM554.1 57.7h1v1h-1zM537.6 56.0h1v1h-1zM537.6 53.4h1v1h-1zM566.5 58.4h1v1h-1zM540.9 59.5h1v1h-1zM548.3 57.5h1v1h-1zM566.8 55.5h1v1h-1zM552.5 50.8h1v1h-1zM546.7 59.7h1v1h-1zM540.6 61.9h1v1h-1zM552.4 58.4h1v1h-1zM550.3 57.4h1v1h-1zM535.8 59.1h1v1h-1zM568.5 52.1h1v1h-1zM561.0 52.1h1v1h-1zM539.5 60.4h1v1h-1zM555.8 55.4h1v1h-1zM542.6 59.1h1v1h-1zM536.7 57.1h1v1h-1zM548.2 57.8h1v1h-1zM556.9 56.6h1v1h-1zM545.5 61.2h1v1h-1zM565.2 54.3h1v1h-1zM546.1 61.1h1v1h-1zM547.1 57.8h1v1h-1zM556.0 59.8h1v1h-1zM551.5 60.9h1v1h-1zM549.3 58.0h1v1h-1zM555.4 52.4h1v1h-1zM547.8 57.0h1v1h-1zM539.3 55.6h1v1h-1zM560.6 57.7h1v1h-1zM556.3 52.7h1v1h-1zM565.5 51.3h1v1h-1zM546.5 60.1h1v1h-1zM564.7 54.8h1v1h-1zM557.4 53.5h1v1h-1z" fill="#ff0000" fill-opacity="0.5"/>
<path d="M543.4 60.8h1v1h-1zM549.7 65.9h1v1h-1zM544.4 64.8h1v1h-1zM538.9 59.2h1v1h-1zM564.8 50.3h1v1h-1zM551.0 54.0h1v1h-1zM549.4 59.6h1v1h-1zM528.4 58.0h1v1h-1zM535.9 70.0h1v1h-1zM517.2 63.6h1v1h-1zM543.1 58.1h1v1h-1zM558.5 61.4h1v1h-1zM541.1 75.1h1v1h-1zM556.2 53.9h1v1h-1zM552.4 69.6h1v1h-1zM544.3 68.0h1v1h-1zM538.0 64.4h1v1h-1zM546.6 78.8h1v1h-1zM542.3 58.0h1v1h-1zM557.0 57.8h1v1h-1zM548.4 66.8h1v1h-1zM573.2 49.7h1v1h-1zM555.9 51.5h1v1h-1zM579.7 44.0h1v1h-1zM534.1 54.1h1v1h-1zM528.5 66.5h1v1h-1zM553.5 75.5h1v1h-1zM520.9 58.3h1v1h-1zM538.1 68.9h1v1h-1zM562.1 55.5h1v1h-1zM569.0 70.2h1v1h-1zM510.2 58.6h1v1h-1zM563.8 56.4h1v1h-1zM568.3 65.5h1v1h-1zM548.1 59.4h1v1h-1zM574.2 42.2h1v1h-1zM548.5 45.5h1v1h-1zM539.2 59.8h1v1h-1zM537.5 66.6h1v1h-1zM544.0 65.8h1v1h-1zM561.1 53.5h1v1h-1zM558.1 60.2h1v1h-1zM540.0 61.7h1v1h-1zM531.3 62.0h1v1h-1zM568.0 50.8h1v1h-1zM564.3 69.4h1v1h-1zM540.3 66.8h1v1h-1zM553.8 62.6h1v1h-1zM574.8 75.4h1v1h-1zM545.4 70.8h1v1h-1zM534.1 64.6h1v1h-1zM552.3 52.9h1v1h-1zM552.9 59.0h1v1h-1zM580.2 56.1h1v1h-1zM569.8 54.8h1v1h-1zM521.3 82.0h1v1h-1zM574.5 56.9h1v1h-1zM549.8 74.1h1v1h-1zM522.2 67.9h1v1h-1zM560.7 61.8h1v1h-1zM541.3 48.3h1v1h-1zM546.8 58.6h1v1h-1zM528.4 71.3h1v1h-1zM549.8 68.0h1v1h-1zM554.7 61.3h1v1h-1zM543.7 47.8h1v1h-1zM540.9 71.6h1v1h-1zM543.1 71.8h1v1h-1zM569.9 58.1h1v1h-1zM554.4 58.1h1v1h-1zM568.5 49.2h1v1h-1zM552.1 51.7h1v1h-1zM555.5 50.1h1v1h-1zM549.1 77.8h1v1h-1zM546.1 61.1h1v1h-1zM571.9 49.8h1v1h-1zM543.1 63.8h1v1h-1zM552.7 44.8h1v1h-1zM570.2 59.1h1v1h-1zM569.3 62.8h1v1h-1zM549.5 52.7h1v1h-1zM520.9 46.8h1v1h-1zM556.6 46.8h1v1h-1zM559.2 62.9h1v1h-1zM533.6 67.9h1v1h-1zM556.5 61.1h1v1h-1zM570.9 54.7h1v1h-1zM541.5 65.1h1v1h-1zM541.6 59.1h1v1h-1zM543.6 61.1h1v1h-1zM563.6 44.6h1v1h-1zM560.5 59.5h1v1h-1zM562.5 47.9h1v1h-1zM548.4 65.0h1v1h-1zM545.7 65.1h1v1h-1zM562.3 61.5h1v1h-1zM546.9 69.4h1v1h-1zM554.5 51.1h1v1h-1zM538.7 71.4h1v1h-1zM551.2 42.5h1v1h-1zM567.3 64.9h1v1h-1zM562.1 53.3h1v1h-1zM536.9 64.8h1v1h-1zM551.1 54.6h1v1h-1zM548.3 62.6h1v1h-1zM539.7 48.6h1v1h-1zM538.0 78.9h1v1h-1zM544.1 59.2h1v1h-1zM536.7 74.5h1v1h-1zM562.8 57.4h1v1h-1zM547.7 54.1h1v1h-1zM555.9 67.1h1v1h-1zM518.3 53.6h1v1h-1zM540.2 51.3h1v1h-1zM562.5 63.3h1v1h-1zM568.4 59.5h1v1h-1zM560.4 64.3h1v1h-1zM576.4 71.1h1v1h-1zM565.3 52.0h1v1h-1zM573.1 66.2h1v1h-1zM546.3 62.5h1v1h-1zM528.0 56.6h1v1h-1zM566.3 59.5h1v1h-1zM563.7 55.3h1v1h-1zM554.7 57.6h1v1h-1zM546.2 52.8h1v1h-1zM536.6 64.3h1v1h-1zM562.0 53.8h1v1h-1zM548.0 60.5h1v1h-1zM547.3 73.4h1v1h-1zM549.5 48.1h1v1h-1zM547.8 62.6h1v1h-1zM549.9 59.6h1v1h-1zM576.0 52.6h1v1h-1zM549.5 59.8h1v1h-1zM532.2 79.1h1v1h-1zM569.1 52.7h1v1h-1zM513.8 82.7h1v1h-1zM536.3 55.7h1v1h-1zM551.6 64.9h1v1h-1zM566.8 60.3h1v1h-1zM574.7 66.7h1v1h-1zM551.5 53.8h1v1h-1zM532.9 72.1h1v1h-1zM527.7 55.1h1v1h-1zM561.3 57.5h1v1h-1zM576.9 55.5h1v1h-1zM550.9 58.9h1v1h-1zM551.0 48.4h1v1h-1zM546.1 73.3h1v1h-1zM570.0 46.6h1v1h-1zM550.1 51.3h1v1h-1zM564.9 54.2h1v1h-1zM569.9 42.5h1v1h-1zM536.4 55.5h1v1h-1zM538.3 56.9h1v1h-1zM541.7 58.8h1v1h-1zM576.2 58.5h1v1h-1zM553.7 54.0h1v1h-1zM523.5 81.4h1v1h-1zM569.7 55.2h1v1h-1zM557.2 52.0h1v1h-1zM546.8 68.0h1v1h-1zM534.4 54.8h1v1h-1zM546.7 71.8h1v1h-1zM582.7 50.1h1v1h-1zM566.1 62.7h1v1h-1zM574.5 54.3h1v1h-1zM554.5 53.2h1v1h-1zM550.4 47.6h1v1h-1zM568.5 48.4h1v1h-1zM543.8 73.5h1v1h-1zM555.6 55.9h1v1h-1zM574.3 43.2h1v1h-1zM552.6 68.9h1v1h-1zM557.9 52.9h1v1h-1zM563.0 62.5h1v1h-1zM534.1 64.2h1v1h-1zM558.8 60.6h1v1h-1zM561.3 57.5h1v1h-1zM536.8 67.7h1v1h-1zM579.5 70.0h1v1h-1zM507.1 58.9h1v1h-1zM560.6 63.4h1v1h-1zM530.5 50.3h1v1h-1zM530.0 75.6h1v1h-1zM542.3 62.0h1v1h-1zM581.2 54.8h1v1h-1zM565.1 60.4h1v1h-1zM556.7 49.2h1v1h-1zM526.3 87.8h1v1h-1zM575.6 57.0h1v1h-1zM569.9 62.4h1v1h-1zM567.0 60.8h1v1h-1zM561.9 63.5h1v1h-1zM580.6 57.4h1v1h-1zM549.8 64.5h1v1h-1zM552.3 71.8h1v1h-1zM532.1 60.0h1v1h-1zM550.5 54.1h1v1h-1zM563.4 72.2h1v1h-1zM569.0 63.6h1v1h-1zM529.5 71.7h1v1h-1zM533.7 56.2h1v1h-1zM556.9 52.5h1v1h-1zM530.7 64.6h1v1h-1zM563.9 57.1h1v1h-1zM533.0 54.3h1v1h-1zM540.7 64.3h1v1h-1zM555.7 62.6h1v1h-1zM560.8 50.1h1v1h-1zM574.7 58.0h1v1h-1zM573.4 50.5h1v1h-1zM566.3 64.6h1v1h-1zM553.1 61.9h1v1h-1zM555.0 66.9h1v1h-1zM553.8 56.2h1v1h-1zM549.9 63.5h1v1h-1zM549.6 64.2h1v1h-1zM538.3 75.1h1v1h-1zM567.2 50.2h1v1h-1zM520.6 64.7h1v1h-1zM583.6 51.7h1v1h-1zM548.8 70.7h1v1h-1zM547.6 66.3h1v1h-1zM551.0 69.7h1v1h-1zM576.0 55.2h1v1h-1zM548.3 63.0h1v1h-1zM532.7 54.9h1v1h-1zM535.1 71.2h1v1h-1zM569.1 55.0h1v1h-1zM549.5 43.3h1v1h-1zM551.2 55.8h1v1h-1zM557.8 43.2h1v1h-1zM550.5 71.9h1v1h-1zM535.0 74.4h1v1h-1zM547.9 68.9h1v1h-1zM572.1 51.5h1v1h-1zM555.3 60.0h1v1h-1zM560.2 57.5h1v1h-1zM537.4 53.2h1v1h-1zM543.8 61.8h1v1h-1zM546.8 63.2h1v1h-1zM547.3 58.9h1v1h-1zM539.8 72.0h1v1h-1zM540.9 56.6h1v1h-1zM556.3 61.2h1v1h-1zM524.9 72.9h1v1h-1zM546.8 71.1h1v1h-1zM572.6 60.5h1v1h-1zM547.6 49.4h1v1h-1zM547.2 64.4h1v1h-1zM547.5 59.8h1v1h-1zM538.7 67.7h1v1h-1zM561.4 57.8h1v1h-1zM523.1 62.8h1v1h-1zM567.9 45.4h1v1h-1zM579.9 42.8h1v1h-1zM534.8 69.4h1v1h-1zM546.7 67.9h1v1h-1zM562.1 54.5h1v1h-1zM554.1 71.3h1v1h-1zM557.4 47.8h1v1h-1zM568.9 68.1h1v1h-1zM552.0 49.9h1v1h-1zM549.8 66.8h1v1h-1zM563.5 52.2h1v1h-1zM564.6 43.8h1v1h-1zM560.3 63.9h1v1h-1zM544.0 61.3h1v1h-1zM574.2 55.8h1v1h-1zM540.1 71.7h1v1h-1zM559.6 50.9h1v1h-1zM539.0 64.2h1v1h-1zM533.2 72.0h1v1h-1zM536.2 64.3h1v1h-1zM571.3 59.3h1v1h-1zM557.5 64.2h1v1h-1zM556.4 64.4h1v1h-1zM561.7 58.8h1v1h-1zM540.3 74.8h1v1h-1zM571.5 58.3h1v1h-1zM548.9 62.9h1v1h-1zM552.8 61.7h1v1h-1zM559.7 62.8h1v1h-1zM528.1 53.0h1v1h-1zM529.0 55.4h1v1h-1zM556.4 52.1h1v1h-1zM542.3 60.8h1v1h-1zM540.6 47.3h1v1h-1zM554.5 66.7h1v1h-1zM550.8 52.4h1v1h-1zM554.3 73.0h1v1h-1zM540.6 73.1h1v1h-1zM565.6 57.1h1v1h-1zM560.6 57.0h1v1h-1zM565.3 51.7h1v1h-1zM530.6 55.6h1v1h-1zM542.1 61.5h1v1h-1zM562.4 63.8h1v1h-1zM552.2 71.2h1v1h-1zM522.9 72.8h1v1h-1zM556.7 54.4h1v1h-1zM576.9 55.1h1v1h-1zM565.4 74.9h1v1h-1zM559.5 53.5h1v1h-1zM566.4 56.2h1v1h-1zM557.7 44.7h1v1h-1zM536.9 67.8h1v1h-1zM529.1 71.4h1v1h-1zM553.9 67.8h1v1h-1zM555.0 69.0h1v1h-1zM552.8 62.5h1v1h-1zM578.1 51.0h1v1h-1zM547.5 62.6h1v1h-1zM555.6 69.1h1v1h-1zM532.4 54.9h1v1h-1zM552.2 64.4h1v1h-1zM521.7 70.2h1v1h-1zM558.8 58.2h1v1h-1zM529.8 46.0h1v1h-1zM540.0 72.9h1v1h-1zM557.0 68.6h1v1h-1zM561.2 49.5h1v1h-1zM575.9 53.3h1v1h-1zM546.7 62.9h1v1h-1zM572.8 55.9h1v1h-1zM545.0 65.7h1v1h-1zM529.3 57.2h1v1h-1zM546.8 60.3h1v1h-1zM550.2 56.2h1v1h-1zM549.5 49.9h1v1h-1zM563.2 65.5h1v1h-1zM560.6 55.8h1v1h-1zM548.1 65.7h1v1h-1zM533.0 58.4h1v1h-1zM553.8 49.6h1v1h-1zM546.1 62.4h1v1h-1zM547.9 52.7h1v1h-1zM540.4 53.5h1v1h-1zM570.1 51.7h1v1h-1zM566.8 61.3h1v1h-1zM549.6 54.7h1v1h-1zM539.2 68.6h1v1h-1zM555.1 53.1h1v1h-1zM568.9 58.3h1v1h-1zM554.1 62.0h1v1h-1zM548.1 63.3h1v1h-1zM563.6 60.1h1v1h-1zM549.7 42.9h1v1h-1zM562.5 66.6h1v1h-1zM546.8 57.7h1v1h-1zM561.5 60.9h1v1h-1zM556.0 46.7h1v1h-1zM577.1 73.1h1v1h-1zM557.5 59.1h1v1h-1zM551.0 63.1h1v1h-1zM542.9 63.0h1v1h-1zM558.4 56.9h1v1h-1zM557.0 72.2h1v1h-1zM529.1 71.5h1v1h-1zM526.6 62.1h1v1h-1zM560.4 40.1h1v1h-1zM541.2 66.2h1v1h-1zM572.0 59.8h1v1h-1zM557.7 60.7h1v1h-1zM539.3 68.3h1v1h-1zM552.9 56.6h1v1h-1zM536.3 54.9h1v1h-1zM549.7 68.2h1v1h-1zM529.8 53.2h1v1h-1zM544.7 60.0h1v1h-1zM557.6 66.1h1v1h-1zM544.7 40.8h1v1h-1zM540.5 54.3h1v1h-1zM543.7 57.6h1v1h-1zM563.4 57.6h1v1h-1zM543.2 54.6h1v1h-1zM533.8 59.9h1v1h-1zM550.1 74.8h1v1h-1zM558.9 60.7h1v1h-1zM544.3 68.9h1v1h-1zM538.5 64.6h1v1h-1zM552.1 62.0h1v1h-1zM556.2 45.0h1v1h-1zM547.9 61.6h1v1h-1zM513.2 65.9h1v1h-1zM569.1 51.3h1v1h-1zM561.4 62.2h1v1h-1zM560.7 62.7h1v1h-1zM560.2 54.2h1v1h-1zM550.6 61.4h1v1h-1zM573.9 58.7h1v1h-1zM559.4 73.9h1v1h-1zM556.2 61.8h1v1h-1zM567.6 60.8h1v1h-1zM561.1 59.5h1v1h-1zM537.8 52.9h1v1h-1zM582.7 50.8h1v1h-1zM552.2 64.5h1v1h-1zM533.6 61.0h1v1h-1zM556.1 51.2h1v1h-1zM548.3 69.9h1v1h-1zM555.5 66.6h1v1h-1zM559.7 54.7h1v1h-1zM535.9 73.9h1v1h-1zM549.5 52.6h1v1h-1zM547.3 51.8h1v1h-1zM544.6 58.7h1v1h-1zM566.4 56.0h1v1h-1zM517.9 72.3h1v1h-1zM542.8 52.9h1v1h-1zM540.6 50.3h1v1h-1zM562.0 59.6h1v1h-1zM520.4 61.8h1v1h-1zM544.8 59.6h1v1h-1zM581.7 58.1h1v1h-1zM519.1 74.2h1v1h-1zM564.3 56.5h1v1h-1zM543.4 54.2h1v1h-1zM549.1 55.9h1v1h-1zM552.0 56.8h1v1h-1zM552.6 63.0h1v1h-1zM566.1 69.3h1v1h-1zM569.1 60.3h1v1h-1zM526.6 78.1h1v1h-1zM555.9 63.5h1v1h-1zM566.3 60.2h1v1h-1zM568.9 65.9h1v1h-1zM546.2 56.6h1v1h-1zM540.1 58.7h1v1h-1zM547.7 54.9h1v1h-1zM562.7 65.0h1v1h-1zM527.6 79.8h1v1h-1zM537.0 65.5h1v1h-1zM539.5 62.6h1v1h-1zM553.1 58.4h1v1h-1zM539.2 66.0h1v1h-1zM572.9 58.0h1v1h-1zM534.9 68.9h1v1h-1zM561.4 58.5h1v1h-1zM553.9 67.3h1v1h-1zM543.2 60.4h1v1h-1zM535.8 49.6h1v1h-1zM581.0 59.6h1v1h-1z" fill="#ff0000" fill-opacity="0.3"/>
<path d="M523.1 106.8h1v1h-1zM553.3 97.3h1v1h-1zM566.6 110.1h1v1h-1zM550.7 99.4h1v1h-1zM536.5 87.8h1v1h-1zM532.0 105.6h1v1h-1zM544.2 107.1h1v1h-1zM533.9 90.3h1v1h-1zM551.8 103.3h1v1h-1zM537.1 92.8h1v1h-1zM539.4 108.8h1v1h-1zM554.9 99.4h1v1h-1zM539.5 95.1h1v1h-1zM538.5 111.8h1v1h-1zM547.0 81.8h1v1h-1zM531.9 80.2h1v1h-1zM530.3 83.3h1v1h-1zM564.3 93.8h1v1h-1zM531.3 109.9h1v1h-1zM542.1 108.0h1v1h-1zM545.3 96.3h1v1h-1zM557.4 107.2h1v1h-1zM549.0 107.2h1v1h-1zM537.4 111.5h1v1h-1zM554.6 97.1h1v1h-1zM546.7 98.1h1v1h-1zM557.7 97.8h1v1h-1zM529.9 109.8h1v1h-1zM540.6 90.1h1v1h-1zM535.4 101.2h1v1h-1zM538.3 94.2h1v1h-1zM571.0 102.4h1v1h-1zM549.1 89.1h1v1h-1zM548.2 99.7h1v1h-1zM535.4 91.1h1v1h-1zM557.5 94.1h1v1h-1zM569.3 86.9h1v1h-1zM541.7 90.6h1v1h-1zM553.4 91.4h1v1h-1zM562.5 109.2h1v1h-1zM548.8 99.3h1v1h-1zM541.7 104.0h1v1h-1zM537.8 95.3h1v1h-1zM555.7 89.3h1v1h-1zM559.2 94.9h1v1h-1zM554.0 93.7h1v1h-1zM532.3 100.9h1v1h-1zM552.0 97.4h1v1h-1zM544.3 100.0h1v1h-1zM543.5 97.5h1v1h-1zM571.8 93.7h1v1h-1zM555.6 93.4h1v1h-1zM553.7 94.8h1v1h-1zM560.2 92.1h1v1h-1zM544.4 107.4h1v1h-1zM552.0 108.6h1v1h-1zM547.0 88.8h1v1h-1zM548.7 99.1h1v1h-1zM546.6 86.6h1v1h-1zM526.0 108.5h1v1h-1zM538.2 99.5h1v1h-1zM562.4 102.3h1v1h-1zM505.4 85.1h1v1h-1zM530.4 100.1h1v1h-1zM541.8 87.0h1v1h-1zM557.0 101.2h1v1h-1zM549.3 86.5h1v1h-1zM553.3 89.7h1v1h-1zM546.6 97.7h1v1h-1zM551.5 94.4h1v1h-1zM547.6 100.5h1v1h-1zM550.5 78.6h1v1h-1zM537.9 96.0h1v1h-1zM563.2 92.4h1v1h-1zM540.5 99.1h1v1h-1zM533.9 100.4h1v1h-1zM540.1 97.3h1v1h-1zM553.6 98.8h1v1h-1zM564.3 94.5h1v1h-1zM538.4 96.2h1v1h-1zM578.6 103.6h1v1h-1zM535.7 87.5h1v1h-1zM546.6 86.1h1v1h-1zM531.2 103.9h1v1h-1zM563.8 102.8h1v1h-1zM572.0 82.1h1v1h-1zM551.4 91.8h1v1h-1zM563.7 89.3h1v1h-1zM555.3 102.2h1v1h-1zM563.1 107.4h1v1h-1zM570.4 97.1h1v1h-1zM528.1 99.2h1v1h-1zM570.4 104.5h1v1h-1zM521.6 89.8h1v1h-1zM558.4 100.2h1v1h-1zM551.0 97.2h1v1h-1zM538.6 99.9h1v1h-1zM574.2 96.9h1v1h-1zM526.2 91.5h1v1h-1zM556.8 100.2h1v1h-1zM539.0 90.4h1v1h-1zM552.1 98.3h1v1h-1zM551.8 96.3h1v1h-1zM549.2 91.4h1v1h-1zM523.1 87.6h1v1h-1zM544.1 101.7h1v1h-1zM537.0 110.6h1v1h-1zM547.4 90.8h1v1h-1zM560.0 104.7h1v1h-1zM570.4 102.4h1v1h-1zM557.5 94.0h1v1h-1zM552.2 98.6h1v1h-1zM539.9 99.5h1v1h-1zM524.1 91.6h1v1h-1zM543.3 96.7h1v1h-1zM555.9 99.0h1v1h-1zM553.7 86.2h1v1h-1zM579.9 92.9h1v1h-1zM566.7 98.1h1v1h-1zM551.7 94.6h1v1h-1zM548.7 85.1h1v1h-1zM544.4 111.6h1v1h-1zM559.0 92.2h1v1h-1zM543.8 92.9h1v1h-1zM546.9 105.4h1v1h-1zM556.4 92.5h1v1h-1zM519.1 107.9h1v1h-1zM565.0 96.0h1v1h-1zM554.6 93.5h1v1h-1zM540.1 113.4h1v1h-1zM516.6 94.2h1v1h-1zM555.4 100.0h1v1h-1zM550.1 94.6h1v1h-1zM554.0 88.7h1v1h-1zM534.1 100.5h1v1h-1zM538.8 101.2h1v1h-1zM565.3 106.2h1v1h-1zM565.8 89.2h1v1h-1zM550.4 96.2h1v1h-1zM564.3 94.3h1v1h-1zM568.4 97.5h1v1h-1zM568.3 97.2h1v1h-1zM551.2 88.9h1v1h-1zM544.3 107.4h1v1h-1zM570.9 80.0h1v1h-1zM582.6 108.4h1v1h-1zM539.6 101.6h1v1h-1zM562.7 78.8h1v1h-1zM547.4 97.3h1v1h-1zM546.8 86.7h1v1h-1zM547.7 100.2h1v1h-1zM555.3 88.7h1v1h-1zM581.9 88.8h1v1h-1zM540.7 100.0h1v1h-1zM542.3 92.3h1v1h-1zM542.0 95.4h1v1h-1zM582.9 94.2h1v1h-1zM541.7 88.2h1v1h-1zM552.4 100.4h1v1h-1zM537.6 93.1h1v1h-1zM554.7 92.1h1v1h-1zM538.0 101.3h1v1h-1zM567.3 93.8h1v1h-1zM521.0 99.3h1v1h-1zM527.7 109.2h1v1h-1zM553.2 100.7h1v1h-1zM553.3 103.2h1v1h-1zM559.3 99.3h1v1h-1zM552.5 85.5h1v1h-1zM558.6 94.2h1v1h-1zM553.0 102.9h1v1h-1zM537.6 90.7h1v1h-1zM560.7 91.2h1v1h-1zM542.4 93.1h1v1h-1zM558.0 94.1h1v1h-1zM552.0 105.6h1v1h-1zM556.9 99.6h1v1h-1zM548.5 93.4h1v1h-1zM528.3 94.7h1v1h-1zM564.5 109.1h1v1h-1zM541.2 96.3h1v1h-1zM556.3 98.3h1v1h-1zM543.6 79.6h1v1h-1zM542.7 91.4h1v1h-1zM544.5 95.0h1v1h-1zM539.2 97.6h1v1h-1zM539.7 86.2h1v1h-1zM554.2 95.5h1v1h-1zM554.7 103.1h1v1h-1zM527.9 94.3h1v1h-1zM531.3 97.5h1v1h-1zM530.2 77.5h1v1h-1zM566.9 88.4h1v1h-1zM541.1 98.7h1v1h-1zM561.4 97.0h1v1h-1zM543.5 109.5h1v1h-1zM544.7 89.8h1v1h-1zM552.3 91.6h1v1h-1zM553.3 89.6h1v1h-1zM554.8 84.5h1v1h-1zM551.3 100.8h1v1h-1zM551.6 95.8h1v1h-1zM580.5 96.4h1v1h-1zM538.2 96.3h1v1h-1zM567.7 92.7h1v1h-1zM525.4 93.8h1v1h-1zM531.5 94.1h1v1h-1zM526.6 106.5h1v1h-1zM548.0 100.4h1v1h-1zM549.1 101.5h1v1h-1zM544.9 92.9h1v1h-1zM535.9 91.6h1v1h-1zM560.5 102.9h1v1h-1zM541.2 85.0h1v1h-1zM561.1 89.6h1v1h-1zM538.6 93.9h1v1h-1zM562.2 98.4h1v1h-1zM544.8 85.5h1v1h-1zM549.1 104.0h1v1h-1zM551.0 100.8h1v1h-1zM550.2 94.4h1v1h-1zM551.4 96.2h1v1h-1zM582.9 97.7h1v1h-1zM548.4 96.3h1v1h-1zM553.0 98.2h1v1h-1zM561.2 102.0h1v1h-1zM553.2 82.4h1v1h-1zM561.0 98.3h1v1h-1zM569.5 79.8h1v1h-1zM560.5 80.4h1v1h-1zM550.2 94.0h1v1h-1zM561.7 81.8h1v1h-1zM559.8 84.7h1v1h-1zM542.7 91.6h1v1h-1zM557.0 93.0h1v1h-1zM550.7 91.1h1v1h-1zM542.3 90.5h1v1h-1zM554.7 91.5h1v1h-1zM535.1 100.8h1v1h-1zM554.9 107.2h1v1h-1zM548.1 101.6h1v1h-1zM540.5 103.1h1v1h-1zM569.9 106.3h1v1h-1zM524.5 87.9h1v1h-1zM521.5 103.5h1v1h-1zM566.5 93.6h1v1h-1zM536.9 91.7h1v1h-1zM536.2 91.9h1v1h-1zM538.0 101.3h1v1h-1zM577.7 95.2h1v1h-1z" fill="#ff0000" fill-opacity="0.3"/>
<path d="M518.9 62.3h1v1h-1zM512.7 65.3h1v1h-1zM518.1 60.9h1v1h-1zM518.4 63.9h1v1h-1zM513.5 55.0h1v1h-1zM512.8 62.7h1v1h-1zM522.3 68.6h1v1h-1zM511.4 54.1h1v1h-1zM514.6 57.9h1v1h-1zM520.1 64.0h1v1h-1zM513.2 54.6h1v1h-1zM511.6 62.4h1v1h-1zM508.6 61.0h1v1h-1zM513.1 60.1h1v1h-1zM509.7 60.6h1v1h-1zM511.5 54.3h1v1h-1zM506.8 51.4h1v1h-1zM515.4 52.5h1v1h-1zM514.3 57.1h1v1h-1zM519.5 57.9h1v1h-1zM513.0 56.0h1v1h-1zM513.8 62.4h1v1h-1zM515.3 59.6h1v1h-1zM509.3 53.4h1v1h-1zM516.7 55.0h1v1h-1zM509.7 71.0h1v1h-1zM506.1 60.1h1v1h-1zM514.6 57.5h1v1h-1zM508.9 58.8h1v1h-1zM519.1 56.3h1v1h-1zM511.1 58.9h1v1h-1zM510.6 59.1h1v1h-1zM512.4 56.0h1v1h-1zM512.2 57.9h1v1h-1zM508.5 61.0h1v1h-1z" fill="#ff0000" fill-opacity="0.3"/>
<path d="M520.2 89.2h1v1h-1zM519.6 87.3h1v1h-1zM527.0 80.3h1v1h-1zM526.6 82.7h1v1h-1zM524.1 82.4h1v1h-1zM527.2 78.8h1v1h-1zM517.8 86.8h1v1h-1zM524.7 79.0h1v1h-1zM515.8 91.6h1v1h-1zM514.8 90.0h1v1h-1zM514.1 92.6h1v1h-1zM527.1 80.9h1v1h-1zM530.2 77.0h1v1h-1zM529.4 77.6h1v1h-1zM522.9 83.6h1v1h-1zM528.6 77.0h1v1h-1zM522.7 82.0h1v1h-1zM521.0 88.3h1v1h-1zM518.4 86.2h1v1h-1zM522.0 84.6h1v1h-1zM525.2 81.4h1v1h-1zM528.1 79.6h1v1h-1zM519.5 82.9h1v1h-1zM525.3 76.7h1v1h-1zM527.7 78.6h1v1h-1zM517.9 90.8h1v1h-1zM522.0 82.7h1v1h-1zM532.1 75.4h1v1h-1zM518.5 88.9h1v1h-1zM529.5 80.1h1v1h-1zM516.2 90.5h1v1h-1zM523.3 83.6h1v1h-1zM520.6 83.6h1v1h-1zM519.7 86.7h1v1h-1zM529.2 79.6h1v1h-1zM529.4 76.1h1v1h-1zM516.5 88.4h1v1h-1zM532.0 74.4h1v1h-1zM517.6 88.4h1v1h-1zM522.0 83.0h1v1h-1zM519.0 88.0h1v1h-1zM531.2 78.0h1v1h-1zM516.9 89.8h1v1h-1zM527.8 80.5h1v1h-1zM523.5 76.8h1v1h-1zM518.9 86.2h1v1h-1zM523.3 82.6h1v1h-1zM531.7 75.9h1v1h-1zM530.3 73.1h1v1h-1zM519.8 86.1h1v1h-1zM528.0 81.8h1v1h-1zM529.7 76.1h1v1h-1zM526.8 78.6h1v1h-1zM524.4 85.5h1v1h-1zM525.7 83.0h1v1h-1zM524.5 79.8h1v1h-1zM514.8 90.5h1v1h-1zM522.4 81.6h1v1h-1zM529.3 81.7h1v1h-1zM521.5 87.5h1v1h-1zM531.6 77.1h1v1h-1zM522.6 85.9h1v1h-1zM525.7 78.1h1v1h-1zM521.1 89.2h1v1h-1zM516.5 90.0h1v1h-1zM519.3 89.4h1v1h-1zM520.6 87.5h1v1h-1zM520.6 88.1h1v1h-1zM530.4 76.3h1v1h-1zM525.7 82.1h1v1h-1zM517.9 86.1h1v1h-1zM526.3 82.0h1v1h-1zM518.8 88.2h1v1h-1zM525.9 81.7h1v1h-1zM523.7 80.4h1v1h-1zM530.4 75.6h1v1h-1zM527.2 79.8h1v1h-1zM524.6 80.1h1v1h-1zM517.3 87.5h1v1h-1zM520.3 88.8h1v1h-1zM526.9 80.7h1v1h-1zM528.5 78.9h1v1h-1zM514.0 90.7h1v1h-1zM517.1 91.5h1v1h-1zM520.0 85.7h1v1h-1zM532.3 75.4h1v1h-1zM532.8 78.2h1v1h-1zM514.0 88.8h1v1h-1zM523.8 83.4h1v1h-1zM527.0 77.6h1v1h-1zM522.2 83.0h1v1h-1zM528.6 81.2h1v1h-1zM531.6 73.8h1v1h-1zM519.2 87.7h1v1h-1zM532.4 77.5h1v1h-1zM523.2 85.1h1v1h-1zM518.7 87.9h1v1h-1zM523.1 84.9h1v1h-1zM530.6 79.1h1v1h-1zM531.4 74.8h1v1h-1z" fill="#ff0000" fill-opacity="0.45"/>
</g>
<rect x="499.50" y="33.30" width="85" height="84.2" fill="none" stroke="#666" stroke-width="0.9"/>
<line x1="524.20" y1="33.30" x2="524.20" y2="117.50" stroke="#555" stroke-width="1.1"/>
<line x1="499.50" y1="82.10" x2="584.50" y2="82.10" stroke="#555" stroke-width="1.1"/>
<text x="501.80" y="42.50" font-size="8.8" text-anchor="start" fill="#1a1a1a" textLength="21.00" lengthAdjust="spacingAndGlyphs" >0.75%</text>
<text x="581.70" y="42.50" font-size="8.8" text-anchor="end" fill="#1a1a1a" textLength="21.00" lengthAdjust="spacingAndGlyphs" >15.2%</text>
<text x="501.80" y="115.70" font-size="8.8" text-anchor="start" fill="#1a1a1a" textLength="21.00" lengthAdjust="spacingAndGlyphs" >79.5%</text>
<text x="581.70" y="115.70" font-size="8.8" text-anchor="end" fill="#1a1a1a" textLength="21.00" lengthAdjust="spacingAndGlyphs" >4.45%</text>
<path d="M497.3 93.3h2.2M498.3 85.8h1.2M498.3 81.4h1.2M498.3 78.2h1.2M498.3 75.8h1.2M498.3 73.8h1.2M498.3 72.2h1.2M498.3 70.7h1.2M498.3 69.4h1.2M497.3 68.3h2.2M498.3 61.0h1.2M498.3 56.8h1.2M498.3 53.8h1.2M498.3 51.5h1.2M498.3 49.5h1.2M498.3 47.9h1.2M498.3 46.5h1.2M498.3 45.3h1.2M497.3 44.2h2.2M498.3 36.9h1.2M498.3 95.3h1.2M498.3 99.3h1.2M498.3 103.3h1.2M498.3 106.3h1.2M498.3 109.3h1.2M498.3 110.8h1.2" stroke="#666" stroke-width="0.5" fill="none"/>
<text x="0" y="0" font-size="4.2" fill="#555" text-anchor="middle" style="stroke:none" transform="translate(494.2,44.2) rotate(-90)">10⁴</text>
<text x="0" y="0" font-size="4.2" fill="#555" text-anchor="middle" style="stroke:none" transform="translate(494.2,68.3) rotate(-90)">10³</text>
<text x="0" y="0" font-size="4.2" fill="#555" text-anchor="middle" style="stroke:none" transform="translate(494.2,93.3) rotate(-90)">10²</text>
<text x="0" y="0" font-size="4.2" fill="#555" text-anchor="middle" style="stroke:none" transform="translate(494.2,110.8) rotate(-90)">0</text>
<path d="M524.2 117.5v2.0M532.1 117.5v1.1M536.7 117.5v1.1M539.9 117.5v1.1M542.4 117.5v1.1M544.5 117.5v1.1M546.3 117.5v1.1M547.8 117.5v1.1M549.1 117.5v1.1M550.3 117.5v2.0M557.7 117.5v1.1M562.1 117.5v1.1M565.2 117.5v1.1M567.6 117.5v1.1M569.5 117.5v1.1M571.2 117.5v1.1M572.6 117.5v1.1M573.9 117.5v1.1M575.0 117.5v2.0M582.4 117.5v1.1M506.5 117.5v1.1M508.0 117.5v1.1M509.5 117.5v1.1M511.0 117.5v1.1M513.5 117.5v1.1M517.5 117.5v1.1M520.5 117.5v1.1" stroke="#666" stroke-width="0.5" fill="none"/>
<text x="509.0" y="128.3" font-size="4.2" fill="#555" text-anchor="middle" style="stroke:none">0</text>
<text x="524.2" y="128.3" font-size="4.2" fill="#555" text-anchor="middle" style="stroke:none">10²</text>
<text x="550.3" y="128.3" font-size="4.2" fill="#555" text-anchor="middle" style="stroke:none">10³</text>
<text x="575.0" y="128.3" font-size="4.2" fill="#555" text-anchor="middle" style="stroke:none">10⁴</text>
<rect x="603.75" y="33.30" width="85.00" height="84.20" fill="#ffffff" />
<g filter="url(#fs)">
<ellipse cx="616.25" cy="100.80" rx="4.86" ry="8.37" fill="#ff0000" filter="url(#fb)" transform="rotate(18 616.25 100.80)"/>
<path d="M611.7 112.8h1v1h-1zM616.4 107.9h1v1h-1zM617.2 97.7h1v1h-1zM612.5 107.4h1v1h-1zM613.7 105.6h1v1h-1zM615.3 104.9h1v1h-1zM619.3 103.7h1v1h-1zM615.6 94.5h1v1h-1zM628.9 92.7h1v1h-1zM620.4 99.4h1v1h-1zM615.6 98.3h1v1h-1zM623.8 98.1h1v1h-1zM615.3 94.9h1v1h-1zM617.0 103.9h1v1h-1zM612.6 102.0h1v1h-1zM618.4 102.2h1v1h-1zM622.3 98.1h1v1h-1zM618.7 98.2h1v1h-1zM614.9 101.7h1v1h-1zM610.0 105.7h1v1h-1zM613.1 99.1h1v1h-1zM610.2 101.6h1v1h-1zM613.0 104.2h1v1h-1zM613.1 106.0h1v1h-1zM612.0 110.3h1v1h-1zM615.4 98.1h1v1h-1zM613.2 96.7h1v1h-1zM611.0 99.9h1v1h-1zM615.1 99.5h1v1h-1zM614.7 97.6h1v1h-1zM616.6 98.6h1v1h-1zM619.8 103.2h1v1h-1zM619.0 99.3h1v1h-1zM616.5 106.8h1v1h-1zM622.3 101.5h1v1h-1zM618.0 91.3h1v1h-1zM613.7 101.9h1v1h-1zM617.7 102.2h1v1h-1zM615.5 100.0h1v1h-1zM614.1 103.3h1v1h-1zM612.7 95.4h1v1h-1zM619.5 106.3h1v1h-1zM616.8 93.9h1v1h-1zM609.8 107.3h1v1h-1zM619.9 95.1h1v1h-1zM617.9 101.5h1v1h-1zM621.6 92.7h1v1h-1zM620.9 97.7h1v1h-1zM612.9 105.0h1v1h-1zM613.1 107.2h1v1h-1zM617.4 94.1h1v1h-1zM618.7 92.1h1v1h-1zM621.7 95.9h1v1h-1zM622.1 95.6h1v1h-1zM610.0 103.5h1v1h-1zM615.8 99.6h1v1h-1zM617.1 96.8h1v1h-1zM611.2 112.8h1v1h-1zM616.5 92.4h1v1h-1zM623.7 99.9h1v1h-1zM621.4 99.1h1v1h-1zM618.2 91.3h1v1h-1zM615.9 97.8h1v1h-1zM616.8 102.7h1v1h-1zM612.9 98.2h1v1h-1zM615.7 101.7h1v1h-1zM612.2 103.7h1v1h-1zM614.2 108.7h1v1h-1zM621.3 94.0h1v1h-1zM616.6 93.8h1v1h-1zM617.7 99.1h1v1h-1zM610.3 114.5h1v1h-1zM616.3 104.3h1v1h-1zM612.6 97.5h1v1h-1zM610.5 98.7h1v1h-1zM611.4 101.4h1v1h-1zM618.4 103.5h1v1h-1zM619.6 96.8h1v1h-1zM610.6 106.6h1v1h-1zM619.3 87.1h1v1h-1zM612.8 101.3h1v1h-1zM616.9 100.8h1v1h-1zM617.8 106.2h1v1h-1zM613.0 102.2h1v1h-1zM612.5 97.1h1v1h-1zM620.4 106.9h1v1h-1zM620.8 93.0h1v1h-1zM622.9 108.2h1v1h-1zM610.5 112.8h1v1h-1zM616.1 107.8h1v1h-1zM620.7 90.2h1v1h-1zM621.5 101.0h1v1h-1zM618.1 99.9h1v1h-1zM615.7 110.9h1v1h-1zM619.1 93.2h1v1h-1zM616.9 103.6h1v1h-1zM619.5 100.3h1v1h-1zM616.7 95.9h1v1h-1zM612.1 109.5h1v1h-1zM623.4 93.8h1v1h-1zM617.3 92.2h1v1h-1zM617.9 103.2h1v1h-1zM617.3 106.6h1v1h-1zM616.1 106.3h1v1h-1zM615.3 101.0h1v1h-1zM623.9 99.9h1v1h-1zM615.0 106.7h1v1h-1zM615.0 108.8h1v1h-1zM615.6 104.9h1v1h-1zM615.4 104.9h1v1h-1zM619.9 93.4h1v1h-1zM615.0 104.9h1v1h-1zM617.4 99.8h1v1h-1zM613.3 99.6h1v1h-1zM614.3 99.9h1v1h-1zM620.3 93.7h1v1h-1zM618.0 103.5h1v1h-1zM618.2 99.8h1v1h-1zM617.6 102.4h1v1h-1zM620.7 97.1h1v1h-1zM612.3 94.6h1v1h-1zM612.3 99.0h1v1h-1zM610.6 105.6h1v1h-1zM611.5 99.7h1v1h-1zM619.3 104.8h1v1h-1zM620.3 100.1h1v1h-1zM613.5 98.8h1v1h-1zM614.7 98.4h1v1h-1zM616.4 105.2h1v1h-1zM610.2 110.4h1v1h-1zM614.9 99.5h1v1h-1zM617.2 95.7h1v1h-1zM616.8 104.9h1v1h-1zM612.9 107.0h1v1h-1zM615.4 99.5h1v1h-1zM624.2 80.0h1v1h-1zM614.7 100.6h1v1h-1zM618.9 103.1h1v1h-1zM620.2 93.7h1v1h-1zM617.3 96.7h1v1h-1zM616.0 99.4h1v1h-1zM612.5 109.9h1v1h-1zM613.8 98.2h1v1h-1zM613.8 111.2h1v1h-1zM613.8 100.2h1v1h-1zM621.6 100.5h1v1h-1zM615.5 94.5h1v1h-1zM610.3 108.3h1v1h-1zM620.0 107.1h1v1h-1zM616.3 92.3h1v1h-1zM617.0 110.1h1v1h-1zM612.3 113.5h1v1h-1zM612.6 100.9h1v1h-1zM616.8 99.3h1v1h-1zM613.2 101.8h1v1h-1zM619.6 100.5h1v1h-1zM614.3 111.3h1v1h-1zM618.6 107.6h1v1h-1zM626.1 90.9h1v1h-1zM611.7 99.1h1v1h-1zM617.5 103.7h1v1h-1zM621.0 98.7h1v1h-1zM620.6 108.9h1v1h-1zM616.4 100.7h1v1h-1zM614.5 96.9h1v1h-1zM621.4 105.6h1v1h-1zM615.4 96.3h1v1h-1zM614.0 101.1h1v1h-1zM614.4 103.8h1v1h-1zM616.0 97.3h1v1h-1zM620.1 102.8h1v1h-1zM626.0 91.0h1v1h-1zM619.4 104.7h1v1h-1zM615.8 107.1h1v1h-1zM615.8 94.9h1v1h-1zM616.0 106.4h1v1h-1zM610.4 94.4h1v1h-1zM609.7 112.3h1v1h-1zM621.5 92.4h1v1h-1zM611.0 104.0h1v1h-1zM617.3 96.2h1v1h-1zM610.6 109.3h1v1h-1zM619.1 101.4h1v1h-1zM614.9 101.1h1v1h-1zM619.7 102.7h1v1h-1zM619.1 101.8h1v1h-1zM617.7 94.3h1v1h-1zM620.6 97.9h1v1h-1zM614.1 92.1h1v1h-1zM618.3 104.6h1v1h-1zM606.8 112.1h1v1h-1zM622.8 94.2h1v1h-1zM613.5 104.2h1v1h-1zM618.7 103.6h1v1h-1zM609.8 102.6h1v1h-1zM616.8 100.8h1v1h-1zM617.1 109.0h1v1h-1zM617.5 102.1h1v1h-1zM614.7 97.6h1v1h-1zM611.7 100.7h1v1h-1zM617.2 86.5h1v1h-1zM615.1 104.5h1v1h-1zM620.8 101.7h1v1h-1zM614.5 102.7h1v1h-1zM613.4 108.2h1v1h-1zM618.3 90.0h1v1h-1zM618.3 97.6h1v1h-1zM617.9 100.5h1v1h-1zM615.5 100.4h1v1h-1zM616.5 98.4h1v1h-1zM613.1 96.7h1v1h-1zM619.7 96.2h1v1h-1zM622.6 95.1h1v1h-1zM614.9 102.7h1v1h-1zM619.4 90.7h1v1h-1zM618.5 99.2h1v1h-1zM616.4 109.0h1v1h-1zM617.1 106.1h1v1h-1zM614.1 112.4h1v1h-1zM613.2 104.0h1v1h-1zM617.6 102.0h1v1h-1zM625.5 92.5h1v1h-1zM618.5 100.6h1v1h-1zM621.7 87.3h1v1h-1zM618.6 93.7h1v1h-1zM615.9 92.6h1v1h-1zM623.7 91.6h1v1h-1zM614.8 95.0h1v1h-1zM619.4 91.0h1v1h-1zM612.3 110.3h1v1h-1zM618.0 94.9h1v1h-1zM617.2 96.1h1v1h-1zM622.0 97.4h1v1h-1zM610.1 113.7h1v1h-1zM619.0 95.1h1v1h-1zM618.7 102.4h1v1h-1zM617.0 97.2h1v1h-1zM615.8 100.6h1v1h-1zM616.7 103.7h1v1h-1zM610.2 101.6h1v1h-1zM615.5 104.3h1v1h-1zM620.9 89.1h1v1h-1zM617.5 96.4h1v1h-1zM621.1 94.4h1v1h-1zM617.5 105.9h1v1h-1zM616.5 104.4h1v1h-1zM618.4 105.6h1v1h-1zM618.6 101.9h1v1h-1zM621.2 94.4h1v1h-1zM621.1 101.5h1v1h-1zM612.6 103.1h1v1h-1zM614.0 103.1h1v1h-1zM613.8 107.9h1v1h-1zM616.5 100.1h1v1h-1zM619.1 94.1h1v1h-1zM617.0 99.5h1v1h-1zM610.4 106.3h1v1h-1zM620.6 101.9h1v1h-1zM615.6 99.4h1v1h-1zM619.1 103.4h1v1h-1zM619.3 102.6h1v1h-1zM622.4 96.1h1v1h-1zM618.7 99.7h1v1h-1zM612.0 106.6h1v1h-1zM612.4 113.2h1v1h-1zM621.8 100.1h1v1h-1zM620.7 107.9h1v1h-1zM612.6 99.9h1v1h-1zM610.4 101.5h1v1h-1zM614.5 106.2h1v1h-1zM621.3 86.4h1v1h-1zM613.2 93.2h1v1h-1zM616.0 94.2h1v1h-1zM613.3 100.4h1v1h-1zM619.5 110.7h1v1h-1zM612.6 103.4h1v1h-1zM616.3 100.6h1v1h-1zM617.5 95.0h1v1h-1zM611.0 107.8h1v1h-1zM613.5 106.0h1v1h-1zM617.7 94.3h1v1h-1zM614.0 106.1h1v1h-1zM617.0 96.9h1v1h-1zM619.1 94.7h1v1h-1zM617.0 107.5h1v1h-1zM613.9 112.6h1v1h-1zM622.5 87.4h1v1h-1zM618.3 91.8h1v1h-1zM619.3 96.7h1v1h-1zM615.0 99.9h1v1h-1zM611.7 99.5h1v1h-1zM620.2 95.3h1v1h-1zM610.4 111.2h1v1h-1zM612.6 108.3h1v1h-1zM610.1 106.6h1v1h-1zM618.9 103.3h1v1h-1zM619.0 93.3h1v1h-1zM617.5 94.4h1v1h-1zM614.5 102.4h1v1h-1zM618.2 96.7h1v1h-1zM616.9 95.5h1v1h-1zM618.6 96.1h1v1h-1zM615.5 94.5h1v1h-1zM615.2 93.3h1v1h-1zM618.0 103.9h1v1h-1zM613.2 98.2h1v1h-1zM618.6 90.2h1v1h-1zM617.2 97.8h1v1h-1zM617.9 100.5h1v1h-1zM623.5 97.4h1v1h-1zM617.7 93.8h1v1h-1zM614.4 98.5h1v1h-1zM624.1 88.4h1v1h-1zM620.4 89.4h1v1h-1zM620.1 100.2h1v1h-1zM615.4 101.1h1v1h-1zM619.2 96.1h1v1h-1zM617.8 98.6h1v1h-1zM615.4 103.0h1v1h-1zM615.4 99.9h1v1h-1zM612.6 98.7h1v1h-1zM620.6 87.0h1v1h-1zM613.4 104.2h1v1h-1zM618.2 95.7h1v1h-1zM615.8 93.0h1v1h-1zM617.5 97.8h1v1h-1zM619.8 101.5h1v1h-1zM612.9 96.8h1v1h-1zM616.8 93.3h1v1h-1zM613.3 97.7h1v1h-1zM616.4 104.1h1v1h-1zM621.3 96.6h1v1h-1zM613.9 98.5h1v1h-1zM615.5 96.3h1v1h-1zM612.2 105.9h1v1h-1zM614.5 108.3h1v1h-1zM617.7 100.7h1v1h-1zM615.6 98.7h1v1h-1zM621.8 93.7h1v1h-1zM607.8 114.6h1v1h-1zM621.2 102.6h1v1h-1zM616.3 114.2h1v1h-1zM620.2 101.8h1v1h-1zM613.3 100.3h1v1h-1zM616.7 103.3h1v1h-1zM611.3 109.4h1v1h-1zM619.2 95.9h1v1h-1zM619.6 106.3h1v1h-1zM614.0 102.6h1v1h-1zM624.2 104.1h1v1h-1zM620.6 89.2h1v1h-1zM612.8 111.6h1v1h-1zM616.7 94.8h1v1h-1zM611.8 104.7h1v1h-1zM615.8 102.5h1v1h-1zM617.0 105.7h1v1h-1zM615.1 106.2h1v1h-1zM614.4 105.3h1v1h-1zM618.0 95.3h1v1h-1zM617.6 105.4h1v1h-1zM611.0 111.9h1v1h-1zM615.8 93.7h1v1h-1zM610.2 100.2h1v1h-1zM620.1 92.5h1v1h-1zM611.3 101.0h1v1h-1zM615.0 104.7h1v1h-1zM617.5 106.5h1v1h-1zM616.6 100.0h1v1h-1zM612.2 102.7h1v1h-1zM610.7 102.6h1v1h-1zM615.2 108.2h1v1h-1zM617.8 96.8h1v1h-1zM618.5 97.9h1v1h-1zM612.7 108.3h1v1h-1zM619.0 103.9h1v1h-1zM619.1 101.4h1v1h-1zM617.3 96.1h1v1h-1zM617.8 107.2h1v1h-1zM618.8 93.5h1v1h-1zM614.3 109.5h1v1h-1zM619.1 96.6h1v1h-1zM621.1 99.2h1v1h-1zM615.2 95.1h1v1h-1zM615.9 101.7h1v1h-1zM613.9 99.9h1v1h-1zM614.1 105.2h1v1h-1zM627.2 97.4h1v1h-1zM613.6 103.7h1v1h-1zM611.7 105.3h1v1h-1zM617.4 109.8h1v1h-1zM617.3 106.6h1v1h-1zM619.5 110.2h1v1h-1zM614.6 105.8h1v1h-1zM612.8 112.8h1v1h-1zM614.1 104.6h1v1h-1zM615.9 109.5h1v1h-1zM621.0 104.5h1v1h-1zM613.1 115.0h1v1h-1zM614.8 100.5h1v1h-1zM608.9 114.5h1v1h-1zM613.3 103.6h1v1h-1zM615.9 96.0h1v1h-1zM611.6 110.6h1v1h-1zM617.3 90.0h1v1h-1zM618.4 92.3h1v1h-1zM621.7 99.7h1v1h-1zM615.2 94.4h1v1h-1zM621.1 104.6h1v1h-1zM615.1 98.4h1v1h-1zM608.4 108.1h1v1h-1zM615.2 100.6h1v1h-1zM616.1 105.7h1v1h-1zM615.6 99.9h1v1h-1zM615.3 101.2h1v1h-1zM617.7 97.9h1v1h-1zM620.6 104.1h1v1h-1zM612.8 102.8h1v1h-1zM613.8 102.1h1v1h-1zM613.2 112.4h1v1h-1zM615.0 96.5h1v1h-1zM612.3 104.5h1v1h-1zM618.8 93.6h1v1h-1zM618.2 95.9h1v1h-1zM620.5 104.8h1v1h-1zM616.5 111.3h1v1h-1zM619.4 97.3h1v1h-1zM617.0 94.8h1v1h-1zM614.3 96.3h1v1h-1zM623.3 89.8h1v1h-1zM613.9 100.5h1v1h-1zM614.9 102.4h1v1h-1zM613.5 105.2h1v1h-1zM608.5 101.7h1v1h-1zM613.8 113.6h1v1h-1zM614.3 95.8h1v1h-1zM620.1 86.5h1v1h-1zM617.0 96.2h1v1h-1zM617.2 98.9h1v1h-1zM615.4 87.4h1v1h-1zM614.2 106.0h1v1h-1zM610.0 106.9h1v1h-1zM613.7 97.1h1v1h-1zM605.0 115.0h1v1h-1zM619.9 94.4h1v1h-1zM607.9 105.1h1v1h-1zM612.1 92.4h1v1h-1zM615.9 106.7h1v1h-1zM613.6 98.2h1v1h-1zM615.8 100.1h1v1h-1zM612.7 101.1h1v1h-1zM610.6 106.7h1v1h-1zM616.7 97.2h1v1h-1zM614.0 106.2h1v1h-1zM615.7 112.6h1v1h-1zM620.4 98.4h1v1h-1zM615.1 92.6h1v1h-1zM613.9 112.2h1v1h-1zM611.9 111.4h1v1h-1zM615.3 96.9h1v1h-1zM614.2 112.0h1v1h-1zM617.4 89.7h1v1h-1zM614.5 94.4h1v1h-1zM613.3 107.2h1v1h-1zM615.2 105.1h1v1h-1zM618.5 89.8h1v1h-1zM621.3 95.3h1v1h-1zM613.7 102.6h1v1h-1zM619.9 112.3h1v1h-1zM613.3 92.7h1v1h-1zM617.0 102.8h1v1h-1zM616.9 88.1h1v1h-1zM620.1 95.8h1v1h-1zM611.8 101.0h1v1h-1zM615.2 93.4h1v1h-1zM622.1 103.1h1v1h-1zM615.3 110.8h1v1h-1zM622.1 94.7h1v1h-1zM615.7 95.3h1v1h-1zM613.1 107.4h1v1h-1zM616.1 106.3h1v1h-1zM618.2 97.1h1v1h-1zM614.7 104.4h1v1h-1zM622.7 94.7h1v1h-1zM615.4 96.4h1v1h-1zM620.2 98.4h1v1h-1zM620.8 104.2h1v1h-1zM618.5 91.0h1v1h-1zM615.2 101.3h1v1h-1zM616.8 90.6h1v1h-1zM616.1 96.7h1v1h-1zM615.8 99.2h1v1h-1zM613.9 92.2h1v1h-1zM617.4 110.5h1v1h-1zM619.2 102.0h1v1h-1zM616.6 107.5h1v1h-1zM618.1 96.9h1v1h-1zM612.9 96.0h1v1h-1zM620.0 92.8h1v1h-1zM617.6 101.2h1v1h-1zM616.6 101.4h1v1h-1zM612.5 101.5h1v1h-1zM624.5 98.5h1v1h-1zM618.9 104.5h1v1h-1zM617.7 97.7h1v1h-1zM613.9 109.8h1v1h-1zM617.5 105.3h1v1h-1zM612.8 99.4h1v1h-1zM615.7 91.2h1v1h-1zM613.7 89.7h1v1h-1zM617.0 92.7h1v1h-1zM610.0 110.3h1v1h-1zM615.5 101.2h1v1h-1zM613.1 98.6h1v1h-1zM613.5 103.4h1v1h-1zM614.4 108.1h1v1h-1zM621.8 93.3h1v1h-1zM614.3 91.2h1v1h-1zM613.2 114.3h1v1h-1zM612.7 107.1h1v1h-1zM614.6 97.4h1v1h-1zM615.8 96.9h1v1h-1zM623.6 92.5h1v1h-1zM621.1 95.6h1v1h-1zM619.3 93.7h1v1h-1zM617.1 94.3h1v1h-1zM615.0 99.1h1v1h-1zM615.7 99.6h1v1h-1zM618.3 94.9h1v1h-1zM618.5 101.9h1v1h-1zM613.4 97.8h1v1h-1zM617.6 96.5h1v1h-1zM618.9 100.0h1v1h-1zM613.9 110.8h1v1h-1zM617.0 104.4h1v1h-1zM617.1 99.4h1v1h-1zM616.2 107.0h1v1h-1zM619.5 90.9h1v1h-1zM617.5 99.8h1v1h-1zM616.8 112.1h1v1h-1zM622.4 97.9h1v1h-1zM620.1 99.4h1v1h-1zM615.5 103.6h1v1h-1zM620.8 97.8h1v1h-1zM610.4 104.0h1v1h-1zM612.8 109.6h1v1h-1zM612.8 104.0h1v1h-1zM616.1 100.8h1v1h-1zM627.2 84.8h1v1h-1zM614.5 104.5h1v1h-1zM616.1 114.1h1v1h-1zM610.2 108.0h1v1h-1zM612.8 114.2h1v1h-1zM610.1 110.4h1v1h-1zM614.2 99.8h1v1h-1zM615.0 96.9h1v1h-1zM621.0 96.3h1v1h-1zM615.8 99.8h1v1h-1zM621.1 89.1h1v1h-1zM621.7 94.6h1v1h-1zM618.4 99.1h1v1h-1zM614.6 97.9h1v1h-1zM621.8 93.8h1v1h-1zM612.9 100.0h1v1h-1zM618.6 102.9h1v1h-1zM618.2 102.1h1v1h-1zM611.8 96.1h1v1h-1zM618.4 92.0h1v1h-1zM618.2 102.8h1v1h-1zM611.8 112.6h1v1h-1zM618.4 102.0h1v1h-1zM614.8 101.7h1v1h-1zM620.4 102.9h1v1h-1zM611.7 98.4h1v1h-1zM612.3 110.1h1v1h-1zM611.7 107.9h1v1h-1zM619.3 87.3h1v1h-1zM620.1 91.7h1v1h-1zM614.7 101.2h1v1h-1zM609.2 110.0h1v1h-1zM619.7 92.6h1v1h-1zM614.9 105.1h1v1h-1zM620.7 96.8h1v1h-1zM617.5 86.3h1v1h-1zM611.7 96.5h1v1h-1zM615.0 99.7h1v1h-1zM616.9 99.2h1v1h-1zM615.5 103.8h1v1h-1zM610.7 98.9h1v1h-1zM614.3 97.6h1v1h-1zM610.7 93.4h1v1h-1zM617.7 93.0h1v1h-1zM609.8 106.9h1v1h-1zM620.4 89.5h1v1h-1zM614.3 111.9h1v1h-1zM617.9 98.7h1v1h-1zM618.7 95.9h1v1h-1zM622.5 100.7h1v1h-1zM619.6 95.7h1v1h-1zM614.9 102.8h1v1h-1zM622.3 104.1h1v1h-1zM620.0 92.3h1v1h-1zM611.4 105.3h1v1h-1zM614.3 91.2h1v1h-1zM613.3 112.8h1v1h-1zM616.2 96.0h1v1h-1zM618.0 99.0h1v1h-1zM620.1 95.9h1v1h-1zM618.6 106.4h1v1h-1zM617.1 104.5h1v1h-1zM618.4 104.7h1v1h-1zM614.3 104.1h1v1h-1zM616.0 96.6h1v1h-1zM613.7 100.5h1v1h-1zM614.3 99.6h1v1h-1zM615.9 100.9h1v1h-1zM618.9 103.4h1v1h-1zM611.3 99.3h1v1h-1zM615.1 105.0h1v1h-1zM615.4 102.1h1v1h-1zM614.1 95.0h1v1h-1zM617.4 104.5h1v1h-1zM618.6 89.7h1v1h-1zM616.0 86.9h1v1h-1zM613.7 106.2h1v1h-1zM608.6 108.0h1v1h-1zM618.6 102.6h1v1h-1zM619.6 108.3h1v1h-1zM616.5 103.8h1v1h-1zM617.2 104.1h1v1h-1zM615.5 102.6h1v1h-1zM618.6 100.3h1v1h-1zM614.9 97.1h1v1h-1zM613.3 106.4h1v1h-1zM617.9 99.1h1v1h-1zM614.8 96.7h1v1h-1zM617.3 107.7h1v1h-1zM617.8 94.8h1v1h-1zM618.5 105.2h1v1h-1zM616.6 106.3h1v1h-1zM617.8 98.6h1v1h-1zM610.7 106.2h1v1h-1zM614.8 106.7h1v1h-1zM619.3 97.9h1v1h-1zM613.6 103.1h1v1h-1zM614.4 99.0h1v1h-1zM613.7 98.4h1v1h-1zM621.9 92.9h1v1h-1zM616.0 89.8h1v1h-1zM624.4 97.0h1v1h-1zM618.4 91.3h1v1h-1zM620.1 97.4h1v1h-1zM621.4 97.6h1v1h-1zM620.0 102.1h1v1h-1zM615.4 102.8h1v1h-1zM617.5 92.6h1v1h-1zM615.8 99.5h1v1h-1zM614.8 104.4h1v1h-1zM613.9 105.7h1v1h-1zM619.4 99.9h1v1h-1zM617.9 103.6h1v1h-1zM613.9 102.8h1v1h-1zM616.9 102.7h1v1h-1zM620.1 103.2h1v1h-1zM621.7 88.6h1v1h-1zM618.7 102.6h1v1h-1zM618.1 98.1h1v1h-1zM613.7 95.1h1v1h-1zM622.2 96.1h1v1h-1zM620.5 92.6h1v1h-1zM621.6 92.7h1v1h-1zM615.2 104.6h1v1h-1zM617.5 97.4h1v1h-1zM614.5 102.3h1v1h-1zM623.0 88.8h1v1h-1zM615.8 100.8h1v1h-1zM607.8 94.3h1v1h-1zM615.5 99.3h1v1h-1zM615.8 103.9h1v1h-1zM619.4 96.6h1v1h-1zM617.3 99.7h1v1h-1zM618.2 100.3h1v1h-1zM616.1 105.1h1v1h-1zM615.8 111.5h1v1h-1zM613.9 103.4h1v1h-1zM617.1 99.3h1v1h-1zM613.8 100.5h1v1h-1zM620.1 94.8h1v1h-1zM616.5 101.5h1v1h-1zM615.5 88.6h1v1h-1zM618.4 103.6h1v1h-1zM615.3 107.7h1v1h-1zM610.5 103.9h1v1h-1zM615.6 106.9h1v1h-1zM625.1 88.3h1v1h-1zM612.3 108.0h1v1h-1zM622.8 94.9h1v1h-1zM612.6 100.2h1v1h-1zM619.4 97.0h1v1h-1zM621.9 99.7h1v1h-1zM620.2 97.1h1v1h-1zM614.1 108.2h1v1h-1zM613.0 103.9h1v1h-1zM613.5 109.1h1v1h-1zM617.8 97.2h1v1h-1zM613.0 108.1h1v1h-1zM617.0 90.7h1v1h-1zM613.1 108.4h1v1h-1zM619.1 95.5h1v1h-1zM616.9 104.1h1v1h-1zM617.7 98.0h1v1h-1zM616.2 102.1h1v1h-1zM615.9 102.3h1v1h-1zM612.4 99.9h1v1h-1zM621.8 96.3h1v1h-1zM614.8 99.9h1v1h-1zM620.9 109.0h1v1h-1zM610.8 115.6h1v1h-1zM613.2 102.0h1v1h-1zM617.2 107.7h1v1h-1zM613.4 96.8h1v1h-1zM618.9 96.1h1v1h-1zM622.4 92.9h1v1h-1zM614.7 100.0h1v1h-1zM613.9 100.1h1v1h-1zM613.9 105.4h1v1h-1zM619.2 106.4h1v1h-1zM617.2 99.6h1v1h-1zM623.6 87.3h1v1h-1zM616.5 104.2h1v1h-1zM616.0 96.9h1v1h-1zM622.1 85.6h1v1h-1zM618.3 96.7h1v1h-1zM616.5 102.0h1v1h-1zM620.9 95.0h1v1h-1zM613.8 103.1h1v1h-1zM617.8 92.3h1v1h-1zM620.1 91.4h1v1h-1zM622.1 99.4h1v1h-1zM612.2 105.9h1v1h-1zM616.4 97.2h1v1h-1zM620.7 96.2h1v1h-1zM610.7 95.5h1v1h-1zM610.2 95.3h1v1h-1zM618.3 100.6h1v1h-1zM612.5 96.1h1v1h-1zM619.6 99.2h1v1h-1zM611.6 98.2h1v1h-1zM618.8 93.4h1v1h-1zM617.2 100.4h1v1h-1zM609.0 92.5h1v1h-1zM620.6 100.1h1v1h-1zM609.3 103.9h1v1h-1zM615.6 95.3h1v1h-1zM613.4 110.2h1v1h-1zM618.1 89.3h1v1h-1zM614.7 109.7h1v1h-1zM611.9 98.4h1v1h-1zM627.1 92.6h1v1h-1zM613.8 96.8h1v1h-1zM623.7 100.3h1v1h-1zM614.6 110.8h1v1h-1zM619.9 98.5h1v1h-1zM612.7 109.5h1v1h-1zM617.6 98.1h1v1h-1zM613.6 102.9h1v1h-1zM626.1 89.1h1v1h-1zM612.5 104.1h1v1h-1zM618.0 103.4h1v1h-1zM612.8 107.0h1v1h-1zM616.6 97.6h1v1h-1zM608.6 101.1h1v1h-1zM611.4 111.2h1v1h-1zM614.2 99.8h1v1h-1zM618.5 96.3h1v1h-1zM616.9 99.0h1v1h-1zM620.7 97.1h1v1h-1zM618.7 97.4h1v1h-1zM620.4 95.1h1v1h-1zM616.6 105.0h1v1h-1zM618.0 95.9h1v1h-1zM619.1 104.2h1v1h-1zM617.8 100.3h1v1h-1zM613.6 99.7h1v1h-1zM615.8 90.4h1v1h-1zM608.3 103.5h1v1h-1zM613.2 97.3h1v1h-1zM615.3 100.0h1v1h-1zM614.4 107.4h1v1h-1zM620.3 95.7h1v1h-1zM619.0 98.2h1v1h-1zM612.0 95.0h1v1h-1zM613.8 104.1h1v1h-1zM611.4 114.8h1v1h-1zM618.3 91.4h1v1h-1zM612.3 109.8h1v1h-1zM617.0 96.7h1v1h-1zM614.6 100.4h1v1h-1zM614.8 92.3h1v1h-1zM621.6 109.4h1v1h-1zM619.0 104.9h1v1h-1zM615.5 105.3h1v1h-1zM619.7 92.0h1v1h-1zM615.2 102.1h1v1h-1zM617.4 98.5h1v1h-1zM615.4 100.4h1v1h-1zM617.1 97.6h1v1h-1zM616.5 102.9h1v1h-1zM618.3 104.2h1v1h-1zM618.3 105.5h1v1h-1zM611.1 107.8h1v1h-1zM616.3 100.9h1v1h-1zM613.8 101.1h1v1h-1zM606.0 112.1h1v1h-1zM619.2 97.8h1v1h-1zM619.1 90.3h1v1h-1zM614.0 100.8h1v1h-1zM610.0 102.6h1v1h-1zM623.8 95.3h1v1h-1zM616.5 101.8h1v1h-1zM618.9 88.5h1v1h-1zM611.8 102.6h1v1h-1zM620.8 96.3h1v1h-1zM618.9 93.7h1v1h-1zM613.5 97.2h1v1h-1zM616.9 101.1h1v1h-1zM623.7 89.5h1v1h-1zM616.2 94.2h1v1h-1zM617.8 102.4h1v1h-1zM609.8 105.1h1v1h-1zM618.8 101.3h1v1h-1zM615.8 96.1h1v1h-1zM619.1 101.3h1v1h-1zM615.4 106.1h1v1h-1zM613.6 98.7h1v1h-1zM613.2 94.2h1v1h-1zM614.4 109.1h1v1h-1zM615.7 100.2h1v1h-1zM610.1 100.9h1v1h-1zM615.0 109.8h1v1h-1zM617.6 95.8h1v1h-1zM613.6 114.3h1v1h-1zM613.2 109.9h1v1h-1zM617.1 95.2h1v1h-1zM614.5 107.4h1v1h-1zM610.1 94.6h1v1h-1zM617.1 106.6h1v1h-1zM616.5 100.7h1v1h-1zM613.0 98.9h1v1h-1zM612.2 101.3h1v1h-1zM617.0 100.6h1v1h-1zM613.2 99.6h1v1h-1zM619.3 95.4h1v1h-1zM616.6 91.5h1v1h-1zM613.7 103.1h1v1h-1zM615.1 103.2h1v1h-1zM615.0 101.2h1v1h-1zM614.8 92.4h1v1h-1zM616.0 105.1h1v1h-1zM622.9 97.7h1v1h-1zM615.9 102.6h1v1h-1zM612.7 103.5h1v1h-1zM616.1 96.1h1v1h-1zM619.1 100.9h1v1h-1zM612.3 103.9h1v1h-1zM621.8 110.0h1v1h-1zM622.3 97.4h1v1h-1zM617.8 92.4h1v1h-1zM609.6 99.2h1v1h-1zM617.8 99.7h1v1h-1zM614.7 108.2h1v1h-1zM609.2 101.3h1v1h-1zM615.6 100.1h1v1h-1zM614.4 116.7h1v1h-1zM621.5 97.4h1v1h-1zM620.4 94.5h1v1h-1zM622.2 96.1h1v1h-1zM618.7 105.4h1v1h-1zM614.3 105.5h1v1h-1zM617.1 96.4h1v1h-1zM617.5 101.8h1v1h-1zM615.0 104.2h1v1h-1zM612.3 104.1h1v1h-1zM611.7 100.5h1v1h-1zM615.1 102.3h1v1h-1zM611.5 109.1h1v1h-1zM613.0 95.5h1v1h-1zM610.7 103.8h1v1h-1zM609.4 107.8h1v1h-1zM612.2 93.6h1v1h-1zM617.7 101.2h1v1h-1zM614.4 111.9h1v1h-1zM614.3 100.6h1v1h-1zM623.0 101.6h1v1h-1zM614.1 113.4h1v1h-1zM619.9 93.5h1v1h-1zM611.5 104.4h1v1h-1zM616.7 104.7h1v1h-1zM614.3 100.0h1v1h-1zM611.7 108.4h1v1h-1zM617.4 105.3h1v1h-1zM619.4 97.4h1v1h-1zM615.0 109.9h1v1h-1zM617.7 99.6h1v1h-1zM615.1 99.1h1v1h-1zM615.6 100.7h1v1h-1zM615.4 96.4h1v1h-1zM620.6 92.8h1v1h-1zM620.4 98.3h1v1h-1zM616.8 100.8h1v1h-1zM620.0 100.1h1v1h-1zM619.5 92.0h1v1h-1zM612.8 102.3h1v1h-1zM616.4 97.8h1v1h-1zM620.8 108.1h1v1h-1zM613.9 114.4h1v1h-1zM612.1 100.3h1v1h-1zM617.9 93.5h1v1h-1zM618.7 99.4h1v1h-1zM621.1 95.7h1v1h-1zM617.9 96.4h1v1h-1zM619.4 93.8h1v1h-1zM620.3 89.2h1v1h-1zM609.5 103.5h1v1h-1zM614.1 97.9h1v1h-1zM615.2 97.3h1v1h-1zM619.9 106.7h1v1h-1zM614.8 103.3h1v1h-1zM621.7 77.5h1v1h-1zM613.5 101.3h1v1h-1zM615.6 105.3h1v1h-1zM616.0 101.1h1v1h-1zM617.0 104.8h1v1h-1zM618.6 97.0h1v1h-1zM621.5 91.6h1v1h-1zM615.5 109.3h1v1h-1zM617.1 101.8h1v1h-1zM614.3 104.6h1v1h-1zM611.3 116.3h1v1h-1zM614.3 101.8h1v1h-1zM614.3 105.5h1v1h-1zM615.8 106.6h1v1h-1zM619.7 92.5h1v1h-1zM616.9 107.1h1v1h-1zM611.4 100.3h1v1h-1zM623.8 97.5h1v1h-1zM617.9 106.3h1v1h-1zM622.4 85.1h1v1h-1zM615.4 103.9h1v1h-1zM617.7 107.2h1v1h-1zM611.8 104.2h1v1h-1zM619.4 90.8h1v1h-1zM620.0 90.7h1v1h-1zM610.3 110.0h1v1h-1zM615.9 106.8h1v1h-1zM617.2 98.1h1v1h-1zM618.6 94.4h1v1h-1zM612.8 104.2h1v1h-1zM615.5 100.1h1v1h-1zM618.0 107.9h1v1h-1zM614.7 95.9h1v1h-1zM614.8 103.2h1v1h-1zM618.3 103.4h1v1h-1zM617.6 102.4h1v1h-1zM618.8 91.5h1v1h-1zM617.6 99.6h1v1h-1zM615.4 101.4h1v1h-1zM620.6 92.1h1v1h-1zM613.9 104.4h1v1h-1zM614.5 101.3h1v1h-1zM616.7 94.7h1v1h-1zM617.6 92.1h1v1h-1zM621.2 88.7h1v1h-1zM615.1 109.0h1v1h-1zM615.3 99.3h1v1h-1zM619.2 90.9h1v1h-1zM614.8 108.8h1v1h-1zM615.6 88.4h1v1h-1zM611.7 100.3h1v1h-1zM622.8 91.5h1v1h-1zM619.9 89.6h1v1h-1zM618.1 104.3h1v1h-1zM619.3 91.7h1v1h-1zM608.1 106.2h1v1h-1zM617.9 94.2h1v1h-1zM615.8 97.9h1v1h-1zM613.9 105.4h1v1h-1zM613.3 96.4h1v1h-1zM617.1 104.6h1v1h-1zM622.2 97.7h1v1h-1zM617.3 98.8h1v1h-1zM617.0 100.2h1v1h-1zM623.4 103.3h1v1h-1zM617.1 101.1h1v1h-1zM618.8 115.9h1v1h-1zM620.5 96.0h1v1h-1zM616.6 101.5h1v1h-1zM616.2 99.5h1v1h-1zM614.9 102.2h1v1h-1zM619.1 106.5h1v1h-1zM615.4 97.3h1v1h-1zM625.0 103.5h1v1h-1zM608.3 100.9h1v1h-1zM614.4 94.5h1v1h-1zM616.7 102.1h1v1h-1zM614.8 97.7h1v1h-1zM623.3 97.0h1v1h-1zM615.8 98.1h1v1h-1zM614.6 101.3h1v1h-1zM612.3 105.0h1v1h-1zM620.7 93.3h1v1h-1zM615.4 100.2h1v1h-1zM616.5 92.0h1v1h-1zM615.2 101.7h1v1h-1zM612.7 104.9h1v1h-1zM620.7 89.3h1v1h-1zM616.7 102.5h1v1h-1zM611.5 99.6h1v1h-1zM608.1 101.0h1v1h-1zM614.1 106.5h1v1h-1zM609.7 104.4h1v1h-1zM611.3 99.3h1v1h-1zM614.1 106.5h1v1h-1zM624.4 94.6h1v1h-1zM613.9 97.5h1v1h-1zM624.6 91.6h1v1h-1zM615.7 99.9h1v1h-1zM614.9 102.5h1v1h-1zM610.7 105.6h1v1h-1zM618.0 102.9h1v1h-1zM619.5 93.4h1v1h-1zM609.6 107.4h1v1h-1zM615.2 107.3h1v1h-1zM616.9 102.0h1v1h-1zM618.3 103.9h1v1h-1zM611.0 104.8h1v1h-1zM612.5 97.5h1v1h-1zM616.5 104.6h1v1h-1zM617.2 97.8h1v1h-1zM616.0 106.6h1v1h-1zM618.4 103.6h1v1h-1zM618.4 90.5h1v1h-1zM611.2 110.0h1v1h-1zM620.1 89.6h1v1h-1zM617.7 99.7h1v1h-1zM619.7 95.2h1v1h-1zM620.1 95.7h1v1h-1zM609.5 101.1h1v1h-1zM620.3 94.9h1v1h-1zM614.8 101.9h1v1h-1zM617.8 97.6h1v1h-1zM615.1 110.4h1v1h-1zM619.0 108.8h1v1h-1zM614.9 94.2h1v1h-1zM618.5 99.8h1v1h-1zM618.4 92.4h1v1h-1zM618.0 100.9h1v1h-1zM626.9 96.9h1v1h-1zM617.3 105.2h1v1h-1zM617.9 100.8h1v1h-1zM609.9 112.3h1v1h-1zM612.9 97.7h1v1h-1zM615.9 95.5h1v1h-1zM616.8 101.3h1v1h-1zM614.1 98.6h1v1h-1zM618.7 94.2h1v1h-1zM613.8 97.3h1v1h-1zM617.3 104.4h1v1h-1zM614.8 101.6h1v1h-1zM614.8 98.9h1v1h-1zM611.8 104.5h1v1h-1zM614.0 108.3h1v1h-1zM627.9 87.8h1v1h-1zM618.8 96.4h1v1h-1zM614.9 96.2h1v1h-1zM615.8 106.7h1v1h-1zM615.8 103.2h1v1h-1zM614.5 100.0h1v1h-1zM616.0 96.0h1v1h-1zM615.7 102.3h1v1h-1zM613.0 102.9h1v1h-1zM615.4 106.1h1v1h-1zM620.8 88.0h1v1h-1zM611.3 113.0h1v1h-1zM615.3 97.9h1v1h-1zM615.7 102.7h1v1h-1zM616.4 102.5h1v1h-1zM617.6 93.6h1v1h-1zM612.4 102.9h1v1h-1zM617.8 102.3h1v1h-1zM619.0 98.7h1v1h-1zM615.4 93.1h1v1h-1zM621.3 92.8h1v1h-1zM618.4 98.6h1v1h-1zM621.1 93.9h1v1h-1zM618.2 98.0h1v1h-1zM615.7 100.0h1v1h-1zM618.1 95.7h1v1h-1zM624.8 96.8h1v1h-1zM619.6 113.0h1v1h-1zM617.8 95.6h1v1h-1zM620.3 94.1h1v1h-1zM617.9 104.2h1v1h-1zM610.2 102.6h1v1h-1zM623.0 102.2h1v1h-1zM618.7 99.6h1v1h-1zM619.3 99.6h1v1h-1zM615.7 102.9h1v1h-1zM613.5 104.5h1v1h-1zM615.6 103.3h1v1h-1zM614.7 104.3h1v1h-1zM620.1 87.9h1v1h-1zM615.1 95.4h1v1h-1zM609.5 102.3h1v1h-1zM617.2 101.6h1v1h-1zM617.5 104.7h1v1h-1zM614.0 99.7h1v1h-1zM613.9 108.0h1v1h-1zM615.4 102.3h1v1h-1zM618.9 101.8h1v1h-1zM615.2 102.5h1v1h-1zM615.5 108.2h1v1h-1zM615.8 102.2h1v1h-1zM610.8 104.9h1v1h-1zM621.0 98.1h1v1h-1zM615.8 99.6h1v1h-1zM615.9 110.3h1v1h-1zM617.7 103.0h1v1h-1zM615.5 102.7h1v1h-1zM616.7 107.5h1v1h-1zM616.6 101.1h1v1h-1zM617.5 92.5h1v1h-1zM621.3 95.9h1v1h-1zM610.6 107.1h1v1h-1zM618.8 104.8h1v1h-1zM611.7 103.0h1v1h-1zM618.7 98.2h1v1h-1zM615.6 106.5h1v1h-1zM615.5 103.6h1v1h-1zM613.2 104.9h1v1h-1zM614.2 103.3h1v1h-1zM608.8 101.3h1v1h-1zM613.4 102.6h1v1h-1zM610.2 102.7h1v1h-1zM613.2 101.5h1v1h-1zM614.7 99.5h1v1h-1zM624.7 90.1h1v1h-1zM614.3 101.5h1v1h-1zM610.3 102.9h1v1h-1zM619.6 99.5h1v1h-1zM617.9 96.8h1v1h-1zM613.1 107.4h1v1h-1zM615.6 100.4h1v1h-1zM616.6 102.9h1v1h-1zM621.7 99.4h1v1h-1zM614.8 98.0h1v1h-1zM619.3 99.3h1v1h-1zM617.3 101.7h1v1h-1zM622.6 85.4h1v1h-1zM612.3 99.3h1v1h-1zM620.5 97.0h1v1h-1zM610.4 107.4h1v1h-1zM619.7 90.4h1v1h-1zM614.2 100.5h1v1h-1zM612.4 91.8h1v1h-1zM614.5 100.9h1v1h-1zM618.5 87.6h1v1h-1zM614.6 99.9h1v1h-1zM612.2 109.8h1v1h-1zM619.8 100.3h1v1h-1zM617.4 104.4h1v1h-1zM613.9 99.4h1v1h-1zM609.7 103.8h1v1h-1zM614.2 98.5h1v1h-1zM616.5 99.1h1v1h-1zM609.0 101.6h1v1h-1zM619.2 103.9h1v1h-1zM611.5 110.4h1v1h-1zM611.0 108.2h1v1h-1zM617.3 101.4h1v1h-1zM617.9 94.4h1v1h-1zM621.4 94.4h1v1h-1zM623.1 103.7h1v1h-1zM616.9 99.3h1v1h-1zM613.0 112.8h1v1h-1zM611.0 103.7h1v1h-1zM611.6 103.7h1v1h-1zM612.3 101.1h1v1h-1zM615.0 107.5h1v1h-1zM617.3 89.0h1v1h-1zM613.1 100.7h1v1h-1zM615.3 99.4h1v1h-1zM618.8 92.9h1v1h-1zM617.3 105.0h1v1h-1zM619.0 97.6h1v1h-1zM618.8 95.9h1v1h-1zM621.0 92.7h1v1h-1zM613.6 98.2h1v1h-1zM617.8 111.6h1v1h-1zM619.0 96.7h1v1h-1zM615.8 106.7h1v1h-1zM615.1 100.6h1v1h-1zM615.5 99.5h1v1h-1zM608.9 110.0h1v1h-1zM617.7 99.9h1v1h-1zM620.3 96.3h1v1h-1zM620.6 99.7h1v1h-1zM626.8 94.6h1v1h-1zM618.3 108.7h1v1h-1zM612.6 103.3h1v1h-1zM614.6 95.9h1v1h-1zM621.9 89.6h1v1h-1zM617.8 96.8h1v1h-1zM609.6 107.3h1v1h-1zM611.5 103.1h1v1h-1zM615.1 97.0h1v1h-1zM613.2 99.6h1v1h-1zM613.1 101.4h1v1h-1zM616.3 100.5h1v1h-1zM620.1 101.7h1v1h-1zM614.5 101.3h1v1h-1zM620.7 97.5h1v1h-1zM616.5 94.7h1v1h-1zM617.0 101.7h1v1h-1zM612.3 100.6h1v1h-1zM613.4 93.3h1v1h-1zM616.8 87.1h1v1h-1zM614.4 102.5h1v1h-1zM620.2 88.5h1v1h-1zM621.4 101.5h1v1h-1zM616.1 105.3h1v1h-1zM614.0 112.8h1v1h-1zM615.2 93.6h1v1h-1zM618.3 112.4h1v1h-1zM617.4 112.0h1v1h-1zM614.5 116.8h1v1h-1zM616.6 98.9h1v1h-1zM615.7 99.6h1v1h-1zM616.8 96.8h1v1h-1zM619.3 113.1h1v1h-1zM611.5 104.6h1v1h-1zM618.0 96.0h1v1h-1zM617.1 102.7h1v1h-1zM620.6 104.7h1v1h-1zM618.0 106.7h1v1h-1zM617.7 105.1h1v1h-1zM616.7 98.2h1v1h-1zM608.9 108.0h1v1h-1zM622.5 95.8h1v1h-1zM612.7 105.2h1v1h-1zM622.6 97.1h1v1h-1zM620.9 101.3h1v1h-1zM616.1 105.3h1v1h-1zM614.5 101.0h1v1h-1zM616.4 95.7h1v1h-1zM615.2 113.1h1v1h-1zM611.8 109.0h1v1h-1zM612.1 97.7h1v1h-1zM616.4 99.0h1v1h-1zM619.9 88.7h1v1h-1zM620.2 90.8h1v1h-1zM613.3 107.1h1v1h-1zM617.6 99.1h1v1h-1zM619.6 102.1h1v1h-1zM619.6 96.4h1v1h-1zM612.5 98.2h1v1h-1zM617.9 102.2h1v1h-1zM609.0 108.0h1v1h-1zM618.0 96.7h1v1h-1zM621.1 84.2h1v1h-1zM620.6 105.1h1v1h-1zM611.9 101.7h1v1h-1zM617.5 104.9h1v1h-1zM621.7 89.2h1v1h-1zM613.3 112.4h1v1h-1zM613.7 99.7h1v1h-1zM623.5 98.0h1v1h-1zM618.7 101.4h1v1h-1zM616.1 108.7h1v1h-1zM617.1 102.0h1v1h-1zM617.2 90.4h1v1h-1zM619.4 102.6h1v1h-1zM609.5 116.1h1v1h-1zM615.4 110.9h1v1h-1zM616.8 98.2h1v1h-1zM621.7 94.9h1v1h-1zM611.4 112.1h1v1h-1zM618.4 102.1h1v1h-1zM612.2 105.0h1v1h-1zM614.4 104.4h1v1h-1zM615.4 110.5h1v1h-1zM619.3 94.3h1v1h-1zM614.6 107.8h1v1h-1zM614.0 92.9h1v1h-1zM616.5 96.0h1v1h-1zM612.5 95.1h1v1h-1zM616.2 104.0h1v1h-1zM620.3 96.5h1v1h-1zM614.2 102.0h1v1h-1zM613.7 102.6h1v1h-1zM611.2 101.6h1v1h-1zM612.8 97.6h1v1h-1zM618.9 105.5h1v1h-1zM611.2 112.3h1v1h-1zM621.7 93.5h1v1h-1zM612.1 103.9h1v1h-1zM614.9 106.7h1v1h-1zM611.6 107.5h1v1h-1zM617.7 94.5h1v1h-1zM618.2 99.9h1v1h-1zM616.7 100.8h1v1h-1zM612.8 106.3h1v1h-1zM620.8 97.4h1v1h-1zM616.1 94.6h1v1h-1zM616.1 97.7h1v1h-1zM608.2 107.5h1v1h-1zM616.1 104.5h1v1h-1zM619.2 96.1h1v1h-1zM618.0 106.0h1v1h-1zM613.3 101.9h1v1h-1zM612.9 111.4h1v1h-1zM615.1 106.0h1v1h-1zM616.6 102.8h1v1h-1zM622.1 93.6h1v1h-1zM616.0 108.2h1v1h-1zM610.1 99.5h1v1h-1zM618.0 96.2h1v1h-1zM619.1 97.0h1v1h-1zM613.9 105.0h1v1h-1zM614.9 90.2h1v1h-1zM620.5 96.8h1v1h-1zM613.1 109.4h1v1h-1zM617.6 106.0h1v1h-1zM612.0 105.9h1v1h-1zM619.4 89.8h1v1h-1zM612.9 97.5h1v1h-1zM617.4 105.9h1v1h-1zM612.0 98.3h1v1h-1zM609.2 104.4h1v1h-1zM619.3 100.8h1v1h-1zM619.7 100.5h1v1h-1zM618.2 104.8h1v1h-1zM615.1 112.1h1v1h-1zM616.8 100.7h1v1h-1zM618.1 96.6h1v1h-1zM618.2 94.5h1v1h-1zM624.7 94.0h1v1h-1zM616.0 104.5h1v1h-1zM611.8 102.7h1v1h-1zM614.5 101.0h1v1h-1zM618.2 102.7h1v1h-1zM614.7 97.9h1v1h-1zM616.3 101.9h1v1h-1zM616.0 102.4h1v1h-1zM614.2 108.4h1v1h-1zM614.0 102.9h1v1h-1zM618.8 97.3h1v1h-1zM611.8 98.2h1v1h-1zM614.8 103.6h1v1h-1zM616.1 104.4h1v1h-1zM613.5 99.7h1v1h-1zM615.3 99.8h1v1h-1zM617.5 102.1h1v1h-1zM612.9 101.1h1v1h-1zM620.8 92.5h1v1h-1zM621.5 91.1h1v1h-1zM612.8 102.0h1v1h-1zM616.1 96.5h1v1h-1zM617.8 97.6h1v1h-1zM620.5 92.9h1v1h-1zM616.1 96.9h1v1h-1zM615.6 105.0h1v1h-1zM618.5 89.9h1v1h-1zM621.0 96.8h1v1h-1zM617.0 99.5h1v1h-1zM618.7 105.0h1v1h-1zM617.2 100.5h1v1h-1zM613.8 106.5h1v1h-1zM615.1 110.9h1v1h-1zM619.8 105.1h1v1h-1zM621.4 104.9h1v1h-1zM617.7 101.7h1v1h-1zM614.3 103.7h1v1h-1zM618.9 101.6h1v1h-1zM620.4 92.0h1v1h-1zM610.8 113.3h1v1h-1zM615.3 104.4h1v1h-1zM620.8 112.6h1v1h-1zM616.7 95.1h1v1h-1zM619.6 106.5h1v1h-1zM620.0 88.8h1v1h-1zM616.7 100.6h1v1h-1zM612.5 110.6h1v1h-1zM610.9 104.4h1v1h-1zM614.4 102.5h1v1h-1zM613.9 111.6h1v1h-1zM617.7 96.7h1v1h-1zM615.6 96.8h1v1h-1zM616.9 100.2h1v1h-1zM614.8 92.3h1v1h-1zM615.7 105.0h1v1h-1zM618.1 102.0h1v1h-1zM616.8 98.1h1v1h-1zM610.2 109.4h1v1h-1zM614.3 111.2h1v1h-1zM614.2 105.0h1v1h-1zM615.0 107.3h1v1h-1zM617.6 95.1h1v1h-1zM618.5 98.9h1v1h-1zM616.0 100.8h1v1h-1zM620.1 95.0h1v1h-1zM615.5 98.5h1v1h-1zM621.1 91.1h1v1h-1zM613.5 97.5h1v1h-1zM613.5 103.0h1v1h-1zM613.0 104.5h1v1h-1zM614.2 109.2h1v1h-1zM620.2 92.0h1v1h-1zM620.7 81.8h1v1h-1zM612.8 104.1h1v1h-1zM618.0 102.7h1v1h-1zM618.4 105.2h1v1h-1zM617.6 95.2h1v1h-1zM617.2 103.0h1v1h-1zM615.3 92.0h1v1h-1zM619.0 90.7h1v1h-1zM614.3 102.9h1v1h-1zM618.5 101.1h1v1h-1zM618.3 89.6h1v1h-1zM622.6 92.0h1v1h-1zM619.2 102.7h1v1h-1zM617.2 85.5h1v1h-1zM618.3 96.1h1v1h-1zM617.3 102.2h1v1h-1zM611.9 102.1h1v1h-1zM615.9 94.4h1v1h-1zM616.3 108.6h1v1h-1zM614.3 103.7h1v1h-1zM616.2 102.3h1v1h-1zM613.3 114.6h1v1h-1zM616.8 95.6h1v1h-1zM623.8 89.8h1v1h-1zM619.1 94.4h1v1h-1zM620.5 92.9h1v1h-1zM615.2 103.0h1v1h-1zM624.4 99.1h1v1h-1zM615.6 104.9h1v1h-1z" fill="#ff0000" fill-opacity="0.55"/>
<path d="M652.3 57.2h1v1h-1zM646.0 58.9h1v1h-1zM644.9 57.5h1v1h-1zM647.4 58.3h1v1h-1zM647.8 58.2h1v1h-1zM654.2 56.4h1v1h-1zM650.9 57.8h1v1h-1zM661.5 56.5h1v1h-1zM653.9 59.1h1v1h-1zM647.5 56.1h1v1h-1zM658.0 57.2h1v1h-1zM652.7 56.8h1v1h-1zM653.1 59.7h1v1h-1zM649.8 56.0h1v1h-1zM655.9 54.6h1v1h-1zM646.9 53.4h1v1h-1zM654.9 54.8h1v1h-1zM646.8 55.7h1v1h-1zM652.7 56.2h1v1h-1zM650.3 54.2h1v1h-1zM644.9 66.4h1v1h-1zM657.5 58.5h1v1h-1zM650.6 60.0h1v1h-1zM653.0 59.4h1v1h-1zM643.5 62.7h1v1h-1zM660.5 56.0h1v1h-1zM641.1 63.7h1v1h-1zM652.8 54.9h1v1h-1zM635.9 60.0h1v1h-1zM650.4 59.7h1v1h-1zM651.0 55.0h1v1h-1zM646.7 58.1h1v1h-1zM652.7 58.9h1v1h-1zM648.4 62.0h1v1h-1zM642.8 57.0h1v1h-1zM643.0 58.4h1v1h-1zM636.6 57.2h1v1h-1zM650.8 53.1h1v1h-1zM641.9 60.1h1v1h-1zM651.4 54.6h1v1h-1zM657.7 52.3h1v1h-1zM659.6 55.2h1v1h-1zM654.9 60.8h1v1h-1zM659.2 53.6h1v1h-1zM655.4 58.5h1v1h-1zM651.6 54.9h1v1h-1zM646.8 60.0h1v1h-1zM665.2 57.4h1v1h-1zM648.2 58.1h1v1h-1zM650.4 65.9h1v1h-1zM647.6 57.3h1v1h-1zM653.9 54.3h1v1h-1zM640.5 67.1h1v1h-1zM644.4 60.6h1v1h-1zM638.0 58.4h1v1h-1zM650.5 59.6h1v1h-1zM650.8 59.6h1v1h-1zM658.7 49.7h1v1h-1zM650.1 55.9h1v1h-1zM641.7 61.5h1v1h-1zM662.7 56.3h1v1h-1zM654.8 48.2h1v1h-1zM636.2 63.4h1v1h-1zM655.2 55.7h1v1h-1zM639.2 61.7h1v1h-1zM630.8 62.5h1v1h-1zM659.4 55.1h1v1h-1zM642.7 61.2h1v1h-1zM653.9 54.1h1v1h-1zM649.0 60.9h1v1h-1zM635.7 56.5h1v1h-1zM657.4 56.5h1v1h-1zM651.3 56.0h1v1h-1zM647.6 55.2h1v1h-1zM669.9 56.9h1v1h-1zM655.0 54.1h1v1h-1zM646.2 60.1h1v1h-1zM659.4 58.7h1v1h-1zM653.5 57.8h1v1h-1zM650.7 60.4h1v1h-1zM643.5 59.1h1v1h-1zM652.9 62.3h1v1h-1zM656.4 52.3h1v1h-1zM650.9 54.6h1v1h-1zM654.6 58.9h1v1h-1zM630.1 65.2h1v1h-1zM655.2 54.7h1v1h-1zM660.1 56.2h1v1h-1zM637.9 60.8h1v1h-1zM661.8 60.7h1v1h-1zM647.4 57.7h1v1h-1zM642.0 60.0h1v1h-1zM650.8 55.3h1v1h-1zM660.8 53.7h1v1h-1zM640.6 60.9h1v1h-1zM646.8 54.0h1v1h-1zM628.8 61.5h1v1h-1zM650.5 63.2h1v1h-1zM649.0 51.5h1v1h-1zM644.2 54.8h1v1h-1zM652.2 58.1h1v1h-1zM640.8 65.0h1v1h-1zM638.8 59.0h1v1h-1zM653.8 58.4h1v1h-1zM647.3 56.9h1v1h-1zM651.4 53.6h1v1h-1zM653.9 51.8h1v1h-1zM648.0 56.9h1v1h-1zM637.6 61.6h1v1h-1zM649.7 58.7h1v1h-1zM645.5 58.9h1v1h-1zM660.7 53.1h1v1h-1zM653.3 59.1h1v1h-1zM643.5 62.7h1v1h-1zM648.1 59.6h1v1h-1zM658.4 60.8h1v1h-1zM656.5 54.2h1v1h-1zM649.3 58.2h1v1h-1zM654.7 57.6h1v1h-1zM645.1 61.0h1v1h-1zM662.7 55.0h1v1h-1zM659.7 54.5h1v1h-1zM642.3 60.5h1v1h-1zM665.4 52.5h1v1h-1zM639.4 60.7h1v1h-1zM656.9 58.5h1v1h-1zM648.4 59.0h1v1h-1zM636.2 68.7h1v1h-1zM653.1 56.3h1v1h-1zM647.5 54.9h1v1h-1zM649.1 55.3h1v1h-1zM654.4 52.1h1v1h-1zM638.3 56.1h1v1h-1zM661.6 55.1h1v1h-1zM660.8 54.8h1v1h-1zM655.6 54.7h1v1h-1zM646.5 63.3h1v1h-1zM650.7 55.9h1v1h-1zM649.7 57.3h1v1h-1zM654.0 54.3h1v1h-1zM652.9 55.0h1v1h-1zM651.7 55.8h1v1h-1zM643.1 59.6h1v1h-1zM652.9 62.9h1v1h-1zM634.9 61.2h1v1h-1zM652.6 54.1h1v1h-1zM647.8 56.8h1v1h-1zM646.1 62.0h1v1h-1zM656.8 58.0h1v1h-1zM646.6 49.6h1v1h-1zM658.3 56.2h1v1h-1zM654.1 55.8h1v1h-1zM648.9 55.8h1v1h-1zM643.9 59.7h1v1h-1zM649.8 54.0h1v1h-1zM644.6 62.4h1v1h-1zM652.9 58.2h1v1h-1zM654.6 55.2h1v1h-1zM646.0 57.2h1v1h-1zM651.6 58.8h1v1h-1zM658.8 58.0h1v1h-1zM662.6 52.6h1v1h-1zM642.9 62.3h1v1h-1zM650.6 57.5h1v1h-1zM648.7 56.7h1v1h-1zM650.7 60.5h1v1h-1zM647.0 55.7h1v1h-1zM656.2 51.4h1v1h-1zM642.6 62.4h1v1h-1zM644.2 56.7h1v1h-1zM636.6 55.3h1v1h-1zM643.8 61.8h1v1h-1zM658.2 56.2h1v1h-1zM659.8 54.1h1v1h-1zM657.4 57.8h1v1h-1zM641.8 65.7h1v1h-1zM662.2 56.5h1v1h-1zM653.4 57.8h1v1h-1zM661.5 48.8h1v1h-1zM662.3 58.5h1v1h-1zM661.4 57.4h1v1h-1zM651.8 59.3h1v1h-1zM655.4 59.7h1v1h-1zM650.4 57.4h1v1h-1zM649.5 57.5h1v1h-1zM660.1 55.1h1v1h-1zM648.1 58.3h1v1h-1zM655.3 55.9h1v1h-1zM658.9 56.7h1v1h-1zM654.9 57.6h1v1h-1zM648.6 59.7h1v1h-1zM649.3 59.0h1v1h-1zM658.9 58.6h1v1h-1zM649.8 58.4h1v1h-1zM651.1 62.4h1v1h-1zM656.5 60.9h1v1h-1zM630.7 62.4h1v1h-1zM653.9 51.7h1v1h-1zM647.9 58.3h1v1h-1zM659.0 53.4h1v1h-1zM666.6 55.7h1v1h-1zM662.4 54.0h1v1h-1zM648.9 60.5h1v1h-1zM650.6 56.2h1v1h-1zM647.9 56.1h1v1h-1zM656.2 51.5h1v1h-1zM650.6 54.8h1v1h-1zM648.7 60.9h1v1h-1zM655.2 57.5h1v1h-1zM649.6 57.3h1v1h-1zM640.4 59.8h1v1h-1zM643.9 58.1h1v1h-1zM638.3 60.2h1v1h-1zM655.3 55.8h1v1h-1zM650.8 59.3h1v1h-1zM656.9 60.8h1v1h-1zM651.2 60.1h1v1h-1zM657.7 56.9h1v1h-1zM655.1 59.4h1v1h-1zM653.9 55.2h1v1h-1zM650.8 57.5h1v1h-1zM651.6 57.4h1v1h-1zM645.9 61.7h1v1h-1zM638.8 61.0h1v1h-1zM656.4 61.5h1v1h-1zM651.6 60.1h1v1h-1zM650.0 58.2h1v1h-1zM658.3 48.9h1v1h-1zM652.8 56.8h1v1h-1zM654.9 56.6h1v1h-1zM650.8 56.7h1v1h-1zM648.2 57.5h1v1h-1zM659.1 56.3h1v1h-1zM649.9 55.4h1v1h-1zM663.5 54.8h1v1h-1zM649.2 61.4h1v1h-1zM655.3 58.6h1v1h-1zM643.4 57.5h1v1h-1zM643.4 64.6h1v1h-1zM654.5 59.3h1v1h-1zM655.0 57.8h1v1h-1zM676.7 49.6h1v1h-1zM639.6 63.1h1v1h-1zM646.1 68.8h1v1h-1zM651.8 54.7h1v1h-1zM678.3 48.2h1v1h-1zM662.7 59.8h1v1h-1zM651.8 53.6h1v1h-1zM650.4 58.9h1v1h-1zM651.4 61.6h1v1h-1zM651.1 57.9h1v1h-1zM645.3 56.3h1v1h-1zM648.7 57.3h1v1h-1zM643.1 61.6h1v1h-1zM667.2 56.5h1v1h-1zM648.5 58.2h1v1h-1zM661.8 60.1h1v1h-1zM655.8 57.4h1v1h-1zM657.0 58.3h1v1h-1zM655.4 55.7h1v1h-1zM643.6 59.0h1v1h-1zM653.6 60.9h1v1h-1zM663.6 57.3h1v1h-1zM638.6 60.0h1v1h-1zM641.9 56.8h1v1h-1zM650.9 58.5h1v1h-1zM658.8 49.5h1v1h-1zM640.4 53.3h1v1h-1zM646.6 58.0h1v1h-1zM652.7 60.9h1v1h-1zM651.0 57.9h1v1h-1zM644.9 59.8h1v1h-1zM661.5 56.3h1v1h-1zM635.2 58.3h1v1h-1zM649.0 54.7h1v1h-1zM664.9 57.1h1v1h-1zM651.8 57.6h1v1h-1zM650.4 59.4h1v1h-1zM644.4 60.2h1v1h-1zM648.3 51.0h1v1h-1zM659.9 54.5h1v1h-1zM654.3 52.7h1v1h-1zM650.3 58.2h1v1h-1zM640.3 58.2h1v1h-1zM646.0 56.0h1v1h-1zM650.5 52.1h1v1h-1zM665.3 57.0h1v1h-1zM668.3 53.5h1v1h-1zM655.1 54.9h1v1h-1zM653.0 57.6h1v1h-1zM648.1 56.4h1v1h-1zM651.5 54.8h1v1h-1zM654.3 52.4h1v1h-1zM658.5 51.8h1v1h-1zM655.0 60.4h1v1h-1zM644.9 56.6h1v1h-1zM661.8 50.4h1v1h-1zM660.5 61.2h1v1h-1zM652.2 52.1h1v1h-1zM646.9 56.7h1v1h-1zM637.6 63.5h1v1h-1zM644.5 60.7h1v1h-1zM648.9 56.1h1v1h-1zM651.4 63.0h1v1h-1zM641.3 60.2h1v1h-1zM648.4 58.4h1v1h-1zM659.9 55.0h1v1h-1zM649.6 59.1h1v1h-1zM651.0 62.6h1v1h-1zM644.9 56.7h1v1h-1zM658.5 54.0h1v1h-1zM653.4 59.0h1v1h-1zM634.3 59.7h1v1h-1zM661.9 53.4h1v1h-1zM649.3 60.4h1v1h-1zM653.7 61.3h1v1h-1zM647.7 62.9h1v1h-1zM644.8 62.3h1v1h-1zM642.8 57.8h1v1h-1zM670.5 57.2h1v1h-1zM658.9 53.5h1v1h-1zM645.1 64.4h1v1h-1zM641.0 59.1h1v1h-1zM643.8 56.9h1v1h-1zM654.6 61.1h1v1h-1zM658.6 50.4h1v1h-1zM656.8 58.2h1v1h-1zM657.3 55.1h1v1h-1zM645.9 53.1h1v1h-1zM632.3 58.9h1v1h-1zM637.5 56.6h1v1h-1zM651.8 58.8h1v1h-1zM643.7 62.8h1v1h-1zM647.6 52.4h1v1h-1zM649.6 56.8h1v1h-1zM657.2 59.2h1v1h-1zM662.8 60.7h1v1h-1zM648.3 57.1h1v1h-1zM647.6 61.4h1v1h-1zM654.4 58.6h1v1h-1zM647.6 56.5h1v1h-1zM647.9 56.4h1v1h-1zM647.3 57.0h1v1h-1zM645.9 61.6h1v1h-1zM641.7 61.1h1v1h-1zM658.1 54.4h1v1h-1zM662.0 58.7h1v1h-1zM660.9 58.7h1v1h-1zM645.3 57.3h1v1h-1zM655.1 54.9h1v1h-1zM654.7 55.2h1v1h-1zM664.5 58.9h1v1h-1zM648.5 59.2h1v1h-1zM639.2 60.1h1v1h-1zM653.1 53.3h1v1h-1zM657.5 57.1h1v1h-1zM651.2 54.6h1v1h-1zM654.4 51.6h1v1h-1zM661.7 56.7h1v1h-1zM650.1 56.5h1v1h-1zM652.9 59.7h1v1h-1zM649.5 59.1h1v1h-1zM659.7 56.5h1v1h-1zM660.0 56.2h1v1h-1zM655.8 59.2h1v1h-1zM650.2 52.4h1v1h-1zM653.4 57.6h1v1h-1zM646.8 61.3h1v1h-1zM650.5 62.8h1v1h-1zM661.3 54.0h1v1h-1zM662.1 52.5h1v1h-1zM660.6 52.4h1v1h-1zM644.4 58.1h1v1h-1zM641.6 60.3h1v1h-1zM647.5 62.0h1v1h-1zM655.8 55.3h1v1h-1zM644.1 59.4h1v1h-1zM657.8 64.3h1v1h-1zM665.0 53.9h1v1h-1zM649.7 56.7h1v1h-1zM648.3 57.8h1v1h-1zM649.9 57.9h1v1h-1zM654.3 57.7h1v1h-1zM661.4 55.5h1v1h-1zM660.6 58.3h1v1h-1zM639.3 58.1h1v1h-1zM662.8 49.5h1v1h-1zM655.2 55.1h1v1h-1zM650.6 59.6h1v1h-1zM653.1 54.4h1v1h-1zM631.3 62.0h1v1h-1zM649.5 55.5h1v1h-1zM649.4 57.5h1v1h-1zM647.2 57.9h1v1h-1zM661.9 50.6h1v1h-1zM645.7 60.3h1v1h-1zM652.4 58.7h1v1h-1zM640.5 56.9h1v1h-1zM643.7 64.4h1v1h-1zM641.5 58.4h1v1h-1zM646.6 57.9h1v1h-1zM658.6 53.3h1v1h-1zM654.9 55.1h1v1h-1zM650.8 53.3h1v1h-1zM665.5 51.5h1v1h-1zM644.2 59.0h1v1h-1zM648.1 56.3h1v1h-1zM656.5 55.6h1v1h-1zM650.1 58.7h1v1h-1zM637.8 64.1h1v1h-1zM645.5 53.6h1v1h-1zM654.0 56.0h1v1h-1zM659.8 55.9h1v1h-1zM654.3 56.0h1v1h-1zM649.7 55.3h1v1h-1zM648.1 56.3h1v1h-1zM651.7 58.0h1v1h-1zM633.6 57.6h1v1h-1zM640.3 60.1h1v1h-1zM657.6 54.7h1v1h-1zM657.4 58.5h1v1h-1zM646.7 60.3h1v1h-1zM644.1 55.7h1v1h-1zM665.1 55.6h1v1h-1zM652.6 54.3h1v1h-1zM644.0 64.9h1v1h-1zM641.1 58.6h1v1h-1zM636.6 65.5h1v1h-1zM659.9 56.4h1v1h-1zM650.9 53.9h1v1h-1zM648.4 59.1h1v1h-1zM661.5 45.9h1v1h-1zM658.9 53.4h1v1h-1zM659.6 53.8h1v1h-1zM642.6 59.8h1v1h-1zM657.5 51.0h1v1h-1zM656.6 53.5h1v1h-1zM654.3 59.0h1v1h-1zM663.1 54.8h1v1h-1zM643.5 59.9h1v1h-1zM649.7 54.7h1v1h-1zM656.8 61.1h1v1h-1zM650.3 58.6h1v1h-1zM652.2 51.5h1v1h-1zM651.3 57.7h1v1h-1zM656.3 60.2h1v1h-1zM644.5 54.6h1v1h-1zM652.3 53.7h1v1h-1zM651.0 49.1h1v1h-1zM649.9 58.1h1v1h-1zM660.0 59.9h1v1h-1zM647.5 58.2h1v1h-1zM649.8 57.0h1v1h-1zM655.4 55.1h1v1h-1zM646.5 55.5h1v1h-1zM660.2 58.5h1v1h-1zM656.5 56.6h1v1h-1zM658.9 55.2h1v1h-1zM655.9 54.2h1v1h-1zM652.1 57.9h1v1h-1zM654.0 60.7h1v1h-1zM648.9 56.5h1v1h-1zM650.6 58.5h1v1h-1zM644.8 56.9h1v1h-1zM662.6 49.9h1v1h-1zM666.0 56.9h1v1h-1zM666.3 57.5h1v1h-1zM651.0 59.3h1v1h-1zM663.4 53.0h1v1h-1zM643.5 56.6h1v1h-1zM640.8 61.1h1v1h-1zM652.7 60.6h1v1h-1zM652.7 57.6h1v1h-1zM647.5 54.3h1v1h-1zM649.7 60.7h1v1h-1zM645.3 63.0h1v1h-1zM648.3 55.3h1v1h-1zM637.5 55.5h1v1h-1zM645.5 52.0h1v1h-1zM654.5 62.7h1v1h-1zM664.0 59.3h1v1h-1zM653.3 54.6h1v1h-1zM652.6 56.3h1v1h-1zM648.0 60.0h1v1h-1zM647.3 59.0h1v1h-1zM653.9 61.8h1v1h-1zM643.0 58.9h1v1h-1zM649.6 58.9h1v1h-1zM639.2 60.7h1v1h-1zM650.2 59.4h1v1h-1zM647.8 55.8h1v1h-1zM660.3 57.5h1v1h-1zM648.4 58.6h1v1h-1zM652.3 54.9h1v1h-1zM652.5 54.5h1v1h-1zM657.5 54.8h1v1h-1zM646.7 56.4h1v1h-1zM647.3 60.7h1v1h-1zM650.2 56.0h1v1h-1zM647.3 60.0h1v1h-1zM636.0 60.9h1v1h-1zM645.2 62.2h1v1h-1zM638.0 55.4h1v1h-1zM648.0 57.6h1v1h-1zM653.3 49.7h1v1h-1zM657.2 54.7h1v1h-1zM645.8 55.9h1v1h-1zM647.1 54.5h1v1h-1zM652.1 58.3h1v1h-1zM656.2 54.4h1v1h-1zM651.3 62.3h1v1h-1zM650.3 53.9h1v1h-1zM651.6 59.8h1v1h-1zM639.8 61.1h1v1h-1zM648.8 58.7h1v1h-1zM647.6 59.4h1v1h-1zM654.1 59.2h1v1h-1zM654.9 51.2h1v1h-1zM655.3 54.5h1v1h-1zM647.9 55.2h1v1h-1zM669.4 49.2h1v1h-1zM654.1 53.5h1v1h-1zM659.4 57.6h1v1h-1zM656.7 58.8h1v1h-1zM646.9 60.4h1v1h-1zM651.6 55.6h1v1h-1zM644.0 57.5h1v1h-1zM648.2 58.5h1v1h-1zM654.2 50.1h1v1h-1zM651.3 58.9h1v1h-1zM656.1 59.8h1v1h-1zM653.0 55.1h1v1h-1zM645.3 55.2h1v1h-1zM648.7 63.9h1v1h-1zM646.6 57.7h1v1h-1zM646.0 61.8h1v1h-1zM651.5 58.1h1v1h-1zM646.8 61.5h1v1h-1zM653.7 57.2h1v1h-1zM641.9 60.2h1v1h-1zM653.6 62.5h1v1h-1zM659.1 55.0h1v1h-1zM646.3 61.5h1v1h-1zM657.4 56.2h1v1h-1zM647.4 56.2h1v1h-1zM649.1 57.6h1v1h-1zM656.2 52.1h1v1h-1zM651.0 58.8h1v1h-1zM656.7 53.9h1v1h-1zM657.9 50.4h1v1h-1zM652.7 57.5h1v1h-1zM643.8 55.5h1v1h-1zM646.8 58.8h1v1h-1zM655.3 57.6h1v1h-1zM654.6 60.0h1v1h-1zM653.7 58.5h1v1h-1zM634.5 61.9h1v1h-1zM651.0 59.0h1v1h-1zM653.2 56.7h1v1h-1zM644.0 56.5h1v1h-1zM642.6 57.7h1v1h-1zM660.5 60.1h1v1h-1zM659.3 54.1h1v1h-1zM646.5 58.5h1v1h-1zM641.5 60.0h1v1h-1zM652.3 57.1h1v1h-1zM652.0 59.6h1v1h-1zM653.2 59.8h1v1h-1zM648.0 57.3h1v1h-1zM644.0 54.3h1v1h-1zM647.5 57.1h1v1h-1zM653.8 52.6h1v1h-1zM649.3 64.0h1v1h-1zM649.5 58.4h1v1h-1zM660.9 59.1h1v1h-1zM646.8 57.8h1v1h-1zM642.6 60.2h1v1h-1zM656.6 57.3h1v1h-1zM652.9 61.6h1v1h-1zM654.6 58.2h1v1h-1zM653.1 57.4h1v1h-1zM655.7 55.3h1v1h-1zM660.2 54.9h1v1h-1zM649.2 59.3h1v1h-1zM650.3 60.4h1v1h-1zM657.2 55.0h1v1h-1zM655.0 52.0h1v1h-1zM654.5 50.9h1v1h-1zM654.0 58.3h1v1h-1zM647.7 53.3h1v1h-1zM639.5 62.3h1v1h-1zM656.5 51.9h1v1h-1zM649.3 58.2h1v1h-1zM654.6 55.3h1v1h-1zM650.9 58.7h1v1h-1zM639.4 57.3h1v1h-1zM655.8 56.9h1v1h-1zM650.3 48.7h1v1h-1zM650.5 62.2h1v1h-1zM644.6 63.3h1v1h-1z" fill="#ff0000" fill-opacity="0.5"/>
<path d="M654.1 66.4h1v1h-1zM674.8 45.7h1v1h-1zM662.1 38.4h1v1h-1zM651.3 57.2h1v1h-1zM654.4 62.0h1v1h-1zM651.8 68.0h1v1h-1zM662.8 52.2h1v1h-1zM673.9 57.4h1v1h-1zM663.6 46.5h1v1h-1zM662.4 61.0h1v1h-1zM648.7 54.2h1v1h-1zM674.2 55.2h1v1h-1zM655.4 55.2h1v1h-1zM649.1 55.9h1v1h-1zM651.5 71.1h1v1h-1zM677.7 60.2h1v1h-1zM653.7 53.3h1v1h-1zM661.0 65.0h1v1h-1zM641.9 60.8h1v1h-1zM662.1 73.7h1v1h-1zM650.3 61.5h1v1h-1zM651.6 67.5h1v1h-1zM660.6 49.4h1v1h-1zM679.9 59.6h1v1h-1zM666.3 46.1h1v1h-1zM682.8 65.3h1v1h-1zM632.4 66.2h1v1h-1zM642.0 69.5h1v1h-1zM680.2 60.8h1v1h-1zM652.9 61.2h1v1h-1zM654.9 50.2h1v1h-1zM643.1 68.7h1v1h-1zM662.7 56.8h1v1h-1zM678.3 63.7h1v1h-1zM654.7 64.7h1v1h-1zM655.4 66.3h1v1h-1zM642.3 75.8h1v1h-1zM652.2 55.9h1v1h-1zM675.2 63.1h1v1h-1zM654.9 77.7h1v1h-1zM646.4 52.3h1v1h-1zM646.6 60.1h1v1h-1zM644.4 55.7h1v1h-1zM654.6 59.7h1v1h-1zM662.7 48.5h1v1h-1zM648.7 54.4h1v1h-1zM683.9 44.1h1v1h-1zM662.7 58.8h1v1h-1zM663.1 60.9h1v1h-1zM653.5 62.2h1v1h-1zM659.0 63.3h1v1h-1zM635.0 68.3h1v1h-1zM653.1 62.1h1v1h-1zM642.4 56.5h1v1h-1zM667.5 59.7h1v1h-1zM675.8 61.6h1v1h-1zM661.2 54.0h1v1h-1zM666.5 43.3h1v1h-1zM665.7 43.6h1v1h-1zM674.9 45.6h1v1h-1zM656.6 56.0h1v1h-1zM651.0 50.7h1v1h-1zM660.9 55.6h1v1h-1zM654.2 56.9h1v1h-1zM650.4 56.2h1v1h-1zM650.1 73.8h1v1h-1zM643.9 63.4h1v1h-1zM658.0 64.3h1v1h-1zM662.1 51.6h1v1h-1zM663.0 55.2h1v1h-1zM666.0 70.4h1v1h-1zM622.4 70.0h1v1h-1zM677.6 56.8h1v1h-1zM656.2 49.9h1v1h-1zM649.8 60.5h1v1h-1zM670.4 50.6h1v1h-1zM640.3 57.5h1v1h-1zM656.6 56.4h1v1h-1zM669.3 53.4h1v1h-1zM646.3 77.2h1v1h-1zM663.1 57.4h1v1h-1zM659.2 60.5h1v1h-1zM651.4 67.2h1v1h-1zM654.6 44.8h1v1h-1zM636.0 69.2h1v1h-1zM660.9 60.7h1v1h-1zM655.4 62.9h1v1h-1zM687.9 64.0h1v1h-1zM665.6 66.0h1v1h-1zM649.4 56.4h1v1h-1zM657.4 67.6h1v1h-1zM645.1 66.5h1v1h-1zM665.6 62.8h1v1h-1zM638.1 69.2h1v1h-1zM684.6 56.9h1v1h-1zM661.0 69.9h1v1h-1zM664.7 47.6h1v1h-1zM663.9 71.1h1v1h-1zM644.7 67.2h1v1h-1zM621.2 61.6h1v1h-1zM668.2 46.3h1v1h-1zM654.5 54.9h1v1h-1zM678.8 60.3h1v1h-1zM660.4 70.2h1v1h-1zM637.7 58.2h1v1h-1zM652.8 57.6h1v1h-1zM680.7 75.9h1v1h-1zM650.1 60.2h1v1h-1zM634.7 63.3h1v1h-1zM657.8 69.9h1v1h-1zM661.3 63.5h1v1h-1zM650.1 52.2h1v1h-1zM646.1 64.9h1v1h-1zM654.9 69.1h1v1h-1zM672.1 49.5h1v1h-1zM669.7 52.8h1v1h-1zM651.6 66.9h1v1h-1zM658.0 59.8h1v1h-1zM638.4 51.3h1v1h-1zM676.0 69.9h1v1h-1zM671.7 53.8h1v1h-1zM660.0 70.8h1v1h-1zM642.6 59.2h1v1h-1zM678.7 62.1h1v1h-1zM659.3 48.8h1v1h-1zM639.7 54.1h1v1h-1zM672.6 62.8h1v1h-1zM678.5 69.2h1v1h-1zM631.2 49.4h1v1h-1zM661.4 66.5h1v1h-1zM649.1 68.6h1v1h-1zM681.7 67.0h1v1h-1zM664.1 55.0h1v1h-1zM664.2 66.3h1v1h-1zM664.1 57.1h1v1h-1zM674.0 44.8h1v1h-1zM648.9 53.1h1v1h-1zM676.2 61.8h1v1h-1zM659.9 60.3h1v1h-1zM646.4 65.6h1v1h-1zM641.8 69.4h1v1h-1zM666.7 57.1h1v1h-1zM658.4 53.0h1v1h-1zM653.5 54.8h1v1h-1zM653.9 61.4h1v1h-1zM670.6 70.5h1v1h-1zM636.5 79.6h1v1h-1zM637.3 78.4h1v1h-1zM653.8 78.7h1v1h-1zM657.4 58.4h1v1h-1zM653.8 55.2h1v1h-1zM661.8 75.5h1v1h-1zM679.8 41.5h1v1h-1zM658.0 72.5h1v1h-1zM660.3 68.6h1v1h-1zM662.7 58.3h1v1h-1zM649.6 46.1h1v1h-1zM672.7 51.1h1v1h-1zM658.2 64.0h1v1h-1zM662.6 65.2h1v1h-1zM672.6 62.1h1v1h-1zM642.4 65.1h1v1h-1zM672.3 64.8h1v1h-1zM634.9 68.9h1v1h-1zM665.2 61.9h1v1h-1zM637.0 59.7h1v1h-1zM684.0 54.8h1v1h-1zM634.9 64.2h1v1h-1zM654.4 53.9h1v1h-1zM678.8 60.4h1v1h-1zM635.4 65.8h1v1h-1zM665.6 49.1h1v1h-1zM632.5 59.1h1v1h-1zM661.4 62.2h1v1h-1zM643.9 61.8h1v1h-1zM676.0 50.7h1v1h-1zM672.0 56.1h1v1h-1zM670.4 59.5h1v1h-1zM673.1 54.5h1v1h-1zM648.6 69.6h1v1h-1zM685.5 56.2h1v1h-1zM658.3 58.9h1v1h-1zM667.2 44.9h1v1h-1zM658.5 69.4h1v1h-1zM683.4 51.5h1v1h-1zM650.7 69.0h1v1h-1zM682.8 55.1h1v1h-1zM662.0 62.9h1v1h-1zM654.6 48.4h1v1h-1zM628.9 70.0h1v1h-1zM659.6 42.1h1v1h-1zM633.5 56.4h1v1h-1zM659.0 67.7h1v1h-1zM639.0 61.7h1v1h-1zM656.9 65.2h1v1h-1zM648.7 42.5h1v1h-1zM653.3 56.1h1v1h-1zM647.2 51.9h1v1h-1zM660.2 58.2h1v1h-1zM656.2 50.0h1v1h-1zM668.5 59.6h1v1h-1zM616.3 68.3h1v1h-1zM644.8 66.1h1v1h-1zM634.0 48.6h1v1h-1zM663.4 52.6h1v1h-1zM664.1 63.3h1v1h-1zM621.3 51.7h1v1h-1zM671.1 58.7h1v1h-1zM677.0 52.6h1v1h-1zM665.8 50.9h1v1h-1zM656.7 53.7h1v1h-1zM656.5 73.5h1v1h-1zM671.2 59.4h1v1h-1zM662.3 51.6h1v1h-1zM650.1 65.2h1v1h-1zM662.5 63.8h1v1h-1zM679.8 53.3h1v1h-1zM652.8 44.2h1v1h-1zM629.9 62.6h1v1h-1zM665.5 64.5h1v1h-1zM644.8 65.2h1v1h-1zM651.2 57.2h1v1h-1zM678.7 42.2h1v1h-1zM663.1 69.4h1v1h-1zM675.4 62.9h1v1h-1zM673.5 56.2h1v1h-1zM635.8 61.3h1v1h-1zM675.9 70.9h1v1h-1zM638.6 79.1h1v1h-1zM658.3 74.0h1v1h-1zM664.3 68.4h1v1h-1zM662.5 63.8h1v1h-1zM642.2 59.8h1v1h-1zM678.6 58.2h1v1h-1zM653.8 61.9h1v1h-1zM643.3 57.8h1v1h-1zM682.2 42.2h1v1h-1zM662.6 45.5h1v1h-1zM659.4 59.0h1v1h-1zM681.8 58.1h1v1h-1zM666.2 41.9h1v1h-1zM647.1 59.5h1v1h-1zM651.5 68.1h1v1h-1zM678.6 56.6h1v1h-1zM628.2 78.4h1v1h-1zM660.9 63.7h1v1h-1zM647.4 68.9h1v1h-1zM667.7 58.8h1v1h-1zM682.8 62.7h1v1h-1zM662.5 60.2h1v1h-1zM634.3 68.4h1v1h-1zM669.8 57.5h1v1h-1zM645.5 55.2h1v1h-1zM637.5 72.0h1v1h-1zM642.9 57.1h1v1h-1zM673.7 67.5h1v1h-1zM654.9 58.6h1v1h-1zM655.6 63.3h1v1h-1zM636.9 64.7h1v1h-1zM645.9 53.9h1v1h-1zM630.5 70.0h1v1h-1zM655.1 57.6h1v1h-1zM661.9 64.4h1v1h-1zM684.5 69.9h1v1h-1zM660.6 73.5h1v1h-1zM668.6 44.0h1v1h-1zM674.0 56.6h1v1h-1zM650.4 65.1h1v1h-1zM625.4 64.6h1v1h-1zM677.3 51.0h1v1h-1zM673.3 56.6h1v1h-1zM657.8 55.5h1v1h-1zM660.1 62.1h1v1h-1zM672.7 65.1h1v1h-1zM673.7 59.8h1v1h-1zM686.9 54.7h1v1h-1zM652.4 69.6h1v1h-1zM672.4 54.1h1v1h-1zM669.8 66.8h1v1h-1zM662.7 58.3h1v1h-1zM659.8 53.4h1v1h-1zM640.1 63.5h1v1h-1zM666.1 66.9h1v1h-1zM664.1 59.1h1v1h-1zM680.4 48.2h1v1h-1zM639.8 67.6h1v1h-1zM655.9 52.3h1v1h-1zM655.8 61.2h1v1h-1zM653.1 60.2h1v1h-1zM666.0 66.2h1v1h-1zM661.3 59.7h1v1h-1zM656.8 57.7h1v1h-1zM637.1 63.7h1v1h-1zM642.5 69.5h1v1h-1zM646.3 58.4h1v1h-1zM648.9 73.1h1v1h-1zM648.8 76.4h1v1h-1zM664.5 46.7h1v1h-1zM651.8 68.2h1v1h-1zM660.6 62.4h1v1h-1zM666.4 57.0h1v1h-1zM652.1 61.5h1v1h-1zM635.8 71.3h1v1h-1zM660.3 50.9h1v1h-1zM634.5 51.8h1v1h-1zM668.3 59.2h1v1h-1zM676.0 54.7h1v1h-1zM636.0 73.4h1v1h-1zM662.2 62.3h1v1h-1zM653.1 73.5h1v1h-1zM663.0 51.8h1v1h-1zM655.1 62.5h1v1h-1zM670.9 43.6h1v1h-1zM669.1 59.8h1v1h-1zM663.8 46.2h1v1h-1zM644.4 62.8h1v1h-1zM687.2 56.0h1v1h-1zM664.3 66.0h1v1h-1zM663.2 65.7h1v1h-1zM632.9 55.4h1v1h-1zM658.7 57.6h1v1h-1zM665.5 59.1h1v1h-1zM647.8 62.5h1v1h-1zM652.4 59.2h1v1h-1zM653.9 62.8h1v1h-1zM655.0 65.5h1v1h-1zM645.6 74.6h1v1h-1zM651.2 56.7h1v1h-1zM671.8 56.0h1v1h-1zM660.8 83.0h1v1h-1zM656.5 46.0h1v1h-1zM657.1 51.3h1v1h-1zM661.5 52.6h1v1h-1zM658.5 69.7h1v1h-1zM642.7 64.3h1v1h-1zM634.5 68.6h1v1h-1zM642.9 34.1h1v1h-1zM671.8 52.3h1v1h-1zM664.0 52.2h1v1h-1zM666.1 50.0h1v1h-1zM645.3 52.9h1v1h-1zM670.9 59.8h1v1h-1zM631.0 75.0h1v1h-1zM673.6 59.5h1v1h-1zM656.1 71.6h1v1h-1zM683.3 57.1h1v1h-1zM666.0 39.1h1v1h-1zM637.5 71.1h1v1h-1zM650.4 53.2h1v1h-1zM642.2 67.0h1v1h-1zM658.1 57.6h1v1h-1zM665.5 65.1h1v1h-1zM638.7 57.5h1v1h-1zM656.4 51.6h1v1h-1zM654.5 54.0h1v1h-1zM638.2 57.1h1v1h-1zM648.5 61.1h1v1h-1zM664.6 50.1h1v1h-1zM625.9 58.5h1v1h-1zM652.0 49.7h1v1h-1zM663.1 40.7h1v1h-1zM647.7 66.8h1v1h-1zM659.1 67.8h1v1h-1zM634.0 55.5h1v1h-1zM636.9 61.2h1v1h-1zM663.5 59.6h1v1h-1zM649.6 56.5h1v1h-1zM670.2 54.6h1v1h-1zM665.2 59.6h1v1h-1zM668.4 64.0h1v1h-1zM626.9 62.3h1v1h-1zM674.5 49.3h1v1h-1zM668.1 67.7h1v1h-1zM640.0 72.8h1v1h-1zM663.9 52.5h1v1h-1zM673.2 53.3h1v1h-1zM652.2 59.0h1v1h-1zM672.3 63.7h1v1h-1zM630.3 65.2h1v1h-1zM660.6 68.3h1v1h-1zM653.2 54.5h1v1h-1zM668.5 65.8h1v1h-1zM642.2 61.1h1v1h-1zM657.2 59.0h1v1h-1zM651.4 71.5h1v1h-1zM647.8 42.4h1v1h-1zM649.3 69.1h1v1h-1zM661.7 48.8h1v1h-1zM680.1 61.1h1v1h-1zM662.0 67.1h1v1h-1zM633.0 57.2h1v1h-1zM658.1 51.9h1v1h-1zM674.5 66.8h1v1h-1zM672.0 56.5h1v1h-1zM636.3 69.4h1v1h-1zM664.9 64.6h1v1h-1zM653.0 79.4h1v1h-1zM672.2 58.4h1v1h-1zM647.3 66.1h1v1h-1zM660.3 67.2h1v1h-1zM656.6 62.7h1v1h-1zM633.0 84.6h1v1h-1zM647.5 67.8h1v1h-1zM656.0 48.8h1v1h-1zM642.0 68.4h1v1h-1zM667.1 66.0h1v1h-1zM627.7 72.3h1v1h-1zM673.0 43.1h1v1h-1zM660.8 55.7h1v1h-1zM643.3 47.1h1v1h-1zM644.1 60.9h1v1h-1zM634.6 64.6h1v1h-1zM647.9 58.6h1v1h-1zM679.4 69.3h1v1h-1zM664.1 47.1h1v1h-1zM659.4 60.5h1v1h-1zM663.0 53.9h1v1h-1zM663.4 62.3h1v1h-1zM643.3 65.5h1v1h-1zM655.2 66.9h1v1h-1zM674.0 57.7h1v1h-1zM635.3 59.9h1v1h-1zM639.0 65.4h1v1h-1zM639.2 55.1h1v1h-1zM674.7 65.2h1v1h-1zM663.5 52.2h1v1h-1zM650.3 74.0h1v1h-1zM655.3 41.6h1v1h-1zM628.9 66.3h1v1h-1zM657.4 66.8h1v1h-1zM668.9 64.2h1v1h-1zM683.9 51.0h1v1h-1zM663.6 55.0h1v1h-1zM644.6 57.5h1v1h-1zM632.7 63.9h1v1h-1zM652.6 45.0h1v1h-1zM646.1 65.1h1v1h-1zM637.1 56.9h1v1h-1zM658.5 70.1h1v1h-1zM658.0 58.4h1v1h-1zM682.2 66.4h1v1h-1zM638.6 55.3h1v1h-1zM643.0 75.5h1v1h-1zM642.5 63.7h1v1h-1zM651.7 45.9h1v1h-1zM661.3 55.9h1v1h-1zM679.3 61.4h1v1h-1zM662.4 64.6h1v1h-1zM662.5 44.8h1v1h-1zM655.5 57.8h1v1h-1zM646.7 62.2h1v1h-1zM634.4 60.5h1v1h-1zM628.9 70.3h1v1h-1zM637.9 53.0h1v1h-1zM645.7 63.9h1v1h-1zM636.3 59.7h1v1h-1zM652.5 47.5h1v1h-1zM648.2 71.0h1v1h-1zM642.7 62.9h1v1h-1zM644.3 66.6h1v1h-1zM671.0 57.9h1v1h-1zM658.9 65.8h1v1h-1zM647.2 68.5h1v1h-1zM634.0 52.3h1v1h-1zM634.7 80.8h1v1h-1zM646.8 71.3h1v1h-1zM637.6 63.9h1v1h-1zM658.4 65.7h1v1h-1zM636.2 61.2h1v1h-1zM662.4 56.9h1v1h-1zM634.9 64.3h1v1h-1zM663.4 59.8h1v1h-1zM664.2 52.3h1v1h-1zM647.4 68.3h1v1h-1zM667.5 59.2h1v1h-1zM643.4 50.4h1v1h-1zM685.0 57.0h1v1h-1zM678.6 57.7h1v1h-1zM648.3 61.2h1v1h-1zM667.8 65.3h1v1h-1zM633.5 55.8h1v1h-1zM653.2 70.0h1v1h-1zM646.7 57.6h1v1h-1zM663.2 44.0h1v1h-1zM653.5 52.8h1v1h-1zM650.4 65.8h1v1h-1zM658.2 61.9h1v1h-1zM638.2 62.7h1v1h-1zM628.6 72.0h1v1h-1zM669.5 48.3h1v1h-1zM643.8 66.6h1v1h-1zM685.4 56.2h1v1h-1zM630.2 69.2h1v1h-1zM673.9 63.1h1v1h-1zM640.8 57.9h1v1h-1zM646.2 50.0h1v1h-1zM629.1 69.2h1v1h-1zM682.5 49.6h1v1h-1zM664.1 48.5h1v1h-1zM640.0 70.0h1v1h-1zM653.1 69.3h1v1h-1zM668.2 53.0h1v1h-1zM643.7 68.9h1v1h-1zM652.6 59.3h1v1h-1zM651.6 55.3h1v1h-1zM672.4 42.3h1v1h-1zM651.2 72.6h1v1h-1zM664.5 66.2h1v1h-1zM654.2 54.4h1v1h-1zM642.1 60.9h1v1h-1z" fill="#ff0000" fill-opacity="0.3"/>
<path d="M648.1 96.1h1v1h-1zM648.2 85.4h1v1h-1zM642.5 89.5h1v1h-1zM656.5 101.3h1v1h-1zM674.3 99.4h1v1h-1zM633.7 86.8h1v1h-1zM652.1 106.4h1v1h-1zM644.4 97.3h1v1h-1zM645.3 98.9h1v1h-1zM648.3 101.4h1v1h-1zM652.9 102.4h1v1h-1zM642.6 100.7h1v1h-1zM657.1 99.9h1v1h-1zM650.3 101.4h1v1h-1zM659.6 95.8h1v1h-1zM666.3 92.0h1v1h-1zM677.2 84.4h1v1h-1zM655.9 102.4h1v1h-1zM651.3 100.9h1v1h-1zM648.5 102.4h1v1h-1zM666.7 86.4h1v1h-1zM630.1 96.5h1v1h-1zM636.9 97.8h1v1h-1zM661.6 84.7h1v1h-1zM656.4 93.5h1v1h-1zM659.7 89.4h1v1h-1zM658.4 94.9h1v1h-1zM627.0 89.9h1v1h-1zM668.2 98.2h1v1h-1zM660.3 100.5h1v1h-1zM650.4 86.4h1v1h-1zM660.8 88.6h1v1h-1zM628.2 97.4h1v1h-1zM666.5 96.0h1v1h-1zM640.4 81.2h1v1h-1zM659.3 104.9h1v1h-1zM644.3 98.4h1v1h-1zM634.6 89.4h1v1h-1zM659.6 97.8h1v1h-1zM642.0 89.3h1v1h-1zM654.1 96.4h1v1h-1zM648.5 95.7h1v1h-1zM668.1 92.5h1v1h-1zM671.6 98.1h1v1h-1zM660.7 85.0h1v1h-1zM642.4 94.6h1v1h-1zM640.0 103.0h1v1h-1zM666.5 103.4h1v1h-1zM648.6 85.5h1v1h-1zM619.4 100.2h1v1h-1zM643.5 82.3h1v1h-1zM646.3 107.4h1v1h-1zM650.6 93.2h1v1h-1zM663.5 96.7h1v1h-1zM647.3 100.2h1v1h-1zM632.1 78.4h1v1h-1zM638.1 107.0h1v1h-1zM666.1 81.4h1v1h-1zM664.6 83.3h1v1h-1zM654.3 100.6h1v1h-1zM640.5 98.1h1v1h-1zM629.8 107.5h1v1h-1zM681.5 101.8h1v1h-1zM636.9 92.5h1v1h-1zM644.2 95.3h1v1h-1zM659.2 93.6h1v1h-1zM665.4 116.8h1v1h-1zM678.2 102.7h1v1h-1zM641.5 100.3h1v1h-1zM630.1 91.7h1v1h-1zM674.2 87.9h1v1h-1zM645.8 91.9h1v1h-1zM662.0 96.2h1v1h-1zM650.2 90.6h1v1h-1zM639.2 101.7h1v1h-1zM636.5 91.4h1v1h-1zM666.7 101.3h1v1h-1zM654.5 104.2h1v1h-1zM632.6 101.1h1v1h-1zM658.8 107.8h1v1h-1zM652.2 87.0h1v1h-1zM657.7 85.0h1v1h-1zM644.8 88.7h1v1h-1zM668.1 101.5h1v1h-1zM638.4 97.0h1v1h-1zM648.9 87.7h1v1h-1zM665.8 96.4h1v1h-1zM675.8 98.1h1v1h-1zM650.9 92.8h1v1h-1zM637.4 90.1h1v1h-1zM644.0 97.2h1v1h-1zM661.8 100.1h1v1h-1zM641.3 99.0h1v1h-1zM662.3 116.2h1v1h-1zM663.9 87.8h1v1h-1zM643.7 90.2h1v1h-1zM668.9 91.4h1v1h-1zM672.7 88.3h1v1h-1zM655.2 101.8h1v1h-1zM656.3 106.8h1v1h-1zM654.5 100.9h1v1h-1zM664.2 108.3h1v1h-1zM643.0 85.4h1v1h-1zM657.6 93.9h1v1h-1zM651.6 97.8h1v1h-1zM654.7 89.7h1v1h-1zM656.4 99.6h1v1h-1zM659.2 82.1h1v1h-1zM657.3 84.7h1v1h-1zM660.3 88.3h1v1h-1zM644.7 107.5h1v1h-1zM660.4 99.7h1v1h-1zM659.3 94.6h1v1h-1zM671.0 94.4h1v1h-1zM650.1 103.8h1v1h-1zM646.7 98.6h1v1h-1zM665.1 91.5h1v1h-1zM677.5 103.9h1v1h-1zM656.2 103.8h1v1h-1zM650.1 80.1h1v1h-1zM658.7 100.6h1v1h-1zM666.9 98.2h1v1h-1zM655.0 100.3h1v1h-1zM652.8 92.5h1v1h-1zM665.9 100.9h1v1h-1zM667.0 97.7h1v1h-1zM665.2 94.9h1v1h-1zM621.7 91.4h1v1h-1zM663.1 103.7h1v1h-1zM639.8 100.6h1v1h-1zM638.7 99.1h1v1h-1zM681.6 100.4h1v1h-1zM661.2 104.8h1v1h-1zM660.4 95.9h1v1h-1zM648.9 91.2h1v1h-1zM640.0 94.4h1v1h-1zM649.3 110.2h1v1h-1zM654.7 94.4h1v1h-1zM683.1 95.3h1v1h-1zM651.1 98.3h1v1h-1zM658.2 93.2h1v1h-1zM646.1 103.5h1v1h-1zM645.0 90.0h1v1h-1zM652.6 94.0h1v1h-1zM651.7 94.3h1v1h-1zM653.7 97.1h1v1h-1zM662.3 82.7h1v1h-1zM674.0 108.6h1v1h-1zM644.6 99.4h1v1h-1zM641.1 95.4h1v1h-1zM675.3 106.7h1v1h-1zM653.7 114.7h1v1h-1zM663.1 76.6h1v1h-1zM652.7 111.9h1v1h-1zM660.2 108.6h1v1h-1zM657.8 102.4h1v1h-1zM685.0 96.9h1v1h-1zM654.3 104.6h1v1h-1zM676.8 112.9h1v1h-1zM666.0 107.7h1v1h-1zM619.3 93.5h1v1h-1zM651.3 105.6h1v1h-1zM635.4 97.2h1v1h-1zM620.9 98.3h1v1h-1zM677.5 88.5h1v1h-1zM651.9 90.2h1v1h-1zM658.8 84.5h1v1h-1zM660.6 98.0h1v1h-1zM634.2 103.5h1v1h-1zM670.3 97.6h1v1h-1zM666.1 94.1h1v1h-1zM651.6 109.1h1v1h-1zM653.5 95.5h1v1h-1zM633.5 82.6h1v1h-1zM638.9 112.4h1v1h-1zM646.4 104.2h1v1h-1zM663.5 89.5h1v1h-1zM651.0 94.4h1v1h-1zM658.5 101.0h1v1h-1zM657.4 107.8h1v1h-1zM656.0 106.7h1v1h-1zM671.2 81.3h1v1h-1zM659.9 86.6h1v1h-1zM661.4 97.6h1v1h-1zM658.0 101.4h1v1h-1zM649.0 94.7h1v1h-1zM664.6 101.4h1v1h-1zM666.1 100.0h1v1h-1zM671.2 87.6h1v1h-1zM658.4 100.1h1v1h-1zM640.5 97.6h1v1h-1zM638.6 75.7h1v1h-1zM627.0 103.0h1v1h-1zM667.4 102.2h1v1h-1zM647.7 100.6h1v1h-1zM627.3 90.3h1v1h-1zM663.0 99.4h1v1h-1zM639.8 100.1h1v1h-1zM672.2 95.7h1v1h-1zM684.9 95.2h1v1h-1zM655.9 93.6h1v1h-1zM660.9 99.9h1v1h-1zM637.6 85.4h1v1h-1zM664.9 108.5h1v1h-1zM653.8 90.5h1v1h-1zM653.6 97.2h1v1h-1zM646.9 106.0h1v1h-1zM650.7 91.8h1v1h-1zM647.0 90.3h1v1h-1zM678.2 103.4h1v1h-1zM669.4 95.1h1v1h-1zM662.5 99.2h1v1h-1zM666.3 104.4h1v1h-1zM669.9 95.5h1v1h-1zM663.0 88.1h1v1h-1zM663.3 93.7h1v1h-1zM632.3 97.2h1v1h-1zM664.3 105.0h1v1h-1zM650.6 93.0h1v1h-1zM640.5 102.2h1v1h-1zM676.8 94.7h1v1h-1zM661.3 104.3h1v1h-1zM644.7 100.9h1v1h-1zM665.3 97.9h1v1h-1zM653.4 90.5h1v1h-1zM659.5 95.0h1v1h-1zM661.2 101.5h1v1h-1zM652.4 107.2h1v1h-1zM637.6 92.4h1v1h-1zM648.7 97.7h1v1h-1zM640.4 102.9h1v1h-1zM655.6 99.7h1v1h-1zM637.4 93.6h1v1h-1zM657.9 99.3h1v1h-1zM664.7 97.5h1v1h-1zM650.0 71.9h1v1h-1zM660.1 96.1h1v1h-1zM651.3 99.0h1v1h-1zM646.8 99.9h1v1h-1zM661.4 99.1h1v1h-1zM634.6 96.0h1v1h-1zM656.2 96.4h1v1h-1zM657.8 97.2h1v1h-1zM645.7 115.1h1v1h-1zM643.2 89.0h1v1h-1zM664.3 103.1h1v1h-1zM669.7 103.0h1v1h-1zM631.4 88.8h1v1h-1zM674.8 103.8h1v1h-1zM648.8 99.5h1v1h-1zM642.5 92.1h1v1h-1zM656.3 102.6h1v1h-1zM670.7 80.9h1v1h-1zM664.4 103.5h1v1h-1zM655.0 103.6h1v1h-1zM660.8 99.3h1v1h-1zM629.5 102.4h1v1h-1zM642.4 86.4h1v1h-1zM643.1 100.8h1v1h-1zM657.9 97.2h1v1h-1zM655.9 104.0h1v1h-1zM687.5 101.9h1v1h-1zM648.2 96.4h1v1h-1zM664.6 90.8h1v1h-1zM649.3 97.2h1v1h-1zM679.9 100.0h1v1h-1zM634.7 89.7h1v1h-1zM671.2 85.2h1v1h-1zM627.4 85.9h1v1h-1zM655.8 99.6h1v1h-1zM635.6 93.6h1v1h-1zM658.5 99.2h1v1h-1zM643.8 101.4h1v1h-1zM654.8 107.5h1v1h-1zM652.9 100.2h1v1h-1zM673.5 97.8h1v1h-1zM654.0 93.7h1v1h-1zM661.6 82.6h1v1h-1zM640.8 97.8h1v1h-1zM663.4 111.1h1v1h-1zM673.3 100.1h1v1h-1zM644.9 83.6h1v1h-1zM670.9 77.2h1v1h-1zM679.1 89.5h1v1h-1zM666.3 102.0h1v1h-1zM668.2 99.6h1v1h-1zM652.5 96.8h1v1h-1zM629.0 87.6h1v1h-1zM642.3 99.1h1v1h-1z" fill="#ff0000" fill-opacity="0.3"/>
<path d="M615.7 62.7h1v1h-1zM622.5 65.1h1v1h-1zM620.4 58.1h1v1h-1zM622.6 67.3h1v1h-1zM618.7 60.4h1v1h-1zM626.8 60.5h1v1h-1zM619.0 52.9h1v1h-1zM623.5 62.9h1v1h-1zM619.6 65.6h1v1h-1zM620.8 60.8h1v1h-1zM627.3 52.2h1v1h-1zM620.6 66.2h1v1h-1zM617.7 61.3h1v1h-1zM620.9 63.1h1v1h-1zM616.8 60.2h1v1h-1zM619.0 52.7h1v1h-1zM617.9 61.6h1v1h-1zM618.5 62.1h1v1h-1zM626.1 54.8h1v1h-1zM619.3 57.7h1v1h-1zM619.3 55.0h1v1h-1zM616.9 58.1h1v1h-1zM619.8 57.7h1v1h-1zM619.0 67.2h1v1h-1zM621.1 59.7h1v1h-1zM621.6 61.2h1v1h-1zM616.7 70.8h1v1h-1zM619.8 66.4h1v1h-1zM625.2 48.3h1v1h-1zM626.1 57.4h1v1h-1zM619.2 54.1h1v1h-1zM623.7 61.8h1v1h-1zM614.8 43.9h1v1h-1zM625.7 66.2h1v1h-1zM621.9 58.7h1v1h-1z" fill="#ff0000" fill-opacity="0.3"/>
<path d="M623.6 85.5h1v1h-1zM627.8 84.9h1v1h-1zM628.2 84.2h1v1h-1zM628.4 83.2h1v1h-1zM633.1 83.7h1v1h-1zM627.1 81.5h1v1h-1zM623.2 88.8h1v1h-1zM626.2 85.5h1v1h-1zM628.2 83.8h1v1h-1zM628.1 83.1h1v1h-1zM624.7 87.2h1v1h-1zM626.2 89.0h1v1h-1zM629.5 80.0h1v1h-1zM624.9 86.2h1v1h-1zM622.6 89.7h1v1h-1zM630.9 81.8h1v1h-1zM628.1 84.7h1v1h-1zM627.6 81.9h1v1h-1zM626.7 82.6h1v1h-1zM620.4 85.3h1v1h-1zM629.3 80.4h1v1h-1zM624.4 88.5h1v1h-1zM628.3 87.5h1v1h-1zM619.2 91.6h1v1h-1zM632.0 80.9h1v1h-1zM627.1 86.0h1v1h-1zM622.1 92.1h1v1h-1zM630.0 82.7h1v1h-1zM623.0 88.0h1v1h-1zM631.8 78.5h1v1h-1zM627.9 84.1h1v1h-1zM632.3 79.6h1v1h-1zM622.5 86.2h1v1h-1zM626.8 85.4h1v1h-1zM626.2 82.5h1v1h-1zM625.1 84.2h1v1h-1zM620.8 90.1h1v1h-1zM630.9 84.6h1v1h-1zM629.6 81.3h1v1h-1zM624.8 88.0h1v1h-1zM623.9 84.2h1v1h-1zM620.3 87.9h1v1h-1zM628.1 83.5h1v1h-1zM625.3 88.9h1v1h-1zM621.4 89.4h1v1h-1zM624.1 84.3h1v1h-1zM624.5 84.8h1v1h-1zM625.9 87.4h1v1h-1zM624.0 88.1h1v1h-1zM623.8 89.5h1v1h-1zM619.6 91.8h1v1h-1zM621.3 91.0h1v1h-1zM615.8 93.4h1v1h-1zM629.3 81.9h1v1h-1zM617.4 92.3h1v1h-1zM626.9 86.4h1v1h-1zM627.6 84.8h1v1h-1zM623.1 89.6h1v1h-1zM628.7 79.9h1v1h-1zM626.5 84.9h1v1h-1zM621.6 87.9h1v1h-1zM622.1 86.1h1v1h-1zM627.3 82.6h1v1h-1zM632.6 79.3h1v1h-1zM629.7 80.6h1v1h-1zM627.2 79.6h1v1h-1zM624.2 88.4h1v1h-1zM623.3 86.1h1v1h-1zM629.8 81.4h1v1h-1zM621.3 90.8h1v1h-1zM623.9 89.7h1v1h-1zM617.7 90.7h1v1h-1zM622.6 90.5h1v1h-1zM629.3 81.2h1v1h-1zM621.9 95.7h1v1h-1zM625.1 86.3h1v1h-1zM624.9 86.2h1v1h-1zM617.5 94.8h1v1h-1zM627.2 86.7h1v1h-1zM625.6 88.4h1v1h-1zM629.7 82.0h1v1h-1zM625.4 84.4h1v1h-1zM625.0 89.2h1v1h-1zM619.5 89.4h1v1h-1zM630.3 80.4h1v1h-1zM622.2 89.1h1v1h-1zM621.5 91.2h1v1h-1zM621.1 90.1h1v1h-1zM620.9 90.8h1v1h-1zM633.1 79.5h1v1h-1z" fill="#ff0000" fill-opacity="0.45"/>
</g>
<rect x="603.75" y="33.30" width="85" height="84.2" fill="none" stroke="#666" stroke-width="0.9"/>
<line x1="628.45" y1="33.30" x2="628.45" y2="117.50" stroke="#555" stroke-width="1.1"/>
<line x1="603.75" y1="82.10" x2="688.75" y2="82.10" stroke="#555" stroke-width="1.1"/>
<text x="606.05" y="42.50" font-size="8.8" text-anchor="start" fill="#1a1a1a" textLength="21.00" lengthAdjust="spacingAndGlyphs" >0.86%</text>
<text x="685.95" y="42.50" font-size="8.8" text-anchor="end" fill="#1a1a1a" textLength="21.00" lengthAdjust="spacingAndGlyphs" >24.5%</text>
<text x="606.05" y="115.70" font-size="8.8" text-anchor="start" fill="#1a1a1a" textLength="21.00" lengthAdjust="spacingAndGlyphs" >69.4%</text>
<text x="685.95" y="115.70" font-size="8.8" text-anchor="end" fill="#1a1a1a" textLength="21.00" lengthAdjust="spacingAndGlyphs" >5.21%</text>
<path d="M601.5 93.3h2.2M602.5 85.8h1.2M602.5 81.4h1.2M602.5 78.2h1.2M602.5 75.8h1.2M602.5 73.8h1.2M602.5 72.2h1.2M602.5 70.7h1.2M602.5 69.4h1.2M601.5 68.3h2.2M602.5 61.0h1.2M602.5 56.8h1.2M602.5 53.8h1.2M602.5 51.5h1.2M602.5 49.5h1.2M602.5 47.9h1.2M602.5 46.5h1.2M602.5 45.3h1.2M601.5 44.2h2.2M602.5 36.9h1.2M602.5 95.3h1.2M602.5 99.3h1.2M602.5 103.3h1.2M602.5 106.3h1.2M602.5 109.3h1.2M602.5 110.8h1.2" stroke="#666" stroke-width="0.5" fill="none"/>
<text x="0" y="0" font-size="4.2" fill="#555" text-anchor="middle" style="stroke:none" transform="translate(598.5,44.2) rotate(-90)">10⁴</text>
<text x="0" y="0" font-size="4.2" fill="#555" text-anchor="middle" style="stroke:none" transform="translate(598.5,68.3) rotate(-90)">10³</text>
<text x="0" y="0" font-size="4.2" fill="#555" text-anchor="middle" style="stroke:none" transform="translate(598.5,93.3) rotate(-90)">10²</text>
<text x="0" y="0" font-size="4.2" fill="#555" text-anchor="middle" style="stroke:none" transform="translate(598.5,110.8) rotate(-90)">0</text>
<path d="M628.5 117.5v2.0M636.3 117.5v1.1M640.9 117.5v1.1M644.2 117.5v1.1M646.7 117.5v1.1M648.8 117.5v1.1M650.5 117.5v1.1M652.0 117.5v1.1M653.4 117.5v1.1M654.5 117.5v2.0M662.0 117.5v1.1M666.3 117.5v1.1M669.4 117.5v1.1M671.8 117.5v1.1M673.8 117.5v1.1M675.4 117.5v1.1M676.9 117.5v1.1M678.1 117.5v1.1M679.2 117.5v2.0M686.7 117.5v1.1M610.8 117.5v1.1M612.2 117.5v1.1M613.8 117.5v1.1M615.2 117.5v1.1M617.8 117.5v1.1M621.8 117.5v1.1M624.8 117.5v1.1" stroke="#666" stroke-width="0.5" fill="none"/>
<text x="613.2" y="128.3" font-size="4.2" fill="#555" text-anchor="middle" style="stroke:none">0</text>
<text x="628.5" y="128.3" font-size="4.2" fill="#555" text-anchor="middle" style="stroke:none">10²</text>
<text x="654.5" y="128.3" font-size="4.2" fill="#555" text-anchor="middle" style="stroke:none">10³</text>
<text x="679.2" y="128.3" font-size="4.2" fill="#555" text-anchor="middle" style="stroke:none">10⁴</text>
<line x1="273.30" y1="112.00" x2="273.30" y2="136.30" stroke="#111" stroke-width="1"/>
<line x1="273.30" y1="136.30" x2="297.00" y2="136.30" stroke="#111" stroke-width="1"/>
<path d="M273.3 107.5 L270.6 113 L276 113 Z" fill="#111"/>
<path d="M301.5 136.3 L296 133.6 L296 139 Z" fill="#111"/>
<text x="0" y="0" font-size="9" text-anchor="middle" fill="#1a1a1a" transform="translate(277.00,101.75) rotate(-90)">PI</text>
<text x="305.50" y="139.50" font-size="9" text-anchor="start" fill="#1a1a1a" textLength="66.50" lengthAdjust="spacingAndGlyphs" >Active caspase-1</text>
</svg></body></html>
